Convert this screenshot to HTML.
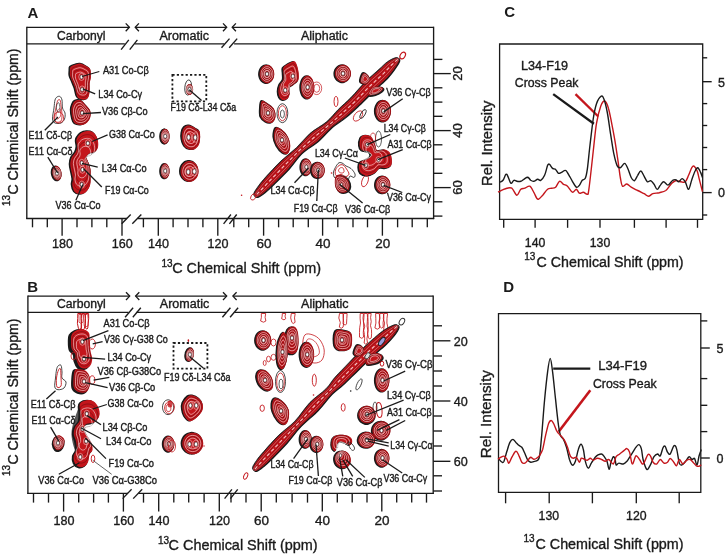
<!DOCTYPE html><html><head><meta charset="utf-8"><style>html,body{margin:0;padding:0;background:#fff;width:726px;height:554px;overflow:hidden}svg{display:block;will-change:transform}</style></head><body><svg width="726" height="554" viewBox="0 0 726 554" font-family="Liberation Sans, sans-serif">
<rect width="726" height="554" fill="#fff"/>
<text x="27.5" y="18.0" font-size="15" text-anchor="start" font-weight="bold" fill="#1a1a1a">A</text>
<line x1="26.8" y1="27.3" x2="129.4" y2="27.3" stroke="#1a1a1a" stroke-width="1.35" stroke-linecap="butt"/>
<polyline points="125.7,23.4 129.4,27.3 125.7,31.2" fill="none" stroke="#1a1a1a" stroke-width="1.3"/>
<line x1="135.2" y1="27.3" x2="226.7" y2="27.3" stroke="#1a1a1a" stroke-width="1.35" stroke-linecap="butt"/>
<polyline points="138.9,23.4 135.2,27.3 138.9,31.2" fill="none" stroke="#1a1a1a" stroke-width="1.3"/>
<polyline points="223.0,23.4 226.7,27.3 223.0,31.2" fill="none" stroke="#1a1a1a" stroke-width="1.3"/>
<line x1="232.2" y1="27.3" x2="433.6" y2="27.3" stroke="#1a1a1a" stroke-width="1.35" stroke-linecap="butt"/>
<polyline points="235.9,23.4 232.2,27.3 235.9,31.2" fill="none" stroke="#1a1a1a" stroke-width="1.3"/>
<line x1="26.8" y1="43.8" x2="124.8" y2="43.8" stroke="#1a1a1a" stroke-width="1.35" stroke-linecap="butt"/>
<line x1="134.6" y1="43.8" x2="224.3" y2="43.8" stroke="#1a1a1a" stroke-width="1.35" stroke-linecap="butt"/>
<line x1="234.1" y1="43.8" x2="433.6" y2="43.8" stroke="#1a1a1a" stroke-width="1.35" stroke-linecap="butt"/>
<line x1="121.1" y1="49.6" x2="128.8" y2="39.8" stroke="#1a1a1a" stroke-width="1.35" stroke-linecap="butt"/>
<line x1="129.7" y1="49.6" x2="137.4" y2="39.8" stroke="#1a1a1a" stroke-width="1.35" stroke-linecap="butt"/>
<line x1="221.5" y1="47.8" x2="229.5" y2="38.6" stroke="#1a1a1a" stroke-width="1.35" stroke-linecap="butt"/>
<line x1="229.2" y1="47.8" x2="237.2" y2="38.6" stroke="#1a1a1a" stroke-width="1.35" stroke-linecap="butt"/>
<line x1="26.8" y1="26.7" x2="26.8" y2="219.1" stroke="#1a1a1a" stroke-width="1.35" stroke-linecap="butt"/>
<line x1="433.6" y1="26.7" x2="433.6" y2="219.1" stroke="#1a1a1a" stroke-width="1.35" stroke-linecap="butt"/>
<text x="57.0" y="39.7" font-size="12" text-anchor="start" font-weight="normal" fill="#1a1a1a" stroke="#1a1a1a" stroke-width="0.35" textLength="48.5" lengthAdjust="spacingAndGlyphs">Carbonyl</text>
<text x="159.5" y="39.7" font-size="12" text-anchor="start" font-weight="normal" fill="#1a1a1a" stroke="#1a1a1a" stroke-width="0.35" textLength="49.5" lengthAdjust="spacingAndGlyphs">Aromatic</text>
<text x="301.0" y="39.7" font-size="12" text-anchor="start" font-weight="normal" fill="#1a1a1a" stroke="#1a1a1a" stroke-width="0.35" textLength="47.0" lengthAdjust="spacingAndGlyphs">Aliphatic</text>
<line x1="26.2" y1="218.5" x2="127.0" y2="218.5" stroke="#1a1a1a" stroke-width="1.35" stroke-linecap="butt"/>
<line x1="137.6" y1="218.5" x2="434.2" y2="218.5" stroke="#1a1a1a" stroke-width="1.35" stroke-linecap="butt"/>
<line x1="121.7" y1="223.8" x2="130.7" y2="214.5" stroke="#1a1a1a" stroke-width="1.35" stroke-linecap="butt"/>
<line x1="132.3" y1="223.8" x2="141.3" y2="214.5" stroke="#1a1a1a" stroke-width="1.35" stroke-linecap="butt"/>
<line x1="223.6" y1="223.8" x2="230.9" y2="214.5" stroke="#1a1a1a" stroke-width="1.35" stroke-linecap="butt"/>
<line x1="229.4" y1="223.8" x2="236.7" y2="214.5" stroke="#1a1a1a" stroke-width="1.35" stroke-linecap="butt"/>
<line x1="32.5" y1="218.5" x2="32.5" y2="227.3" stroke="#1a1a1a" stroke-width="1.35" stroke-linecap="butt"/>
<line x1="47.3" y1="218.5" x2="47.3" y2="227.3" stroke="#1a1a1a" stroke-width="1.35" stroke-linecap="butt"/>
<line x1="77.0" y1="218.5" x2="77.0" y2="227.3" stroke="#1a1a1a" stroke-width="1.35" stroke-linecap="butt"/>
<line x1="91.9" y1="218.5" x2="91.9" y2="227.3" stroke="#1a1a1a" stroke-width="1.35" stroke-linecap="butt"/>
<line x1="106.8" y1="218.5" x2="106.8" y2="227.3" stroke="#1a1a1a" stroke-width="1.35" stroke-linecap="butt"/>
<line x1="143.4" y1="218.5" x2="143.4" y2="227.3" stroke="#1a1a1a" stroke-width="1.35" stroke-linecap="butt"/>
<line x1="173.1" y1="218.5" x2="173.1" y2="227.3" stroke="#1a1a1a" stroke-width="1.35" stroke-linecap="butt"/>
<line x1="188.0" y1="218.5" x2="188.0" y2="227.3" stroke="#1a1a1a" stroke-width="1.35" stroke-linecap="butt"/>
<line x1="202.9" y1="218.5" x2="202.9" y2="227.3" stroke="#1a1a1a" stroke-width="1.35" stroke-linecap="butt"/>
<line x1="233.8" y1="218.5" x2="233.8" y2="227.3" stroke="#1a1a1a" stroke-width="1.35" stroke-linecap="butt"/>
<line x1="248.7" y1="218.5" x2="248.7" y2="227.3" stroke="#1a1a1a" stroke-width="1.35" stroke-linecap="butt"/>
<line x1="278.6" y1="218.5" x2="278.6" y2="227.3" stroke="#1a1a1a" stroke-width="1.35" stroke-linecap="butt"/>
<line x1="293.2" y1="218.5" x2="293.2" y2="227.3" stroke="#1a1a1a" stroke-width="1.35" stroke-linecap="butt"/>
<line x1="308.3" y1="218.5" x2="308.3" y2="227.3" stroke="#1a1a1a" stroke-width="1.35" stroke-linecap="butt"/>
<line x1="337.8" y1="218.5" x2="337.8" y2="227.3" stroke="#1a1a1a" stroke-width="1.35" stroke-linecap="butt"/>
<line x1="353.0" y1="218.5" x2="353.0" y2="227.3" stroke="#1a1a1a" stroke-width="1.35" stroke-linecap="butt"/>
<line x1="367.5" y1="218.5" x2="367.5" y2="227.3" stroke="#1a1a1a" stroke-width="1.35" stroke-linecap="butt"/>
<line x1="397.6" y1="218.5" x2="397.6" y2="227.3" stroke="#1a1a1a" stroke-width="1.35" stroke-linecap="butt"/>
<line x1="412.2" y1="218.5" x2="412.2" y2="227.3" stroke="#1a1a1a" stroke-width="1.35" stroke-linecap="butt"/>
<line x1="427.3" y1="218.5" x2="427.3" y2="227.3" stroke="#1a1a1a" stroke-width="1.35" stroke-linecap="butt"/>
<line x1="62.1" y1="218.5" x2="62.1" y2="235.7" stroke="#1a1a1a" stroke-width="1.35" stroke-linecap="butt"/>
<text x="62.4" y="248.4" font-size="13" text-anchor="middle" font-weight="normal" fill="#1a1a1a" stroke="#1a1a1a" stroke-width="0.35" textLength="21.0" lengthAdjust="spacingAndGlyphs">180</text>
<line x1="122.0" y1="218.5" x2="122.0" y2="235.7" stroke="#1a1a1a" stroke-width="1.35" stroke-linecap="butt"/>
<text x="122.3" y="248.4" font-size="13" text-anchor="middle" font-weight="normal" fill="#1a1a1a" stroke="#1a1a1a" stroke-width="0.35" textLength="21.0" lengthAdjust="spacingAndGlyphs">160</text>
<line x1="158.3" y1="218.5" x2="158.3" y2="235.7" stroke="#1a1a1a" stroke-width="1.35" stroke-linecap="butt"/>
<text x="158.6" y="248.4" font-size="13" text-anchor="middle" font-weight="normal" fill="#1a1a1a" stroke="#1a1a1a" stroke-width="0.35" textLength="21.0" lengthAdjust="spacingAndGlyphs">140</text>
<line x1="217.8" y1="218.5" x2="217.8" y2="235.7" stroke="#1a1a1a" stroke-width="1.35" stroke-linecap="butt"/>
<text x="218.1" y="248.4" font-size="13" text-anchor="middle" font-weight="normal" fill="#1a1a1a" stroke="#1a1a1a" stroke-width="0.35" textLength="21.0" lengthAdjust="spacingAndGlyphs">120</text>
<line x1="263.6" y1="218.5" x2="263.6" y2="235.7" stroke="#1a1a1a" stroke-width="1.35" stroke-linecap="butt"/>
<text x="263.9" y="248.4" font-size="13" text-anchor="middle" font-weight="normal" fill="#1a1a1a" stroke="#1a1a1a" stroke-width="0.35" textLength="15.0" lengthAdjust="spacingAndGlyphs">60</text>
<line x1="322.6" y1="218.5" x2="322.6" y2="235.7" stroke="#1a1a1a" stroke-width="1.35" stroke-linecap="butt"/>
<text x="322.9" y="248.4" font-size="13" text-anchor="middle" font-weight="normal" fill="#1a1a1a" stroke="#1a1a1a" stroke-width="0.35" textLength="15.0" lengthAdjust="spacingAndGlyphs">40</text>
<line x1="382.4" y1="218.5" x2="382.4" y2="235.7" stroke="#1a1a1a" stroke-width="1.35" stroke-linecap="butt"/>
<text x="382.7" y="248.4" font-size="13" text-anchor="middle" font-weight="normal" fill="#1a1a1a" stroke="#1a1a1a" stroke-width="0.35" textLength="15.0" lengthAdjust="spacingAndGlyphs">20</text>
<text x="161.5" y="266.7" font-size="10" text-anchor="start" font-weight="normal" fill="#1a1a1a" stroke="#1a1a1a" stroke-width="0.35">13</text>
<text x="172.2" y="273.0" font-size="14.8" text-anchor="start" font-weight="normal" fill="#1a1a1a" stroke="#1a1a1a" stroke-width="0.35" textLength="149.0" lengthAdjust="spacingAndGlyphs">C Chemical Shift (ppm)</text>
<line x1="433.6" y1="59.4" x2="442.4" y2="59.4" stroke="#1a1a1a" stroke-width="1.35" stroke-linecap="butt"/>
<line x1="433.6" y1="87.8" x2="442.4" y2="87.8" stroke="#1a1a1a" stroke-width="1.35" stroke-linecap="butt"/>
<line x1="433.6" y1="102.1" x2="442.4" y2="102.1" stroke="#1a1a1a" stroke-width="1.35" stroke-linecap="butt"/>
<line x1="433.6" y1="116.3" x2="442.4" y2="116.3" stroke="#1a1a1a" stroke-width="1.35" stroke-linecap="butt"/>
<line x1="433.6" y1="144.8" x2="442.4" y2="144.8" stroke="#1a1a1a" stroke-width="1.35" stroke-linecap="butt"/>
<line x1="433.6" y1="159.1" x2="442.4" y2="159.1" stroke="#1a1a1a" stroke-width="1.35" stroke-linecap="butt"/>
<line x1="433.6" y1="173.3" x2="442.4" y2="173.3" stroke="#1a1a1a" stroke-width="1.35" stroke-linecap="butt"/>
<line x1="433.6" y1="201.8" x2="442.4" y2="201.8" stroke="#1a1a1a" stroke-width="1.35" stroke-linecap="butt"/>
<line x1="433.6" y1="216.1" x2="442.4" y2="216.1" stroke="#1a1a1a" stroke-width="1.35" stroke-linecap="butt"/>
<line x1="433.6" y1="73.6" x2="450.8" y2="73.6" stroke="#1a1a1a" stroke-width="1.35" stroke-linecap="butt"/>
<text x="462.3" y="73.6" font-size="13" text-anchor="middle" font-weight="normal" fill="#1a1a1a" stroke="#1a1a1a" stroke-width="0.35" textLength="14.5" lengthAdjust="spacingAndGlyphs" transform="rotate(-90 462.3 73.6)">20</text>
<line x1="433.6" y1="130.6" x2="450.8" y2="130.6" stroke="#1a1a1a" stroke-width="1.35" stroke-linecap="butt"/>
<text x="462.3" y="130.6" font-size="13" text-anchor="middle" font-weight="normal" fill="#1a1a1a" stroke="#1a1a1a" stroke-width="0.35" textLength="14.5" lengthAdjust="spacingAndGlyphs" transform="rotate(-90 462.3 130.6)">40</text>
<line x1="433.6" y1="187.6" x2="450.8" y2="187.6" stroke="#1a1a1a" stroke-width="1.35" stroke-linecap="butt"/>
<text x="462.3" y="187.6" font-size="13" text-anchor="middle" font-weight="normal" fill="#1a1a1a" stroke="#1a1a1a" stroke-width="0.35" textLength="14.5" lengthAdjust="spacingAndGlyphs" transform="rotate(-90 462.3 187.6)">60</text>
<text x="10.2" y="206.0" font-size="10" text-anchor="start" font-weight="normal" fill="#1a1a1a" stroke="#1a1a1a" stroke-width="0.35" transform="rotate(-90 10.2 206.0)">13</text>
<text x="17.8" y="194.5" font-size="14.8" text-anchor="start" font-weight="normal" fill="#1a1a1a" stroke="#1a1a1a" stroke-width="0.35" textLength="146.0" lengthAdjust="spacingAndGlyphs" transform="rotate(-90 17.8 194.5)">C Chemical Shift (ppm)</text>
<text x="27.3" y="291.6" font-size="15" text-anchor="start" font-weight="bold" fill="#1a1a1a">B</text>
<line x1="27.9" y1="296.1" x2="129.7" y2="296.1" stroke="#1a1a1a" stroke-width="1.35" stroke-linecap="butt"/>
<polyline points="126.0,292.2 129.7,296.1 126.0,300.0" fill="none" stroke="#1a1a1a" stroke-width="1.3"/>
<line x1="135.6" y1="296.1" x2="226.7" y2="296.1" stroke="#1a1a1a" stroke-width="1.35" stroke-linecap="butt"/>
<polyline points="139.3,292.2 135.6,296.1 139.3,300.0" fill="none" stroke="#1a1a1a" stroke-width="1.3"/>
<polyline points="223.0,292.2 226.7,296.1 223.0,300.0" fill="none" stroke="#1a1a1a" stroke-width="1.3"/>
<line x1="232.9" y1="296.1" x2="433.2" y2="296.1" stroke="#1a1a1a" stroke-width="1.35" stroke-linecap="butt"/>
<polyline points="236.6,292.2 232.9,296.1 236.6,300.0" fill="none" stroke="#1a1a1a" stroke-width="1.3"/>
<line x1="27.9" y1="312.3" x2="128.5" y2="312.3" stroke="#1a1a1a" stroke-width="1.35" stroke-linecap="butt"/>
<line x1="136.2" y1="312.3" x2="226.1" y2="312.3" stroke="#1a1a1a" stroke-width="1.35" stroke-linecap="butt"/>
<line x1="234.4" y1="312.3" x2="433.2" y2="312.3" stroke="#1a1a1a" stroke-width="1.35" stroke-linecap="butt"/>
<line x1="125.1" y1="317.2" x2="133.1" y2="307.7" stroke="#1a1a1a" stroke-width="1.35" stroke-linecap="butt"/>
<line x1="132.8" y1="317.2" x2="140.8" y2="307.7" stroke="#1a1a1a" stroke-width="1.35" stroke-linecap="butt"/>
<line x1="222.4" y1="317.2" x2="230.4" y2="307.7" stroke="#1a1a1a" stroke-width="1.35" stroke-linecap="butt"/>
<line x1="230.1" y1="317.2" x2="238.1" y2="307.7" stroke="#1a1a1a" stroke-width="1.35" stroke-linecap="butt"/>
<line x1="27.9" y1="295.5" x2="27.9" y2="493.9" stroke="#1a1a1a" stroke-width="1.35" stroke-linecap="butt"/>
<line x1="433.2" y1="295.5" x2="433.2" y2="493.9" stroke="#1a1a1a" stroke-width="1.35" stroke-linecap="butt"/>
<text x="57.0" y="307.9" font-size="12" text-anchor="start" font-weight="normal" fill="#1a1a1a" stroke="#1a1a1a" stroke-width="0.35" textLength="48.8" lengthAdjust="spacingAndGlyphs">Carbonyl</text>
<text x="159.8" y="307.9" font-size="12" text-anchor="start" font-weight="normal" fill="#1a1a1a" stroke="#1a1a1a" stroke-width="0.35" textLength="49.5" lengthAdjust="spacingAndGlyphs">Aromatic</text>
<text x="301.0" y="307.9" font-size="12" text-anchor="start" font-weight="normal" fill="#1a1a1a" stroke="#1a1a1a" stroke-width="0.35" textLength="47.5" lengthAdjust="spacingAndGlyphs">Aliphatic</text>
<line x1="27.3" y1="493.3" x2="128.0" y2="493.3" stroke="#1a1a1a" stroke-width="1.35" stroke-linecap="butt"/>
<line x1="138.5" y1="493.3" x2="433.8" y2="493.3" stroke="#1a1a1a" stroke-width="1.35" stroke-linecap="butt"/>
<line x1="122.6" y1="498.6" x2="131.6" y2="489.3" stroke="#1a1a1a" stroke-width="1.35" stroke-linecap="butt"/>
<line x1="133.2" y1="498.6" x2="142.2" y2="489.3" stroke="#1a1a1a" stroke-width="1.35" stroke-linecap="butt"/>
<line x1="224.6" y1="498.6" x2="231.9" y2="489.3" stroke="#1a1a1a" stroke-width="1.35" stroke-linecap="butt"/>
<line x1="230.4" y1="498.6" x2="237.7" y2="489.3" stroke="#1a1a1a" stroke-width="1.35" stroke-linecap="butt"/>
<line x1="33.5" y1="493.3" x2="33.5" y2="502.6" stroke="#1a1a1a" stroke-width="1.35" stroke-linecap="butt"/>
<line x1="48.5" y1="493.3" x2="48.5" y2="502.6" stroke="#1a1a1a" stroke-width="1.35" stroke-linecap="butt"/>
<line x1="78.7" y1="493.3" x2="78.7" y2="502.6" stroke="#1a1a1a" stroke-width="1.35" stroke-linecap="butt"/>
<line x1="93.6" y1="493.3" x2="93.6" y2="502.6" stroke="#1a1a1a" stroke-width="1.35" stroke-linecap="butt"/>
<line x1="108.4" y1="493.3" x2="108.4" y2="502.6" stroke="#1a1a1a" stroke-width="1.35" stroke-linecap="butt"/>
<line x1="143.5" y1="493.3" x2="143.5" y2="502.6" stroke="#1a1a1a" stroke-width="1.35" stroke-linecap="butt"/>
<line x1="173.8" y1="493.3" x2="173.8" y2="502.6" stroke="#1a1a1a" stroke-width="1.35" stroke-linecap="butt"/>
<line x1="188.7" y1="493.3" x2="188.7" y2="502.6" stroke="#1a1a1a" stroke-width="1.35" stroke-linecap="butt"/>
<line x1="204.1" y1="493.3" x2="204.1" y2="502.6" stroke="#1a1a1a" stroke-width="1.35" stroke-linecap="butt"/>
<line x1="231.0" y1="493.3" x2="231.0" y2="502.6" stroke="#1a1a1a" stroke-width="1.35" stroke-linecap="butt"/>
<line x1="246.0" y1="493.3" x2="246.0" y2="502.6" stroke="#1a1a1a" stroke-width="1.35" stroke-linecap="butt"/>
<line x1="276.3" y1="493.3" x2="276.3" y2="502.6" stroke="#1a1a1a" stroke-width="1.35" stroke-linecap="butt"/>
<line x1="292.1" y1="493.3" x2="292.1" y2="502.6" stroke="#1a1a1a" stroke-width="1.35" stroke-linecap="butt"/>
<line x1="307.5" y1="493.3" x2="307.5" y2="502.6" stroke="#1a1a1a" stroke-width="1.35" stroke-linecap="butt"/>
<line x1="337.3" y1="493.3" x2="337.3" y2="502.6" stroke="#1a1a1a" stroke-width="1.35" stroke-linecap="butt"/>
<line x1="352.2" y1="493.3" x2="352.2" y2="502.6" stroke="#1a1a1a" stroke-width="1.35" stroke-linecap="butt"/>
<line x1="367.0" y1="493.3" x2="367.0" y2="502.6" stroke="#1a1a1a" stroke-width="1.35" stroke-linecap="butt"/>
<line x1="396.7" y1="493.3" x2="396.7" y2="502.6" stroke="#1a1a1a" stroke-width="1.35" stroke-linecap="butt"/>
<line x1="411.7" y1="493.3" x2="411.7" y2="502.6" stroke="#1a1a1a" stroke-width="1.35" stroke-linecap="butt"/>
<line x1="426.5" y1="493.3" x2="426.5" y2="502.6" stroke="#1a1a1a" stroke-width="1.35" stroke-linecap="butt"/>
<line x1="63.6" y1="493.3" x2="63.6" y2="511.6" stroke="#1a1a1a" stroke-width="1.35" stroke-linecap="butt"/>
<text x="63.9" y="525.0" font-size="13" text-anchor="middle" font-weight="normal" fill="#1a1a1a" stroke="#1a1a1a" stroke-width="0.35" textLength="21.0" lengthAdjust="spacingAndGlyphs">180</text>
<line x1="123.4" y1="493.3" x2="123.4" y2="511.6" stroke="#1a1a1a" stroke-width="1.35" stroke-linecap="butt"/>
<text x="123.7" y="525.0" font-size="13" text-anchor="middle" font-weight="normal" fill="#1a1a1a" stroke="#1a1a1a" stroke-width="0.35" textLength="21.0" lengthAdjust="spacingAndGlyphs">160</text>
<line x1="158.7" y1="493.3" x2="158.7" y2="511.6" stroke="#1a1a1a" stroke-width="1.35" stroke-linecap="butt"/>
<text x="159.0" y="525.0" font-size="13" text-anchor="middle" font-weight="normal" fill="#1a1a1a" stroke="#1a1a1a" stroke-width="0.35" textLength="21.0" lengthAdjust="spacingAndGlyphs">140</text>
<line x1="219.3" y1="493.3" x2="219.3" y2="511.6" stroke="#1a1a1a" stroke-width="1.35" stroke-linecap="butt"/>
<text x="219.6" y="525.0" font-size="13" text-anchor="middle" font-weight="normal" fill="#1a1a1a" stroke="#1a1a1a" stroke-width="0.35" textLength="21.0" lengthAdjust="spacingAndGlyphs">120</text>
<line x1="261.2" y1="493.3" x2="261.2" y2="511.6" stroke="#1a1a1a" stroke-width="1.35" stroke-linecap="butt"/>
<text x="261.5" y="525.0" font-size="13" text-anchor="middle" font-weight="normal" fill="#1a1a1a" stroke="#1a1a1a" stroke-width="0.35" textLength="15.0" lengthAdjust="spacingAndGlyphs">60</text>
<line x1="322.3" y1="493.3" x2="322.3" y2="511.6" stroke="#1a1a1a" stroke-width="1.35" stroke-linecap="butt"/>
<text x="322.6" y="525.0" font-size="13" text-anchor="middle" font-weight="normal" fill="#1a1a1a" stroke="#1a1a1a" stroke-width="0.35" textLength="15.0" lengthAdjust="spacingAndGlyphs">40</text>
<line x1="381.8" y1="493.3" x2="381.8" y2="511.6" stroke="#1a1a1a" stroke-width="1.35" stroke-linecap="butt"/>
<text x="382.1" y="525.0" font-size="13" text-anchor="middle" font-weight="normal" fill="#1a1a1a" stroke="#1a1a1a" stroke-width="0.35" textLength="15.0" lengthAdjust="spacingAndGlyphs">20</text>
<text x="157.9" y="543.9" font-size="10" text-anchor="start" font-weight="normal" fill="#1a1a1a" stroke="#1a1a1a" stroke-width="0.35">13</text>
<text x="168.6" y="550.2" font-size="14.8" text-anchor="start" font-weight="normal" fill="#1a1a1a" stroke="#1a1a1a" stroke-width="0.35" textLength="149.0" lengthAdjust="spacingAndGlyphs">C Chemical Shift (ppm)</text>
<line x1="433.2" y1="325.8" x2="442.0" y2="325.8" stroke="#1a1a1a" stroke-width="1.35" stroke-linecap="butt"/>
<line x1="433.2" y1="356.0" x2="442.0" y2="356.0" stroke="#1a1a1a" stroke-width="1.35" stroke-linecap="butt"/>
<line x1="433.2" y1="371.0" x2="442.0" y2="371.0" stroke="#1a1a1a" stroke-width="1.35" stroke-linecap="butt"/>
<line x1="433.2" y1="386.0" x2="442.0" y2="386.0" stroke="#1a1a1a" stroke-width="1.35" stroke-linecap="butt"/>
<line x1="433.2" y1="416.0" x2="442.0" y2="416.0" stroke="#1a1a1a" stroke-width="1.35" stroke-linecap="butt"/>
<line x1="433.2" y1="431.0" x2="442.0" y2="431.0" stroke="#1a1a1a" stroke-width="1.35" stroke-linecap="butt"/>
<line x1="433.2" y1="446.0" x2="442.0" y2="446.0" stroke="#1a1a1a" stroke-width="1.35" stroke-linecap="butt"/>
<line x1="433.2" y1="475.8" x2="442.0" y2="475.8" stroke="#1a1a1a" stroke-width="1.35" stroke-linecap="butt"/>
<line x1="433.2" y1="491.0" x2="442.0" y2="491.0" stroke="#1a1a1a" stroke-width="1.35" stroke-linecap="butt"/>
<line x1="433.2" y1="340.8" x2="450.4" y2="340.8" stroke="#1a1a1a" stroke-width="1.35" stroke-linecap="butt"/>
<text x="453.8" y="345.5" font-size="13" text-anchor="start" font-weight="normal" fill="#1a1a1a" stroke="#1a1a1a" stroke-width="0.35" textLength="14.0" lengthAdjust="spacingAndGlyphs">20</text>
<line x1="433.2" y1="401.0" x2="450.4" y2="401.0" stroke="#1a1a1a" stroke-width="1.35" stroke-linecap="butt"/>
<text x="453.8" y="405.7" font-size="13" text-anchor="start" font-weight="normal" fill="#1a1a1a" stroke="#1a1a1a" stroke-width="0.35" textLength="14.0" lengthAdjust="spacingAndGlyphs">40</text>
<line x1="433.2" y1="461.3" x2="450.4" y2="461.3" stroke="#1a1a1a" stroke-width="1.35" stroke-linecap="butt"/>
<text x="453.8" y="466.0" font-size="13" text-anchor="start" font-weight="normal" fill="#1a1a1a" stroke="#1a1a1a" stroke-width="0.35" textLength="14.0" lengthAdjust="spacingAndGlyphs">60</text>
<text x="10.2" y="476.0" font-size="10" text-anchor="start" font-weight="normal" fill="#1a1a1a" stroke="#1a1a1a" stroke-width="0.35" transform="rotate(-90 10.2 476.0)">13</text>
<text x="17.8" y="464.5" font-size="14.8" text-anchor="start" font-weight="normal" fill="#1a1a1a" stroke="#1a1a1a" stroke-width="0.35" textLength="146.0" lengthAdjust="spacingAndGlyphs" transform="rotate(-90 17.8 464.5)">C Chemical Shift (ppm)</text>
<path d="M70.7 66.8 C71.8 65.8 74.7 64.8 76.4 64.3 C78.1 63.8 79.1 63.4 80.8 63.7 C82.5 64.0 84.9 65.2 86.5 66.2 C88.1 67.2 89.6 67.6 90.3 69.4 C91.0 71.2 91.0 74.6 90.9 76.9 C90.8 79.2 89.9 80.9 89.7 83.2 C89.5 85.5 89.9 88.5 89.7 90.8 C89.5 93.1 89.2 95.6 88.4 97.1 C87.7 98.6 86.6 99.3 85.2 99.6 C83.8 99.9 81.6 99.6 80.2 99.0 C78.8 98.4 77.8 97.7 77.0 95.9 C76.2 94.1 75.8 90.6 75.1 88.3 C74.4 86.0 73.4 84.1 72.6 82.0 C71.8 79.9 70.5 77.6 70.1 75.7 C69.7 73.8 70.0 72.1 70.1 70.6 C70.2 69.1 69.7 67.8 70.7 66.8Z" transform="translate(-0.9 -0.2)" fill="#1a1a1a" stroke="#1a1a1a" stroke-width="1.4"/>
<path d="M70.7 66.8 C71.8 65.8 74.7 64.8 76.4 64.3 C78.1 63.8 79.1 63.4 80.8 63.7 C82.5 64.0 84.9 65.2 86.5 66.2 C88.1 67.2 89.6 67.6 90.3 69.4 C91.0 71.2 91.0 74.6 90.9 76.9 C90.8 79.2 89.9 80.9 89.7 83.2 C89.5 85.5 89.9 88.5 89.7 90.8 C89.5 93.1 89.2 95.6 88.4 97.1 C87.7 98.6 86.6 99.3 85.2 99.6 C83.8 99.9 81.6 99.6 80.2 99.0 C78.8 98.4 77.8 97.7 77.0 95.9 C76.2 94.1 75.8 90.6 75.1 88.3 C74.4 86.0 73.4 84.1 72.6 82.0 C71.8 79.9 70.5 77.6 70.1 75.7 C69.7 73.8 70.0 72.1 70.1 70.6 C70.2 69.1 69.7 67.8 70.7 66.8Z" fill="#c4161c"/>
<path d="M71.9 68.5 C72.8 67.5 75.5 66.7 76.9 66.3 C78.4 65.8 79.3 65.4 80.8 65.7 C82.3 66.0 84.4 67.1 85.8 67.9 C87.2 68.8 88.5 69.2 89.2 70.7 C89.8 72.3 89.8 75.3 89.7 77.3 C89.6 79.4 88.8 80.8 88.6 82.9 C88.5 84.9 88.8 87.5 88.6 89.6 C88.4 91.6 88.2 93.8 87.5 95.1 C86.8 96.4 85.9 97.0 84.7 97.3 C83.5 97.6 81.5 97.3 80.3 96.8 C79.1 96.2 78.2 95.6 77.5 94.1 C76.7 92.5 76.4 89.4 75.8 87.4 C75.1 85.3 74.3 83.7 73.6 81.8 C72.9 80.0 71.8 78.0 71.4 76.3 C71.0 74.6 71.3 73.1 71.4 71.8 C71.5 70.5 71.0 69.4 71.9 68.5Z" fill="none" stroke="#1a0304" stroke-width="0.45" opacity="0.65"/>
<path d="M73.1 70.1 C73.9 69.3 76.2 68.6 77.5 68.2 C78.7 67.8 79.5 67.5 80.8 67.8 C82.1 68.0 83.9 68.9 85.1 69.7 C86.3 70.4 87.5 70.7 88.0 72.1 C88.6 73.4 88.6 76.0 88.5 77.8 C88.4 79.5 87.7 80.8 87.6 82.6 C87.4 84.3 87.7 86.6 87.6 88.4 C87.4 90.1 87.2 92.0 86.6 93.1 C86.0 94.3 85.2 94.8 84.2 95.0 C83.1 95.3 81.4 95.1 80.4 94.6 C79.3 94.1 78.6 93.6 77.9 92.2 C77.3 90.9 77.0 88.2 76.5 86.5 C75.9 84.7 75.2 83.3 74.6 81.7 C73.9 80.1 73.0 78.3 72.7 76.9 C72.4 75.4 72.6 74.1 72.7 73.0 C72.8 71.9 72.3 70.9 73.1 70.1Z" fill="none" stroke="#fff" stroke-width="0.75" opacity="0.7"/>
<path d="M74.4 71.8 C75.0 71.1 76.9 70.5 78.0 70.2 C79.1 69.8 79.7 69.6 80.8 69.8 C81.9 70.0 83.5 70.8 84.5 71.4 C85.5 72.0 86.4 72.3 86.9 73.4 C87.4 74.6 87.3 76.8 87.3 78.2 C87.2 79.7 86.6 80.8 86.5 82.3 C86.4 83.7 86.7 85.6 86.5 87.1 C86.4 88.6 86.2 90.2 85.7 91.2 C85.2 92.1 84.5 92.6 83.6 92.8 C82.8 93.0 81.3 92.8 80.4 92.4 C79.6 92.0 78.9 91.5 78.4 90.4 C77.8 89.2 77.6 87.0 77.2 85.5 C76.7 84.0 76.1 82.8 75.6 81.5 C75.0 80.1 74.2 78.7 74.0 77.5 C73.7 76.2 73.9 75.1 74.0 74.2 C74.0 73.2 73.7 72.4 74.4 71.8Z" fill="none" stroke="#1a0304" stroke-width="0.45" opacity="0.65"/>
<path d="M75.8 73.7 C76.3 73.2 77.8 72.7 78.6 72.4 C79.5 72.2 80.0 72.0 80.8 72.1 C81.7 72.3 82.9 72.9 83.7 73.4 C84.5 73.9 85.2 74.1 85.6 75.0 C85.9 75.9 85.9 77.6 85.9 78.7 C85.8 79.9 85.4 80.7 85.3 81.9 C85.2 83.1 85.4 84.5 85.3 85.7 C85.2 86.9 85.0 88.1 84.6 88.8 C84.3 89.6 83.7 89.9 83.0 90.1 C82.3 90.3 81.2 90.1 80.5 89.8 C79.8 89.5 79.4 89.1 78.9 88.2 C78.5 87.4 78.3 85.6 78.0 84.4 C77.6 83.3 77.1 82.3 76.7 81.3 C76.3 80.2 75.7 79.1 75.5 78.1 C75.3 77.2 75.4 76.3 75.5 75.6 C75.5 74.9 75.3 74.2 75.8 73.7Z" fill="none" stroke="#fff" stroke-width="0.75" opacity="0.7"/>
<ellipse cx="81.5" cy="76.9" rx="2.7" ry="3.6" fill="none" stroke="#f2c0c0" stroke-width="0.6"/>
<ellipse cx="81.5" cy="76.9" rx="1.5" ry="2.0" fill="#fff" stroke="#333" stroke-width="0.6"/>
<ellipse cx="82.1" cy="89.5" rx="2.7" ry="3.6" fill="none" stroke="#f2c0c0" stroke-width="0.6"/>
<ellipse cx="82.1" cy="89.5" rx="1.5" ry="2.0" fill="#fff" stroke="#333" stroke-width="0.6"/>
<path d="M75.1 100.9 C76.5 100.2 78.9 99.5 80.8 100.3 C82.7 101.1 84.9 104.2 86.5 106.0 C88.1 107.8 89.7 109.1 90.3 111.0 C90.9 112.9 90.8 115.4 90.3 117.3 C89.8 119.2 88.6 121.1 87.1 122.4 C85.6 123.7 83.5 124.7 81.5 124.9 C79.5 125.1 76.6 124.6 75.1 123.6 C73.6 122.5 73.2 120.9 72.6 118.6 C72.0 116.3 71.4 112.0 71.4 109.7 C71.4 107.4 72.0 106.2 72.6 104.7 C73.2 103.2 73.7 101.6 75.1 100.9Z" transform="translate(-0.9 -0.2)" fill="#1a1a1a" stroke="#1a1a1a" stroke-width="1.4"/>
<path d="M75.1 100.9 C76.5 100.2 78.9 99.5 80.8 100.3 C82.7 101.1 84.9 104.2 86.5 106.0 C88.1 107.8 89.7 109.1 90.3 111.0 C90.9 112.9 90.8 115.4 90.3 117.3 C89.8 119.2 88.6 121.1 87.1 122.4 C85.6 123.7 83.5 124.7 81.5 124.9 C79.5 125.1 76.6 124.6 75.1 123.6 C73.6 122.5 73.2 120.9 72.6 118.6 C72.0 116.3 71.4 112.0 71.4 109.7 C71.4 107.4 72.0 106.2 72.6 104.7 C73.2 103.2 73.7 101.6 75.1 100.9Z" fill="#c4161c"/>
<path d="M75.8 102.1 C77.0 101.4 79.2 100.8 80.9 101.6 C82.6 102.3 84.6 105.1 86.1 106.7 C87.5 108.3 88.9 109.5 89.5 111.2 C90.0 112.9 90.0 115.2 89.5 116.9 C89.0 118.6 87.9 120.3 86.6 121.5 C85.3 122.6 83.4 123.5 81.6 123.7 C79.8 123.9 77.1 123.5 75.8 122.5 C74.5 121.6 74.1 120.1 73.5 118.0 C73.0 115.9 72.5 112.1 72.5 110.0 C72.5 107.9 73.0 106.8 73.5 105.5 C74.1 104.2 74.6 102.8 75.8 102.1Z" fill="none" stroke="#1a0304" stroke-width="0.45" opacity="0.65"/>
<path d="M76.5 103.3 C77.6 102.7 79.5 102.1 81.1 102.8 C82.6 103.5 84.4 106.0 85.6 107.4 C86.9 108.8 88.2 109.9 88.7 111.4 C89.2 112.9 89.1 114.9 88.7 116.4 C88.2 117.9 87.3 119.5 86.1 120.5 C84.9 121.5 83.2 122.3 81.6 122.5 C80.0 122.7 77.7 122.3 76.5 121.5 C75.3 120.6 75.0 119.3 74.5 117.5 C74.0 115.6 73.5 112.2 73.5 110.3 C73.5 108.5 74.0 107.5 74.5 106.3 C75.0 105.2 75.4 103.9 76.5 103.3Z" fill="none" stroke="#fff" stroke-width="0.75" opacity="0.7"/>
<path d="M77.2 104.5 C78.2 104.0 79.9 103.5 81.2 104.1 C82.5 104.7 84.1 106.8 85.2 108.1 C86.3 109.3 87.4 110.3 87.8 111.6 C88.3 112.9 88.2 114.7 87.8 116.0 C87.5 117.3 86.6 118.7 85.6 119.6 C84.6 120.4 83.1 121.2 81.7 121.3 C80.3 121.4 78.2 121.1 77.2 120.4 C76.2 119.7 75.9 118.5 75.4 116.9 C75.0 115.3 74.6 112.3 74.6 110.7 C74.6 109.0 75.0 108.2 75.4 107.2 C75.9 106.1 76.2 105.0 77.2 104.5Z" fill="none" stroke="#1a0304" stroke-width="0.45" opacity="0.65"/>
<path d="M77.9 105.7 C78.7 105.3 80.2 104.8 81.3 105.3 C82.5 105.9 83.8 107.7 84.7 108.8 C85.7 109.8 86.6 110.6 87.0 111.8 C87.4 112.9 87.3 114.4 87.0 115.5 C86.7 116.7 86.0 117.8 85.1 118.6 C84.2 119.4 82.9 120.0 81.7 120.1 C80.5 120.2 78.8 119.9 77.9 119.3 C77.0 118.7 76.8 117.7 76.4 116.3 C76.0 114.9 75.7 112.4 75.7 111.0 C75.7 109.6 76.0 108.9 76.4 108.0 C76.8 107.1 77.1 106.1 77.9 105.7Z" fill="none" stroke="#fff" stroke-width="0.75" opacity="0.7"/>
<path d="M78.6 106.9 C79.3 106.5 80.5 106.2 81.4 106.6 C82.4 107.0 83.5 108.6 84.3 109.5 C85.1 110.3 85.9 111.0 86.2 112.0 C86.5 112.9 86.5 114.1 86.2 115.1 C85.9 116.0 85.3 117.0 84.6 117.7 C83.9 118.3 82.8 118.8 81.8 118.9 C80.8 119.0 79.3 118.8 78.6 118.2 C77.9 117.7 77.7 116.9 77.3 115.8 C77.0 114.6 76.8 112.5 76.8 111.3 C76.8 110.1 77.0 109.5 77.3 108.8 C77.7 108.1 77.9 107.3 78.6 106.9Z" fill="none" stroke="#1a0304" stroke-width="0.45" opacity="0.65"/>
<path d="M79.3 108.1 C79.8 107.8 80.8 107.5 81.6 107.9 C82.3 108.2 83.2 109.4 83.9 110.1 C84.5 110.9 85.1 111.4 85.4 112.1 C85.6 112.9 85.6 113.9 85.4 114.7 C85.2 115.4 84.7 116.2 84.1 116.7 C83.5 117.2 82.7 117.6 81.9 117.7 C81.1 117.8 79.9 117.6 79.3 117.2 C78.7 116.8 78.5 116.1 78.3 115.2 C78.1 114.3 77.8 112.5 77.8 111.6 C77.8 110.7 78.1 110.2 78.3 109.6 C78.5 109.0 78.8 108.4 79.3 108.1Z" fill="none" stroke="#fff" stroke-width="0.75" opacity="0.7"/>
<path d="M80.0 109.3 C80.4 109.1 81.1 108.9 81.7 109.1 C82.3 109.4 82.9 110.3 83.4 110.8 C83.9 111.4 84.4 111.8 84.6 112.3 C84.8 112.9 84.7 113.7 84.6 114.2 C84.4 114.8 84.0 115.4 83.6 115.8 C83.2 116.1 82.5 116.4 81.9 116.5 C81.3 116.6 80.4 116.4 80.0 116.1 C79.6 115.8 79.4 115.3 79.2 114.6 C79.1 113.9 78.9 112.6 78.9 111.9 C78.9 111.2 79.1 110.9 79.2 110.4 C79.4 110.0 79.6 109.5 80.0 109.3Z" fill="none" stroke="#1a0304" stroke-width="0.45" opacity="0.65"/>
<ellipse cx="82.1" cy="112.9" rx="2.7" ry="3.6" fill="none" stroke="#f2c0c0" stroke-width="0.6"/>
<ellipse cx="82.1" cy="112.9" rx="1.5" ry="2.0" fill="#fff" stroke="#333" stroke-width="0.6"/>
<path d="M57.0 97.0 C57.8 96.4 59.2 96.0 60.0 96.5 C60.8 97.0 61.6 98.1 62.0 100.0 C62.4 101.9 62.0 105.8 62.5 108.0 C63.0 110.2 64.7 111.2 65.0 113.0 C65.3 114.8 65.2 117.3 64.5 119.0 C63.8 120.7 62.6 122.3 61.0 123.0 C59.4 123.7 56.4 123.7 55.0 123.0 C53.6 122.3 52.7 121.5 52.5 119.0 C52.3 116.5 53.6 111.2 54.0 108.0 C54.4 104.8 54.5 101.8 55.0 100.0 C55.5 98.2 56.2 97.6 57.0 97.0Z" fill="none" stroke="#1a1a1a" stroke-width="0.8"/>
<path d="M57.5 101.0 C58.2 99.3 59.4 99.2 60.0 100.0 C60.6 100.8 60.7 103.7 61.0 106.0 C61.3 108.3 62.0 111.5 62.0 114.0 C62.0 116.5 62.0 119.7 61.0 121.0 C60.0 122.3 57.2 122.5 56.0 122.0 C54.8 121.5 54.1 120.0 54.0 118.0 C53.9 116.0 54.9 112.8 55.5 110.0 C56.1 107.2 56.8 102.7 57.5 101.0Z" fill="none" stroke="#c4161c" stroke-width="0.8"/>
<path d="M58.0 110.0 C58.7 109.0 59.6 108.0 60.0 109.0 C60.4 110.0 61.0 114.3 60.5 116.0 C60.0 117.7 57.8 119.2 57.0 119.0 C56.2 118.8 55.8 116.5 56.0 115.0 C56.2 113.5 57.3 111.0 58.0 110.0Z" fill="none" stroke="#c4161c" stroke-width="0.7"/>
<path d="M55.0 114.0 C55.8 112.7 57.7 111.8 59.0 112.0 C60.3 112.2 62.3 113.5 63.0 115.0 C63.7 116.5 63.8 119.7 63.0 121.0 C62.2 122.3 59.4 123.2 58.0 123.0 C56.6 122.8 55.0 121.5 54.5 120.0 C54.0 118.5 54.2 115.3 55.0 114.0Z" fill="none" stroke="#c4161c" stroke-width="0.8"/>
<path d="M57.0 104.0 C57.4 103.0 58.5 102.0 59.0 103.0 C59.5 104.0 60.2 108.5 60.0 110.0 C59.8 111.5 58.6 112.2 58.0 112.0 C57.4 111.8 56.7 110.3 56.5 109.0 C56.3 107.7 56.6 105.0 57.0 104.0Z" fill="none" stroke="#1a1a1a" stroke-width="0.6"/>
<path d="M77.1 137.9 C77.9 136.5 79.5 134.2 81.2 133.1 C82.9 132.0 85.2 131.2 87.2 131.1 C89.2 131.0 91.6 131.2 93.3 132.4 C95.0 133.6 96.6 136.1 97.4 138.5 C98.2 140.9 98.5 144.4 98.1 146.7 C97.6 149.0 96.2 151.0 94.7 152.1 C93.2 153.2 90.7 152.5 89.3 153.4 C87.9 154.3 86.7 155.9 86.6 157.5 C86.5 159.1 87.9 160.9 88.6 162.9 C89.3 164.9 90.3 167.4 90.6 169.7 C90.9 172.0 90.6 174.5 90.6 176.5 C90.6 178.5 90.8 180.1 90.6 181.9 C90.4 183.7 90.2 185.5 89.3 187.3 C88.4 189.1 86.8 191.6 85.2 192.7 C83.6 193.8 81.6 194.3 79.8 194.1 C78.0 193.9 75.7 193.0 74.4 191.4 C73.2 189.8 72.5 186.6 72.3 184.6 C72.1 182.6 73.1 181.2 73.0 179.2 C72.9 177.2 72.2 174.9 71.7 172.4 C71.2 169.9 70.3 166.8 70.3 164.3 C70.3 161.8 70.8 159.5 71.7 157.5 C72.6 155.5 74.8 153.9 75.7 152.1 C76.6 150.3 77.0 148.5 77.1 146.7 C77.2 144.9 76.4 142.8 76.4 141.3 C76.4 139.8 76.3 139.3 77.1 137.9Z" transform="translate(-0.9 -0.2)" fill="#1a1a1a" stroke="#1a1a1a" stroke-width="1.4"/>
<path d="M77.1 137.9 C77.9 136.5 79.5 134.2 81.2 133.1 C82.9 132.0 85.2 131.2 87.2 131.1 C89.2 131.0 91.6 131.2 93.3 132.4 C95.0 133.6 96.6 136.1 97.4 138.5 C98.2 140.9 98.5 144.4 98.1 146.7 C97.6 149.0 96.2 151.0 94.7 152.1 C93.2 153.2 90.7 152.5 89.3 153.4 C87.9 154.3 86.7 155.9 86.6 157.5 C86.5 159.1 87.9 160.9 88.6 162.9 C89.3 164.9 90.3 167.4 90.6 169.7 C90.9 172.0 90.6 174.5 90.6 176.5 C90.6 178.5 90.8 180.1 90.6 181.9 C90.4 183.7 90.2 185.5 89.3 187.3 C88.4 189.1 86.8 191.6 85.2 192.7 C83.6 193.8 81.6 194.3 79.8 194.1 C78.0 193.9 75.7 193.0 74.4 191.4 C73.2 189.8 72.5 186.6 72.3 184.6 C72.1 182.6 73.1 181.2 73.0 179.2 C72.9 177.2 72.2 174.9 71.7 172.4 C71.2 169.9 70.3 166.8 70.3 164.3 C70.3 161.8 70.8 159.5 71.7 157.5 C72.6 155.5 74.8 153.9 75.7 152.1 C76.6 150.3 77.0 148.5 77.1 146.7 C77.2 144.9 76.4 142.8 76.4 141.3 C76.4 139.8 76.3 139.3 77.1 137.9Z" fill="#c4161c"/>
<path d="M77.8 140.7 C78.5 139.5 80.0 137.5 81.5 136.5 C82.9 135.5 85.0 134.8 86.7 134.7 C88.5 134.6 90.6 134.8 92.1 135.9 C93.6 137.0 95.0 139.2 95.7 141.3 C96.4 143.4 96.7 146.5 96.3 148.5 C95.9 150.5 94.6 152.2 93.3 153.2 C92.0 154.2 89.8 153.6 88.6 154.4 C87.4 155.2 86.3 156.6 86.2 158.0 C86.1 159.4 87.4 160.9 88.0 162.7 C88.5 164.5 89.4 166.7 89.7 168.7 C90.0 170.7 89.7 172.9 89.7 174.7 C89.7 176.5 89.9 177.9 89.7 179.5 C89.5 181.0 89.4 182.6 88.6 184.2 C87.8 185.8 86.4 188.0 85.0 189.0 C83.6 190.0 81.8 190.4 80.2 190.2 C78.6 190.0 76.6 189.2 75.5 187.8 C74.4 186.4 73.8 183.6 73.6 181.8 C73.4 180.0 74.3 178.9 74.2 177.1 C74.1 175.3 73.5 173.3 73.1 171.1 C72.7 168.9 71.9 166.1 71.9 164.0 C71.9 161.8 72.3 159.8 73.1 158.0 C73.9 156.2 75.8 154.8 76.6 153.2 C77.4 151.6 77.7 150.1 77.8 148.5 C77.9 146.9 77.2 145.0 77.2 143.7 C77.2 142.4 77.1 141.9 77.8 140.7Z" fill="none" stroke="#1a0304" stroke-width="0.45" opacity="0.65"/>
<path d="M78.6 143.6 C79.2 142.5 80.4 140.8 81.7 139.9 C83.0 139.1 84.7 138.5 86.3 138.4 C87.8 138.3 89.6 138.4 90.9 139.4 C92.2 140.3 93.4 142.2 94.0 144.0 C94.6 145.8 94.9 148.5 94.5 150.3 C94.2 152.0 93.1 153.5 92.0 154.4 C90.8 155.2 88.9 154.7 87.9 155.3 C86.8 156.0 85.9 157.3 85.8 158.5 C85.7 159.7 86.8 161.0 87.3 162.6 C87.8 164.1 88.6 166.0 88.8 167.7 C89.1 169.5 88.8 171.4 88.8 172.9 C88.8 174.4 89.0 175.6 88.8 177.0 C88.7 178.4 88.5 179.7 87.9 181.1 C87.2 182.5 85.9 184.3 84.7 185.2 C83.5 186.1 82.0 186.4 80.6 186.3 C79.3 186.1 77.5 185.4 76.5 184.2 C75.6 183.0 75.1 180.6 74.9 179.1 C74.8 177.5 75.5 176.5 75.5 175.0 C75.4 173.4 74.8 171.7 74.5 169.8 C74.1 167.9 73.4 165.5 73.4 163.6 C73.4 161.7 73.8 160.0 74.5 158.5 C75.2 156.9 76.8 155.7 77.5 154.4 C78.2 153.0 78.5 151.6 78.6 150.3 C78.7 148.9 78.1 147.3 78.1 146.1 C78.1 145.0 78.0 144.6 78.6 143.6Z" fill="none" stroke="#fff" stroke-width="0.75" opacity="0.7"/>
<path d="M79.3 146.4 C79.8 145.5 80.9 144.0 82.0 143.3 C83.0 142.6 84.5 142.1 85.8 142.0 C87.1 142.0 88.6 142.1 89.7 142.9 C90.8 143.7 91.8 145.3 92.3 146.8 C92.8 148.3 93.1 150.6 92.8 152.0 C92.5 153.5 91.5 154.8 90.6 155.5 C89.7 156.2 88.0 155.7 87.1 156.3 C86.3 156.9 85.5 157.9 85.4 158.9 C85.3 160.0 86.3 161.1 86.7 162.4 C87.1 163.7 87.8 165.3 88.0 166.7 C88.2 168.2 88.0 169.8 88.0 171.1 C88.0 172.4 88.1 173.4 88.0 174.6 C87.8 175.7 87.7 176.9 87.1 178.0 C86.6 179.2 85.5 180.7 84.5 181.5 C83.5 182.2 82.2 182.5 81.1 182.4 C79.9 182.2 78.4 181.6 77.6 180.6 C76.8 179.6 76.4 177.6 76.3 176.3 C76.1 175.0 76.8 174.1 76.7 172.8 C76.6 171.5 76.2 170.1 75.9 168.5 C75.6 166.9 75.0 164.9 75.0 163.3 C75.0 161.7 75.3 160.2 75.9 158.9 C76.4 157.6 77.9 156.6 78.4 155.5 C79.0 154.3 79.3 153.2 79.3 152.0 C79.4 150.9 78.9 149.5 78.9 148.6 C78.9 147.6 78.8 147.3 79.3 146.4Z" fill="none" stroke="#1a0304" stroke-width="0.45" opacity="0.65"/>
<path d="M80.2 149.7 C80.6 149.0 81.4 147.9 82.2 147.3 C83.1 146.7 84.2 146.4 85.2 146.3 C86.3 146.2 87.4 146.3 88.3 146.9 C89.1 147.6 89.9 148.8 90.3 150.0 C90.7 151.2 90.9 153.0 90.7 154.1 C90.5 155.2 89.7 156.2 89.0 156.8 C88.3 157.4 87.0 157.0 86.3 157.4 C85.6 157.9 85.0 158.7 84.9 159.5 C84.9 160.3 85.6 161.2 85.9 162.2 C86.3 163.2 86.8 164.5 86.9 165.6 C87.1 166.7 86.9 168.0 86.9 169.0 C86.9 170.0 87.1 170.8 86.9 171.7 C86.8 172.6 86.7 173.5 86.3 174.4 C85.8 175.3 85.0 176.5 84.2 177.1 C83.5 177.7 82.4 177.9 81.5 177.8 C80.6 177.7 79.5 177.2 78.8 176.4 C78.2 175.7 77.9 174.1 77.8 173.0 C77.7 172.0 78.2 171.4 78.1 170.3 C78.1 169.3 77.7 168.2 77.5 166.9 C77.3 165.7 76.8 164.1 76.8 162.9 C76.8 161.7 77.0 160.5 77.5 159.5 C77.9 158.5 79.0 157.7 79.5 156.8 C79.9 155.9 80.1 155.0 80.2 154.1 C80.3 153.2 79.8 152.1 79.8 151.4 C79.8 150.7 79.8 150.4 80.2 149.7Z" fill="none" stroke="#fff" stroke-width="0.75" opacity="0.7"/>
<ellipse cx="87.9" cy="143.3" rx="2.7" ry="3.6" fill="none" stroke="#f2c0c0" stroke-width="0.6"/>
<ellipse cx="87.9" cy="143.3" rx="1.5" ry="2.0" fill="#fff" stroke="#333" stroke-width="0.6"/>
<ellipse cx="81.8" cy="162.9" rx="2.7" ry="3.6" fill="none" stroke="#f2c0c0" stroke-width="0.6"/>
<ellipse cx="81.8" cy="162.9" rx="1.5" ry="2.0" fill="#fff" stroke="#333" stroke-width="0.6"/>
<ellipse cx="82.5" cy="169.7" rx="2.7" ry="3.6" fill="none" stroke="#f2c0c0" stroke-width="0.6"/>
<ellipse cx="82.5" cy="169.7" rx="1.5" ry="2.0" fill="#fff" stroke="#333" stroke-width="0.6"/>
<ellipse cx="81.8" cy="184.6" rx="2.7" ry="3.6" fill="none" stroke="#f2c0c0" stroke-width="0.6"/>
<ellipse cx="81.8" cy="184.6" rx="1.5" ry="2.0" fill="#fff" stroke="#333" stroke-width="0.6"/>
<path d="M61.5 172.4 C61.7 173.4 61.7 174.6 61.6 175.6 C61.5 176.5 61.2 177.5 60.8 178.2 C60.4 179.0 59.8 179.6 59.2 179.9 C58.6 180.3 57.9 180.4 57.2 180.3 C56.5 180.2 55.8 179.8 55.2 179.2 C54.5 178.7 53.9 177.9 53.5 177.0 C53.0 176.1 52.7 175.0 52.5 174.0 C52.3 173.0 52.3 171.8 52.4 170.8 C52.5 169.9 52.8 168.9 53.2 168.2 C53.6 167.4 54.2 166.8 54.8 166.5 C55.4 166.1 56.1 166.0 56.8 166.1 C57.5 166.2 58.2 166.6 58.8 167.2 C59.5 167.7 60.1 168.5 60.5 169.4 C61.0 170.3 61.3 171.4 61.5 172.4Z" transform="translate(-0.9 0.2)" fill="#1a1a1a" stroke="#1a1a1a" stroke-width="1.4"/>
<path d="M61.5 172.4 C61.7 173.4 61.7 174.6 61.6 175.6 C61.5 176.5 61.2 177.5 60.8 178.2 C60.4 179.0 59.8 179.6 59.2 179.9 C58.6 180.3 57.9 180.4 57.2 180.3 C56.5 180.2 55.8 179.8 55.2 179.2 C54.5 178.7 53.9 177.9 53.5 177.0 C53.0 176.1 52.7 175.0 52.5 174.0 C52.3 173.0 52.3 171.8 52.4 170.8 C52.5 169.9 52.8 168.9 53.2 168.2 C53.6 167.4 54.2 166.8 54.8 166.5 C55.4 166.1 56.1 166.0 56.8 166.1 C57.5 166.2 58.2 166.6 58.8 167.2 C59.5 167.7 60.1 168.5 60.5 169.4 C61.0 170.3 61.3 171.4 61.5 172.4Z" fill="#c4161c"/>
<path d="M61.1 172.5 C61.2 173.4 61.3 174.4 61.2 175.3 C61.1 176.2 60.8 177.1 60.4 177.7 C60.1 178.4 59.5 179.0 59.0 179.3 C58.5 179.6 57.8 179.7 57.2 179.6 C56.6 179.5 55.9 179.1 55.3 178.6 C54.8 178.1 54.2 177.4 53.8 176.6 C53.4 175.8 53.1 174.8 52.9 173.9 C52.8 173.0 52.7 172.0 52.8 171.1 C52.9 170.2 53.2 169.3 53.6 168.7 C53.9 168.0 54.5 167.4 55.0 167.1 C55.5 166.8 56.2 166.7 56.8 166.8 C57.4 166.9 58.1 167.3 58.7 167.8 C59.2 168.3 59.8 169.0 60.2 169.8 C60.6 170.6 60.9 171.6 61.1 172.5Z" fill="none" stroke="#1a0304" stroke-width="0.45" opacity="0.65"/>
<path d="M60.6 172.6 C60.8 173.4 60.8 174.3 60.7 175.1 C60.6 175.9 60.4 176.7 60.0 177.2 C59.7 177.8 59.3 178.3 58.8 178.6 C58.3 178.9 57.7 179.0 57.2 178.9 C56.6 178.8 56.0 178.5 55.5 178.0 C55.0 177.6 54.5 176.9 54.2 176.2 C53.8 175.5 53.5 174.7 53.4 173.8 C53.2 173.0 53.2 172.1 53.3 171.3 C53.4 170.5 53.6 169.7 54.0 169.2 C54.3 168.6 54.7 168.1 55.2 167.8 C55.7 167.5 56.3 167.4 56.8 167.5 C57.4 167.6 58.0 167.9 58.5 168.4 C59.0 168.8 59.5 169.5 59.8 170.2 C60.2 170.9 60.5 171.7 60.6 172.6Z" fill="none" stroke="#fff" stroke-width="0.75" opacity="0.7"/>
<path d="M60.2 172.6 C60.3 173.4 60.3 174.2 60.2 174.8 C60.2 175.5 59.9 176.2 59.7 176.7 C59.4 177.2 59.0 177.7 58.6 177.9 C58.1 178.2 57.6 178.2 57.1 178.2 C56.7 178.1 56.1 177.8 55.7 177.4 C55.3 177.0 54.8 176.5 54.5 175.9 C54.2 175.2 54.0 174.5 53.8 173.8 C53.7 173.0 53.7 172.2 53.8 171.6 C53.8 170.9 54.1 170.2 54.3 169.7 C54.6 169.2 55.0 168.7 55.4 168.5 C55.9 168.2 56.4 168.2 56.9 168.2 C57.3 168.3 57.9 168.6 58.3 169.0 C58.7 169.4 59.2 169.9 59.5 170.5 C59.8 171.2 60.0 171.9 60.2 172.6Z" fill="none" stroke="#1a0304" stroke-width="0.45" opacity="0.65"/>
<path d="M59.7 172.7 C59.8 173.3 59.8 174.0 59.8 174.6 C59.7 175.2 59.5 175.8 59.3 176.2 C59.0 176.7 58.7 177.0 58.3 177.2 C58.0 177.4 57.5 177.5 57.1 177.5 C56.7 177.4 56.3 177.2 55.9 176.8 C55.5 176.5 55.1 176.0 54.9 175.5 C54.6 175.0 54.4 174.3 54.3 173.7 C54.2 173.1 54.2 172.4 54.2 171.8 C54.3 171.2 54.5 170.6 54.7 170.2 C55.0 169.7 55.3 169.4 55.7 169.2 C56.0 169.0 56.5 168.9 56.9 168.9 C57.3 169.0 57.7 169.2 58.1 169.6 C58.5 169.9 58.9 170.4 59.1 170.9 C59.4 171.4 59.6 172.1 59.7 172.7Z" fill="none" stroke="#fff" stroke-width="0.75" opacity="0.7"/>
<path d="M59.3 172.8 C59.4 173.3 59.4 173.9 59.3 174.4 C59.3 174.9 59.1 175.4 58.9 175.7 C58.7 176.1 58.4 176.4 58.1 176.6 C57.8 176.7 57.4 176.8 57.1 176.7 C56.8 176.7 56.4 176.5 56.1 176.2 C55.8 175.9 55.5 175.5 55.2 175.1 C55.0 174.7 54.8 174.1 54.7 173.6 C54.6 173.1 54.6 172.5 54.7 172.0 C54.7 171.5 54.9 171.0 55.1 170.7 C55.3 170.3 55.6 170.0 55.9 169.8 C56.2 169.7 56.6 169.6 56.9 169.7 C57.2 169.7 57.6 169.9 57.9 170.2 C58.2 170.5 58.5 170.9 58.8 171.3 C59.0 171.7 59.2 172.3 59.3 172.8Z" fill="none" stroke="#1a0304" stroke-width="0.45" opacity="0.65"/>
<path d="M58.8 172.9 C58.9 173.3 58.9 173.8 58.8 174.1 C58.8 174.5 58.7 174.9 58.5 175.2 C58.4 175.5 58.1 175.8 57.9 175.9 C57.7 176.0 57.4 176.1 57.1 176.0 C56.8 176.0 56.5 175.8 56.3 175.6 C56.0 175.4 55.8 175.1 55.6 174.7 C55.4 174.4 55.3 173.9 55.2 173.5 C55.1 173.1 55.1 172.6 55.2 172.3 C55.2 171.9 55.3 171.5 55.5 171.2 C55.6 170.9 55.9 170.6 56.1 170.5 C56.3 170.4 56.6 170.3 56.9 170.4 C57.2 170.4 57.5 170.6 57.7 170.8 C58.0 171.0 58.2 171.3 58.4 171.7 C58.6 172.0 58.7 172.5 58.8 172.9Z" fill="none" stroke="#fff" stroke-width="0.75" opacity="0.7"/>
<path d="M58.4 173.0 C58.4 173.3 58.4 173.6 58.4 173.9 C58.4 174.2 58.3 174.5 58.1 174.7 C58.0 174.9 57.8 175.1 57.7 175.2 C57.5 175.3 57.3 175.4 57.1 175.3 C56.9 175.3 56.6 175.2 56.4 175.0 C56.3 174.8 56.1 174.6 55.9 174.3 C55.8 174.1 55.7 173.7 55.6 173.4 C55.6 173.1 55.6 172.8 55.6 172.5 C55.6 172.2 55.7 171.9 55.9 171.7 C56.0 171.5 56.2 171.3 56.3 171.2 C56.5 171.1 56.7 171.0 56.9 171.1 C57.1 171.1 57.4 171.2 57.6 171.4 C57.7 171.6 57.9 171.8 58.1 172.1 C58.2 172.3 58.3 172.7 58.4 173.0Z" fill="none" stroke="#1a0304" stroke-width="0.45" opacity="0.65"/>
<ellipse cx="57.0" cy="173.2" rx="2.7" ry="3.6" fill="none" stroke="#f2c0c0" stroke-width="0.6"/>
<ellipse cx="57.0" cy="173.2" rx="1.5" ry="2.0" fill="#fff" stroke="#333" stroke-width="0.6"/>
<path d="M169.6 136.3 C169.6 137.4 169.4 138.5 169.2 139.5 C168.9 140.5 168.4 141.4 167.9 142.1 C167.4 142.8 166.8 143.3 166.2 143.5 C165.6 143.8 164.8 143.8 164.2 143.5 C163.6 143.3 163.0 142.8 162.5 142.1 C162.0 141.4 161.5 140.5 161.2 139.5 C161.0 138.5 160.8 137.4 160.8 136.3 C160.8 135.2 161.0 134.1 161.2 133.1 C161.5 132.1 162.0 131.2 162.5 130.5 C163.0 129.8 163.6 129.3 164.2 129.1 C164.8 128.8 165.6 128.8 166.2 129.1 C166.8 129.3 167.4 129.8 167.9 130.5 C168.4 131.2 168.9 132.1 169.2 133.1 C169.4 134.1 169.6 135.2 169.6 136.3Z" transform="translate(-0.9 0.2)" fill="#1a1a1a" stroke="#1a1a1a" stroke-width="1.4"/>
<path d="M169.6 136.3 C169.6 137.4 169.4 138.5 169.2 139.5 C168.9 140.5 168.4 141.4 167.9 142.1 C167.4 142.8 166.8 143.3 166.2 143.5 C165.6 143.8 164.8 143.8 164.2 143.5 C163.6 143.3 163.0 142.8 162.5 142.1 C162.0 141.4 161.5 140.5 161.2 139.5 C161.0 138.5 160.8 137.4 160.8 136.3 C160.8 135.2 161.0 134.1 161.2 133.1 C161.5 132.1 162.0 131.2 162.5 130.5 C163.0 129.8 163.6 129.3 164.2 129.1 C164.8 128.8 165.6 128.8 166.2 129.1 C166.8 129.3 167.4 129.8 167.9 130.5 C168.4 131.2 168.9 132.1 169.2 133.1 C169.4 134.1 169.6 135.2 169.6 136.3Z" fill="#c4161c"/>
<path d="M169.2 136.3 C169.2 137.3 169.0 138.3 168.8 139.2 C168.5 140.1 168.1 140.9 167.7 141.5 C167.2 142.1 166.6 142.6 166.1 142.8 C165.5 143.0 164.9 143.0 164.3 142.8 C163.8 142.6 163.2 142.1 162.7 141.5 C162.3 140.9 161.9 140.1 161.6 139.2 C161.4 138.3 161.2 137.3 161.2 136.3 C161.2 135.3 161.4 134.3 161.6 133.4 C161.9 132.5 162.3 131.7 162.7 131.1 C163.2 130.5 163.8 130.0 164.3 129.8 C164.9 129.6 165.5 129.6 166.1 129.8 C166.6 130.0 167.2 130.5 167.7 131.1 C168.1 131.7 168.5 132.5 168.8 133.4 C169.0 134.3 169.2 135.3 169.2 136.3Z" fill="none" stroke="#1a0304" stroke-width="0.45" opacity="0.65"/>
<path d="M168.7 136.3 C168.7 137.2 168.6 138.1 168.4 138.9 C168.2 139.6 167.8 140.4 167.4 140.9 C167.0 141.5 166.5 141.9 166.0 142.1 C165.5 142.3 164.9 142.3 164.4 142.1 C163.9 141.9 163.4 141.5 163.0 140.9 C162.6 140.4 162.2 139.6 162.0 138.9 C161.8 138.1 161.7 137.2 161.7 136.3 C161.7 135.4 161.8 134.5 162.0 133.7 C162.2 133.0 162.6 132.2 163.0 131.7 C163.4 131.1 163.9 130.7 164.4 130.5 C164.9 130.3 165.5 130.3 166.0 130.5 C166.5 130.7 167.0 131.1 167.4 131.7 C167.8 132.2 168.2 133.0 168.4 133.7 C168.6 134.5 168.7 135.4 168.7 136.3Z" fill="none" stroke="#fff" stroke-width="0.75" opacity="0.7"/>
<path d="M168.3 136.3 C168.3 137.0 168.2 137.9 168.0 138.5 C167.8 139.2 167.5 139.9 167.1 140.3 C166.8 140.8 166.3 141.2 165.9 141.4 C165.5 141.5 164.9 141.5 164.5 141.4 C164.1 141.2 163.6 140.8 163.3 140.3 C162.9 139.9 162.6 139.2 162.4 138.5 C162.2 137.9 162.1 137.0 162.1 136.3 C162.1 135.6 162.2 134.7 162.4 134.1 C162.6 133.4 162.9 132.7 163.3 132.3 C163.6 131.8 164.1 131.4 164.5 131.2 C164.9 131.1 165.5 131.1 165.9 131.2 C166.3 131.4 166.8 131.8 167.1 132.3 C167.5 132.7 167.8 133.4 168.0 134.1 C168.2 134.7 168.3 135.6 168.3 136.3Z" fill="none" stroke="#1a0304" stroke-width="0.45" opacity="0.65"/>
<path d="M167.8 136.3 C167.8 136.9 167.7 137.6 167.6 138.2 C167.4 138.8 167.1 139.4 166.8 139.8 C166.5 140.2 166.2 140.5 165.8 140.6 C165.4 140.8 165.0 140.8 164.6 140.6 C164.2 140.5 163.9 140.2 163.6 139.8 C163.3 139.4 163.0 138.8 162.8 138.2 C162.7 137.6 162.6 136.9 162.6 136.3 C162.6 135.7 162.7 135.0 162.8 134.4 C163.0 133.8 163.3 133.2 163.6 132.8 C163.9 132.4 164.2 132.1 164.6 132.0 C165.0 131.8 165.4 131.8 165.8 132.0 C166.2 132.1 166.5 132.4 166.8 132.8 C167.1 133.2 167.4 133.8 167.6 134.4 C167.7 135.0 167.8 135.7 167.8 136.3Z" fill="none" stroke="#fff" stroke-width="0.75" opacity="0.7"/>
<path d="M167.4 136.3 C167.4 136.8 167.3 137.4 167.2 137.9 C167.0 138.4 166.8 138.9 166.6 139.2 C166.3 139.5 166.0 139.8 165.7 139.9 C165.4 140.0 165.0 140.0 164.7 139.9 C164.4 139.8 164.1 139.5 163.8 139.2 C163.6 138.9 163.4 138.4 163.2 137.9 C163.1 137.4 163.0 136.8 163.0 136.3 C163.0 135.8 163.1 135.2 163.2 134.7 C163.4 134.2 163.6 133.7 163.8 133.4 C164.1 133.1 164.4 132.8 164.7 132.7 C165.0 132.6 165.4 132.6 165.7 132.7 C166.0 132.8 166.3 133.1 166.6 133.4 C166.8 133.7 167.0 134.2 167.2 134.7 C167.3 135.2 167.4 135.8 167.4 136.3Z" fill="none" stroke="#1a0304" stroke-width="0.45" opacity="0.65"/>
<path d="M167.0 136.3 C167.0 136.7 166.9 137.2 166.8 137.6 C166.7 138.0 166.5 138.3 166.3 138.6 C166.1 138.9 165.8 139.1 165.6 139.2 C165.3 139.3 165.1 139.3 164.8 139.2 C164.6 139.1 164.3 138.9 164.1 138.6 C163.9 138.3 163.7 138.0 163.6 137.6 C163.5 137.2 163.4 136.7 163.4 136.3 C163.4 135.9 163.5 135.4 163.6 135.0 C163.7 134.6 163.9 134.3 164.1 134.0 C164.3 133.7 164.6 133.5 164.8 133.4 C165.1 133.3 165.3 133.3 165.6 133.4 C165.8 133.5 166.1 133.7 166.3 134.0 C166.5 134.3 166.7 134.6 166.8 135.0 C166.9 135.4 167.0 135.9 167.0 136.3Z" fill="none" stroke="#fff" stroke-width="0.75" opacity="0.7"/>
<path d="M166.5 136.3 C166.5 136.6 166.5 137.0 166.4 137.3 C166.3 137.6 166.2 137.8 166.0 138.0 C165.9 138.2 165.7 138.4 165.5 138.5 C165.3 138.5 165.1 138.5 164.9 138.5 C164.7 138.4 164.5 138.2 164.4 138.0 C164.2 137.8 164.1 137.6 164.0 137.3 C163.9 137.0 163.9 136.6 163.9 136.3 C163.9 136.0 163.9 135.6 164.0 135.3 C164.1 135.0 164.2 134.8 164.4 134.6 C164.5 134.4 164.7 134.2 164.9 134.1 C165.1 134.1 165.3 134.1 165.5 134.1 C165.7 134.2 165.9 134.4 166.0 134.6 C166.2 134.8 166.3 135.0 166.4 135.3 C166.5 135.6 166.5 136.0 166.5 136.3Z" fill="none" stroke="#1a0304" stroke-width="0.45" opacity="0.65"/>
<ellipse cx="165.2" cy="136.3" rx="2.7" ry="3.6" fill="none" stroke="#f2c0c0" stroke-width="0.6"/>
<ellipse cx="165.2" cy="136.3" rx="1.5" ry="2.0" fill="#fff" stroke="#333" stroke-width="0.6"/>
<path d="M182.1 133.0 C182.5 130.9 183.3 128.4 184.6 127.2 C185.8 126.0 187.7 125.3 189.6 125.6 C191.5 125.9 194.5 127.8 196.2 128.9 C197.9 130.0 199.2 129.9 199.8 132.2 C200.4 134.5 200.2 140.2 199.5 142.9 C198.8 145.7 197.1 147.6 195.4 148.7 C193.8 149.8 191.4 149.9 189.6 149.5 C187.8 149.1 185.8 147.8 184.6 146.2 C183.3 144.5 182.5 141.8 182.1 139.6 C181.7 137.4 181.7 135.1 182.1 133.0Z" transform="translate(-0.9 -0.4)" fill="#1a1a1a" stroke="#1a1a1a" stroke-width="1.4"/>
<path d="M182.1 133.0 C182.5 130.9 183.3 128.4 184.6 127.2 C185.8 126.0 187.7 125.3 189.6 125.6 C191.5 125.9 194.5 127.8 196.2 128.9 C197.9 130.0 199.2 129.9 199.8 132.2 C200.4 134.5 200.2 140.2 199.5 142.9 C198.8 145.7 197.1 147.6 195.4 148.7 C193.8 149.8 191.4 149.9 189.6 149.5 C187.8 149.1 185.8 147.8 184.6 146.2 C183.3 144.5 182.5 141.8 182.1 139.6 C181.7 137.4 181.7 135.1 182.1 133.0Z" fill="#c4161c"/>
<path d="M183.1 133.5 C183.5 131.7 184.2 129.5 185.3 128.4 C186.4 127.3 188.0 126.8 189.7 127.0 C191.4 127.3 194.0 128.9 195.5 129.9 C197.0 130.9 198.2 130.8 198.7 132.8 C199.2 134.9 199.0 139.8 198.4 142.2 C197.8 144.7 196.2 146.4 194.8 147.3 C193.3 148.3 191.3 148.4 189.7 148.0 C188.1 147.7 186.4 146.6 185.3 145.1 C184.2 143.7 183.5 141.3 183.1 139.3 C182.7 137.4 182.7 135.3 183.1 133.5Z" fill="none" stroke="#1a0304" stroke-width="0.45" opacity="0.65"/>
<path d="M184.1 134.1 C184.4 132.5 185.0 130.6 186.0 129.6 C186.9 128.7 188.3 128.2 189.8 128.4 C191.2 128.6 193.5 130.1 194.8 130.9 C196.1 131.8 197.1 131.7 197.5 133.4 C198.0 135.2 197.9 139.5 197.3 141.6 C196.7 143.7 195.4 145.1 194.2 146.0 C192.9 146.8 191.1 146.9 189.8 146.6 C188.4 146.3 186.9 145.3 186.0 144.1 C185.0 142.8 184.4 140.7 184.1 139.1 C183.8 137.4 183.8 135.6 184.1 134.1Z" fill="none" stroke="#fff" stroke-width="0.75" opacity="0.7"/>
<path d="M185.1 134.6 C185.3 133.3 185.9 131.7 186.7 130.9 C187.5 130.1 188.6 129.7 189.9 129.8 C191.1 130.0 193.0 131.2 194.1 132.0 C195.2 132.7 196.0 132.6 196.4 134.1 C196.8 135.6 196.7 139.2 196.2 140.9 C195.7 142.7 194.6 143.9 193.6 144.6 C192.5 145.3 191.0 145.4 189.9 145.1 C188.7 144.9 187.5 144.1 186.7 143.0 C185.9 142.0 185.3 140.2 185.1 138.8 C184.8 137.4 184.8 135.9 185.1 134.6Z" fill="none" stroke="#1a0304" stroke-width="0.45" opacity="0.65"/>
<path d="M186.2 135.2 C186.4 134.2 186.8 132.9 187.5 132.3 C188.1 131.7 189.0 131.3 190.0 131.5 C190.9 131.6 192.4 132.6 193.3 133.1 C194.1 133.7 194.8 133.6 195.1 134.8 C195.3 136.0 195.3 138.8 194.9 140.1 C194.6 141.5 193.7 142.5 192.9 143.0 C192.1 143.6 190.9 143.6 190.0 143.4 C189.1 143.2 188.1 142.6 187.5 141.8 C186.8 141.0 186.4 139.6 186.2 138.5 C186.0 137.4 186.0 136.2 186.2 135.2Z" fill="none" stroke="#fff" stroke-width="0.75" opacity="0.7"/>
<ellipse cx="188.6" cy="137.3" rx="2.9" ry="4.7" fill="none" stroke="#f2c0c0" stroke-width="0.6"/>
<ellipse cx="188.6" cy="137.3" rx="1.6" ry="2.6" fill="#fff" stroke="#333" stroke-width="0.6"/>
<ellipse cx="195.2" cy="137.5" rx="2.9" ry="4.7" fill="none" stroke="#f2c0c0" stroke-width="0.6"/>
<ellipse cx="195.2" cy="137.5" rx="1.6" ry="2.6" fill="#fff" stroke="#333" stroke-width="0.6"/>
<path d="M169.6 171.0 C169.6 172.1 169.4 173.2 169.2 174.2 C168.9 175.2 168.4 176.1 167.9 176.8 C167.4 177.5 166.8 178.0 166.2 178.2 C165.6 178.5 164.8 178.5 164.2 178.2 C163.6 178.0 163.0 177.5 162.5 176.8 C162.0 176.1 161.5 175.2 161.2 174.2 C161.0 173.2 160.8 172.1 160.8 171.0 C160.8 169.9 161.0 168.8 161.2 167.8 C161.5 166.8 162.0 165.9 162.5 165.2 C163.0 164.5 163.6 164.0 164.2 163.8 C164.8 163.5 165.6 163.5 166.2 163.8 C166.8 164.0 167.4 164.5 167.9 165.2 C168.4 165.9 168.9 166.8 169.2 167.8 C169.4 168.8 169.6 169.9 169.6 171.0Z" transform="translate(-0.9 0.2)" fill="#1a1a1a" stroke="#1a1a1a" stroke-width="1.4"/>
<path d="M169.6 171.0 C169.6 172.1 169.4 173.2 169.2 174.2 C168.9 175.2 168.4 176.1 167.9 176.8 C167.4 177.5 166.8 178.0 166.2 178.2 C165.6 178.5 164.8 178.5 164.2 178.2 C163.6 178.0 163.0 177.5 162.5 176.8 C162.0 176.1 161.5 175.2 161.2 174.2 C161.0 173.2 160.8 172.1 160.8 171.0 C160.8 169.9 161.0 168.8 161.2 167.8 C161.5 166.8 162.0 165.9 162.5 165.2 C163.0 164.5 163.6 164.0 164.2 163.8 C164.8 163.5 165.6 163.5 166.2 163.8 C166.8 164.0 167.4 164.5 167.9 165.2 C168.4 165.9 168.9 166.8 169.2 167.8 C169.4 168.8 169.6 169.9 169.6 171.0Z" fill="#c4161c"/>
<path d="M169.2 171.0 C169.2 172.0 169.0 173.0 168.8 173.9 C168.5 174.8 168.1 175.6 167.7 176.2 C167.2 176.8 166.6 177.3 166.1 177.5 C165.5 177.7 164.9 177.7 164.3 177.5 C163.8 177.3 163.2 176.8 162.7 176.2 C162.3 175.6 161.9 174.8 161.6 173.9 C161.4 173.0 161.2 172.0 161.2 171.0 C161.2 170.0 161.4 169.0 161.6 168.1 C161.9 167.2 162.3 166.4 162.7 165.8 C163.2 165.2 163.8 164.7 164.3 164.5 C164.9 164.3 165.5 164.3 166.1 164.5 C166.6 164.7 167.2 165.2 167.7 165.8 C168.1 166.4 168.5 167.2 168.8 168.1 C169.0 169.0 169.2 170.0 169.2 171.0Z" fill="none" stroke="#1a0304" stroke-width="0.45" opacity="0.65"/>
<path d="M168.7 171.0 C168.7 171.9 168.6 172.8 168.4 173.6 C168.2 174.3 167.8 175.1 167.4 175.6 C167.0 176.2 166.5 176.6 166.0 176.8 C165.5 177.0 164.9 177.0 164.4 176.8 C163.9 176.6 163.4 176.2 163.0 175.6 C162.6 175.1 162.2 174.3 162.0 173.6 C161.8 172.8 161.7 171.9 161.7 171.0 C161.7 170.1 161.8 169.2 162.0 168.4 C162.2 167.7 162.6 166.9 163.0 166.4 C163.4 165.8 163.9 165.4 164.4 165.2 C164.9 165.0 165.5 165.0 166.0 165.2 C166.5 165.4 167.0 165.8 167.4 166.4 C167.8 166.9 168.2 167.7 168.4 168.4 C168.6 169.2 168.7 170.1 168.7 171.0Z" fill="none" stroke="#fff" stroke-width="0.75" opacity="0.7"/>
<path d="M168.3 171.0 C168.3 171.7 168.2 172.6 168.0 173.2 C167.8 173.9 167.5 174.6 167.1 175.0 C166.8 175.5 166.3 175.9 165.9 176.1 C165.5 176.2 164.9 176.2 164.5 176.1 C164.1 175.9 163.6 175.5 163.3 175.0 C162.9 174.6 162.6 173.9 162.4 173.2 C162.2 172.6 162.1 171.7 162.1 171.0 C162.1 170.3 162.2 169.4 162.4 168.8 C162.6 168.1 162.9 167.4 163.3 167.0 C163.6 166.5 164.1 166.1 164.5 165.9 C164.9 165.8 165.5 165.8 165.9 165.9 C166.3 166.1 166.8 166.5 167.1 167.0 C167.5 167.4 167.8 168.1 168.0 168.8 C168.2 169.4 168.3 170.3 168.3 171.0Z" fill="none" stroke="#1a0304" stroke-width="0.45" opacity="0.65"/>
<path d="M167.8 171.0 C167.8 171.6 167.7 172.3 167.6 172.9 C167.4 173.5 167.1 174.1 166.8 174.5 C166.5 174.9 166.2 175.2 165.8 175.3 C165.4 175.5 165.0 175.5 164.6 175.3 C164.2 175.2 163.9 174.9 163.6 174.5 C163.3 174.1 163.0 173.5 162.8 172.9 C162.7 172.3 162.6 171.6 162.6 171.0 C162.6 170.4 162.7 169.7 162.8 169.1 C163.0 168.5 163.3 167.9 163.6 167.5 C163.9 167.1 164.2 166.8 164.6 166.7 C165.0 166.5 165.4 166.5 165.8 166.7 C166.2 166.8 166.5 167.1 166.8 167.5 C167.1 167.9 167.4 168.5 167.6 169.1 C167.7 169.7 167.8 170.4 167.8 171.0Z" fill="none" stroke="#fff" stroke-width="0.75" opacity="0.7"/>
<path d="M167.4 171.0 C167.4 171.5 167.3 172.1 167.2 172.6 C167.0 173.1 166.8 173.6 166.6 173.9 C166.3 174.2 166.0 174.5 165.7 174.6 C165.4 174.7 165.0 174.7 164.7 174.6 C164.4 174.5 164.1 174.2 163.8 173.9 C163.6 173.6 163.4 173.1 163.2 172.6 C163.1 172.1 163.0 171.5 163.0 171.0 C163.0 170.5 163.1 169.9 163.2 169.4 C163.4 168.9 163.6 168.4 163.8 168.1 C164.1 167.8 164.4 167.5 164.7 167.4 C165.0 167.3 165.4 167.3 165.7 167.4 C166.0 167.5 166.3 167.8 166.6 168.1 C166.8 168.4 167.0 168.9 167.2 169.4 C167.3 169.9 167.4 170.5 167.4 171.0Z" fill="none" stroke="#1a0304" stroke-width="0.45" opacity="0.65"/>
<path d="M167.0 171.0 C167.0 171.4 166.9 171.9 166.8 172.3 C166.7 172.7 166.5 173.0 166.3 173.3 C166.1 173.6 165.8 173.8 165.6 173.9 C165.3 174.0 165.1 174.0 164.8 173.9 C164.6 173.8 164.3 173.6 164.1 173.3 C163.9 173.0 163.7 172.7 163.6 172.3 C163.5 171.9 163.4 171.4 163.4 171.0 C163.4 170.6 163.5 170.1 163.6 169.7 C163.7 169.3 163.9 169.0 164.1 168.7 C164.3 168.4 164.6 168.2 164.8 168.1 C165.1 168.0 165.3 168.0 165.6 168.1 C165.8 168.2 166.1 168.4 166.3 168.7 C166.5 169.0 166.7 169.3 166.8 169.7 C166.9 170.1 167.0 170.6 167.0 171.0Z" fill="none" stroke="#fff" stroke-width="0.75" opacity="0.7"/>
<path d="M166.5 171.0 C166.5 171.3 166.5 171.7 166.4 172.0 C166.3 172.3 166.2 172.5 166.0 172.7 C165.9 172.9 165.7 173.1 165.5 173.2 C165.3 173.2 165.1 173.2 164.9 173.2 C164.7 173.1 164.5 172.9 164.4 172.7 C164.2 172.5 164.1 172.3 164.0 172.0 C163.9 171.7 163.9 171.3 163.9 171.0 C163.9 170.7 163.9 170.3 164.0 170.0 C164.1 169.7 164.2 169.5 164.4 169.3 C164.5 169.1 164.7 168.9 164.9 168.8 C165.1 168.8 165.3 168.8 165.5 168.8 C165.7 168.9 165.9 169.1 166.0 169.3 C166.2 169.5 166.3 169.7 166.4 170.0 C166.5 170.3 166.5 170.7 166.5 171.0Z" fill="none" stroke="#1a0304" stroke-width="0.45" opacity="0.65"/>
<ellipse cx="165.2" cy="171.0" rx="2.7" ry="3.6" fill="none" stroke="#f2c0c0" stroke-width="0.6"/>
<ellipse cx="165.2" cy="171.0" rx="1.5" ry="2.0" fill="#fff" stroke="#333" stroke-width="0.6"/>
<path d="M198.6 171.4 C198.6 172.9 198.3 174.6 197.7 175.9 C197.1 177.3 196.2 178.6 195.2 179.5 C194.2 180.5 192.9 181.2 191.6 181.5 C190.3 181.9 188.9 181.9 187.6 181.5 C186.3 181.2 185.0 180.5 184.0 179.5 C183.0 178.6 182.1 177.3 181.5 175.9 C180.9 174.6 180.6 172.9 180.6 171.4 C180.6 169.9 180.9 168.2 181.5 166.9 C182.1 165.5 183.0 164.2 184.0 163.3 C185.0 162.3 186.3 161.6 187.6 161.3 C188.9 160.9 190.3 160.9 191.6 161.3 C192.9 161.6 194.2 162.3 195.2 163.3 C196.2 164.2 197.1 165.5 197.7 166.9 C198.3 168.2 198.6 169.9 198.6 171.4Z" transform="translate(-0.9 -0.4)" fill="#1a1a1a" stroke="#1a1a1a" stroke-width="1.4"/>
<path d="M198.6 171.4 C198.6 172.9 198.3 174.6 197.7 175.9 C197.1 177.3 196.2 178.6 195.2 179.5 C194.2 180.5 192.9 181.2 191.6 181.5 C190.3 181.9 188.9 181.9 187.6 181.5 C186.3 181.2 185.0 180.5 184.0 179.5 C183.0 178.6 182.1 177.3 181.5 175.9 C180.9 174.6 180.6 172.9 180.6 171.4 C180.6 169.9 180.9 168.2 181.5 166.9 C182.1 165.5 183.0 164.2 184.0 163.3 C185.0 162.3 186.3 161.6 187.6 161.3 C188.9 160.9 190.3 160.9 191.6 161.3 C192.9 161.6 194.2 162.3 195.2 163.3 C196.2 164.2 197.1 165.5 197.7 166.9 C198.3 168.2 198.6 169.9 198.6 171.4Z" fill="#c4161c"/>
<path d="M197.5 171.4 C197.5 172.7 197.2 174.2 196.7 175.4 C196.2 176.6 195.4 177.7 194.5 178.6 C193.6 179.4 192.5 180.0 191.4 180.3 C190.2 180.6 189.0 180.6 187.8 180.3 C186.7 180.0 185.6 179.4 184.7 178.6 C183.8 177.7 183.0 176.6 182.5 175.4 C182.0 174.2 181.7 172.7 181.7 171.4 C181.7 170.1 182.0 168.6 182.5 167.4 C183.0 166.2 183.8 165.1 184.7 164.2 C185.6 163.4 186.7 162.8 187.8 162.5 C189.0 162.2 190.2 162.2 191.4 162.5 C192.5 162.8 193.6 163.4 194.5 164.2 C195.4 165.1 196.2 166.2 196.7 167.4 C197.2 168.6 197.5 170.1 197.5 171.4Z" fill="none" stroke="#1a0304" stroke-width="0.45" opacity="0.65"/>
<path d="M196.4 171.4 C196.4 172.5 196.2 173.8 195.8 174.8 C195.3 175.9 194.6 176.9 193.9 177.6 C193.1 178.3 192.1 178.9 191.1 179.1 C190.2 179.4 189.0 179.4 188.1 179.1 C187.1 178.9 186.1 178.3 185.3 177.6 C184.6 176.9 183.9 175.9 183.4 174.8 C183.0 173.8 182.8 172.5 182.8 171.4 C182.8 170.3 183.0 169.0 183.4 168.0 C183.9 166.9 184.6 165.9 185.3 165.2 C186.1 164.5 187.1 163.9 188.1 163.7 C189.0 163.4 190.2 163.4 191.1 163.7 C192.1 163.9 193.1 164.5 193.9 165.2 C194.6 165.9 195.3 166.9 195.8 168.0 C196.2 169.0 196.4 170.3 196.4 171.4Z" fill="none" stroke="#fff" stroke-width="0.75" opacity="0.7"/>
<path d="M195.4 171.4 C195.4 172.4 195.2 173.4 194.8 174.3 C194.4 175.2 193.8 176.0 193.2 176.6 C192.5 177.2 191.7 177.7 190.9 177.9 C190.1 178.1 189.1 178.1 188.3 177.9 C187.5 177.7 186.7 177.2 186.0 176.6 C185.4 176.0 184.8 175.2 184.4 174.3 C184.0 173.4 183.8 172.4 183.8 171.4 C183.8 170.4 184.0 169.4 184.4 168.5 C184.8 167.6 185.4 166.8 186.0 166.2 C186.7 165.6 187.5 165.1 188.3 164.9 C189.1 164.7 190.1 164.7 190.9 164.9 C191.7 165.1 192.5 165.6 193.2 166.2 C193.8 166.8 194.4 167.6 194.8 168.5 C195.2 169.4 195.4 170.4 195.4 171.4Z" fill="none" stroke="#1a0304" stroke-width="0.45" opacity="0.65"/>
<path d="M194.1 171.4 C194.1 172.2 193.9 173.0 193.7 173.7 C193.4 174.3 192.9 175.0 192.4 175.5 C191.9 175.9 191.2 176.3 190.6 176.5 C190.0 176.6 189.2 176.6 188.6 176.5 C188.0 176.3 187.3 175.9 186.8 175.5 C186.3 175.0 185.8 174.3 185.5 173.7 C185.3 173.0 185.1 172.2 185.1 171.4 C185.1 170.6 185.3 169.8 185.5 169.1 C185.8 168.5 186.3 167.8 186.8 167.3 C187.3 166.9 188.0 166.5 188.6 166.3 C189.2 166.2 190.0 166.2 190.6 166.3 C191.2 166.5 191.9 166.9 192.4 167.3 C192.9 167.8 193.4 168.5 193.7 169.1 C193.9 169.8 194.1 170.6 194.1 171.4Z" fill="none" stroke="#fff" stroke-width="0.75" opacity="0.7"/>
<ellipse cx="188.2" cy="172.0" rx="3.1" ry="4.3" fill="none" stroke="#f2c0c0" stroke-width="0.6"/>
<ellipse cx="188.2" cy="172.0" rx="1.7" ry="2.4" fill="#fff" stroke="#333" stroke-width="0.6"/>
<ellipse cx="194.3" cy="171.5" rx="3.1" ry="4.3" fill="none" stroke="#f2c0c0" stroke-width="0.6"/>
<ellipse cx="194.3" cy="171.5" rx="1.7" ry="2.4" fill="#fff" stroke="#333" stroke-width="0.6"/>
<ellipse transform="translate(188.2 87.5) rotate(5)" rx="3.4" ry="7.6" fill="none" stroke="#1a1a1a" stroke-width="0.8"/>
<path d="M193.1 89.5 C193.1 90.3 193.0 91.2 192.7 91.9 C192.5 92.6 192.2 93.3 191.7 93.8 C191.3 94.3 190.8 94.7 190.3 94.9 C189.8 95.0 189.2 95.0 188.7 94.9 C188.2 94.7 187.7 94.3 187.3 93.8 C186.8 93.3 186.5 92.6 186.3 91.9 C186.0 91.2 185.9 90.3 185.9 89.5 C185.9 88.7 186.0 87.8 186.3 87.1 C186.5 86.4 186.8 85.7 187.3 85.2 C187.7 84.7 188.2 84.3 188.7 84.1 C189.2 84.0 189.8 84.0 190.3 84.1 C190.8 84.3 191.3 84.7 191.7 85.2 C192.2 85.7 192.5 86.4 192.7 87.1 C193.0 87.8 193.1 88.7 193.1 89.5Z" fill="#c4161c"/>
<path d="M192.7 89.5 C192.7 90.2 192.6 91.0 192.4 91.6 C192.2 92.3 191.9 92.9 191.5 93.4 C191.2 93.8 190.7 94.2 190.2 94.3 C189.8 94.5 189.2 94.5 188.8 94.3 C188.3 94.2 187.8 93.8 187.5 93.4 C187.1 92.9 186.8 92.3 186.6 91.6 C186.4 91.0 186.3 90.2 186.3 89.5 C186.3 88.8 186.4 88.0 186.6 87.4 C186.8 86.7 187.1 86.1 187.5 85.6 C187.8 85.2 188.3 84.8 188.8 84.7 C189.2 84.5 189.8 84.5 190.2 84.7 C190.7 84.8 191.2 85.2 191.5 85.6 C191.9 86.1 192.2 86.7 192.4 87.4 C192.6 88.0 192.7 88.8 192.7 89.5Z" fill="none" stroke="#1a0304" stroke-width="0.45" opacity="0.65"/>
<path d="M192.4 89.5 C192.4 90.1 192.3 90.8 192.1 91.4 C191.9 92.0 191.6 92.5 191.3 92.9 C191.0 93.3 190.5 93.6 190.1 93.8 C189.7 93.9 189.3 93.9 188.9 93.8 C188.5 93.6 188.0 93.3 187.7 92.9 C187.4 92.5 187.1 92.0 186.9 91.4 C186.7 90.8 186.6 90.1 186.6 89.5 C186.6 88.9 186.7 88.2 186.9 87.6 C187.1 87.0 187.4 86.5 187.7 86.1 C188.0 85.7 188.5 85.4 188.9 85.2 C189.3 85.1 189.7 85.1 190.1 85.2 C190.5 85.4 191.0 85.7 191.3 86.1 C191.6 86.5 191.9 87.0 192.1 87.6 C192.3 88.2 192.4 88.9 192.4 89.5Z" fill="none" stroke="#fff" stroke-width="0.75" opacity="0.7"/>
<path d="M192.0 89.5 C192.0 90.1 191.9 90.7 191.8 91.2 C191.6 91.7 191.4 92.2 191.1 92.5 C190.8 92.9 190.4 93.1 190.1 93.3 C189.7 93.4 189.3 93.4 188.9 93.3 C188.6 93.1 188.2 92.9 187.9 92.5 C187.6 92.2 187.4 91.7 187.2 91.2 C187.1 90.7 187.0 90.1 187.0 89.5 C187.0 88.9 187.1 88.3 187.2 87.8 C187.4 87.3 187.6 86.8 187.9 86.5 C188.2 86.1 188.6 85.9 188.9 85.7 C189.3 85.6 189.7 85.6 190.1 85.7 C190.4 85.9 190.8 86.1 191.1 86.5 C191.4 86.8 191.6 87.3 191.8 87.8 C191.9 88.3 192.0 88.9 192.0 89.5Z" fill="none" stroke="#1a0304" stroke-width="0.45" opacity="0.65"/>
<path d="M191.7 89.5 C191.7 90.0 191.6 90.5 191.4 90.9 C191.3 91.4 191.1 91.8 190.8 92.1 C190.6 92.4 190.3 92.6 190.0 92.7 C189.7 92.8 189.3 92.8 189.0 92.7 C188.7 92.6 188.4 92.4 188.2 92.1 C187.9 91.8 187.7 91.4 187.6 90.9 C187.4 90.5 187.3 90.0 187.3 89.5 C187.3 89.0 187.4 88.5 187.6 88.1 C187.7 87.6 187.9 87.2 188.2 86.9 C188.4 86.6 188.7 86.4 189.0 86.3 C189.3 86.2 189.7 86.2 190.0 86.3 C190.3 86.4 190.6 86.6 190.8 86.9 C191.1 87.2 191.3 87.6 191.4 88.1 C191.6 88.5 191.7 89.0 191.7 89.5Z" fill="none" stroke="#fff" stroke-width="0.75" opacity="0.7"/>
<path d="M191.3 89.5 C191.3 89.9 191.2 90.3 191.1 90.7 C191.0 91.1 190.8 91.4 190.6 91.7 C190.4 91.9 190.2 92.1 189.9 92.2 C189.6 92.3 189.4 92.3 189.1 92.2 C188.8 92.1 188.6 91.9 188.4 91.7 C188.2 91.4 188.0 91.1 187.9 90.7 C187.8 90.3 187.7 89.9 187.7 89.5 C187.7 89.1 187.8 88.7 187.9 88.3 C188.0 87.9 188.2 87.6 188.4 87.3 C188.6 87.1 188.8 86.9 189.1 86.8 C189.4 86.7 189.6 86.7 189.9 86.8 C190.2 86.9 190.4 87.1 190.6 87.3 C190.8 87.6 191.0 87.9 191.1 88.3 C191.2 88.7 191.3 89.1 191.3 89.5Z" fill="none" stroke="#1a0304" stroke-width="0.45" opacity="0.65"/>
<path d="M190.9 89.5 C190.9 89.8 190.9 90.2 190.8 90.5 C190.7 90.7 190.6 91.0 190.4 91.2 C190.2 91.4 190.0 91.6 189.8 91.6 C189.6 91.7 189.4 91.7 189.2 91.6 C189.0 91.6 188.8 91.4 188.6 91.2 C188.4 91.0 188.3 90.7 188.2 90.5 C188.1 90.2 188.1 89.8 188.1 89.5 C188.1 89.2 188.1 88.8 188.2 88.5 C188.3 88.3 188.4 88.0 188.6 87.8 C188.8 87.6 189.0 87.4 189.2 87.4 C189.4 87.3 189.6 87.3 189.8 87.4 C190.0 87.4 190.2 87.6 190.4 87.8 C190.6 88.0 190.7 88.3 190.8 88.5 C190.9 88.8 190.9 89.2 190.9 89.5Z" fill="none" stroke="#fff" stroke-width="0.75" opacity="0.7"/>
<path d="M190.6 89.5 C190.6 89.7 190.5 90.0 190.5 90.2 C190.4 90.4 190.3 90.6 190.2 90.8 C190.1 90.9 189.9 91.1 189.7 91.1 C189.6 91.2 189.4 91.2 189.3 91.1 C189.1 91.1 188.9 90.9 188.8 90.8 C188.7 90.6 188.6 90.4 188.5 90.2 C188.5 90.0 188.4 89.7 188.4 89.5 C188.4 89.3 188.5 89.0 188.5 88.8 C188.6 88.6 188.7 88.4 188.8 88.2 C188.9 88.1 189.1 87.9 189.3 87.9 C189.4 87.8 189.6 87.8 189.7 87.9 C189.9 87.9 190.1 88.1 190.2 88.2 C190.3 88.4 190.4 88.6 190.5 88.8 C190.5 89.0 190.6 89.3 190.6 89.5Z" fill="none" stroke="#1a0304" stroke-width="0.45" opacity="0.65"/>
<ellipse cx="189.5" cy="89.5" rx="2.7" ry="3.6" fill="none" stroke="#f2c0c0" stroke-width="0.6"/>
<ellipse cx="189.5" cy="89.5" rx="1.5" ry="2.0" fill="#fff" stroke="#333" stroke-width="0.6"/>
<path d="M274.3 74.0 C274.3 75.3 274.0 76.8 273.6 77.9 C273.1 79.1 272.4 80.3 271.6 81.1 C270.7 81.9 269.7 82.6 268.6 82.9 C267.6 83.2 266.4 83.2 265.4 82.9 C264.3 82.6 263.3 81.9 262.4 81.1 C261.6 80.3 260.9 79.1 260.4 77.9 C260.0 76.8 259.7 75.3 259.7 74.0 C259.7 72.7 260.0 71.2 260.4 70.1 C260.9 68.9 261.6 67.7 262.4 66.9 C263.3 66.1 264.3 65.4 265.4 65.1 C266.4 64.8 267.6 64.8 268.6 65.1 C269.7 65.4 270.7 66.1 271.6 66.9 C272.4 67.7 273.1 68.9 273.6 70.1 C274.0 71.2 274.3 72.7 274.3 74.0Z" transform="translate(-0.9 0.2)" fill="#1a1a1a" stroke="#1a1a1a" stroke-width="1.4"/>
<path d="M274.3 74.0 C274.3 75.3 274.0 76.8 273.6 77.9 C273.1 79.1 272.4 80.3 271.6 81.1 C270.7 81.9 269.7 82.6 268.6 82.9 C267.6 83.2 266.4 83.2 265.4 82.9 C264.3 82.6 263.3 81.9 262.4 81.1 C261.6 80.3 260.9 79.1 260.4 77.9 C260.0 76.8 259.7 75.3 259.7 74.0 C259.7 72.7 260.0 71.2 260.4 70.1 C260.9 68.9 261.6 67.7 262.4 66.9 C263.3 66.1 264.3 65.4 265.4 65.1 C266.4 64.8 267.6 64.8 268.6 65.1 C269.7 65.4 270.7 66.1 271.6 66.9 C272.4 67.7 273.1 68.9 273.6 70.1 C274.0 71.2 274.3 72.7 274.3 74.0Z" fill="#c4161c"/>
<path d="M273.6 74.0 C273.6 75.2 273.3 76.5 272.9 77.6 C272.5 78.6 271.8 79.7 271.1 80.4 C270.4 81.1 269.4 81.7 268.5 82.0 C267.5 82.2 266.5 82.2 265.5 82.0 C264.6 81.7 263.6 81.1 262.9 80.4 C262.2 79.7 261.5 78.6 261.1 77.6 C260.7 76.5 260.4 75.2 260.4 74.0 C260.4 72.8 260.7 71.5 261.1 70.4 C261.5 69.4 262.2 68.3 262.9 67.6 C263.6 66.9 264.6 66.3 265.5 66.0 C266.5 65.8 267.5 65.8 268.5 66.0 C269.4 66.3 270.4 66.9 271.1 67.6 C271.8 68.3 272.5 69.4 272.9 70.4 C273.3 71.5 273.6 72.8 273.6 74.0Z" fill="none" stroke="#1a0304" stroke-width="0.45" opacity="0.65"/>
<path d="M272.8 74.0 C272.8 75.1 272.6 76.2 272.3 77.2 C271.9 78.1 271.3 79.0 270.6 79.7 C270.0 80.3 269.1 80.9 268.3 81.1 C267.5 81.3 266.5 81.3 265.7 81.1 C264.9 80.9 264.0 80.3 263.4 79.7 C262.7 79.0 262.1 78.1 261.7 77.2 C261.4 76.2 261.2 75.1 261.2 74.0 C261.2 72.9 261.4 71.8 261.7 70.8 C262.1 69.9 262.7 69.0 263.4 68.3 C264.0 67.7 264.9 67.1 265.7 66.9 C266.5 66.7 267.5 66.7 268.3 66.9 C269.1 67.1 270.0 67.7 270.6 68.3 C271.3 69.0 271.9 69.9 272.3 70.8 C272.6 71.8 272.8 72.9 272.8 74.0Z" fill="none" stroke="#fff" stroke-width="0.75" opacity="0.7"/>
<path d="M272.1 74.0 C272.1 74.9 271.9 75.9 271.6 76.8 C271.3 77.6 270.8 78.4 270.2 79.0 C269.6 79.6 268.9 80.0 268.1 80.2 C267.4 80.4 266.6 80.4 265.9 80.2 C265.1 80.0 264.4 79.6 263.8 79.0 C263.2 78.4 262.7 77.6 262.4 76.8 C262.1 75.9 261.9 74.9 261.9 74.0 C261.9 73.1 262.1 72.1 262.4 71.2 C262.7 70.4 263.2 69.6 263.8 69.0 C264.4 68.4 265.1 68.0 265.9 67.8 C266.6 67.6 267.4 67.6 268.1 67.8 C268.9 68.0 269.6 68.4 270.2 69.0 C270.8 69.6 271.3 70.4 271.6 71.2 C271.9 72.1 272.1 73.1 272.1 74.0Z" fill="none" stroke="#1a0304" stroke-width="0.45" opacity="0.65"/>
<path d="M271.4 74.0 C271.4 74.8 271.2 75.7 270.9 76.4 C270.7 77.1 270.2 77.8 269.7 78.3 C269.2 78.8 268.6 79.1 268.0 79.3 C267.4 79.5 266.6 79.5 266.0 79.3 C265.4 79.1 264.8 78.8 264.3 78.3 C263.8 77.8 263.3 77.1 263.1 76.4 C262.8 75.7 262.6 74.8 262.6 74.0 C262.6 73.2 262.8 72.3 263.1 71.6 C263.3 70.9 263.8 70.2 264.3 69.7 C264.8 69.2 265.4 68.9 266.0 68.7 C266.6 68.5 267.4 68.5 268.0 68.7 C268.6 68.9 269.2 69.2 269.7 69.7 C270.2 70.2 270.7 70.9 270.9 71.6 C271.2 72.3 271.4 73.2 271.4 74.0Z" fill="none" stroke="#fff" stroke-width="0.75" opacity="0.7"/>
<path d="M270.6 74.0 C270.6 74.7 270.5 75.4 270.3 76.0 C270.1 76.6 269.7 77.1 269.3 77.6 C268.9 78.0 268.3 78.3 267.8 78.4 C267.3 78.6 266.7 78.6 266.2 78.4 C265.7 78.3 265.1 78.0 264.7 77.6 C264.3 77.1 263.9 76.6 263.7 76.0 C263.5 75.4 263.4 74.7 263.4 74.0 C263.4 73.3 263.5 72.6 263.7 72.0 C263.9 71.4 264.3 70.9 264.7 70.4 C265.1 70.0 265.7 69.7 266.2 69.6 C266.7 69.4 267.3 69.4 267.8 69.6 C268.3 69.7 268.9 70.0 269.3 70.4 C269.7 70.9 270.1 71.4 270.3 72.0 C270.5 72.6 270.6 73.3 270.6 74.0Z" fill="none" stroke="#1a0304" stroke-width="0.45" opacity="0.65"/>
<path d="M269.9 74.0 C269.9 74.5 269.8 75.1 269.6 75.6 C269.4 76.1 269.2 76.5 268.8 76.8 C268.5 77.2 268.1 77.4 267.6 77.5 C267.2 77.7 266.8 77.7 266.4 77.5 C265.9 77.4 265.5 77.2 265.2 76.8 C264.8 76.5 264.6 76.1 264.4 75.6 C264.2 75.1 264.1 74.5 264.1 74.0 C264.1 73.5 264.2 72.9 264.4 72.4 C264.6 71.9 264.8 71.5 265.2 71.2 C265.5 70.8 265.9 70.6 266.4 70.5 C266.8 70.3 267.2 70.3 267.6 70.5 C268.1 70.6 268.5 70.8 268.8 71.2 C269.2 71.5 269.4 71.9 269.6 72.4 C269.8 72.9 269.9 73.5 269.9 74.0Z" fill="none" stroke="#fff" stroke-width="0.75" opacity="0.7"/>
<path d="M269.2 74.0 C269.2 74.4 269.1 74.8 269.0 75.2 C268.8 75.5 268.6 75.9 268.4 76.1 C268.1 76.4 267.8 76.6 267.5 76.7 C267.2 76.7 266.8 76.7 266.5 76.7 C266.2 76.6 265.9 76.4 265.6 76.1 C265.4 75.9 265.2 75.5 265.0 75.2 C264.9 74.8 264.8 74.4 264.8 74.0 C264.8 73.6 264.9 73.2 265.0 72.8 C265.2 72.5 265.4 72.1 265.6 71.9 C265.9 71.6 266.2 71.4 266.5 71.3 C266.8 71.3 267.2 71.3 267.5 71.3 C267.8 71.4 268.1 71.6 268.4 71.9 C268.6 72.1 268.8 72.5 269.0 72.8 C269.1 73.2 269.2 73.6 269.2 74.0Z" fill="none" stroke="#1a0304" stroke-width="0.45" opacity="0.65"/>
<ellipse cx="267.0" cy="74.0" rx="2.7" ry="3.6" fill="none" stroke="#f2c0c0" stroke-width="0.6"/>
<ellipse cx="267.0" cy="74.0" rx="1.5" ry="2.0" fill="#fff" stroke="#333" stroke-width="0.6"/>
<path d="M283.4 67.6 C284.3 66.0 287.0 64.7 288.8 63.6 C290.6 62.6 292.9 61.1 294.2 61.3 C295.5 61.5 296.1 62.9 296.9 64.9 C297.6 66.9 298.5 70.5 298.7 73.1 C298.9 75.7 299.2 78.3 298.3 80.3 C297.4 82.2 294.7 83.6 293.3 84.8 C291.9 86.0 290.3 86.0 289.7 87.5 C289.1 89.0 290.0 92.0 289.7 93.8 C289.4 95.6 288.9 97.2 287.9 98.3 C286.8 99.3 284.8 100.2 283.4 100.1 C282.0 99.9 280.6 98.9 279.8 97.4 C279.0 95.9 278.4 93.2 278.4 91.1 C278.4 89.0 279.0 86.8 279.8 84.8 C280.6 82.8 282.8 81.4 283.4 79.4 C284.0 77.5 283.4 75.1 283.4 73.1 C283.4 71.1 282.5 69.2 283.4 67.6Z" transform="translate(-1.0 0.3)" fill="#1a1a1a" stroke="#1a1a1a" stroke-width="1.4"/>
<path d="M283.4 67.6 C284.3 66.0 287.0 64.7 288.8 63.6 C290.6 62.6 292.9 61.1 294.2 61.3 C295.5 61.5 296.1 62.9 296.9 64.9 C297.6 66.9 298.5 70.5 298.7 73.1 C298.9 75.7 299.2 78.3 298.3 80.3 C297.4 82.2 294.7 83.6 293.3 84.8 C291.9 86.0 290.3 86.0 289.7 87.5 C289.1 89.0 290.0 92.0 289.7 93.8 C289.4 95.6 288.9 97.2 287.9 98.3 C286.8 99.3 284.8 100.2 283.4 100.1 C282.0 99.9 280.6 98.9 279.8 97.4 C279.0 95.9 278.4 93.2 278.4 91.1 C278.4 89.0 279.0 86.8 279.8 84.8 C280.6 82.8 282.8 81.4 283.4 79.4 C284.0 77.5 283.4 75.1 283.4 73.1 C283.4 71.1 282.5 69.2 283.4 67.6Z" fill="#c4161c"/>
<path d="M284.0 69.2 C284.8 67.9 287.1 66.7 288.7 65.7 C290.3 64.8 292.3 63.5 293.5 63.7 C294.7 63.9 295.2 65.1 295.8 66.9 C296.5 68.6 297.2 71.8 297.4 74.1 C297.6 76.3 297.9 78.7 297.1 80.4 C296.3 82.1 293.9 83.3 292.7 84.4 C291.4 85.4 290.0 85.4 289.5 86.8 C289.0 88.1 289.8 90.7 289.5 92.3 C289.2 93.9 288.8 95.3 287.9 96.3 C287.0 97.2 285.1 98.0 284.0 97.8 C282.8 97.7 281.5 96.8 280.8 95.5 C280.1 94.2 279.6 91.8 279.6 89.9 C279.6 88.1 280.1 86.1 280.8 84.4 C281.5 82.7 283.4 81.3 284.0 79.6 C284.5 77.9 284.0 75.8 284.0 74.1 C284.0 72.4 283.2 70.6 284.0 69.2Z" fill="none" stroke="#1a0304" stroke-width="0.45" opacity="0.65"/>
<path d="M284.5 70.9 C285.2 69.7 287.3 68.7 288.6 67.9 C290.0 67.1 291.7 65.9 292.7 66.1 C293.8 66.3 294.2 67.3 294.8 68.8 C295.4 70.3 296.0 73.1 296.1 75.1 C296.3 77.0 296.5 79.1 295.8 80.5 C295.2 82.0 293.1 83.1 292.0 84.0 C291.0 84.9 289.8 84.9 289.3 86.0 C288.9 87.2 289.5 89.4 289.3 90.8 C289.1 92.2 288.7 93.4 287.9 94.2 C287.1 95.0 285.5 95.7 284.5 95.6 C283.5 95.5 282.4 94.7 281.8 93.5 C281.2 92.4 280.7 90.3 280.7 88.8 C280.7 87.2 281.2 85.4 281.8 84.0 C282.4 82.5 284.1 81.3 284.5 79.9 C285.0 78.4 284.5 76.6 284.5 75.1 C284.5 73.6 283.8 72.1 284.5 70.9Z" fill="none" stroke="#fff" stroke-width="0.75" opacity="0.7"/>
<path d="M285.1 72.5 C285.7 71.5 287.4 70.7 288.5 70.0 C289.7 69.3 291.1 68.4 292.0 68.5 C292.9 68.6 293.2 69.6 293.7 70.8 C294.2 72.1 294.7 74.4 294.9 76.1 C295.0 77.7 295.2 79.4 294.6 80.7 C294.0 81.9 292.3 82.8 291.4 83.5 C290.5 84.3 289.5 84.3 289.1 85.3 C288.7 86.2 289.3 88.2 289.1 89.3 C288.9 90.5 288.6 91.5 288.0 92.2 C287.3 92.9 285.9 93.4 285.1 93.3 C284.2 93.2 283.3 92.6 282.8 91.6 C282.2 90.7 281.9 88.9 281.9 87.6 C281.9 86.2 282.2 84.8 282.8 83.5 C283.3 82.3 284.7 81.3 285.1 80.1 C285.5 78.8 285.1 77.3 285.1 76.1 C285.1 74.8 284.5 73.6 285.1 72.5Z" fill="none" stroke="#1a0304" stroke-width="0.45" opacity="0.65"/>
<path d="M285.7 74.5 C286.2 73.7 287.5 73.0 288.4 72.5 C289.3 71.9 290.5 71.2 291.1 71.3 C291.8 71.4 292.1 72.1 292.5 73.1 C292.9 74.1 293.3 75.9 293.4 77.2 C293.5 78.5 293.6 79.8 293.2 80.8 C292.7 81.8 291.4 82.5 290.7 83.1 C290.0 83.7 289.2 83.7 288.9 84.4 C288.6 85.2 289.0 86.7 288.9 87.6 C288.7 88.5 288.5 89.3 288.0 89.8 C287.5 90.3 286.4 90.8 285.7 90.7 C285.1 90.6 284.4 90.1 283.9 89.4 C283.5 88.6 283.2 87.3 283.2 86.2 C283.2 85.2 283.5 84.0 283.9 83.1 C284.4 82.1 285.4 81.3 285.7 80.4 C286.0 79.4 285.7 78.2 285.7 77.2 C285.7 76.2 285.3 75.3 285.7 74.5Z" fill="none" stroke="#fff" stroke-width="0.75" opacity="0.7"/>
<ellipse cx="292.9" cy="76.2" rx="2.7" ry="3.6" fill="none" stroke="#f2c0c0" stroke-width="0.6"/>
<ellipse cx="292.9" cy="76.2" rx="1.5" ry="2.0" fill="#fff" stroke="#333" stroke-width="0.6"/>
<ellipse cx="285.2" cy="90.2" rx="2.7" ry="3.6" fill="none" stroke="#f2c0c0" stroke-width="0.6"/>
<ellipse cx="285.2" cy="90.2" rx="1.5" ry="2.0" fill="#fff" stroke="#333" stroke-width="0.6"/>
<path d="M314.3 87.2 C314.3 88.9 314.1 90.7 313.6 92.2 C313.2 93.7 312.5 95.2 311.8 96.2 C311.0 97.2 310.0 98.0 309.1 98.4 C308.1 98.8 307.1 98.8 306.1 98.4 C305.2 98.0 304.2 97.2 303.4 96.2 C302.7 95.2 302.0 93.7 301.6 92.2 C301.1 90.7 300.9 88.9 300.9 87.2 C300.9 85.5 301.1 83.7 301.6 82.2 C302.0 80.7 302.7 79.2 303.4 78.2 C304.2 77.2 305.2 76.4 306.1 76.0 C307.1 75.6 308.1 75.6 309.1 76.0 C310.0 76.4 311.0 77.2 311.8 78.2 C312.5 79.2 313.2 80.7 313.6 82.2 C314.1 83.7 314.3 85.5 314.3 87.2Z" transform="translate(-0.9 0.2)" fill="#1a1a1a" stroke="#1a1a1a" stroke-width="1.4"/>
<path d="M314.3 87.2 C314.3 88.9 314.1 90.7 313.6 92.2 C313.2 93.7 312.5 95.2 311.8 96.2 C311.0 97.2 310.0 98.0 309.1 98.4 C308.1 98.8 307.1 98.8 306.1 98.4 C305.2 98.0 304.2 97.2 303.4 96.2 C302.7 95.2 302.0 93.7 301.6 92.2 C301.1 90.7 300.9 88.9 300.9 87.2 C300.9 85.5 301.1 83.7 301.6 82.2 C302.0 80.7 302.7 79.2 303.4 78.2 C304.2 77.2 305.2 76.4 306.1 76.0 C307.1 75.6 308.1 75.6 309.1 76.0 C310.0 76.4 311.0 77.2 311.8 78.2 C312.5 79.2 313.2 80.7 313.6 82.2 C314.1 83.7 314.3 85.5 314.3 87.2Z" fill="#c4161c"/>
<path d="M313.6 87.2 C313.6 88.7 313.4 90.3 313.0 91.7 C312.7 93.0 312.0 94.4 311.4 95.3 C310.7 96.2 309.8 97.0 308.9 97.3 C308.1 97.6 307.1 97.6 306.3 97.3 C305.4 97.0 304.5 96.2 303.8 95.3 C303.2 94.4 302.5 93.0 302.2 91.7 C301.8 90.3 301.6 88.7 301.6 87.2 C301.6 85.7 301.8 84.1 302.2 82.7 C302.5 81.4 303.2 80.0 303.8 79.1 C304.5 78.2 305.4 77.4 306.3 77.1 C307.1 76.8 308.1 76.8 308.9 77.1 C309.8 77.4 310.7 78.2 311.4 79.1 C312.0 80.0 312.7 81.4 313.0 82.7 C313.4 84.1 313.6 85.7 313.6 87.2Z" fill="none" stroke="#1a0304" stroke-width="0.45" opacity="0.65"/>
<path d="M313.0 87.2 C313.0 88.5 312.8 90.0 312.4 91.2 C312.1 92.4 311.5 93.6 310.9 94.4 C310.3 95.2 309.5 95.9 308.8 96.2 C308.0 96.5 307.2 96.5 306.4 96.2 C305.7 95.9 304.9 95.2 304.3 94.4 C303.7 93.6 303.1 92.4 302.8 91.2 C302.4 90.0 302.2 88.5 302.2 87.2 C302.2 85.9 302.4 84.4 302.8 83.2 C303.1 82.0 303.7 80.8 304.3 80.0 C304.9 79.2 305.7 78.5 306.4 78.2 C307.2 77.9 308.0 77.9 308.8 78.2 C309.5 78.5 310.3 79.2 310.9 80.0 C311.5 80.8 312.1 82.0 312.4 83.2 C312.8 84.4 313.0 85.9 313.0 87.2Z" fill="none" stroke="#fff" stroke-width="0.75" opacity="0.7"/>
<path d="M312.3 87.2 C312.3 88.4 312.1 89.6 311.8 90.7 C311.5 91.7 311.1 92.8 310.5 93.5 C310.0 94.2 309.3 94.8 308.6 95.0 C308.0 95.3 307.2 95.3 306.6 95.0 C305.9 94.8 305.2 94.2 304.7 93.5 C304.1 92.8 303.7 91.7 303.4 90.7 C303.1 89.6 302.9 88.4 302.9 87.2 C302.9 86.0 303.1 84.8 303.4 83.7 C303.7 82.7 304.1 81.6 304.7 80.9 C305.2 80.2 305.9 79.6 306.6 79.4 C307.2 79.1 308.0 79.1 308.6 79.4 C309.3 79.6 310.0 80.2 310.5 80.9 C311.1 81.6 311.5 82.7 311.8 83.7 C312.1 84.8 312.3 86.0 312.3 87.2Z" fill="none" stroke="#1a0304" stroke-width="0.45" opacity="0.65"/>
<path d="M311.6 87.2 C311.6 88.2 311.5 89.3 311.2 90.2 C311.0 91.1 310.6 92.0 310.1 92.6 C309.7 93.2 309.1 93.7 308.5 93.9 C307.9 94.1 307.3 94.1 306.7 93.9 C306.1 93.7 305.5 93.2 305.1 92.6 C304.6 92.0 304.2 91.1 304.0 90.2 C303.7 89.3 303.6 88.2 303.6 87.2 C303.6 86.2 303.7 85.1 304.0 84.2 C304.2 83.3 304.6 82.4 305.1 81.8 C305.5 81.2 306.1 80.7 306.7 80.5 C307.3 80.3 307.9 80.3 308.5 80.5 C309.1 80.7 309.7 81.2 310.1 81.8 C310.6 82.4 311.0 83.3 311.2 84.2 C311.5 85.1 311.6 86.2 311.6 87.2Z" fill="none" stroke="#fff" stroke-width="0.75" opacity="0.7"/>
<path d="M311.0 87.2 C311.0 88.0 310.8 88.9 310.6 89.7 C310.4 90.4 310.1 91.2 309.7 91.7 C309.3 92.2 308.8 92.6 308.3 92.8 C307.9 93.0 307.3 93.0 306.9 92.8 C306.4 92.6 305.9 92.2 305.5 91.7 C305.1 91.2 304.8 90.4 304.6 89.7 C304.4 88.9 304.2 88.0 304.2 87.2 C304.2 86.4 304.4 85.5 304.6 84.7 C304.8 84.0 305.1 83.2 305.5 82.7 C305.9 82.2 306.4 81.8 306.9 81.6 C307.3 81.4 307.9 81.4 308.3 81.6 C308.8 81.8 309.3 82.2 309.7 82.7 C310.1 83.2 310.4 84.0 310.6 84.7 C310.8 85.5 311.0 86.4 311.0 87.2Z" fill="none" stroke="#1a0304" stroke-width="0.45" opacity="0.65"/>
<path d="M310.3 87.2 C310.3 87.9 310.2 88.6 310.0 89.2 C309.8 89.8 309.6 90.4 309.3 90.8 C309.0 91.2 308.6 91.5 308.2 91.7 C307.8 91.8 307.4 91.8 307.0 91.7 C306.6 91.5 306.2 91.2 305.9 90.8 C305.6 90.4 305.4 89.8 305.2 89.2 C305.0 88.6 304.9 87.9 304.9 87.2 C304.9 86.5 305.0 85.8 305.2 85.2 C305.4 84.6 305.6 84.0 305.9 83.6 C306.2 83.2 306.6 82.9 307.0 82.7 C307.4 82.6 307.8 82.6 308.2 82.7 C308.6 82.9 309.0 83.2 309.3 83.6 C309.6 84.0 309.8 84.6 310.0 85.2 C310.2 85.8 310.3 86.5 310.3 87.2Z" fill="none" stroke="#fff" stroke-width="0.75" opacity="0.7"/>
<path d="M309.6 87.2 C309.6 87.7 309.5 88.2 309.4 88.7 C309.3 89.1 309.1 89.6 308.9 89.9 C308.6 90.2 308.3 90.5 308.0 90.6 C307.8 90.7 307.4 90.7 307.2 90.6 C306.9 90.5 306.6 90.2 306.3 89.9 C306.1 89.6 305.9 89.1 305.8 88.7 C305.7 88.2 305.6 87.7 305.6 87.2 C305.6 86.7 305.7 86.2 305.8 85.7 C305.9 85.3 306.1 84.8 306.3 84.5 C306.6 84.2 306.9 83.9 307.2 83.8 C307.4 83.7 307.8 83.7 308.0 83.8 C308.3 83.9 308.6 84.2 308.9 84.5 C309.1 84.8 309.3 85.3 309.4 85.7 C309.5 86.2 309.6 86.7 309.6 87.2Z" fill="none" stroke="#1a0304" stroke-width="0.45" opacity="0.65"/>
<ellipse cx="307.6" cy="87.2" rx="2.7" ry="3.6" fill="none" stroke="#f2c0c0" stroke-width="0.6"/>
<ellipse cx="307.6" cy="87.2" rx="1.5" ry="2.0" fill="#fff" stroke="#333" stroke-width="0.6"/>
<ellipse transform="translate(316.7 88.3) rotate(0)" rx="5.0" ry="6.3" fill="none" stroke="#c4161c" stroke-width="0.7"/>
<ellipse transform="translate(316.7 88.3) rotate(0)" rx="3.0" ry="4.0" fill="none" stroke="#c4161c" stroke-width="0.7"/>
<path d="M351.0 73.5 C351.0 74.8 350.7 76.1 350.2 77.3 C349.7 78.4 348.9 79.5 348.0 80.3 C347.1 81.1 345.9 81.7 344.8 82.0 C343.7 82.3 342.3 82.3 341.2 82.0 C340.1 81.7 338.9 81.1 338.0 80.3 C337.1 79.5 336.3 78.4 335.8 77.3 C335.3 76.1 335.0 74.8 335.0 73.5 C335.0 72.2 335.3 70.9 335.8 69.7 C336.3 68.6 337.1 67.5 338.0 66.7 C338.9 65.9 340.1 65.3 341.2 65.0 C342.3 64.7 343.7 64.7 344.8 65.0 C345.9 65.3 347.1 65.9 348.0 66.7 C348.9 67.5 349.7 68.6 350.2 69.7 C350.7 70.9 351.0 72.2 351.0 73.5Z" transform="translate(-0.9 0.2)" fill="#1a1a1a" stroke="#1a1a1a" stroke-width="1.4"/>
<path d="M351.0 73.5 C351.0 74.8 350.7 76.1 350.2 77.3 C349.7 78.4 348.9 79.5 348.0 80.3 C347.1 81.1 345.9 81.7 344.8 82.0 C343.7 82.3 342.3 82.3 341.2 82.0 C340.1 81.7 338.9 81.1 338.0 80.3 C337.1 79.5 336.3 78.4 335.8 77.3 C335.3 76.1 335.0 74.8 335.0 73.5 C335.0 72.2 335.3 70.9 335.8 69.7 C336.3 68.6 337.1 67.5 338.0 66.7 C338.9 65.9 340.1 65.3 341.2 65.0 C342.3 64.7 343.7 64.7 344.8 65.0 C345.9 65.3 347.1 65.9 348.0 66.7 C348.9 67.5 349.7 68.6 350.2 69.7 C350.7 70.9 351.0 72.2 351.0 73.5Z" fill="#c4161c"/>
<path d="M350.2 73.5 C350.2 74.6 349.9 75.9 349.5 76.9 C349.0 77.9 348.3 78.9 347.5 79.6 C346.7 80.3 345.6 80.9 344.6 81.1 C343.6 81.4 342.4 81.4 341.4 81.1 C340.4 80.9 339.3 80.3 338.5 79.6 C337.7 78.9 337.0 77.9 336.5 76.9 C336.1 75.9 335.8 74.6 335.8 73.5 C335.8 72.4 336.1 71.1 336.5 70.1 C337.0 69.1 337.7 68.1 338.5 67.4 C339.3 66.7 340.4 66.1 341.4 65.9 C342.4 65.6 343.6 65.6 344.6 65.9 C345.6 66.1 346.7 66.7 347.5 67.4 C348.3 68.1 349.0 69.1 349.5 70.1 C349.9 71.1 350.2 72.4 350.2 73.5Z" fill="none" stroke="#1a0304" stroke-width="0.45" opacity="0.65"/>
<path d="M349.4 73.5 C349.4 74.5 349.2 75.6 348.8 76.5 C348.4 77.4 347.7 78.3 347.0 78.9 C346.3 79.6 345.3 80.1 344.4 80.3 C343.5 80.5 342.5 80.5 341.6 80.3 C340.7 80.1 339.7 79.6 339.0 78.9 C338.3 78.3 337.6 77.4 337.2 76.5 C336.8 75.6 336.6 74.5 336.6 73.5 C336.6 72.5 336.8 71.4 337.2 70.5 C337.6 69.6 338.3 68.7 339.0 68.1 C339.7 67.4 340.7 66.9 341.6 66.7 C342.5 66.5 343.5 66.5 344.4 66.7 C345.3 66.9 346.3 67.4 347.0 68.1 C347.7 68.7 348.4 69.6 348.8 70.5 C349.2 71.4 349.4 72.5 349.4 73.5Z" fill="none" stroke="#fff" stroke-width="0.75" opacity="0.7"/>
<path d="M348.6 73.5 C348.6 74.4 348.4 75.3 348.0 76.1 C347.7 76.9 347.1 77.7 346.5 78.3 C345.9 78.8 345.0 79.2 344.2 79.4 C343.5 79.6 342.5 79.6 341.8 79.4 C341.0 79.2 340.1 78.8 339.5 78.3 C338.9 77.7 338.3 76.9 338.0 76.1 C337.6 75.3 337.4 74.4 337.4 73.5 C337.4 72.6 337.6 71.7 338.0 70.9 C338.3 70.1 338.9 69.3 339.5 68.7 C340.1 68.2 341.0 67.8 341.8 67.6 C342.5 67.4 343.5 67.4 344.2 67.6 C345.0 67.8 345.9 68.2 346.5 68.7 C347.1 69.3 347.7 70.1 348.0 70.9 C348.4 71.7 348.6 72.6 348.6 73.5Z" fill="none" stroke="#1a0304" stroke-width="0.45" opacity="0.65"/>
<path d="M347.8 73.5 C347.8 74.3 347.6 75.1 347.3 75.8 C347.0 76.4 346.5 77.1 346.0 77.6 C345.4 78.1 344.7 78.4 344.1 78.6 C343.4 78.8 342.6 78.8 341.9 78.6 C341.3 78.4 340.6 78.1 340.0 77.6 C339.5 77.1 339.0 76.4 338.7 75.8 C338.4 75.1 338.2 74.3 338.2 73.5 C338.2 72.7 338.4 71.9 338.7 71.2 C339.0 70.6 339.5 69.9 340.0 69.4 C340.6 68.9 341.3 68.6 341.9 68.4 C342.6 68.2 343.4 68.2 344.1 68.4 C344.7 68.6 345.4 68.9 346.0 69.4 C346.5 69.9 347.0 70.6 347.3 71.2 C347.6 71.9 347.8 72.7 347.8 73.5Z" fill="none" stroke="#fff" stroke-width="0.75" opacity="0.7"/>
<path d="M347.0 73.5 C347.0 74.1 346.9 74.8 346.6 75.4 C346.4 76.0 345.9 76.5 345.5 76.9 C345.0 77.3 344.5 77.6 343.9 77.7 C343.3 77.9 342.7 77.9 342.1 77.7 C341.5 77.6 341.0 77.3 340.5 76.9 C340.1 76.5 339.6 76.0 339.4 75.4 C339.1 74.8 339.0 74.1 339.0 73.5 C339.0 72.9 339.1 72.2 339.4 71.6 C339.6 71.0 340.1 70.5 340.5 70.1 C341.0 69.7 341.5 69.4 342.1 69.3 C342.7 69.1 343.3 69.1 343.9 69.3 C344.5 69.4 345.0 69.7 345.5 70.1 C345.9 70.5 346.4 71.0 346.6 71.6 C346.9 72.2 347.0 72.9 347.0 73.5Z" fill="none" stroke="#1a0304" stroke-width="0.45" opacity="0.65"/>
<path d="M346.2 73.5 C346.2 74.0 346.1 74.6 345.9 75.0 C345.7 75.5 345.4 75.9 345.0 76.2 C344.6 76.5 344.2 76.8 343.7 76.9 C343.3 77.0 342.7 77.0 342.3 76.9 C341.8 76.8 341.4 76.5 341.0 76.2 C340.6 75.9 340.3 75.5 340.1 75.0 C339.9 74.6 339.8 74.0 339.8 73.5 C339.8 73.0 339.9 72.4 340.1 72.0 C340.3 71.5 340.6 71.1 341.0 70.8 C341.4 70.5 341.8 70.2 342.3 70.1 C342.7 70.0 343.3 70.0 343.7 70.1 C344.2 70.2 344.6 70.5 345.0 70.8 C345.4 71.1 345.7 71.5 345.9 72.0 C346.1 72.4 346.2 73.0 346.2 73.5Z" fill="none" stroke="#fff" stroke-width="0.75" opacity="0.7"/>
<path d="M345.4 73.5 C345.4 73.9 345.3 74.3 345.2 74.6 C345.0 75.0 344.8 75.3 344.5 75.5 C344.2 75.8 343.9 76.0 343.5 76.0 C343.2 76.1 342.8 76.1 342.5 76.0 C342.1 76.0 341.8 75.8 341.5 75.5 C341.2 75.3 341.0 75.0 340.8 74.6 C340.7 74.3 340.6 73.9 340.6 73.5 C340.6 73.1 340.7 72.7 340.8 72.4 C341.0 72.0 341.2 71.7 341.5 71.5 C341.8 71.2 342.1 71.0 342.5 71.0 C342.8 70.9 343.2 70.9 343.5 71.0 C343.9 71.0 344.2 71.2 344.5 71.5 C344.8 71.7 345.0 72.0 345.2 72.4 C345.3 72.7 345.4 73.1 345.4 73.5Z" fill="none" stroke="#1a0304" stroke-width="0.45" opacity="0.65"/>
<ellipse cx="343.0" cy="73.5" rx="2.7" ry="3.6" fill="none" stroke="#f2c0c0" stroke-width="0.6"/>
<ellipse cx="343.0" cy="73.5" rx="1.5" ry="2.0" fill="#fff" stroke="#333" stroke-width="0.6"/>
<path d="M262.0 101.0 C263.2 100.3 266.0 102.7 268.0 104.0 C270.0 105.3 272.8 106.8 274.0 109.0 C275.2 111.2 275.8 114.7 275.5 117.0 C275.2 119.3 273.6 121.9 272.0 122.7 C270.4 123.5 267.8 123.0 266.0 122.0 C264.2 121.0 261.9 119.3 261.0 117.0 C260.1 114.7 260.4 110.7 260.6 108.0 C260.8 105.3 260.8 101.7 262.0 101.0Z" transform="translate(-0.9 -0.2)" fill="#1a1a1a" stroke="#1a1a1a" stroke-width="1.4"/>
<path d="M262.0 101.0 C263.2 100.3 266.0 102.7 268.0 104.0 C270.0 105.3 272.8 106.8 274.0 109.0 C275.2 111.2 275.8 114.7 275.5 117.0 C275.2 119.3 273.6 121.9 272.0 122.7 C270.4 123.5 267.8 123.0 266.0 122.0 C264.2 121.0 261.9 119.3 261.0 117.0 C260.1 114.7 260.4 110.7 260.6 108.0 C260.8 105.3 260.8 101.7 262.0 101.0Z" fill="#c4161c"/>
<path d="M262.6 102.2 C263.7 101.6 266.2 103.7 268.0 104.9 C269.8 106.1 272.3 107.5 273.4 109.4 C274.5 111.4 275.1 114.5 274.8 116.6 C274.4 118.7 273.0 121.0 271.6 121.7 C270.2 122.5 267.9 122.0 266.2 121.1 C264.5 120.2 262.5 118.7 261.7 116.6 C260.9 114.5 261.2 110.9 261.3 108.5 C261.5 106.1 261.5 102.8 262.6 102.2Z" fill="none" stroke="#1a0304" stroke-width="0.45" opacity="0.65"/>
<path d="M263.2 103.4 C264.2 102.9 266.4 104.7 268.0 105.8 C269.6 106.9 271.8 108.1 272.8 109.8 C273.8 111.5 274.3 114.4 274.0 116.2 C273.7 118.0 272.5 120.1 271.2 120.8 C269.9 121.4 267.9 121.0 266.4 120.2 C264.9 119.4 263.1 118.1 262.4 116.2 C261.7 114.3 261.9 111.1 262.1 109.0 C262.2 106.9 262.2 103.9 263.2 103.4Z" fill="none" stroke="#fff" stroke-width="0.75" opacity="0.7"/>
<path d="M263.8 104.6 C264.7 104.1 266.6 105.8 268.0 106.7 C269.4 107.6 271.3 108.7 272.2 110.2 C273.1 111.7 273.5 114.2 273.2 115.8 C273.0 117.4 271.9 119.2 270.8 119.8 C269.7 120.4 267.9 120.0 266.6 119.3 C265.3 118.6 263.7 117.4 263.1 115.8 C262.5 114.2 262.7 111.4 262.8 109.5 C262.9 107.6 262.9 105.1 263.8 104.6Z" fill="none" stroke="#1a0304" stroke-width="0.45" opacity="0.65"/>
<path d="M264.4 105.8 C265.1 105.4 266.8 106.8 268.0 107.6 C269.2 108.4 270.9 109.3 271.6 110.6 C272.4 111.9 272.7 114.0 272.5 115.4 C272.3 116.8 271.3 118.3 270.4 118.8 C269.4 119.3 267.9 119.0 266.8 118.4 C265.7 117.8 264.3 116.8 263.8 115.4 C263.3 114.0 263.5 111.6 263.6 110.0 C263.7 108.4 263.7 106.2 264.4 105.8Z" fill="none" stroke="#fff" stroke-width="0.75" opacity="0.7"/>
<path d="M265.0 107.0 C265.6 106.7 267.0 107.8 268.0 108.5 C269.0 109.2 270.4 109.9 271.0 111.0 C271.6 112.1 271.9 113.9 271.8 115.0 C271.6 116.1 270.8 117.4 270.0 117.8 C269.2 118.3 267.9 118.0 267.0 117.5 C266.1 117.0 264.9 116.2 264.5 115.0 C264.1 113.8 264.2 111.8 264.3 110.5 C264.4 109.2 264.4 107.3 265.0 107.0Z" fill="none" stroke="#1a0304" stroke-width="0.45" opacity="0.65"/>
<path d="M265.6 108.2 C266.1 107.9 267.2 108.9 268.0 109.4 C268.8 109.9 269.9 110.5 270.4 111.4 C270.9 112.3 271.1 113.7 271.0 114.6 C270.9 115.5 270.2 116.5 269.6 116.9 C269.0 117.2 267.9 117.0 267.2 116.6 C266.5 116.2 265.6 115.5 265.2 114.6 C264.8 113.7 265.0 112.1 265.0 111.0 C265.1 109.9 265.1 108.5 265.6 108.2Z" fill="none" stroke="#fff" stroke-width="0.75" opacity="0.7"/>
<path d="M266.2 109.4 C266.6 109.2 267.4 109.9 268.0 110.3 C268.6 110.7 269.4 111.1 269.8 111.8 C270.2 112.5 270.4 113.5 270.2 114.2 C270.1 114.9 269.7 115.7 269.2 115.9 C268.7 116.2 267.9 116.0 267.4 115.7 C266.8 115.4 266.2 114.9 265.9 114.2 C265.6 113.5 265.7 112.3 265.8 111.5 C265.8 110.7 265.8 109.6 266.2 109.4Z" fill="none" stroke="#1a0304" stroke-width="0.45" opacity="0.65"/>
<ellipse cx="268.0" cy="113.0" rx="2.7" ry="3.6" fill="none" stroke="#f2c0c0" stroke-width="0.6"/>
<ellipse cx="268.0" cy="113.0" rx="1.5" ry="2.0" fill="#fff" stroke="#333" stroke-width="0.6"/>
<ellipse transform="translate(282.4 113.2) rotate(0)" rx="5.4" ry="9.5" fill="none" stroke="#1a1a1a" stroke-width="0.8"/>
<ellipse transform="translate(282.4 113.2) rotate(0)" rx="4.0" ry="7.5" fill="none" stroke="#c4161c" stroke-width="0.8"/>
<ellipse transform="translate(282.4 114.0) rotate(0)" rx="2.0" ry="4.0" fill="none" stroke="#1a1a1a" stroke-width="0.7"/>
<path d="M276.0 128.0 C277.3 126.8 280.0 128.5 282.0 130.0 C284.0 131.5 286.6 134.3 288.0 137.0 C289.4 139.7 290.3 143.2 290.3 146.0 C290.3 148.8 289.2 152.3 288.0 153.5 C286.8 154.7 284.8 154.2 283.0 153.0 C281.2 151.8 278.5 148.7 277.0 146.0 C275.5 143.3 274.2 140.0 274.0 137.0 C273.8 134.0 274.7 129.2 276.0 128.0Z" transform="translate(-0.9 -0.2)" fill="#1a1a1a" stroke="#1a1a1a" stroke-width="1.4"/>
<path d="M276.0 128.0 C277.3 126.8 280.0 128.5 282.0 130.0 C284.0 131.5 286.6 134.3 288.0 137.0 C289.4 139.7 290.3 143.2 290.3 146.0 C290.3 148.8 289.2 152.3 288.0 153.5 C286.8 154.7 284.8 154.2 283.0 153.0 C281.2 151.8 278.5 148.7 277.0 146.0 C275.5 143.3 274.2 140.0 274.0 137.0 C273.8 134.0 274.7 129.2 276.0 128.0Z" fill="#c4161c"/>
<path d="M276.6 129.2 C277.8 128.1 280.2 129.7 282.0 131.0 C283.8 132.3 286.2 134.9 287.4 137.3 C288.6 139.7 289.5 142.9 289.5 145.4 C289.5 147.9 288.5 151.1 287.4 152.2 C286.3 153.2 284.5 152.8 282.9 151.7 C281.2 150.6 278.9 147.8 277.5 145.4 C276.1 143.0 274.9 140.0 274.8 137.3 C274.7 134.6 275.4 130.2 276.6 129.2Z" fill="none" stroke="#1a0304" stroke-width="0.45" opacity="0.65"/>
<path d="M277.2 130.4 C278.3 129.5 280.4 130.8 282.0 132.0 C283.6 133.2 285.7 135.5 286.8 137.6 C287.9 139.7 288.6 142.6 288.6 144.8 C288.6 147.0 287.8 149.9 286.8 150.8 C285.8 151.7 284.3 151.4 282.8 150.4 C281.3 149.4 279.2 146.9 278.0 144.8 C276.8 142.7 275.7 140.0 275.6 137.6 C275.5 135.2 276.1 131.3 277.2 130.4Z" fill="none" stroke="#fff" stroke-width="0.75" opacity="0.7"/>
<path d="M277.8 131.6 C278.7 130.8 280.6 131.9 282.0 133.0 C283.4 134.1 285.2 136.0 286.2 137.9 C287.2 139.8 287.8 142.3 287.8 144.2 C287.8 146.1 287.1 148.6 286.2 149.4 C285.3 150.3 284.0 150.0 282.7 149.1 C281.4 148.2 279.6 146.1 278.5 144.2 C277.4 142.3 276.5 140.0 276.4 137.9 C276.3 135.8 276.9 132.4 277.8 131.6Z" fill="none" stroke="#1a0304" stroke-width="0.45" opacity="0.65"/>
<path d="M278.4 132.8 C279.2 132.1 280.8 133.1 282.0 134.0 C283.2 134.9 284.8 136.6 285.6 138.2 C286.4 139.8 287.0 141.9 287.0 143.6 C287.0 145.2 286.3 147.4 285.6 148.1 C284.9 148.8 283.7 148.6 282.6 147.8 C281.5 147.1 279.9 145.2 279.0 143.6 C278.1 142.0 277.3 140.0 277.2 138.2 C277.1 136.4 277.6 133.5 278.4 132.8Z" fill="none" stroke="#fff" stroke-width="0.75" opacity="0.7"/>
<path d="M279.0 134.0 C279.7 133.4 281.0 134.2 282.0 135.0 C283.0 135.8 284.3 137.2 285.0 138.5 C285.7 139.8 286.1 141.6 286.1 143.0 C286.1 144.4 285.6 146.2 285.0 146.8 C284.4 147.3 283.4 147.1 282.5 146.5 C281.6 145.9 280.2 144.3 279.5 143.0 C278.8 141.7 278.1 140.0 278.0 138.5 C277.9 137.0 278.3 134.6 279.0 134.0Z" fill="none" stroke="#1a0304" stroke-width="0.45" opacity="0.65"/>
<path d="M279.6 135.2 C280.1 134.7 281.2 135.4 282.0 136.0 C282.8 136.6 283.8 137.7 284.4 138.8 C285.0 139.9 285.3 141.3 285.3 142.4 C285.3 143.5 284.9 144.9 284.4 145.4 C283.9 145.9 283.1 145.7 282.4 145.2 C281.7 144.7 280.6 143.5 280.0 142.4 C279.4 141.3 278.9 140.0 278.8 138.8 C278.7 137.6 279.1 135.7 279.6 135.2Z" fill="none" stroke="#fff" stroke-width="0.75" opacity="0.7"/>
<path d="M280.2 136.4 C280.6 136.1 281.4 136.6 282.0 137.0 C282.6 137.4 283.4 138.3 283.8 139.1 C284.2 139.9 284.5 141.0 284.5 141.8 C284.5 142.6 284.2 143.7 283.8 144.1 C283.4 144.4 282.9 144.3 282.3 143.9 C281.8 143.5 280.9 142.6 280.5 141.8 C280.1 141.0 279.7 140.0 279.6 139.1 C279.6 138.2 279.8 136.8 280.2 136.4Z" fill="none" stroke="#1a0304" stroke-width="0.45" opacity="0.65"/>
<ellipse cx="282.0" cy="140.0" rx="2.7" ry="3.6" fill="none" stroke="#f2c0c0" stroke-width="0.6"/>
<ellipse cx="282.0" cy="140.0" rx="1.5" ry="2.0" fill="#fff" stroke="#333" stroke-width="0.6"/>
<path d="M396.6 58.0 C394.7 58.2 390.7 60.3 387.8 62.3 C385.0 64.3 383.3 66.5 379.6 69.7 C376.0 73.0 370.8 77.3 366.1 82.0 C361.4 86.7 356.0 93.3 351.5 97.9 C346.9 102.6 342.8 105.9 338.8 109.9 C334.8 113.9 332.0 118.0 327.4 122.0 C322.7 126.0 315.8 129.4 310.7 133.7 C305.7 138.1 301.9 143.5 297.0 148.1 C292.1 152.7 286.5 156.7 281.4 161.5 C276.3 166.4 270.3 173.1 266.5 177.2 C262.8 181.3 261.1 183.4 259.1 186.2 C257.1 189.1 254.6 192.3 254.3 194.1 C253.9 195.9 255.4 197.3 257.1 196.9 C258.9 196.5 262.2 193.9 264.9 191.8 C267.6 189.6 269.5 187.7 273.5 183.8 C277.4 179.9 283.9 173.6 288.6 168.5 C293.3 163.3 296.8 157.4 301.6 152.9 C306.4 148.4 312.2 145.6 317.3 141.3 C322.3 137.0 327.0 131.0 331.6 127.0 C336.3 123.0 340.7 120.7 345.2 117.1 C349.7 113.4 353.7 109.6 358.5 105.1 C363.3 100.6 369.1 94.6 373.9 90.0 C378.7 85.4 383.8 81.0 387.2 77.5 C390.5 73.9 392.2 71.5 394.2 68.7 C396.1 65.9 398.6 62.4 399.0 60.6 C399.4 58.8 398.5 57.7 396.6 58.0Z" transform="translate(0.7 0.5)" fill="#1a1a1a" stroke="#1a1a1a" stroke-width="1.2"/>
<path d="M396.6 58.0 C394.7 58.2 390.7 60.3 387.8 62.3 C385.0 64.3 383.3 66.5 379.6 69.7 C376.0 73.0 370.8 77.3 366.1 82.0 C361.4 86.7 356.0 93.3 351.5 97.9 C346.9 102.6 342.8 105.9 338.8 109.9 C334.8 113.9 332.0 118.0 327.4 122.0 C322.7 126.0 315.8 129.4 310.7 133.7 C305.7 138.1 301.9 143.5 297.0 148.1 C292.1 152.7 286.5 156.7 281.4 161.5 C276.3 166.4 270.3 173.1 266.5 177.2 C262.8 181.3 261.1 183.4 259.1 186.2 C257.1 189.1 254.6 192.3 254.3 194.1 C253.9 195.9 255.4 197.3 257.1 196.9 C258.9 196.5 262.2 193.9 264.9 191.8 C267.6 189.6 269.5 187.7 273.5 183.8 C277.4 179.9 283.9 173.6 288.6 168.5 C293.3 163.3 296.8 157.4 301.6 152.9 C306.4 148.4 312.2 145.6 317.3 141.3 C322.3 137.0 327.0 131.0 331.6 127.0 C336.3 123.0 340.7 120.7 345.2 117.1 C349.7 113.4 353.7 109.6 358.5 105.1 C363.3 100.6 369.1 94.6 373.9 90.0 C378.7 85.4 383.8 81.0 387.2 77.5 C390.5 73.9 392.2 71.5 394.2 68.7 C396.1 65.9 398.6 62.4 399.0 60.6 C399.4 58.8 398.5 57.7 396.6 58.0Z" transform="translate(-0.5599999999999999 -0.4)" fill="#1a1a1a" stroke="#1a1a1a" stroke-width="0.8"/>
<path d="M396.6 58.0 C394.7 58.2 390.7 60.3 387.8 62.3 C385.0 64.3 383.3 66.5 379.6 69.7 C376.0 73.0 370.8 77.3 366.1 82.0 C361.4 86.7 356.0 93.3 351.5 97.9 C346.9 102.6 342.8 105.9 338.8 109.9 C334.8 113.9 332.0 118.0 327.4 122.0 C322.7 126.0 315.8 129.4 310.7 133.7 C305.7 138.1 301.9 143.5 297.0 148.1 C292.1 152.7 286.5 156.7 281.4 161.5 C276.3 166.4 270.3 173.1 266.5 177.2 C262.8 181.3 261.1 183.4 259.1 186.2 C257.1 189.1 254.6 192.3 254.3 194.1 C253.9 195.9 255.4 197.3 257.1 196.9 C258.9 196.5 262.2 193.9 264.9 191.8 C267.6 189.6 269.5 187.7 273.5 183.8 C277.4 179.9 283.9 173.6 288.6 168.5 C293.3 163.3 296.8 157.4 301.6 152.9 C306.4 148.4 312.2 145.6 317.3 141.3 C322.3 137.0 327.0 131.0 331.6 127.0 C336.3 123.0 340.7 120.7 345.2 117.1 C349.7 113.4 353.7 109.6 358.5 105.1 C363.3 100.6 369.1 94.6 373.9 90.0 C378.7 85.4 383.8 81.0 387.2 77.5 C390.5 73.9 392.2 71.5 394.2 68.7 C396.1 65.9 398.6 62.4 399.0 60.6 C399.4 58.8 398.5 57.7 396.6 58.0Z" fill="#c4161c"/>
<path d="M396.9 58.3 C395.2 58.8 391.3 61.0 388.6 63.1 C385.9 65.2 384.2 67.4 380.6 70.7 C377.0 74.0 371.8 78.3 367.1 83.0 C362.4 87.7 357.0 94.2 352.4 98.8 C347.8 103.5 343.7 106.9 339.6 110.8 C335.5 114.8 332.6 118.6 327.9 122.6 C323.2 126.6 316.6 130.3 311.6 134.7 C306.5 139.0 302.5 144.1 297.6 148.7 C292.7 153.3 287.3 157.5 282.3 162.4 C277.3 167.3 271.1 173.9 267.4 178.0 C263.7 182.1 262.0 184.2 259.8 186.9 C257.7 189.7 255.1 192.9 254.6 194.5 C254.1 196.1 255.2 197.1 256.8 196.5 C258.4 196.0 261.5 193.3 264.2 191.1 C266.8 188.8 268.7 186.9 272.6 183.0 C276.5 179.1 282.9 172.7 287.7 167.6 C292.4 162.5 296.2 156.8 301.0 152.3 C305.8 147.7 311.4 144.7 316.4 140.3 C321.5 136.0 326.4 130.4 331.1 126.4 C335.8 122.4 340.0 119.9 344.4 116.2 C348.8 112.5 352.9 108.7 357.6 104.2 C362.4 99.6 368.2 93.6 372.9 89.0 C377.7 84.4 382.8 80.0 386.2 76.5 C389.6 73.0 391.3 70.6 393.4 67.9 C395.5 65.2 398.1 61.9 398.7 60.3 C399.3 58.7 398.6 57.8 396.9 58.3Z" fill="none" stroke="#2a0506" stroke-width="0.5" opacity="0.6"/>
<path d="M397.1 58.6 C395.6 59.2 391.9 61.6 389.3 63.7 C386.6 65.9 384.9 68.1 381.3 71.5 C377.8 74.8 372.6 79.1 367.8 83.8 C363.1 88.5 357.7 94.9 353.1 99.5 C348.5 104.2 344.4 107.6 340.2 111.5 C336.1 115.5 333.0 119.1 328.3 123.1 C323.6 127.1 317.3 131.1 312.2 135.4 C307.2 139.8 302.9 144.6 298.1 149.2 C293.2 153.8 288.0 158.2 283.0 163.1 C278.0 168.0 271.9 174.6 268.1 178.7 C264.3 182.7 262.6 184.8 260.4 187.5 C258.2 190.2 255.6 193.3 254.9 194.7 C254.3 196.2 255.0 197.0 256.5 196.3 C257.9 195.6 261.0 192.8 263.6 190.5 C266.2 188.2 268.0 186.3 271.9 182.3 C275.8 178.4 282.2 172.0 287.0 166.9 C291.7 161.8 295.7 156.4 300.5 151.8 C305.4 147.3 310.8 143.9 315.8 139.6 C320.8 135.3 326.0 129.9 330.7 125.9 C335.3 121.9 339.4 119.2 343.8 115.5 C348.1 111.7 352.2 108.0 356.9 103.5 C361.7 98.9 367.4 92.8 372.2 88.2 C376.9 83.6 382.0 79.2 385.5 75.7 C388.9 72.2 390.6 69.9 392.7 67.3 C394.9 64.6 397.7 61.5 398.5 60.0 C399.2 58.6 398.7 57.9 397.1 58.6Z" fill="none" stroke="#ffe0e0" stroke-width="0.5" opacity="0.6"/>
<path d="M397.4 58.8 C396.0 59.6 392.4 62.1 389.9 64.4 C387.3 66.6 385.6 68.9 382.1 72.2 C378.5 75.6 373.3 79.9 368.6 84.6 C363.9 89.3 358.4 95.6 353.8 100.3 C349.1 104.9 345.0 108.4 340.9 112.3 C336.7 116.1 333.4 119.6 328.7 123.6 C324.1 127.6 317.9 131.8 312.9 136.2 C307.8 140.5 303.4 145.1 298.5 149.7 C293.7 154.3 288.7 158.8 283.7 163.8 C278.8 168.7 272.6 175.3 268.8 179.3 C265.0 183.4 263.3 185.4 261.0 188.0 C258.7 190.6 256.0 193.7 255.2 195.0 C254.4 196.3 254.9 196.8 256.2 196.0 C257.5 195.1 260.5 192.4 263.0 190.0 C265.5 187.6 267.3 185.6 271.2 181.7 C275.1 177.7 281.4 171.3 286.3 166.2 C291.1 161.2 295.3 155.9 300.1 151.3 C304.9 146.8 310.1 143.2 315.1 138.8 C320.2 134.5 325.6 129.4 330.3 125.4 C334.9 121.4 338.8 118.5 343.1 114.7 C347.5 111.0 351.5 107.3 356.2 102.7 C360.9 98.2 366.6 92.0 371.4 87.4 C376.1 82.8 381.3 78.4 384.7 75.0 C388.2 71.5 389.9 69.1 392.1 66.6 C394.4 64.1 397.3 61.1 398.2 59.8 C399.1 58.5 398.8 58.1 397.4 58.8Z" fill="none" stroke="#2a0506" stroke-width="0.5" opacity="0.6"/>
<path d="M397.8 59.3 L391.0 65.5 L383.4 73.6 L370.0 86.0 L355.0 101.5 L342.0 113.5 L329.5 124.5 L314.0 137.5 L299.3 150.5 L285.0 165.0 L270.0 180.5 L262.0 189.0 L255.7 195.5" fill="none" stroke="#fff" stroke-width="1.1" stroke-dasharray="3.5 2.5" opacity="0.75"/>
<path d="M363.0 73.5 C364.1 72.2 365.8 73.4 367.0 74.5 C368.2 75.6 370.2 78.4 370.0 80.0 C369.8 81.6 367.6 83.7 366.0 84.0 C364.4 84.3 361.0 83.8 360.5 82.0 C360.0 80.2 361.9 74.8 363.0 73.5Z" transform="translate(-0.8 -0.3)" fill="#1a1a1a" stroke="#1a1a1a" stroke-width="1.4"/>
<path d="M363.0 73.5 C364.1 72.2 365.8 73.4 367.0 74.5 C368.2 75.6 370.2 78.4 370.0 80.0 C369.8 81.6 367.6 83.7 366.0 84.0 C364.4 84.3 361.0 83.8 360.5 82.0 C360.0 80.2 361.9 74.8 363.0 73.5Z" fill="#c4161c"/>
<path d="M363.3 74.1 C364.2 73.0 365.8 74.1 366.8 75.0 C367.8 76.0 369.6 78.5 369.4 79.9 C369.3 81.2 367.3 83.1 365.9 83.4 C364.5 83.7 361.5 83.2 361.1 81.6 C360.6 80.1 362.3 75.2 363.3 74.1Z" fill="none" stroke="#1a0304" stroke-width="0.45" opacity="0.65"/>
<path d="M363.6 74.8 C364.4 73.8 365.7 74.7 366.6 75.5 C367.5 76.4 369.0 78.5 368.9 79.7 C368.7 80.9 367.0 82.5 365.8 82.8 C364.6 83.0 362.0 82.6 361.7 81.2 C361.3 79.9 362.7 75.7 363.6 74.8Z" fill="none" stroke="#fff" stroke-width="0.75" opacity="0.7"/>
<path d="M363.8 75.4 C364.5 74.6 365.6 75.4 366.4 76.0 C367.1 76.7 368.4 78.6 368.3 79.6 C368.2 80.6 366.8 81.9 365.7 82.1 C364.7 82.3 362.5 82.0 362.2 80.8 C361.9 79.7 363.1 76.2 363.8 75.4Z" fill="none" stroke="#1a0304" stroke-width="0.45" opacity="0.65"/>
<path d="M364.1 76.2 C364.7 75.5 365.6 76.1 366.1 76.7 C366.7 77.2 367.7 78.6 367.6 79.4 C367.6 80.2 366.4 81.2 365.6 81.4 C364.9 81.6 363.1 81.3 362.9 80.4 C362.6 79.5 363.6 76.8 364.1 76.2Z" fill="none" stroke="#fff" stroke-width="0.75" opacity="0.7"/>
<path d="M371.0 88.5 C372.7 87.1 376.0 86.6 378.0 86.5 C380.0 86.4 382.5 87.2 383.0 88.0 C383.5 88.8 382.3 90.4 381.0 91.5 C379.7 92.6 377.2 93.9 375.0 94.5 C372.8 95.1 368.7 96.0 368.0 95.0 C367.3 94.0 369.3 89.9 371.0 88.5Z" transform="translate(0.6 0.8)" fill="#1a1a1a" stroke="#1a1a1a" stroke-width="1.4"/>
<path d="M371.0 88.5 C372.7 87.1 376.0 86.6 378.0 86.5 C380.0 86.4 382.5 87.2 383.0 88.0 C383.5 88.8 382.3 90.4 381.0 91.5 C379.7 92.6 377.2 93.9 375.0 94.5 C372.8 95.1 368.7 96.0 368.0 95.0 C367.3 94.0 369.3 89.9 371.0 88.5Z" fill="#c4161c"/>
<path d="M371.6 88.8 C373.1 87.5 376.0 87.1 377.8 87.0 C379.5 86.9 381.7 87.6 382.2 88.3 C382.6 89.1 381.6 90.4 380.4 91.4 C379.2 92.4 377.0 93.5 375.1 94.0 C373.2 94.6 369.5 95.4 369.0 94.5 C368.4 93.6 370.1 90.0 371.6 88.8Z" fill="none" stroke="#1a0304" stroke-width="0.45" opacity="0.65"/>
<path d="M372.2 89.0 C373.5 87.9 376.0 87.6 377.5 87.5 C379.0 87.4 380.9 88.0 381.3 88.6 C381.7 89.3 380.8 90.5 379.8 91.3 C378.8 92.1 376.9 93.1 375.2 93.6 C373.6 94.0 370.4 94.7 369.9 94.0 C369.4 93.2 370.9 90.1 372.2 89.0Z" fill="none" stroke="#fff" stroke-width="0.75" opacity="0.7"/>
<path d="M372.8 89.3 C373.9 88.4 376.0 88.1 377.3 88.0 C378.6 87.9 380.2 88.4 380.5 89.0 C380.8 89.5 380.1 90.5 379.2 91.2 C378.3 91.9 376.7 92.7 375.4 93.1 C374.0 93.5 371.3 94.1 370.9 93.4 C370.5 92.8 371.7 90.2 372.8 89.3Z" fill="none" stroke="#1a0304" stroke-width="0.45" opacity="0.65"/>
<path d="M373.5 89.6 C374.3 88.9 376.0 88.6 377.0 88.6 C378.0 88.5 379.2 88.9 379.5 89.3 C379.8 89.8 379.2 90.5 378.5 91.1 C377.8 91.6 376.6 92.3 375.5 92.6 C374.4 92.9 372.3 93.3 372.0 92.8 C371.7 92.3 372.7 90.3 373.5 89.6Z" fill="none" stroke="#fff" stroke-width="0.75" opacity="0.7"/>
<ellipse transform="translate(402.7 55.5) rotate(30)" rx="2.4" ry="3.6" fill="none" stroke="#c4161c" stroke-width="1.2"/>
<ellipse transform="translate(253.2 197.0) rotate(30)" rx="2.3" ry="3.3" fill="none" stroke="#c4161c" stroke-width="0.8"/>
<ellipse transform="translate(336.0 101.5) rotate(0)" rx="2.0" ry="5.2" fill="none" stroke="#c4161c" stroke-width="0.9"/>
<ellipse transform="translate(358.0 116.0) rotate(40)" rx="3.5" ry="6.0" fill="none" stroke="#c4161c" stroke-width="0.8"/>
<ellipse transform="translate(363.0 114.0) rotate(30)" rx="2.0" ry="5.0" fill="none" stroke="#1a1a1a" stroke-width="0.8"/>
<circle cx="241.6" cy="195.2" r="0.8" fill="#c4161c"/>
<path d="M391.1 111.0 C391.1 112.5 390.8 114.2 390.3 115.6 C389.8 117.0 389.0 118.4 388.2 119.4 C387.3 120.3 386.1 121.1 385.0 121.4 C383.9 121.8 382.7 121.8 381.6 121.4 C380.5 121.1 379.3 120.3 378.4 119.4 C377.6 118.4 376.8 117.0 376.3 115.6 C375.8 114.2 375.5 112.5 375.5 111.0 C375.5 109.5 375.8 107.8 376.3 106.4 C376.8 105.0 377.6 103.6 378.4 102.6 C379.3 101.7 380.5 100.9 381.6 100.6 C382.7 100.2 383.9 100.2 385.0 100.6 C386.1 100.9 387.3 101.7 388.2 102.6 C389.0 103.6 389.8 105.0 390.3 106.4 C390.8 107.8 391.1 109.5 391.1 111.0Z" transform="translate(-0.9 0.2)" fill="#1a1a1a" stroke="#1a1a1a" stroke-width="1.4"/>
<path d="M391.1 111.0 C391.1 112.5 390.8 114.2 390.3 115.6 C389.8 117.0 389.0 118.4 388.2 119.4 C387.3 120.3 386.1 121.1 385.0 121.4 C383.9 121.8 382.7 121.8 381.6 121.4 C380.5 121.1 379.3 120.3 378.4 119.4 C377.6 118.4 376.8 117.0 376.3 115.6 C375.8 114.2 375.5 112.5 375.5 111.0 C375.5 109.5 375.8 107.8 376.3 106.4 C376.8 105.0 377.6 103.6 378.4 102.6 C379.3 101.7 380.5 100.9 381.6 100.6 C382.7 100.2 383.9 100.2 385.0 100.6 C386.1 100.9 387.3 101.7 388.2 102.6 C389.0 103.6 389.8 105.0 390.3 106.4 C390.8 107.8 391.1 109.5 391.1 111.0Z" fill="#c4161c"/>
<path d="M390.3 111.0 C390.3 112.4 390.1 113.9 389.6 115.2 C389.2 116.4 388.5 117.7 387.7 118.5 C386.9 119.4 385.9 120.1 384.9 120.4 C383.9 120.7 382.7 120.7 381.7 120.4 C380.7 120.1 379.7 119.4 378.9 118.5 C378.1 117.7 377.4 116.4 377.0 115.2 C376.5 113.9 376.3 112.4 376.3 111.0 C376.3 109.6 376.5 108.1 377.0 106.8 C377.4 105.6 378.1 104.3 378.9 103.5 C379.7 102.6 380.7 101.9 381.7 101.6 C382.7 101.3 383.9 101.3 384.9 101.6 C385.9 101.9 386.9 102.6 387.7 103.5 C388.5 104.3 389.2 105.6 389.6 106.8 C390.1 108.1 390.3 109.6 390.3 111.0Z" fill="none" stroke="#1a0304" stroke-width="0.45" opacity="0.65"/>
<path d="M389.5 111.0 C389.5 112.2 389.3 113.6 388.9 114.7 C388.5 115.8 387.9 116.9 387.2 117.7 C386.5 118.5 385.6 119.1 384.7 119.3 C383.8 119.6 382.8 119.6 381.9 119.3 C381.0 119.1 380.1 118.5 379.4 117.7 C378.7 116.9 378.1 115.8 377.7 114.7 C377.3 113.6 377.1 112.2 377.1 111.0 C377.1 109.8 377.3 108.4 377.7 107.3 C378.1 106.2 378.7 105.1 379.4 104.3 C380.1 103.5 381.0 102.9 381.9 102.7 C382.8 102.4 383.8 102.4 384.7 102.7 C385.6 102.9 386.5 103.5 387.2 104.3 C387.9 105.1 388.5 106.2 388.9 107.3 C389.3 108.4 389.5 109.8 389.5 111.0Z" fill="none" stroke="#fff" stroke-width="0.75" opacity="0.7"/>
<path d="M388.8 111.0 C388.8 112.1 388.6 113.3 388.2 114.2 C387.9 115.2 387.3 116.2 386.7 116.9 C386.1 117.5 385.3 118.1 384.5 118.3 C383.7 118.5 382.9 118.5 382.1 118.3 C381.3 118.1 380.5 117.5 379.9 116.9 C379.3 116.2 378.7 115.2 378.4 114.2 C378.0 113.3 377.8 112.1 377.8 111.0 C377.8 109.9 378.0 108.7 378.4 107.8 C378.7 106.8 379.3 105.8 379.9 105.1 C380.5 104.5 381.3 103.9 382.1 103.7 C382.9 103.5 383.7 103.5 384.5 103.7 C385.3 103.9 386.1 104.5 386.7 105.1 C387.3 105.8 387.9 106.8 388.2 107.8 C388.6 108.7 388.8 109.9 388.8 111.0Z" fill="none" stroke="#1a0304" stroke-width="0.45" opacity="0.65"/>
<path d="M388.0 111.0 C388.0 111.9 387.8 112.9 387.5 113.8 C387.2 114.6 386.7 115.4 386.2 116.0 C385.7 116.6 385.0 117.1 384.3 117.3 C383.7 117.5 382.9 117.5 382.3 117.3 C381.6 117.1 380.9 116.6 380.4 116.0 C379.9 115.4 379.4 114.6 379.1 113.8 C378.8 112.9 378.6 111.9 378.6 111.0 C378.6 110.1 378.8 109.1 379.1 108.2 C379.4 107.4 379.9 106.6 380.4 106.0 C380.9 105.4 381.6 104.9 382.3 104.7 C382.9 104.5 383.7 104.5 384.3 104.7 C385.0 104.9 385.7 105.4 386.2 106.0 C386.7 106.6 387.2 107.4 387.5 108.2 C387.8 109.1 388.0 110.1 388.0 111.0Z" fill="none" stroke="#fff" stroke-width="0.75" opacity="0.7"/>
<path d="M387.2 111.0 C387.2 111.8 387.1 112.6 386.8 113.3 C386.6 114.0 386.2 114.7 385.7 115.2 C385.3 115.7 384.7 116.0 384.2 116.2 C383.6 116.4 383.0 116.4 382.4 116.2 C381.9 116.0 381.3 115.7 380.9 115.2 C380.4 114.7 380.0 114.0 379.8 113.3 C379.5 112.6 379.4 111.8 379.4 111.0 C379.4 110.2 379.5 109.4 379.8 108.7 C380.0 108.0 380.4 107.3 380.9 106.8 C381.3 106.3 381.9 106.0 382.4 105.8 C383.0 105.6 383.6 105.6 384.2 105.8 C384.7 106.0 385.3 106.3 385.7 106.8 C386.2 107.3 386.6 108.0 386.8 108.7 C387.1 109.4 387.2 110.2 387.2 111.0Z" fill="none" stroke="#1a0304" stroke-width="0.45" opacity="0.65"/>
<path d="M386.4 111.0 C386.4 111.6 386.3 112.3 386.1 112.9 C385.9 113.4 385.6 114.0 385.2 114.3 C384.9 114.7 384.4 115.0 384.0 115.2 C383.6 115.3 383.0 115.3 382.6 115.2 C382.2 115.0 381.7 114.7 381.4 114.3 C381.0 114.0 380.7 113.4 380.5 112.9 C380.3 112.3 380.2 111.6 380.2 111.0 C380.2 110.4 380.3 109.7 380.5 109.1 C380.7 108.6 381.0 108.0 381.4 107.7 C381.7 107.3 382.2 107.0 382.6 106.8 C383.0 106.7 383.6 106.7 384.0 106.8 C384.4 107.0 384.9 107.3 385.2 107.7 C385.6 108.0 385.9 108.6 386.1 109.1 C386.3 109.7 386.4 110.4 386.4 111.0Z" fill="none" stroke="#fff" stroke-width="0.75" opacity="0.7"/>
<path d="M385.6 111.0 C385.6 111.5 385.6 112.0 385.4 112.4 C385.3 112.8 385.0 113.2 384.8 113.5 C384.5 113.8 384.2 114.0 383.8 114.1 C383.5 114.2 383.1 114.2 382.8 114.1 C382.4 114.0 382.1 113.8 381.8 113.5 C381.6 113.2 381.3 112.8 381.2 112.4 C381.0 112.0 381.0 111.5 381.0 111.0 C381.0 110.5 381.0 110.0 381.2 109.6 C381.3 109.2 381.6 108.8 381.8 108.5 C382.1 108.2 382.4 108.0 382.8 107.9 C383.1 107.8 383.5 107.8 383.8 107.9 C384.2 108.0 384.5 108.2 384.8 108.5 C385.0 108.8 385.3 109.2 385.4 109.6 C385.6 110.0 385.6 110.5 385.6 111.0Z" fill="none" stroke="#1a0304" stroke-width="0.45" opacity="0.65"/>
<ellipse cx="383.3" cy="111.0" rx="2.7" ry="3.6" fill="none" stroke="#f2c0c0" stroke-width="0.6"/>
<ellipse cx="383.3" cy="111.0" rx="1.5" ry="2.0" fill="#fff" stroke="#333" stroke-width="0.6"/>
<ellipse transform="translate(378.5 139.0) rotate(0)" rx="3.0" ry="8.0" fill="none" stroke="#1a1a1a" stroke-width="0.7"/>
<ellipse transform="translate(373.0 138.0) rotate(0)" rx="2.5" ry="5.0" fill="none" stroke="#c4161c" stroke-width="0.7"/>
<path d="M360.8 137.6 C361.6 135.9 363.1 135.4 364.6 135.1 C366.1 134.8 368.3 135.1 369.7 135.7 C371.1 136.3 371.9 137.3 372.8 138.9 C373.8 140.5 374.6 143.3 375.4 145.2 C376.1 147.1 375.7 149.6 377.3 150.3 C378.9 151.0 382.7 149.2 384.8 149.6 C386.9 150.0 388.7 151.2 389.9 152.8 C391.1 154.4 391.6 157.0 391.8 159.1 C392.0 161.2 392.1 163.9 391.1 165.4 C390.2 166.9 388.0 167.5 386.1 167.9 C384.2 168.3 381.7 167.1 379.8 167.9 C377.9 168.8 376.8 171.7 374.7 173.0 C372.6 174.3 369.5 175.5 367.2 175.5 C364.9 175.5 362.2 174.5 360.8 173.0 C359.4 171.5 358.9 168.6 358.9 166.7 C358.9 164.8 359.4 162.9 360.8 161.6 C362.2 160.3 365.5 160.1 367.2 159.1 C368.9 158.1 370.7 156.6 370.9 155.3 C371.1 154.0 369.9 152.3 368.4 151.5 C366.9 150.7 363.6 151.4 362.1 150.3 C360.6 149.2 359.8 147.3 359.6 145.2 C359.4 143.1 360.0 139.3 360.8 137.6Z" transform="translate(-0.9 0.5)" fill="#1a1a1a" stroke="#1a1a1a" stroke-width="1.4"/>
<path d="M360.8 137.6 C361.6 135.9 363.1 135.4 364.6 135.1 C366.1 134.8 368.3 135.1 369.7 135.7 C371.1 136.3 371.9 137.3 372.8 138.9 C373.8 140.5 374.6 143.3 375.4 145.2 C376.1 147.1 375.7 149.6 377.3 150.3 C378.9 151.0 382.7 149.2 384.8 149.6 C386.9 150.0 388.7 151.2 389.9 152.8 C391.1 154.4 391.6 157.0 391.8 159.1 C392.0 161.2 392.1 163.9 391.1 165.4 C390.2 166.9 388.0 167.5 386.1 167.9 C384.2 168.3 381.7 167.1 379.8 167.9 C377.9 168.8 376.8 171.7 374.7 173.0 C372.6 174.3 369.5 175.5 367.2 175.5 C364.9 175.5 362.2 174.5 360.8 173.0 C359.4 171.5 358.9 168.6 358.9 166.7 C358.9 164.8 359.4 162.9 360.8 161.6 C362.2 160.3 365.5 160.1 367.2 159.1 C368.9 158.1 370.7 156.6 370.9 155.3 C371.1 154.0 369.9 152.3 368.4 151.5 C366.9 150.7 363.6 151.4 362.1 150.3 C360.6 149.2 359.8 147.3 359.6 145.2 C359.4 143.1 360.0 139.3 360.8 137.6Z" fill="#c4161c"/>
<path d="M362.2 139.7 C362.9 138.2 364.2 137.8 365.5 137.5 C366.9 137.2 368.8 137.5 370.0 138.1 C371.2 138.6 371.9 139.5 372.8 140.9 C373.6 142.3 374.4 144.7 375.1 146.4 C375.7 148.1 375.3 150.3 376.7 150.9 C378.1 151.5 381.5 149.9 383.3 150.3 C385.2 150.7 386.8 151.7 387.8 153.1 C388.8 154.5 389.3 156.8 389.5 158.6 C389.7 160.5 389.7 162.9 388.9 164.2 C388.0 165.5 386.1 166.0 384.5 166.4 C382.8 166.8 380.6 165.6 378.9 166.4 C377.3 167.1 376.3 169.8 374.4 170.9 C372.6 172.0 369.9 173.1 367.8 173.1 C365.8 173.1 363.4 172.2 362.2 170.9 C361.0 169.6 360.5 167.0 360.5 165.3 C360.5 163.7 361.0 162.0 362.2 160.8 C363.4 159.7 366.4 159.6 367.8 158.6 C369.3 157.7 370.9 156.4 371.1 155.3 C371.3 154.2 370.2 152.7 368.9 152.0 C367.6 151.2 364.6 151.8 363.3 150.9 C362.1 150.0 361.3 148.3 361.1 146.4 C361.0 144.5 361.5 141.2 362.2 139.7Z" fill="none" stroke="#1a0304" stroke-width="0.45" opacity="0.65"/>
<path d="M363.6 141.8 C364.2 140.6 365.4 140.2 366.5 139.9 C367.6 139.7 369.3 139.9 370.4 140.4 C371.4 140.9 372.0 141.6 372.7 142.8 C373.4 144.0 374.1 146.2 374.7 147.6 C375.3 149.1 375.0 150.9 376.1 151.5 C377.3 152.1 380.2 150.7 381.8 151.0 C383.4 151.3 384.8 152.2 385.7 153.4 C386.6 154.6 387.0 156.6 387.2 158.2 C387.3 159.8 387.4 161.9 386.6 163.0 C385.9 164.1 384.3 164.6 382.8 164.9 C381.4 165.2 379.5 164.2 378.0 164.9 C376.6 165.5 375.8 167.8 374.2 168.8 C372.6 169.7 370.2 170.7 368.5 170.7 C366.7 170.7 364.7 169.9 363.6 168.8 C362.6 167.6 362.2 165.4 362.2 164.0 C362.2 162.5 362.6 161.1 363.6 160.1 C364.7 159.1 367.2 159.0 368.5 158.2 C369.7 157.4 371.1 156.3 371.3 155.3 C371.4 154.3 370.5 153.0 369.4 152.4 C368.3 151.8 365.7 152.3 364.6 151.5 C363.5 150.7 362.9 149.2 362.7 147.6 C362.5 146.0 363.0 143.1 363.6 141.8Z" fill="none" stroke="#fff" stroke-width="0.75" opacity="0.7"/>
<path d="M365.0 144.0 C365.5 142.9 366.5 142.6 367.4 142.4 C368.4 142.2 369.8 142.4 370.7 142.8 C371.6 143.2 372.1 143.8 372.7 144.8 C373.3 145.8 373.9 147.6 374.4 148.8 C374.8 150.1 374.6 151.6 375.6 152.1 C376.6 152.6 379.0 151.4 380.4 151.7 C381.7 151.9 382.9 152.7 383.6 153.7 C384.4 154.7 384.7 156.4 384.8 157.7 C385.0 159.1 385.0 160.8 384.4 161.8 C383.8 162.7 382.4 163.1 381.2 163.4 C380.0 163.6 378.4 162.8 377.2 163.4 C376.0 163.9 375.2 165.8 373.9 166.6 C372.6 167.4 370.6 168.2 369.1 168.2 C367.6 168.2 365.9 167.6 365.0 166.6 C364.1 165.7 363.8 163.8 363.8 162.6 C363.8 161.4 364.1 160.1 365.0 159.3 C365.9 158.5 368.0 158.4 369.1 157.7 C370.2 157.1 371.3 156.1 371.5 155.3 C371.6 154.5 370.8 153.4 369.9 152.9 C368.9 152.3 366.8 152.8 365.8 152.1 C364.9 151.4 364.4 150.2 364.2 148.8 C364.1 147.5 364.5 145.1 365.0 144.0Z" fill="none" stroke="#1a0304" stroke-width="0.45" opacity="0.65"/>
<path d="M366.6 146.5 C367.1 145.6 367.8 145.4 368.5 145.2 C369.3 145.0 370.4 145.2 371.1 145.5 C371.8 145.8 372.2 146.3 372.6 147.1 C373.1 147.9 373.6 149.3 373.9 150.3 C374.3 151.2 374.1 152.4 374.9 152.8 C375.7 153.2 377.6 152.2 378.6 152.5 C379.7 152.7 380.6 153.3 381.2 154.1 C381.8 154.8 382.0 156.2 382.1 157.2 C382.2 158.3 382.3 159.6 381.8 160.4 C381.3 161.1 380.2 161.4 379.3 161.6 C378.4 161.8 377.1 161.2 376.1 161.6 C375.2 162.0 374.6 163.5 373.6 164.2 C372.5 164.8 371.0 165.4 369.8 165.4 C368.7 165.4 367.3 164.9 366.6 164.2 C366.0 163.4 365.7 162.0 365.7 161.0 C365.7 160.1 366.0 159.1 366.6 158.5 C367.3 157.8 369.0 157.7 369.8 157.2 C370.7 156.7 371.6 155.9 371.7 155.3 C371.8 154.7 371.2 153.8 370.4 153.4 C369.7 153.0 368.0 153.3 367.3 152.8 C366.6 152.3 366.2 151.3 366.0 150.3 C365.9 149.2 366.2 147.3 366.6 146.5Z" fill="none" stroke="#fff" stroke-width="0.75" opacity="0.7"/>
<ellipse cx="367.2" cy="144.6" rx="2.7" ry="3.2" fill="none" stroke="#f2c0c0" stroke-width="0.6"/>
<ellipse cx="367.2" cy="144.6" rx="1.5" ry="1.8" fill="#fff" stroke="#333" stroke-width="0.6"/>
<ellipse cx="365.9" cy="165.4" rx="2.7" ry="3.2" fill="none" stroke="#f2c0c0" stroke-width="0.6"/>
<ellipse cx="365.9" cy="165.4" rx="1.5" ry="1.8" fill="#fff" stroke="#333" stroke-width="0.6"/>
<ellipse cx="378.5" cy="159.7" rx="2.7" ry="3.2" fill="none" stroke="#f2c0c0" stroke-width="0.6"/>
<ellipse cx="378.5" cy="159.7" rx="1.5" ry="1.8" fill="#fff" stroke="#333" stroke-width="0.6"/>
<ellipse transform="translate(365.0 181.0) rotate(20)" rx="3.0" ry="6.0" fill="none" stroke="#c4161c" stroke-width="0.8"/>
<path d="M390.4 184.7 C390.4 186.0 390.1 187.3 389.7 188.5 C389.2 189.6 388.5 190.7 387.6 191.5 C386.8 192.3 385.7 192.9 384.6 193.2 C383.6 193.5 382.4 193.5 381.4 193.2 C380.3 192.9 379.2 192.3 378.4 191.5 C377.5 190.7 376.8 189.6 376.3 188.5 C375.9 187.3 375.6 186.0 375.6 184.7 C375.6 183.4 375.9 182.1 376.3 180.9 C376.8 179.8 377.5 178.7 378.4 177.9 C379.2 177.1 380.3 176.5 381.4 176.2 C382.4 175.9 383.6 175.9 384.6 176.2 C385.7 176.5 386.8 177.1 387.6 177.9 C388.5 178.7 389.2 179.8 389.7 180.9 C390.1 182.1 390.4 183.4 390.4 184.7Z" transform="translate(-0.9 0.2)" fill="#1a1a1a" stroke="#1a1a1a" stroke-width="1.4"/>
<path d="M390.4 184.7 C390.4 186.0 390.1 187.3 389.7 188.5 C389.2 189.6 388.5 190.7 387.6 191.5 C386.8 192.3 385.7 192.9 384.6 193.2 C383.6 193.5 382.4 193.5 381.4 193.2 C380.3 192.9 379.2 192.3 378.4 191.5 C377.5 190.7 376.8 189.6 376.3 188.5 C375.9 187.3 375.6 186.0 375.6 184.7 C375.6 183.4 375.9 182.1 376.3 180.9 C376.8 179.8 377.5 178.7 378.4 177.9 C379.2 177.1 380.3 176.5 381.4 176.2 C382.4 175.9 383.6 175.9 384.6 176.2 C385.7 176.5 386.8 177.1 387.6 177.9 C388.5 178.7 389.2 179.8 389.7 180.9 C390.1 182.1 390.4 183.4 390.4 184.7Z" fill="#c4161c"/>
<path d="M389.7 184.7 C389.7 185.8 389.4 187.1 389.0 188.1 C388.6 189.1 387.9 190.1 387.2 190.8 C386.4 191.5 385.4 192.1 384.5 192.3 C383.5 192.6 382.5 192.6 381.5 192.3 C380.6 192.1 379.6 191.5 378.8 190.8 C378.1 190.1 377.4 189.1 377.0 188.1 C376.6 187.1 376.3 185.8 376.3 184.7 C376.3 183.6 376.6 182.3 377.0 181.3 C377.4 180.3 378.1 179.3 378.8 178.6 C379.6 177.9 380.6 177.3 381.5 177.1 C382.5 176.8 383.5 176.8 384.5 177.1 C385.4 177.3 386.4 177.9 387.2 178.6 C387.9 179.3 388.6 180.3 389.0 181.3 C389.4 182.3 389.7 183.6 389.7 184.7Z" fill="none" stroke="#1a0304" stroke-width="0.45" opacity="0.65"/>
<path d="M388.9 184.7 C388.9 185.7 388.7 186.8 388.3 187.7 C388.0 188.6 387.4 189.5 386.7 190.1 C386.0 190.8 385.2 191.3 384.3 191.5 C383.5 191.7 382.5 191.7 381.7 191.5 C380.8 191.3 380.0 190.8 379.3 190.1 C378.6 189.5 378.0 188.6 377.7 187.7 C377.3 186.8 377.1 185.7 377.1 184.7 C377.1 183.7 377.3 182.6 377.7 181.7 C378.0 180.8 378.6 179.9 379.3 179.3 C380.0 178.6 380.8 178.1 381.7 177.9 C382.5 177.7 383.5 177.7 384.3 177.9 C385.2 178.1 386.0 178.6 386.7 179.3 C387.4 179.9 388.0 180.8 388.3 181.7 C388.7 182.6 388.9 183.7 388.9 184.7Z" fill="none" stroke="#fff" stroke-width="0.75" opacity="0.7"/>
<path d="M388.2 184.7 C388.2 185.6 388.0 186.5 387.7 187.3 C387.3 188.1 386.8 188.9 386.2 189.5 C385.6 190.0 384.9 190.4 384.2 190.6 C383.4 190.8 382.6 190.8 381.8 190.6 C381.1 190.4 380.4 190.0 379.8 189.5 C379.2 188.9 378.7 188.1 378.3 187.3 C378.0 186.5 377.8 185.6 377.8 184.7 C377.8 183.8 378.0 182.9 378.3 182.1 C378.7 181.3 379.2 180.5 379.8 179.9 C380.4 179.4 381.1 179.0 381.8 178.8 C382.6 178.6 383.4 178.6 384.2 178.8 C384.9 179.0 385.6 179.4 386.2 179.9 C386.8 180.5 387.3 181.3 387.7 182.1 C388.0 182.9 388.2 183.8 388.2 184.7Z" fill="none" stroke="#1a0304" stroke-width="0.45" opacity="0.65"/>
<path d="M387.4 184.7 C387.4 185.5 387.3 186.3 387.0 187.0 C386.7 187.6 386.3 188.3 385.8 188.8 C385.3 189.3 384.6 189.6 384.0 189.8 C383.4 190.0 382.6 190.0 382.0 189.8 C381.4 189.6 380.7 189.3 380.2 188.8 C379.7 188.3 379.3 187.6 379.0 187.0 C378.7 186.3 378.6 185.5 378.6 184.7 C378.6 183.9 378.7 183.1 379.0 182.4 C379.3 181.8 379.7 181.1 380.2 180.6 C380.7 180.1 381.4 179.8 382.0 179.6 C382.6 179.4 383.4 179.4 384.0 179.6 C384.6 179.8 385.3 180.1 385.8 180.6 C386.3 181.1 386.7 181.8 387.0 182.4 C387.3 183.1 387.4 183.9 387.4 184.7Z" fill="none" stroke="#fff" stroke-width="0.75" opacity="0.7"/>
<path d="M386.7 184.7 C386.7 185.3 386.6 186.0 386.3 186.6 C386.1 187.2 385.7 187.7 385.3 188.1 C384.9 188.5 384.3 188.8 383.8 188.9 C383.3 189.1 382.7 189.1 382.2 188.9 C381.7 188.8 381.1 188.5 380.7 188.1 C380.3 187.7 379.9 187.2 379.7 186.6 C379.4 186.0 379.3 185.3 379.3 184.7 C379.3 184.1 379.4 183.4 379.7 182.8 C379.9 182.2 380.3 181.7 380.7 181.3 C381.1 180.9 381.7 180.6 382.2 180.5 C382.7 180.3 383.3 180.3 383.8 180.5 C384.3 180.6 384.9 180.9 385.3 181.3 C385.7 181.7 386.1 182.2 386.3 182.8 C386.6 183.4 386.7 184.1 386.7 184.7Z" fill="none" stroke="#1a0304" stroke-width="0.45" opacity="0.65"/>
<path d="M386.0 184.7 C386.0 185.2 385.9 185.8 385.7 186.2 C385.5 186.7 385.2 187.1 384.8 187.4 C384.5 187.7 384.1 188.0 383.7 188.1 C383.2 188.2 382.8 188.2 382.3 188.1 C381.9 188.0 381.5 187.7 381.2 187.4 C380.8 187.1 380.5 186.7 380.3 186.2 C380.1 185.8 380.0 185.2 380.0 184.7 C380.0 184.2 380.1 183.6 380.3 183.2 C380.5 182.7 380.8 182.3 381.2 182.0 C381.5 181.7 381.9 181.4 382.3 181.3 C382.8 181.2 383.2 181.2 383.7 181.3 C384.1 181.4 384.5 181.7 384.8 182.0 C385.2 182.3 385.5 182.7 385.7 183.2 C385.9 183.6 386.0 184.2 386.0 184.7Z" fill="none" stroke="#fff" stroke-width="0.75" opacity="0.7"/>
<path d="M385.2 184.7 C385.2 185.1 385.1 185.5 385.0 185.8 C384.9 186.2 384.6 186.5 384.4 186.7 C384.1 187.0 383.8 187.2 383.5 187.2 C383.2 187.3 382.8 187.3 382.5 187.2 C382.2 187.2 381.9 187.0 381.6 186.7 C381.4 186.5 381.1 186.2 381.0 185.8 C380.9 185.5 380.8 185.1 380.8 184.7 C380.8 184.3 380.9 183.9 381.0 183.6 C381.1 183.2 381.4 182.9 381.6 182.7 C381.9 182.4 382.2 182.2 382.5 182.2 C382.8 182.1 383.2 182.1 383.5 182.2 C383.8 182.2 384.1 182.4 384.4 182.7 C384.6 182.9 384.9 183.2 385.0 183.6 C385.1 183.9 385.2 184.3 385.2 184.7Z" fill="none" stroke="#1a0304" stroke-width="0.45" opacity="0.65"/>
<ellipse cx="383.0" cy="184.7" rx="2.7" ry="3.6" fill="none" stroke="#f2c0c0" stroke-width="0.6"/>
<ellipse cx="383.0" cy="184.7" rx="1.5" ry="2.0" fill="#fff" stroke="#333" stroke-width="0.6"/>
<path d="M338.0 163.5 C339.4 162.0 340.7 162.6 342.0 163.0 C343.3 163.4 344.5 165.1 346.0 166.0 C347.5 166.9 349.5 167.2 351.0 168.5 C352.5 169.8 354.5 172.5 355.0 174.0 C355.5 175.5 354.8 177.2 354.0 177.5 C353.2 177.8 351.0 175.6 350.0 176.0 C349.0 176.4 348.8 179.7 348.0 180.0 C347.2 180.3 346.3 178.7 345.0 178.0 C343.7 177.3 341.7 176.0 340.0 176.0 C338.3 176.0 336.1 178.7 335.0 178.0 C333.9 177.3 333.0 174.4 333.5 172.0 C334.0 169.6 336.6 165.0 338.0 163.5Z" fill="none" stroke="#1a1a1a" stroke-width="0.8"/>
<path d="M339.0 165.5 C340.2 164.7 341.8 164.4 343.0 165.0 C344.2 165.6 345.5 167.5 346.5 169.0 C347.5 170.5 349.1 172.8 349.0 174.0 C348.9 175.2 347.3 176.4 346.0 176.5 C344.7 176.6 342.7 174.7 341.0 174.5 C339.3 174.3 336.9 176.2 336.0 175.5 C335.1 174.8 335.0 171.7 335.5 170.0 C336.0 168.3 337.8 166.3 339.0 165.5Z" fill="none" stroke="#c4161c" stroke-width="0.9"/>
<path d="M340.0 168.0 C340.8 167.5 342.3 167.3 343.0 168.0 C343.7 168.7 344.3 171.2 344.0 172.0 C343.7 172.8 341.9 173.2 341.0 173.0 C340.1 172.8 338.7 171.8 338.5 171.0 C338.3 170.2 339.2 168.5 340.0 168.0Z" fill="none" stroke="#c4161c" stroke-width="0.8"/>
<path d="M336.0 176.0 C337.0 175.1 339.3 175.2 341.0 175.5 C342.7 175.8 344.6 176.8 346.0 178.0 C347.4 179.2 348.7 181.2 349.2 183.0 C349.7 184.8 349.7 187.4 349.0 189.0 C348.3 190.6 346.7 192.0 345.0 192.5 C343.3 193.0 340.6 192.9 339.0 192.0 C337.4 191.1 336.2 188.8 335.5 187.0 C334.8 185.2 334.7 182.8 334.8 181.0 C334.9 179.2 335.0 176.9 336.0 176.0Z" transform="translate(0.9 0.4)" fill="#1a1a1a" stroke="#1a1a1a" stroke-width="1.4"/>
<path d="M336.0 176.0 C337.0 175.1 339.3 175.2 341.0 175.5 C342.7 175.8 344.6 176.8 346.0 178.0 C347.4 179.2 348.7 181.2 349.2 183.0 C349.7 184.8 349.7 187.4 349.0 189.0 C348.3 190.6 346.7 192.0 345.0 192.5 C343.3 193.0 340.6 192.9 339.0 192.0 C337.4 191.1 336.2 188.8 335.5 187.0 C334.8 185.2 334.7 182.8 334.8 181.0 C334.9 179.2 335.0 176.9 336.0 176.0Z" fill="#c4161c"/>
<path d="M336.6 176.8 C337.5 176.0 339.6 176.1 341.1 176.4 C342.6 176.7 344.3 177.5 345.6 178.7 C346.8 179.8 348.0 181.5 348.4 183.2 C348.9 184.8 348.9 187.1 348.2 188.6 C347.6 190.0 346.1 191.2 344.6 191.7 C343.1 192.1 340.7 192.1 339.2 191.2 C337.8 190.4 336.7 188.4 336.1 186.8 C335.5 185.1 335.4 183.0 335.5 181.3 C335.5 179.7 335.6 177.7 336.6 176.8Z" fill="none" stroke="#1a0304" stroke-width="0.45" opacity="0.65"/>
<path d="M337.1 177.7 C337.9 177.0 339.8 177.0 341.1 177.3 C342.4 177.6 344.0 178.3 345.1 179.3 C346.2 180.3 347.3 181.8 347.7 183.3 C348.1 184.8 348.1 186.8 347.5 188.1 C346.9 189.4 345.6 190.5 344.3 190.9 C343.0 191.3 340.8 191.2 339.5 190.5 C338.2 189.8 337.3 188.0 336.7 186.5 C336.1 185.0 336.1 183.2 336.1 181.7 C336.2 180.2 336.3 178.4 337.1 177.7Z" fill="none" stroke="#fff" stroke-width="0.75" opacity="0.7"/>
<path d="M337.6 178.6 C338.4 177.9 340.0 178.0 341.1 178.2 C342.3 178.4 343.7 179.1 344.6 179.9 C345.6 180.8 346.5 182.2 346.9 183.4 C347.2 184.7 347.2 186.5 346.8 187.7 C346.3 188.8 345.1 189.8 343.9 190.1 C342.8 190.4 340.9 190.4 339.8 189.8 C338.6 189.1 337.8 187.5 337.3 186.2 C336.8 185.0 336.8 183.3 336.8 182.1 C336.9 180.8 336.9 179.2 337.6 178.6Z" fill="none" stroke="#1a0304" stroke-width="0.45" opacity="0.65"/>
<path d="M338.2 179.4 C338.8 178.8 340.2 178.9 341.2 179.1 C342.2 179.3 343.4 179.8 344.2 180.6 C345.0 181.3 345.8 182.5 346.1 183.6 C346.4 184.7 346.4 186.2 346.0 187.2 C345.6 188.1 344.6 189.0 343.6 189.3 C342.6 189.6 340.9 189.6 340.0 189.0 C339.1 188.4 338.3 187.1 337.9 186.0 C337.5 184.9 337.4 183.5 337.5 182.4 C337.5 181.3 337.6 180.0 338.2 179.4Z" fill="none" stroke="#fff" stroke-width="0.75" opacity="0.7"/>
<path d="M338.8 180.2 C339.3 179.8 340.4 179.8 341.2 180.0 C342.1 180.2 343.1 180.6 343.8 181.2 C344.4 181.9 345.1 182.8 345.4 183.8 C345.6 184.7 345.6 186.0 345.2 186.8 C344.9 187.5 344.1 188.2 343.2 188.5 C342.4 188.8 341.0 188.7 340.2 188.2 C339.5 187.8 338.9 186.7 338.5 185.8 C338.1 184.8 338.1 183.7 338.1 182.8 C338.2 181.8 338.2 180.7 338.8 180.2Z" fill="none" stroke="#1a0304" stroke-width="0.45" opacity="0.65"/>
<path d="M339.3 181.1 C339.7 180.7 340.6 180.8 341.3 180.9 C342.0 181.0 342.8 181.4 343.3 181.9 C343.8 182.4 344.4 183.2 344.6 183.9 C344.8 184.6 344.8 185.7 344.5 186.3 C344.2 186.9 343.6 187.5 342.9 187.7 C342.2 187.9 341.1 187.9 340.5 187.5 C339.9 187.1 339.4 186.2 339.1 185.5 C338.8 184.8 338.8 183.8 338.8 183.1 C338.9 182.4 338.9 181.5 339.3 181.1Z" fill="none" stroke="#fff" stroke-width="0.75" opacity="0.7"/>
<path d="M339.9 181.9 C340.2 181.7 340.9 181.7 341.4 181.8 C341.9 181.9 342.4 182.2 342.9 182.6 C343.3 182.9 343.7 183.5 343.8 184.1 C344.0 184.6 344.0 185.4 343.8 185.8 C343.5 186.3 343.1 186.8 342.6 186.9 C342.1 187.1 341.2 187.0 340.8 186.8 C340.3 186.5 339.9 185.8 339.7 185.2 C339.5 184.7 339.5 184.0 339.5 183.4 C339.5 182.9 339.5 182.2 339.9 181.9Z" fill="none" stroke="#1a0304" stroke-width="0.45" opacity="0.65"/>
<ellipse cx="341.5" cy="184.5" rx="1.8" ry="2.9" fill="none" stroke="#f2c0c0" stroke-width="0.6"/>
<ellipse cx="341.5" cy="184.5" rx="1.0" ry="1.6" fill="#fff" stroke="#333" stroke-width="0.6"/>
<circle cx="331.5" cy="173" r="0.8" fill="#c4161c"/>
<path d="M311.8 167.1 C311.8 168.3 311.6 169.6 311.3 170.7 C310.9 171.8 310.4 172.8 309.8 173.6 C309.2 174.3 308.4 174.9 307.6 175.2 C306.8 175.5 306.0 175.5 305.2 175.2 C304.4 174.9 303.6 174.3 303.0 173.6 C302.4 172.8 301.9 171.8 301.5 170.7 C301.2 169.6 301.0 168.3 301.0 167.1 C301.0 165.9 301.2 164.6 301.5 163.5 C301.9 162.4 302.4 161.4 303.0 160.6 C303.6 159.9 304.4 159.3 305.2 159.0 C306.0 158.7 306.8 158.7 307.6 159.0 C308.4 159.3 309.2 159.9 309.8 160.6 C310.4 161.4 310.9 162.4 311.3 163.5 C311.6 164.6 311.8 165.9 311.8 167.1Z" transform="translate(-0.9 0.2)" fill="#1a1a1a" stroke="#1a1a1a" stroke-width="1.4"/>
<path d="M311.8 167.1 C311.8 168.3 311.6 169.6 311.3 170.7 C310.9 171.8 310.4 172.8 309.8 173.6 C309.2 174.3 308.4 174.9 307.6 175.2 C306.8 175.5 306.0 175.5 305.2 175.2 C304.4 174.9 303.6 174.3 303.0 173.6 C302.4 172.8 301.9 171.8 301.5 170.7 C301.2 169.6 301.0 168.3 301.0 167.1 C301.0 165.9 301.2 164.6 301.5 163.5 C301.9 162.4 302.4 161.4 303.0 160.6 C303.6 159.9 304.4 159.3 305.2 159.0 C306.0 158.7 306.8 158.7 307.6 159.0 C308.4 159.3 309.2 159.9 309.8 160.6 C310.4 161.4 310.9 162.4 311.3 163.5 C311.6 164.6 311.8 165.9 311.8 167.1Z" fill="#c4161c"/>
<path d="M311.3 167.1 C311.3 168.2 311.1 169.4 310.8 170.3 C310.5 171.3 310.0 172.3 309.4 172.9 C308.9 173.6 308.2 174.1 307.5 174.4 C306.8 174.6 306.0 174.6 305.3 174.4 C304.6 174.1 303.9 173.6 303.4 172.9 C302.8 172.3 302.3 171.3 302.0 170.3 C301.7 169.4 301.5 168.2 301.5 167.1 C301.5 166.0 301.7 164.8 302.0 163.9 C302.3 162.9 302.8 161.9 303.4 161.3 C303.9 160.6 304.6 160.1 305.3 159.8 C306.0 159.6 306.8 159.6 307.5 159.8 C308.2 160.1 308.9 160.6 309.4 161.3 C310.0 161.9 310.5 162.9 310.8 163.9 C311.1 164.8 311.3 166.0 311.3 167.1Z" fill="none" stroke="#1a0304" stroke-width="0.45" opacity="0.65"/>
<path d="M310.7 167.1 C310.7 168.1 310.6 169.1 310.3 170.0 C310.0 170.8 309.6 171.7 309.1 172.3 C308.6 172.9 308.0 173.4 307.4 173.6 C306.8 173.8 306.0 173.8 305.4 173.6 C304.8 173.4 304.2 172.9 303.7 172.3 C303.2 171.7 302.8 170.8 302.5 170.0 C302.2 169.1 302.1 168.1 302.1 167.1 C302.1 166.1 302.2 165.1 302.5 164.2 C302.8 163.4 303.2 162.5 303.7 161.9 C304.2 161.3 304.8 160.8 305.4 160.6 C306.0 160.4 306.8 160.4 307.4 160.6 C308.0 160.8 308.6 161.3 309.1 161.9 C309.6 162.5 310.0 163.4 310.3 164.2 C310.6 165.1 310.7 166.1 310.7 167.1Z" fill="none" stroke="#fff" stroke-width="0.75" opacity="0.7"/>
<path d="M310.2 167.1 C310.2 167.9 310.0 168.9 309.8 169.6 C309.6 170.4 309.2 171.1 308.8 171.6 C308.3 172.2 307.8 172.6 307.2 172.8 C306.7 173.0 306.1 173.0 305.6 172.8 C305.0 172.6 304.5 172.2 304.0 171.6 C303.6 171.1 303.2 170.4 303.0 169.6 C302.8 168.9 302.6 167.9 302.6 167.1 C302.6 166.3 302.8 165.3 303.0 164.6 C303.2 163.8 303.6 163.1 304.0 162.6 C304.5 162.0 305.0 161.6 305.6 161.4 C306.1 161.2 306.7 161.2 307.2 161.4 C307.8 161.6 308.3 162.0 308.8 162.6 C309.2 163.1 309.6 163.8 309.8 164.6 C310.0 165.3 310.2 166.3 310.2 167.1Z" fill="none" stroke="#1a0304" stroke-width="0.45" opacity="0.65"/>
<path d="M309.6 167.1 C309.6 167.8 309.5 168.6 309.3 169.3 C309.1 169.9 308.8 170.5 308.4 171.0 C308.1 171.4 307.6 171.8 307.1 172.0 C306.7 172.1 306.1 172.1 305.7 172.0 C305.2 171.8 304.7 171.4 304.4 171.0 C304.0 170.5 303.7 169.9 303.5 169.3 C303.3 168.6 303.2 167.8 303.2 167.1 C303.2 166.4 303.3 165.6 303.5 164.9 C303.7 164.3 304.0 163.7 304.4 163.2 C304.7 162.8 305.2 162.4 305.7 162.2 C306.1 162.1 306.7 162.1 307.1 162.2 C307.6 162.4 308.1 162.8 308.4 163.2 C308.8 163.7 309.1 164.3 309.3 164.9 C309.5 165.6 309.6 166.4 309.6 167.1Z" fill="none" stroke="#fff" stroke-width="0.75" opacity="0.7"/>
<path d="M309.1 167.1 C309.1 167.7 309.0 168.4 308.8 168.9 C308.7 169.4 308.4 170.0 308.1 170.3 C307.8 170.7 307.4 171.0 307.0 171.1 C306.6 171.3 306.2 171.3 305.8 171.1 C305.4 171.0 305.0 170.7 304.7 170.3 C304.4 170.0 304.1 169.4 304.0 168.9 C303.8 168.4 303.7 167.7 303.7 167.1 C303.7 166.5 303.8 165.8 304.0 165.3 C304.1 164.8 304.4 164.2 304.7 163.9 C305.0 163.5 305.4 163.2 305.8 163.1 C306.2 162.9 306.6 162.9 307.0 163.1 C307.4 163.2 307.8 163.5 308.1 163.9 C308.4 164.2 308.7 164.8 308.8 165.3 C309.0 165.8 309.1 166.5 309.1 167.1Z" fill="none" stroke="#1a0304" stroke-width="0.45" opacity="0.65"/>
<path d="M308.6 167.1 C308.6 167.6 308.5 168.1 308.3 168.5 C308.2 169.0 308.0 169.4 307.7 169.7 C307.5 170.0 307.2 170.2 306.9 170.3 C306.6 170.4 306.2 170.4 305.9 170.3 C305.6 170.2 305.3 170.0 305.1 169.7 C304.8 169.4 304.6 169.0 304.5 168.5 C304.3 168.1 304.2 167.6 304.2 167.1 C304.2 166.6 304.3 166.1 304.5 165.7 C304.6 165.2 304.8 164.8 305.1 164.5 C305.3 164.2 305.6 164.0 305.9 163.9 C306.2 163.8 306.6 163.8 306.9 163.9 C307.2 164.0 307.5 164.2 307.7 164.5 C308.0 164.8 308.2 165.2 308.3 165.7 C308.5 166.1 308.6 166.6 308.6 167.1Z" fill="none" stroke="#fff" stroke-width="0.75" opacity="0.7"/>
<path d="M308.0 167.1 C308.0 167.5 308.0 167.9 307.9 168.2 C307.8 168.5 307.6 168.8 307.4 169.0 C307.2 169.3 307.0 169.4 306.8 169.5 C306.5 169.6 306.3 169.6 306.0 169.5 C305.8 169.4 305.6 169.3 305.4 169.0 C305.2 168.8 305.0 168.5 304.9 168.2 C304.8 167.9 304.8 167.5 304.8 167.1 C304.8 166.7 304.8 166.3 304.9 166.0 C305.0 165.7 305.2 165.4 305.4 165.2 C305.6 164.9 305.8 164.8 306.0 164.7 C306.3 164.6 306.5 164.6 306.8 164.7 C307.0 164.8 307.2 164.9 307.4 165.2 C307.6 165.4 307.8 165.7 307.9 166.0 C308.0 166.3 308.0 166.7 308.0 167.1Z" fill="none" stroke="#1a0304" stroke-width="0.45" opacity="0.65"/>
<ellipse cx="306.4" cy="167.1" rx="2.7" ry="3.6" fill="none" stroke="#f2c0c0" stroke-width="0.6"/>
<ellipse cx="306.4" cy="167.1" rx="1.5" ry="2.0" fill="#fff" stroke="#333" stroke-width="0.6"/>
<path d="M324.8 170.2 C324.8 171.4 324.6 172.6 324.1 173.7 C323.7 174.7 323.1 175.7 322.3 176.5 C321.6 177.2 320.6 177.7 319.7 178.0 C318.7 178.3 317.7 178.3 316.7 178.0 C315.8 177.7 314.8 177.2 314.1 176.5 C313.3 175.7 312.7 174.7 312.3 173.7 C311.8 172.6 311.6 171.4 311.6 170.2 C311.6 169.0 311.8 167.8 312.3 166.7 C312.7 165.7 313.3 164.7 314.1 163.9 C314.8 163.2 315.8 162.7 316.7 162.4 C317.7 162.1 318.7 162.1 319.7 162.4 C320.6 162.7 321.6 163.2 322.3 163.9 C323.1 164.7 323.7 165.7 324.1 166.7 C324.6 167.8 324.8 169.0 324.8 170.2Z" transform="translate(-0.9 0.2)" fill="#1a1a1a" stroke="#1a1a1a" stroke-width="1.4"/>
<path d="M324.8 170.2 C324.8 171.4 324.6 172.6 324.1 173.7 C323.7 174.7 323.1 175.7 322.3 176.5 C321.6 177.2 320.6 177.7 319.7 178.0 C318.7 178.3 317.7 178.3 316.7 178.0 C315.8 177.7 314.8 177.2 314.1 176.5 C313.3 175.7 312.7 174.7 312.3 173.7 C311.8 172.6 311.6 171.4 311.6 170.2 C311.6 169.0 311.8 167.8 312.3 166.7 C312.7 165.7 313.3 164.7 314.1 163.9 C314.8 163.2 315.8 162.7 316.7 162.4 C317.7 162.1 318.7 162.1 319.7 162.4 C320.6 162.7 321.6 163.2 322.3 163.9 C323.1 164.7 323.7 165.7 324.1 166.7 C324.6 167.8 324.8 169.0 324.8 170.2Z" fill="#c4161c"/>
<path d="M324.1 170.2 C324.1 171.2 323.9 172.4 323.6 173.3 C323.2 174.3 322.6 175.2 321.9 175.8 C321.2 176.5 320.4 177.0 319.5 177.2 C318.7 177.5 317.7 177.5 316.9 177.2 C316.0 177.0 315.2 176.5 314.5 175.8 C313.8 175.2 313.2 174.3 312.8 173.3 C312.5 172.4 312.3 171.2 312.3 170.2 C312.3 169.2 312.5 168.0 312.8 167.1 C313.2 166.1 313.8 165.2 314.5 164.6 C315.2 163.9 316.0 163.4 316.9 163.2 C317.7 162.9 318.7 162.9 319.5 163.2 C320.4 163.4 321.2 163.9 321.9 164.6 C322.6 165.2 323.2 166.1 323.6 167.1 C323.9 168.0 324.1 169.2 324.1 170.2Z" fill="none" stroke="#1a0304" stroke-width="0.45" opacity="0.65"/>
<path d="M323.5 170.2 C323.5 171.1 323.3 172.1 323.0 173.0 C322.6 173.8 322.1 174.6 321.5 175.2 C320.9 175.8 320.1 176.2 319.4 176.4 C318.6 176.6 317.8 176.6 317.0 176.4 C316.3 176.2 315.5 175.8 314.9 175.2 C314.3 174.6 313.8 173.8 313.4 173.0 C313.1 172.1 312.9 171.1 312.9 170.2 C312.9 169.3 313.1 168.3 313.4 167.4 C313.8 166.6 314.3 165.8 314.9 165.2 C315.5 164.6 316.3 164.2 317.0 164.0 C317.8 163.8 318.6 163.8 319.4 164.0 C320.1 164.2 320.9 164.6 321.5 165.2 C322.1 165.8 322.6 166.6 323.0 167.4 C323.3 168.3 323.5 169.3 323.5 170.2Z" fill="none" stroke="#fff" stroke-width="0.75" opacity="0.7"/>
<path d="M322.8 170.2 C322.8 171.0 322.7 171.9 322.4 172.6 C322.1 173.4 321.6 174.1 321.1 174.6 C320.6 175.1 319.9 175.5 319.2 175.7 C318.6 175.8 317.8 175.8 317.2 175.7 C316.5 175.5 315.8 175.1 315.3 174.6 C314.8 174.1 314.3 173.4 314.0 172.6 C313.7 171.9 313.6 171.0 313.6 170.2 C313.6 169.4 313.7 168.5 314.0 167.8 C314.3 167.0 314.8 166.3 315.3 165.8 C315.8 165.3 316.5 164.9 317.2 164.7 C317.8 164.6 318.6 164.6 319.2 164.7 C319.9 164.9 320.6 165.3 321.1 165.8 C321.6 166.3 322.1 167.0 322.4 167.8 C322.7 168.5 322.8 169.4 322.8 170.2Z" fill="none" stroke="#1a0304" stroke-width="0.45" opacity="0.65"/>
<path d="M322.2 170.2 C322.2 170.9 322.0 171.7 321.8 172.3 C321.5 172.9 321.1 173.5 320.7 174.0 C320.2 174.4 319.6 174.7 319.1 174.9 C318.5 175.0 317.9 175.0 317.3 174.9 C316.8 174.7 316.2 174.4 315.7 174.0 C315.3 173.5 314.9 172.9 314.6 172.3 C314.4 171.7 314.2 170.9 314.2 170.2 C314.2 169.5 314.4 168.7 314.6 168.1 C314.9 167.5 315.3 166.9 315.7 166.4 C316.2 166.0 316.8 165.7 317.3 165.5 C317.9 165.4 318.5 165.4 319.1 165.5 C319.6 165.7 320.2 166.0 320.7 166.4 C321.1 166.9 321.5 167.5 321.8 168.1 C322.0 168.7 322.2 169.5 322.2 170.2Z" fill="none" stroke="#fff" stroke-width="0.75" opacity="0.7"/>
<path d="M321.5 170.2 C321.5 170.8 321.4 171.4 321.2 171.9 C321.0 172.5 320.6 173.0 320.3 173.3 C319.9 173.7 319.4 174.0 318.9 174.1 C318.5 174.2 317.9 174.2 317.5 174.1 C317.0 174.0 316.5 173.7 316.1 173.3 C315.8 173.0 315.4 172.5 315.2 171.9 C315.0 171.4 314.9 170.8 314.9 170.2 C314.9 169.6 315.0 169.0 315.2 168.5 C315.4 167.9 315.8 167.4 316.1 167.1 C316.5 166.7 317.0 166.4 317.5 166.3 C317.9 166.2 318.5 166.2 318.9 166.3 C319.4 166.4 319.9 166.7 320.3 167.1 C320.6 167.4 321.0 167.9 321.2 168.5 C321.4 169.0 321.5 169.6 321.5 170.2Z" fill="none" stroke="#1a0304" stroke-width="0.45" opacity="0.65"/>
<path d="M320.8 170.2 C320.8 170.7 320.7 171.2 320.6 171.6 C320.4 172.0 320.1 172.4 319.8 172.7 C319.5 173.0 319.2 173.2 318.8 173.3 C318.4 173.4 318.0 173.4 317.6 173.3 C317.2 173.2 316.9 173.0 316.6 172.7 C316.3 172.4 316.0 172.0 315.8 171.6 C315.7 171.2 315.6 170.7 315.6 170.2 C315.6 169.7 315.7 169.2 315.8 168.8 C316.0 168.4 316.3 168.0 316.6 167.7 C316.9 167.4 317.2 167.2 317.6 167.1 C318.0 167.0 318.4 167.0 318.8 167.1 C319.2 167.2 319.5 167.4 319.8 167.7 C320.1 168.0 320.4 168.4 320.6 168.8 C320.7 169.2 320.8 169.7 320.8 170.2Z" fill="none" stroke="#fff" stroke-width="0.75" opacity="0.7"/>
<path d="M320.2 170.2 C320.2 170.5 320.1 170.9 320.0 171.2 C319.9 171.6 319.7 171.9 319.4 172.1 C319.2 172.3 318.9 172.5 318.6 172.5 C318.4 172.6 318.0 172.6 317.8 172.5 C317.5 172.5 317.2 172.3 317.0 172.1 C316.7 171.9 316.5 171.6 316.4 171.2 C316.3 170.9 316.2 170.5 316.2 170.2 C316.2 169.9 316.3 169.5 316.4 169.2 C316.5 168.8 316.7 168.5 317.0 168.3 C317.2 168.1 317.5 167.9 317.8 167.9 C318.0 167.8 318.4 167.8 318.6 167.9 C318.9 167.9 319.2 168.1 319.4 168.3 C319.7 168.5 319.9 168.8 320.0 169.2 C320.1 169.5 320.2 169.9 320.2 170.2Z" fill="none" stroke="#1a0304" stroke-width="0.45" opacity="0.65"/>
<ellipse cx="318.2" cy="170.2" rx="2.7" ry="3.6" fill="none" stroke="#f2c0c0" stroke-width="0.6"/>
<ellipse cx="318.2" cy="170.2" rx="1.5" ry="2.0" fill="#fff" stroke="#333" stroke-width="0.6"/>
<text x="102.9" y="73.5" font-size="10.8" text-anchor="start" font-weight="normal" fill="#1a1a1a" stroke="#1a1a1a" stroke-width="0.4" textLength="45.8" lengthAdjust="spacingAndGlyphs">A31 Co-Cβ</text>
<text x="98.3" y="98.3" font-size="10.8" text-anchor="start" font-weight="normal" fill="#1a1a1a" stroke="#1a1a1a" stroke-width="0.4" textLength="43.8" lengthAdjust="spacingAndGlyphs">L34 Co-Cγ</text>
<text x="102.0" y="114.8" font-size="10.8" text-anchor="start" font-weight="normal" fill="#1a1a1a" stroke="#1a1a1a" stroke-width="0.4" textLength="45.6" lengthAdjust="spacingAndGlyphs">V36 Cβ-Co</text>
<text x="28.6" y="139.0" font-size="10.8" text-anchor="start" font-weight="normal" fill="#1a1a1a" stroke="#1a1a1a" stroke-width="0.4" textLength="43.4" lengthAdjust="spacingAndGlyphs">E11 Cδ-Cβ</text>
<text x="109.0" y="137.6" font-size="10.8" text-anchor="start" font-weight="normal" fill="#1a1a1a" stroke="#1a1a1a" stroke-width="0.4" textLength="45.8" lengthAdjust="spacingAndGlyphs">G38 Cα-Co</text>
<text x="28.6" y="154.8" font-size="10.8" text-anchor="start" font-weight="normal" fill="#1a1a1a" stroke="#1a1a1a" stroke-width="0.4" textLength="44.0" lengthAdjust="spacingAndGlyphs">E11 Cα-Cδ</text>
<text x="101.8" y="172.1" font-size="10.8" text-anchor="start" font-weight="normal" fill="#1a1a1a" stroke="#1a1a1a" stroke-width="0.4" textLength="44.7" lengthAdjust="spacingAndGlyphs">L34 Cα-Co</text>
<text x="105.1" y="194.4" font-size="10.8" text-anchor="start" font-weight="normal" fill="#1a1a1a" stroke="#1a1a1a" stroke-width="0.4" textLength="43.7" lengthAdjust="spacingAndGlyphs">F19 Cα-Co</text>
<text x="55.5" y="209.3" font-size="10.8" text-anchor="start" font-weight="normal" fill="#1a1a1a" stroke="#1a1a1a" stroke-width="0.4" textLength="45.0" lengthAdjust="spacingAndGlyphs">V36 Cα-Co</text>
<text x="170.6" y="111.2" font-size="10.8" text-anchor="start" font-weight="normal" fill="#1a1a1a" stroke="#1a1a1a" stroke-width="0.4" textLength="65.6" lengthAdjust="spacingAndGlyphs">F19 Cδ-L34 Cδa</text>
<text x="386.2" y="96.2" font-size="10.8" text-anchor="start" font-weight="normal" fill="#1a1a1a" stroke="#1a1a1a" stroke-width="0.4" textLength="44.6" lengthAdjust="spacingAndGlyphs">V36 Cγ-Cβ</text>
<text x="383.7" y="132.3" font-size="10.8" text-anchor="start" font-weight="normal" fill="#1a1a1a" stroke="#1a1a1a" stroke-width="0.4" textLength="42.2" lengthAdjust="spacingAndGlyphs">L34 Cγ-Cβ</text>
<text x="387.5" y="148.0" font-size="10.8" text-anchor="start" font-weight="normal" fill="#1a1a1a" stroke="#1a1a1a" stroke-width="0.4" textLength="44.2" lengthAdjust="spacingAndGlyphs">A31 Cα-Cβ</text>
<text x="314.9" y="157.0" font-size="10.8" text-anchor="start" font-weight="normal" fill="#1a1a1a" stroke="#1a1a1a" stroke-width="0.4" textLength="43.0" lengthAdjust="spacingAndGlyphs">L34 Cγ-Cα</text>
<text x="270.5" y="194.4" font-size="10.8" text-anchor="start" font-weight="normal" fill="#1a1a1a" stroke="#1a1a1a" stroke-width="0.4" textLength="44.1" lengthAdjust="spacingAndGlyphs">L34 Cα-Cβ</text>
<text x="293.7" y="211.9" font-size="10.8" text-anchor="start" font-weight="normal" fill="#1a1a1a" stroke="#1a1a1a" stroke-width="0.4" textLength="44.0" lengthAdjust="spacingAndGlyphs">F19 Cα-Cβ</text>
<text x="345.0" y="213.0" font-size="10.8" text-anchor="start" font-weight="normal" fill="#1a1a1a" stroke="#1a1a1a" stroke-width="0.4" textLength="45.2" lengthAdjust="spacingAndGlyphs">V36 Cα-Cβ</text>
<text x="386.9" y="200.9" font-size="10.8" text-anchor="start" font-weight="normal" fill="#1a1a1a" stroke="#1a1a1a" stroke-width="0.4" textLength="44.1" lengthAdjust="spacingAndGlyphs">V36 Cα-Cγ</text>
<line x1="82.0" y1="76.5" x2="99.3" y2="71.5" stroke="#1a1a1a" stroke-width="1.3" stroke-linecap="butt"/>
<line x1="82.8" y1="88.9" x2="95.2" y2="93.8" stroke="#1a1a1a" stroke-width="1.3" stroke-linecap="butt"/>
<line x1="82.8" y1="113.7" x2="101.0" y2="112.5" stroke="#1a1a1a" stroke-width="1.3" stroke-linecap="butt"/>
<line x1="44.8" y1="130.2" x2="58.0" y2="117.0" stroke="#1a1a1a" stroke-width="1.3" stroke-linecap="butt"/>
<line x1="92.0" y1="141.5" x2="107.6" y2="134.9" stroke="#1a1a1a" stroke-width="1.3" stroke-linecap="butt"/>
<line x1="47.8" y1="157.2" x2="57.7" y2="173.0" stroke="#1a1a1a" stroke-width="1.3" stroke-linecap="butt"/>
<line x1="82.0" y1="163.3" x2="97.7" y2="167.1" stroke="#1a1a1a" stroke-width="1.3" stroke-linecap="butt"/>
<line x1="83.6" y1="168.8" x2="101.8" y2="187.0" stroke="#1a1a1a" stroke-width="1.3" stroke-linecap="butt"/>
<line x1="82.8" y1="184.5" x2="75.9" y2="200.2" stroke="#1a1a1a" stroke-width="1.3" stroke-linecap="butt"/>
<line x1="189.2" y1="89.7" x2="201.6" y2="100.5" stroke="#1a1a1a" stroke-width="1.3" stroke-linecap="butt"/>
<line x1="383.7" y1="111.9" x2="402.7" y2="98.7" stroke="#1a1a1a" stroke-width="1.3" stroke-linecap="butt"/>
<line x1="367.2" y1="144.7" x2="390.3" y2="134.5" stroke="#1a1a1a" stroke-width="1.3" stroke-linecap="butt"/>
<line x1="378.0" y1="159.6" x2="402.7" y2="149.7" stroke="#1a1a1a" stroke-width="1.3" stroke-linecap="butt"/>
<line x1="344.9" y1="158.0" x2="365.5" y2="165.4" stroke="#1a1a1a" stroke-width="1.3" stroke-linecap="butt"/>
<line x1="294.5" y1="182.8" x2="308.5" y2="168.0" stroke="#1a1a1a" stroke-width="1.3" stroke-linecap="butt"/>
<line x1="318.4" y1="169.6" x2="316.8" y2="201.0" stroke="#1a1a1a" stroke-width="1.3" stroke-linecap="butt"/>
<line x1="339.5" y1="184.3" x2="362.6" y2="203.0" stroke="#1a1a1a" stroke-width="1.3" stroke-linecap="butt"/>
<line x1="383.6" y1="185.4" x2="402.3" y2="192.5" stroke="#1a1a1a" stroke-width="1.3" stroke-linecap="butt"/>
<rect x="172.4" y="74.8" width="33.9" height="26.5" fill="none" stroke="#1a1a1a" stroke-width="1.8" stroke-dasharray="2.2 2.2"/>
<path d="M71.8 334.4 C72.8 332.6 74.7 331.1 76.7 330.3 C78.7 329.5 82.0 329.1 84.0 329.5 C86.0 329.9 88.0 331.2 88.9 332.8 C89.9 334.4 89.4 336.3 89.7 339.3 C90.0 342.3 90.1 347.4 90.5 350.7 C90.9 353.9 92.2 356.4 92.2 358.8 C92.2 361.2 91.6 363.7 90.5 365.3 C89.4 366.9 87.5 368.2 85.7 368.5 C84.0 368.8 81.5 368.2 80.0 366.9 C78.5 365.5 77.4 362.6 76.7 360.4 C76.0 358.2 76.7 355.8 75.9 353.9 C75.1 352.0 72.6 351.2 71.8 349.0 C71.0 346.8 71.0 343.3 71.0 340.9 C71.0 338.5 70.8 336.2 71.8 334.4Z" transform="translate(-2.2 0.8)" fill="#1a1a1a" stroke="#1a1a1a" stroke-width="2"/>
<path d="M71.8 334.4 C72.8 332.6 74.7 331.1 76.7 330.3 C78.7 329.5 82.0 329.1 84.0 329.5 C86.0 329.9 88.0 331.2 88.9 332.8 C89.9 334.4 89.4 336.3 89.7 339.3 C90.0 342.3 90.1 347.4 90.5 350.7 C90.9 353.9 92.2 356.4 92.2 358.8 C92.2 361.2 91.6 363.7 90.5 365.3 C89.4 366.9 87.5 368.2 85.7 368.5 C84.0 368.8 81.5 368.2 80.0 366.9 C78.5 365.5 77.4 362.6 76.7 360.4 C76.0 358.2 76.7 355.8 75.9 353.9 C75.1 352.0 72.6 351.2 71.8 349.0 C71.0 346.8 71.0 343.3 71.0 340.9 C71.0 338.5 70.8 336.2 71.8 334.4Z" fill="#c4161c"/>
<path d="M73.0 336.1 C73.8 334.6 75.5 333.2 77.3 332.5 C79.1 331.8 81.9 331.4 83.7 331.8 C85.5 332.2 87.2 333.3 88.0 334.7 C88.9 336.1 88.5 337.8 88.8 340.4 C89.0 343.0 89.1 347.6 89.5 350.5 C89.8 353.3 91.0 355.4 91.0 357.6 C91.0 359.7 90.4 361.9 89.5 363.3 C88.5 364.7 86.8 365.9 85.2 366.1 C83.7 366.3 81.5 365.9 80.2 364.7 C78.9 363.5 77.9 360.9 77.3 359.0 C76.7 357.1 77.3 354.9 76.6 353.3 C75.9 351.6 73.7 350.9 73.0 349.0 C72.3 347.0 72.3 344.0 72.3 341.8 C72.3 339.7 72.2 337.7 73.0 336.1Z" fill="none" stroke="#1a0304" stroke-width="0.45" opacity="0.65"/>
<path d="M74.2 337.8 C74.9 336.5 76.4 335.3 77.9 334.7 C79.5 334.1 81.9 333.8 83.5 334.1 C85.0 334.4 86.5 335.4 87.2 336.6 C87.9 337.8 87.6 339.3 87.8 341.5 C88.0 343.8 88.1 347.7 88.4 350.2 C88.7 352.7 89.7 354.5 89.7 356.4 C89.7 358.2 89.2 360.1 88.4 361.3 C87.6 362.5 86.1 363.5 84.8 363.7 C83.4 363.9 81.6 363.5 80.4 362.5 C79.3 361.5 78.4 359.2 77.9 357.6 C77.4 355.9 77.9 354.1 77.3 352.6 C76.7 351.2 74.8 350.6 74.2 348.9 C73.6 347.3 73.6 344.6 73.6 342.8 C73.6 340.9 73.5 339.2 74.2 337.8Z" fill="none" stroke="#fff" stroke-width="0.75" opacity="0.7"/>
<path d="M75.4 339.5 C76.0 338.4 77.2 337.4 78.5 336.9 C79.8 336.4 81.9 336.1 83.2 336.4 C84.5 336.7 85.7 337.5 86.3 338.5 C87.0 339.5 86.7 340.7 86.9 342.7 C87.0 344.6 87.1 347.9 87.4 350.0 C87.6 352.0 88.5 353.6 88.5 355.1 C88.5 356.7 88.1 358.3 87.4 359.3 C86.7 360.3 85.4 361.2 84.3 361.3 C83.2 361.5 81.6 361.2 80.7 360.3 C79.7 359.5 79.0 357.5 78.5 356.2 C78.1 354.8 78.6 353.2 78.0 352.0 C77.5 350.8 75.9 350.3 75.4 348.9 C74.9 347.5 74.9 345.2 74.9 343.7 C74.9 342.1 74.8 340.7 75.4 339.5Z" fill="none" stroke="#1a0304" stroke-width="0.45" opacity="0.65"/>
<path d="M76.8 341.5 C77.3 340.6 78.2 339.9 79.3 339.5 C80.3 339.1 81.9 338.9 82.9 339.1 C83.9 339.3 84.9 339.9 85.4 340.7 C85.8 341.5 85.6 342.5 85.8 344.0 C85.9 345.5 85.9 348.0 86.2 349.7 C86.4 351.3 87.0 352.5 87.0 353.7 C87.0 354.9 86.7 356.2 86.2 357.0 C85.6 357.8 84.6 358.4 83.8 358.6 C82.9 358.7 81.7 358.4 80.9 357.8 C80.2 357.1 79.6 355.6 79.3 354.5 C78.9 353.4 79.3 352.2 78.9 351.3 C78.4 350.3 77.2 349.9 76.8 348.8 C76.4 347.7 76.4 346.0 76.4 344.8 C76.4 343.5 76.3 342.4 76.8 341.5Z" fill="none" stroke="#fff" stroke-width="0.75" opacity="0.7"/>
<ellipse cx="82.4" cy="341.7" rx="2.7" ry="3.6" fill="none" stroke="#f2c0c0" stroke-width="0.6"/>
<ellipse cx="82.4" cy="341.7" rx="1.5" ry="2.0" fill="#fff" stroke="#333" stroke-width="0.6"/>
<ellipse cx="84.0" cy="358.8" rx="2.7" ry="3.6" fill="none" stroke="#f2c0c0" stroke-width="0.6"/>
<ellipse cx="84.0" cy="358.8" rx="1.5" ry="2.0" fill="#fff" stroke="#333" stroke-width="0.6"/>
<ellipse transform="translate(92.2 344.0) rotate(0)" rx="3.2" ry="5.0" fill="none" stroke="#c4161c" stroke-width="0.9"/>
<ellipse transform="translate(73.5 356.0) rotate(0)" rx="2.5" ry="3.8" fill="none" stroke="#c4161c" stroke-width="0.8"/>
<path d="M75.0 370.0 C76.1 368.4 78.2 369.1 80.0 369.3 C81.8 369.5 84.4 369.7 86.0 371.0 C87.6 372.3 89.1 374.5 89.7 377.0 C90.3 379.5 90.3 383.5 89.7 386.0 C89.1 388.5 87.8 391.0 86.0 392.0 C84.2 393.0 81.0 392.8 79.0 392.1 C77.0 391.4 74.9 390.2 74.0 388.0 C73.1 385.8 73.3 382.0 73.5 379.0 C73.7 376.0 73.9 371.6 75.0 370.0Z" transform="translate(-1.5 0.8)" fill="#1a1a1a" stroke="#1a1a1a" stroke-width="1.6"/>
<path d="M75.0 370.0 C76.1 368.4 78.2 369.1 80.0 369.3 C81.8 369.5 84.4 369.7 86.0 371.0 C87.6 372.3 89.1 374.5 89.7 377.0 C90.3 379.5 90.3 383.5 89.7 386.0 C89.1 388.5 87.8 391.0 86.0 392.0 C84.2 393.0 81.0 392.8 79.0 392.1 C77.0 391.4 74.9 390.2 74.0 388.0 C73.1 385.8 73.3 382.0 73.5 379.0 C73.7 376.0 73.9 371.6 75.0 370.0Z" fill="#c4161c"/>
<path d="M75.9 371.1 C76.9 369.7 78.8 370.4 80.4 370.5 C82.1 370.7 84.3 370.9 85.8 372.1 C87.3 373.2 88.6 375.2 89.1 377.4 C89.7 379.7 89.7 383.3 89.1 385.6 C88.6 387.8 87.4 390.0 85.8 390.9 C84.2 391.9 81.3 391.6 79.5 391.0 C77.7 390.4 75.8 389.3 75.0 387.4 C74.2 385.4 74.4 381.9 74.5 379.2 C74.7 376.6 74.9 372.6 75.9 371.1Z" fill="none" stroke="#1a0304" stroke-width="0.45" opacity="0.65"/>
<path d="M76.8 372.3 C77.7 371.0 79.3 371.6 80.8 371.7 C82.3 371.9 84.3 372.1 85.6 373.1 C86.9 374.1 88.1 375.9 88.6 377.9 C89.1 379.9 89.1 383.1 88.6 385.1 C88.1 387.1 87.0 389.1 85.6 389.9 C84.2 390.7 81.6 390.5 80.0 390.0 C78.4 389.4 76.7 388.4 76.0 386.7 C75.3 385.0 75.5 381.9 75.6 379.5 C75.7 377.1 75.9 373.6 76.8 372.3Z" fill="none" stroke="#fff" stroke-width="0.75" opacity="0.7"/>
<path d="M77.7 373.4 C78.5 372.3 79.9 372.8 81.2 373.0 C82.5 373.1 84.3 373.3 85.4 374.1 C86.5 375.0 87.6 376.6 88.0 378.4 C88.4 380.1 88.4 382.9 88.0 384.6 C87.6 386.4 86.6 388.1 85.4 388.9 C84.2 389.6 81.9 389.4 80.5 388.9 C79.1 388.5 77.6 387.6 77.0 386.1 C76.4 384.5 76.5 381.9 76.7 379.8 C76.8 377.6 76.9 374.6 77.7 373.4Z" fill="none" stroke="#1a0304" stroke-width="0.45" opacity="0.65"/>
<path d="M78.6 374.6 C79.2 373.6 80.5 374.1 81.6 374.2 C82.7 374.3 84.2 374.4 85.2 375.2 C86.2 376.0 87.0 377.3 87.4 378.8 C87.8 380.3 87.8 382.7 87.4 384.2 C87.0 385.7 86.3 387.2 85.2 387.8 C84.1 388.4 82.2 388.3 81.0 387.9 C79.8 387.5 78.5 386.7 78.0 385.4 C77.5 384.1 77.6 381.8 77.7 380.0 C77.8 378.2 77.9 375.6 78.6 374.6Z" fill="none" stroke="#fff" stroke-width="0.75" opacity="0.7"/>
<path d="M79.5 375.8 C80.0 374.9 81.1 375.3 82.0 375.4 C82.9 375.5 84.2 375.6 85.0 376.2 C85.8 376.9 86.5 378.0 86.8 379.2 C87.2 380.5 87.2 382.5 86.8 383.8 C86.5 385.0 85.9 386.2 85.0 386.8 C84.1 387.3 82.5 387.1 81.5 386.8 C80.5 386.5 79.5 385.8 79.0 384.8 C78.5 383.7 78.7 381.8 78.8 380.2 C78.8 378.8 79.0 376.6 79.5 375.8Z" fill="none" stroke="#1a0304" stroke-width="0.45" opacity="0.65"/>
<path d="M80.4 376.9 C80.8 376.3 81.7 376.6 82.4 376.6 C83.1 376.7 84.2 376.8 84.8 377.3 C85.4 377.8 86.0 378.7 86.3 379.7 C86.5 380.7 86.5 382.3 86.3 383.3 C86.0 384.3 85.5 385.3 84.8 385.7 C84.1 386.1 82.8 386.0 82.0 385.7 C81.2 385.5 80.4 385.0 80.0 384.1 C79.6 383.2 79.7 381.7 79.8 380.5 C79.9 379.3 80.0 377.5 80.4 376.9Z" fill="none" stroke="#fff" stroke-width="0.75" opacity="0.7"/>
<path d="M81.3 378.1 C81.6 377.6 82.2 377.8 82.8 377.8 C83.3 377.9 84.1 378.0 84.6 378.4 C85.1 378.7 85.5 379.4 85.7 380.1 C85.9 380.9 85.9 382.1 85.7 382.9 C85.5 383.6 85.1 384.3 84.6 384.6 C84.1 385.0 83.1 384.9 82.5 384.7 C81.9 384.5 81.3 384.1 81.0 383.4 C80.7 382.8 80.8 381.6 80.8 380.8 C80.9 379.9 81.0 378.5 81.3 378.1Z" fill="none" stroke="#1a0304" stroke-width="0.45" opacity="0.65"/>
<ellipse cx="84.0" cy="381.5" rx="2.7" ry="3.6" fill="none" stroke="#f2c0c0" stroke-width="0.6"/>
<ellipse cx="84.0" cy="381.5" rx="1.5" ry="2.0" fill="#fff" stroke="#333" stroke-width="0.6"/>
<ellipse transform="translate(92.2 380.0) rotate(0)" rx="2.6" ry="4.2" fill="none" stroke="#c4161c" stroke-width="0.9"/>
<path d="M58.0 366.0 C58.8 365.2 60.3 364.3 61.0 365.3 C61.7 366.3 61.8 369.9 62.0 372.0 C62.2 374.1 61.3 376.3 62.0 378.0 C62.7 379.7 65.7 380.3 66.0 382.0 C66.3 383.7 65.3 386.7 64.0 388.0 C62.7 389.3 59.5 389.9 58.0 389.7 C56.5 389.5 55.2 388.9 54.8 387.0 C54.4 385.1 55.2 380.8 55.5 378.0 C55.8 375.2 56.1 372.0 56.5 370.0 C56.9 368.0 57.2 366.8 58.0 366.0Z" fill="none" stroke="#1a1a1a" stroke-width="0.8"/>
<path d="M58.5 370.0 C59.2 368.5 60.1 367.7 60.5 369.0 C60.9 370.3 60.9 375.2 61.0 378.0 C61.1 380.8 61.7 384.5 61.0 386.0 C60.3 387.5 57.8 388.3 57.0 387.0 C56.2 385.7 56.2 380.8 56.5 378.0 C56.8 375.2 57.8 371.5 58.5 370.0Z" fill="none" stroke="#c4161c" stroke-width="0.9"/>
<path d="M79.6 406.5 C79.1 405.5 78.1 409.1 77.0 412.0 C75.9 414.9 73.9 420.5 73.0 424.0 C72.1 427.5 71.6 430.0 71.5 433.0 C71.4 436.0 71.9 439.2 72.5 442.0 C73.1 444.8 74.2 448.3 75.0 450.0 C75.8 451.7 76.5 453.7 77.0 452.0 C77.5 450.3 78.2 444.0 78.0 440.0 C77.8 436.0 75.7 431.7 76.0 428.0 C76.3 424.3 79.4 421.6 80.0 418.0 C80.6 414.4 80.1 407.5 79.6 406.5Z" fill="#555"/>
<path d="M81.1 402.2 C82.5 401.1 86.0 400.0 88.3 400.0 C90.6 400.0 93.0 400.6 94.8 402.2 C96.6 403.8 98.4 407.0 99.1 409.4 C99.8 411.8 99.9 414.4 99.1 416.6 C98.2 418.8 96.0 421.2 94.0 422.4 C92.0 423.6 88.5 422.8 86.8 423.8 C85.1 424.8 83.9 426.3 83.9 428.2 C83.9 430.1 85.6 433.0 86.8 435.4 C88.0 437.8 90.2 440.2 91.2 442.6 C92.2 445.0 92.8 447.9 92.6 449.8 C92.3 451.7 90.4 452.2 89.7 454.1 C89.0 456.0 89.0 459.4 88.3 461.3 C87.6 463.2 86.9 464.7 85.4 465.7 C84.0 466.7 81.4 467.6 79.6 467.1 C77.8 466.6 75.6 464.7 74.6 462.8 C73.6 460.9 73.4 457.8 73.8 455.6 C74.2 453.4 76.3 452.2 76.7 449.8 C77.1 447.4 76.5 443.9 76.0 441.2 C75.5 438.5 73.9 436.3 73.8 433.9 C73.7 431.5 74.3 428.8 75.3 426.7 C76.3 424.6 78.8 423.4 79.6 421.0 C80.4 418.6 80.3 414.7 80.3 412.3 C80.3 409.9 79.5 408.2 79.6 406.5 C79.7 404.8 79.6 403.3 81.1 402.2Z" transform="translate(-1.2 0.5)" fill="#1a1a1a" stroke="#1a1a1a" stroke-width="1.4"/>
<path d="M81.1 402.2 C82.5 401.1 86.0 400.0 88.3 400.0 C90.6 400.0 93.0 400.6 94.8 402.2 C96.6 403.8 98.4 407.0 99.1 409.4 C99.8 411.8 99.9 414.4 99.1 416.6 C98.2 418.8 96.0 421.2 94.0 422.4 C92.0 423.6 88.5 422.8 86.8 423.8 C85.1 424.8 83.9 426.3 83.9 428.2 C83.9 430.1 85.6 433.0 86.8 435.4 C88.0 437.8 90.2 440.2 91.2 442.6 C92.2 445.0 92.8 447.9 92.6 449.8 C92.3 451.7 90.4 452.2 89.7 454.1 C89.0 456.0 89.0 459.4 88.3 461.3 C87.6 463.2 86.9 464.7 85.4 465.7 C84.0 466.7 81.4 467.6 79.6 467.1 C77.8 466.6 75.6 464.7 74.6 462.8 C73.6 460.9 73.4 457.8 73.8 455.6 C74.2 453.4 76.3 452.2 76.7 449.8 C77.1 447.4 76.5 443.9 76.0 441.2 C75.5 438.5 73.9 436.3 73.8 433.9 C73.7 431.5 74.3 428.8 75.3 426.7 C76.3 424.6 78.8 423.4 79.6 421.0 C80.4 418.6 80.3 414.7 80.3 412.3 C80.3 409.9 79.5 408.2 79.6 406.5 C79.7 404.8 79.6 403.3 81.1 402.2Z" fill="#c4161c"/>
<path d="M81.5 405.9 C82.8 404.9 85.8 404.0 87.9 404.0 C89.9 404.0 92.0 404.5 93.6 405.9 C95.2 407.3 96.7 410.1 97.4 412.2 C98.0 414.3 98.1 416.7 97.4 418.6 C96.6 420.5 94.7 422.6 92.9 423.7 C91.1 424.7 88.0 424.0 86.5 424.9 C85.1 425.7 84.0 427.1 84.0 428.8 C84.0 430.5 85.5 433.0 86.5 435.1 C87.6 437.2 89.6 439.3 90.4 441.4 C91.3 443.6 91.9 446.1 91.6 447.8 C91.4 449.5 89.7 449.9 89.1 451.6 C88.5 453.2 88.5 456.2 87.9 457.9 C87.2 459.6 86.6 460.9 85.3 461.8 C84.0 462.6 81.8 463.4 80.2 463.0 C78.6 462.6 76.7 460.9 75.8 459.2 C74.9 457.5 74.8 454.8 75.1 452.9 C75.4 451.0 77.3 449.9 77.6 447.8 C78.0 445.7 77.5 442.5 77.0 440.2 C76.6 437.9 75.2 435.9 75.1 433.8 C75.0 431.7 75.6 429.3 76.4 427.4 C77.3 425.6 79.5 424.5 80.2 422.4 C80.9 420.3 80.8 416.9 80.8 414.8 C80.8 412.7 80.1 411.2 80.2 409.7 C80.3 408.2 80.2 406.8 81.5 405.9Z" fill="none" stroke="#1a0304" stroke-width="0.45" opacity="0.65"/>
<path d="M81.9 409.6 C83.0 408.8 85.7 407.9 87.4 407.9 C89.1 407.9 91.0 408.4 92.4 409.6 C93.7 410.8 95.1 413.2 95.6 415.0 C96.2 416.9 96.3 418.9 95.6 420.5 C95.0 422.2 93.3 424.0 91.7 424.9 C90.2 425.8 87.6 425.3 86.3 426.0 C85.0 426.7 84.1 427.9 84.1 429.3 C84.1 430.8 85.3 433.0 86.3 434.8 C87.2 436.6 88.9 438.5 89.6 440.3 C90.4 442.1 90.9 444.3 90.7 445.8 C90.5 447.2 89.0 447.6 88.5 449.0 C87.9 450.5 88.0 453.0 87.4 454.5 C86.9 456.0 86.3 457.1 85.2 457.8 C84.1 458.6 82.2 459.3 80.8 458.9 C79.4 458.5 77.7 457.1 77.0 455.6 C76.3 454.2 76.1 451.8 76.4 450.2 C76.7 448.5 78.3 447.6 78.6 445.8 C78.9 443.9 78.4 441.2 78.1 439.2 C77.7 437.2 76.5 435.5 76.4 433.7 C76.3 431.8 76.8 429.8 77.5 428.2 C78.3 426.6 80.2 425.7 80.8 423.9 C81.4 422.0 81.3 419.1 81.3 417.3 C81.3 415.4 80.7 414.1 80.8 412.8 C80.9 411.6 80.8 410.4 81.9 409.6Z" fill="none" stroke="#fff" stroke-width="0.75" opacity="0.7"/>
<path d="M82.4 413.3 C83.3 412.6 85.5 411.9 87.0 411.9 C88.4 411.9 90.0 412.3 91.1 413.3 C92.3 414.3 93.4 416.3 93.9 417.9 C94.3 419.4 94.4 421.1 93.9 422.5 C93.3 423.9 91.9 425.4 90.6 426.2 C89.3 427.0 87.1 426.5 86.0 427.1 C84.9 427.7 84.2 428.7 84.2 429.9 C84.2 431.1 85.2 433.0 86.0 434.5 C86.8 436.1 88.2 437.6 88.8 439.1 C89.4 440.7 89.9 442.5 89.7 443.7 C89.6 445.0 88.3 445.3 87.9 446.5 C87.4 447.7 87.4 449.9 87.0 451.1 C86.5 452.3 86.0 453.3 85.1 453.9 C84.2 454.5 82.6 455.1 81.4 454.8 C80.2 454.5 78.8 453.3 78.2 452.1 C77.6 450.8 77.5 448.8 77.7 447.4 C77.9 446.1 79.3 445.3 79.5 443.7 C79.8 442.2 79.4 439.9 79.1 438.2 C78.8 436.5 77.8 435.1 77.7 433.6 C77.6 432.0 78.0 430.3 78.6 428.9 C79.3 427.6 80.9 426.8 81.4 425.3 C81.9 423.8 81.8 421.3 81.8 419.7 C81.8 418.2 81.3 417.1 81.4 416.0 C81.5 414.9 81.4 414.0 82.4 413.3Z" fill="none" stroke="#1a0304" stroke-width="0.45" opacity="0.65"/>
<path d="M82.8 417.6 C83.6 417.0 85.3 416.5 86.4 416.5 C87.6 416.5 88.8 416.8 89.7 417.6 C90.6 418.4 91.5 420.0 91.8 421.2 C92.2 422.4 92.3 423.7 91.8 424.8 C91.4 425.9 90.3 427.1 89.3 427.7 C88.3 428.3 86.5 427.9 85.7 428.4 C84.9 428.9 84.2 429.6 84.2 430.6 C84.2 431.5 85.1 433.0 85.7 434.2 C86.3 435.4 87.4 436.6 87.9 437.8 C88.4 439.0 88.7 440.4 88.6 441.4 C88.5 442.3 87.5 442.6 87.2 443.5 C86.8 444.5 86.8 446.2 86.4 447.1 C86.1 448.1 85.7 448.8 85.0 449.3 C84.3 449.8 83.0 450.3 82.1 450.0 C81.2 449.8 80.1 448.8 79.6 447.9 C79.1 446.9 79.0 445.4 79.2 444.3 C79.4 443.2 80.5 442.6 80.7 441.4 C80.8 440.2 80.5 438.4 80.3 437.1 C80.1 435.7 79.3 434.6 79.2 433.4 C79.1 432.2 79.5 430.9 79.9 429.8 C80.4 428.7 81.7 428.2 82.1 427.0 C82.5 425.8 82.4 423.8 82.4 422.6 C82.4 421.4 82.0 420.6 82.1 419.7 C82.2 418.9 82.1 418.1 82.8 417.6Z" fill="none" stroke="#fff" stroke-width="0.75" opacity="0.7"/>
<ellipse cx="86.8" cy="413.8" rx="2.7" ry="3.6" fill="none" stroke="#f2c0c0" stroke-width="0.6"/>
<ellipse cx="86.8" cy="413.8" rx="1.5" ry="2.0" fill="#fff" stroke="#333" stroke-width="0.6"/>
<ellipse cx="82.5" cy="428.9" rx="2.7" ry="3.6" fill="none" stroke="#f2c0c0" stroke-width="0.6"/>
<ellipse cx="82.5" cy="428.9" rx="1.5" ry="2.0" fill="#fff" stroke="#333" stroke-width="0.6"/>
<ellipse cx="86.1" cy="441.2" rx="2.7" ry="3.6" fill="none" stroke="#f2c0c0" stroke-width="0.6"/>
<ellipse cx="86.1" cy="441.2" rx="1.5" ry="2.0" fill="#fff" stroke="#333" stroke-width="0.6"/>
<ellipse cx="80.3" cy="457.0" rx="2.7" ry="3.6" fill="none" stroke="#f2c0c0" stroke-width="0.6"/>
<ellipse cx="80.3" cy="457.0" rx="1.5" ry="2.0" fill="#fff" stroke="#333" stroke-width="0.6"/>
<ellipse transform="translate(93.0 458.8) rotate(0)" rx="1.8" ry="3.8" fill="none" stroke="#c4161c" stroke-width="0.9"/>
<path d="M55.0 437.0 C55.8 435.8 57.0 435.7 58.0 435.5 C59.0 435.3 59.9 435.2 61.0 436.0 C62.1 436.8 64.2 438.2 64.5 440.0 C64.8 441.8 63.9 445.3 63.0 447.0 C62.1 448.7 60.2 449.7 59.0 450.0 C57.8 450.3 56.5 450.2 55.5 449.0 C54.5 447.8 53.1 445.0 53.0 443.0 C52.9 441.0 54.2 438.2 55.0 437.0Z" transform="translate(-0.6 1.2)" fill="#1a1a1a" stroke="#1a1a1a" stroke-width="1.4"/>
<path d="M55.0 437.0 C55.8 435.8 57.0 435.7 58.0 435.5 C59.0 435.3 59.9 435.2 61.0 436.0 C62.1 436.8 64.2 438.2 64.5 440.0 C64.8 441.8 63.9 445.3 63.0 447.0 C62.1 448.7 60.2 449.7 59.0 450.0 C57.8 450.3 56.5 450.2 55.5 449.0 C54.5 447.8 53.1 445.0 53.0 443.0 C52.9 441.0 54.2 438.2 55.0 437.0Z" fill="#c4161c"/>
<path d="M55.3 437.6 C56.0 436.5 57.1 436.4 58.0 436.2 C58.9 436.1 59.7 436.0 60.7 436.7 C61.7 437.4 63.6 438.6 63.9 440.3 C64.2 442.0 63.3 445.1 62.5 446.6 C61.7 448.1 60.0 449.0 58.9 449.3 C57.8 449.6 56.6 449.4 55.8 448.4 C54.9 447.3 53.6 444.8 53.5 443.0 C53.4 441.2 54.5 438.7 55.3 437.6Z" fill="none" stroke="#1a0304" stroke-width="0.45" opacity="0.65"/>
<path d="M55.6 438.2 C56.3 437.2 57.2 437.1 58.0 437.0 C58.8 436.9 59.5 436.8 60.4 437.4 C61.3 438.0 62.9 439.1 63.2 440.6 C63.5 442.1 62.7 444.9 62.0 446.2 C61.3 447.5 59.8 448.3 58.8 448.6 C57.8 448.9 56.8 448.7 56.0 447.8 C55.2 446.9 54.1 444.6 54.0 443.0 C53.9 441.4 54.9 439.2 55.6 438.2Z" fill="none" stroke="#fff" stroke-width="0.75" opacity="0.7"/>
<path d="M55.9 438.8 C56.5 437.9 57.3 437.9 58.0 437.8 C58.7 437.6 59.3 437.6 60.1 438.1 C60.9 438.6 62.3 439.6 62.5 440.9 C62.8 442.2 62.1 444.6 61.5 445.8 C60.9 447.0 59.6 447.7 58.7 447.9 C57.8 448.1 57.0 448.0 56.2 447.2 C55.5 446.4 54.6 444.4 54.5 443.0 C54.4 441.6 55.3 439.7 55.9 438.8Z" fill="none" stroke="#1a0304" stroke-width="0.45" opacity="0.65"/>
<path d="M56.2 439.4 C56.7 438.6 57.4 438.6 58.0 438.5 C58.6 438.4 59.1 438.4 59.8 438.8 C60.4 439.2 61.7 440.1 61.9 441.2 C62.1 442.3 61.5 444.4 61.0 445.4 C60.5 446.4 59.4 447.0 58.6 447.2 C57.9 447.4 57.1 447.3 56.5 446.6 C55.9 445.9 55.0 444.2 55.0 443.0 C55.0 441.8 55.7 440.1 56.2 439.4Z" fill="none" stroke="#fff" stroke-width="0.75" opacity="0.7"/>
<path d="M56.5 440.0 C56.9 439.4 57.5 439.3 58.0 439.2 C58.5 439.2 59.0 439.1 59.5 439.5 C60.0 439.9 61.1 440.6 61.2 441.5 C61.4 442.4 61.0 444.2 60.5 445.0 C60.0 445.8 59.1 446.3 58.5 446.5 C57.9 446.7 57.2 446.6 56.8 446.0 C56.2 445.4 55.5 444.0 55.5 443.0 C55.5 442.0 56.1 440.6 56.5 440.0Z" fill="none" stroke="#1a0304" stroke-width="0.45" opacity="0.65"/>
<path d="M56.8 440.6 C57.1 440.1 57.6 440.1 58.0 440.0 C58.4 439.9 58.8 439.9 59.2 440.2 C59.6 440.5 60.5 441.1 60.6 441.8 C60.7 442.5 60.4 443.9 60.0 444.6 C59.6 445.3 58.9 445.7 58.4 445.8 C57.9 445.9 57.4 445.9 57.0 445.4 C56.6 444.9 56.0 443.8 56.0 443.0 C56.0 442.2 56.5 441.1 56.8 440.6Z" fill="none" stroke="#fff" stroke-width="0.75" opacity="0.7"/>
<path d="M57.1 441.2 C57.4 440.8 57.7 440.8 58.0 440.8 C58.3 440.7 58.6 440.7 58.9 440.9 C59.2 441.1 59.9 441.6 60.0 442.1 C60.1 442.7 59.8 443.7 59.5 444.2 C59.2 444.7 58.7 445.0 58.3 445.1 C57.9 445.2 57.5 445.2 57.2 444.8 C57.0 444.4 56.5 443.6 56.5 443.0 C56.5 442.4 56.9 441.6 57.1 441.2Z" fill="none" stroke="#1a0304" stroke-width="0.45" opacity="0.65"/>
<ellipse cx="58.0" cy="443.0" rx="2.7" ry="3.6" fill="none" stroke="#f2c0c0" stroke-width="0.6"/>
<ellipse cx="58.0" cy="443.0" rx="1.5" ry="2.0" fill="#fff" stroke="#333" stroke-width="0.6"/>
<path d="M173.7 407.2 C173.7 408.3 173.5 409.4 173.1 410.4 C172.8 411.4 172.2 412.3 171.6 413.0 C171.0 413.7 170.1 414.2 169.3 414.4 C168.6 414.7 167.6 414.7 166.9 414.4 C166.1 414.2 165.2 413.7 164.6 413.0 C164.0 412.3 163.4 411.4 163.1 410.4 C162.7 409.4 162.5 408.3 162.5 407.2 C162.5 406.1 162.7 405.0 163.1 404.0 C163.4 403.0 164.0 402.1 164.6 401.4 C165.2 400.7 166.1 400.2 166.9 400.0 C167.6 399.7 168.6 399.7 169.3 400.0 C170.1 400.2 171.0 400.7 171.6 401.4 C172.2 402.1 172.8 403.0 173.1 404.0 C173.5 405.0 173.7 406.1 173.7 407.2Z" fill="none" stroke="#1a1a1a" stroke-width="0.8"/>
<path d="M174.2 408.3 C174.1 409.2 173.7 410.2 173.3 410.9 C172.9 411.6 172.2 412.3 171.6 412.8 C171.0 413.2 170.2 413.6 169.5 413.6 C168.8 413.7 168.0 413.6 167.4 413.3 C166.8 413.0 166.1 412.4 165.7 411.8 C165.3 411.1 164.9 410.2 164.8 409.4 C164.6 408.6 164.6 407.5 164.8 406.7 C164.9 405.8 165.3 404.8 165.7 404.1 C166.1 403.4 166.8 402.7 167.4 402.2 C168.0 401.8 168.8 401.4 169.5 401.4 C170.2 401.3 171.0 401.4 171.6 401.7 C172.2 402.0 172.9 402.6 173.3 403.2 C173.7 403.9 174.1 404.8 174.2 405.6 C174.4 406.4 174.4 407.5 174.2 408.3Z" fill="none" stroke="#c4161c" stroke-width="0.9"/>
<path d="M170.9 408.0 C170.9 408.5 170.8 409.2 170.7 409.6 C170.5 410.1 170.3 410.6 170.0 411.0 C169.7 411.3 169.4 411.6 169.0 411.7 C168.7 411.8 168.3 411.8 168.0 411.7 C167.6 411.6 167.3 411.3 167.0 411.0 C166.7 410.6 166.5 410.1 166.3 409.6 C166.2 409.2 166.1 408.5 166.1 408.0 C166.1 407.5 166.2 406.8 166.3 406.4 C166.5 405.9 166.7 405.4 167.0 405.0 C167.3 404.7 167.6 404.4 168.0 404.3 C168.3 404.2 168.7 404.2 169.0 404.3 C169.4 404.4 169.7 404.7 170.0 405.0 C170.3 405.4 170.5 405.9 170.7 406.4 C170.8 406.8 170.9 407.5 170.9 408.0Z" fill="none" stroke="#c4161c" stroke-width="0.8"/>
<ellipse cx="170" cy="404" rx="2.5" ry="3.5" fill="#c4161c" opacity="0.8"/>
<path d="M183.0 403.0 C183.9 400.8 186.3 397.6 188.0 396.4 C189.7 395.2 191.0 395.2 192.9 395.6 C194.8 396.0 197.8 397.4 199.5 398.9 C201.2 400.4 202.4 402.6 202.8 404.7 C203.2 406.8 203.1 409.1 202.0 411.3 C200.9 413.5 198.3 416.2 196.2 417.9 C194.1 419.5 191.5 421.5 189.6 421.2 C187.7 420.9 185.8 418.1 184.6 416.2 C183.4 414.3 182.9 411.8 182.6 409.6 C182.3 407.4 182.1 405.2 183.0 403.0Z" transform="translate(-0.9 -0.3)" fill="#1a1a1a" stroke="#1a1a1a" stroke-width="1.4"/>
<path d="M183.0 403.0 C183.9 400.8 186.3 397.6 188.0 396.4 C189.7 395.2 191.0 395.2 192.9 395.6 C194.8 396.0 197.8 397.4 199.5 398.9 C201.2 400.4 202.4 402.6 202.8 404.7 C203.2 406.8 203.1 409.1 202.0 411.3 C200.9 413.5 198.3 416.2 196.2 417.9 C194.1 419.5 191.5 421.5 189.6 421.2 C187.7 420.9 185.8 418.1 184.6 416.2 C183.4 414.3 182.9 411.8 182.6 409.6 C182.3 407.4 182.1 405.2 183.0 403.0Z" fill="#c4161c"/>
<path d="M184.1 403.5 C184.9 401.6 187.0 398.8 188.5 397.7 C189.9 396.6 191.1 396.7 192.8 397.0 C194.5 397.4 197.2 398.6 198.6 399.9 C200.1 401.3 201.2 403.2 201.5 405.0 C201.9 406.9 201.8 408.9 200.8 410.8 C199.8 412.8 197.5 415.2 195.7 416.6 C193.9 418.1 191.6 419.8 189.9 419.6 C188.2 419.3 186.5 416.9 185.5 415.2 C184.5 413.5 184.0 411.3 183.7 409.3 C183.5 407.4 183.3 405.5 184.1 403.5Z" fill="none" stroke="#1a0304" stroke-width="0.45" opacity="0.65"/>
<path d="M185.2 404.1 C185.9 402.4 187.7 400.0 189.0 399.1 C190.2 398.1 191.3 398.1 192.7 398.5 C194.2 398.8 196.5 399.8 197.7 401.0 C199.0 402.1 199.9 403.8 200.2 405.4 C200.6 406.9 200.5 408.7 199.6 410.4 C198.8 412.1 196.8 414.1 195.2 415.4 C193.7 416.7 191.7 418.1 190.2 417.9 C188.7 417.7 187.3 415.6 186.4 414.1 C185.5 412.6 185.1 410.8 184.9 409.1 C184.7 407.4 184.5 405.7 185.2 404.1Z" fill="none" stroke="#fff" stroke-width="0.75" opacity="0.7"/>
<path d="M186.3 404.6 C186.9 403.2 188.4 401.2 189.5 400.4 C190.5 399.6 191.4 399.6 192.6 399.9 C193.8 400.1 195.8 401.0 196.8 402.0 C197.9 403.0 198.7 404.4 199.0 405.7 C199.2 407.0 199.1 408.5 198.4 409.9 C197.7 411.3 196.1 413.1 194.7 414.1 C193.4 415.2 191.7 416.4 190.5 416.3 C189.3 416.1 188.1 414.3 187.3 413.1 C186.6 411.8 186.2 410.2 186.0 408.8 C185.9 407.4 185.7 406.0 186.3 404.6Z" fill="none" stroke="#1a0304" stroke-width="0.45" opacity="0.65"/>
<path d="M187.6 405.2 C188.0 404.1 189.2 402.6 190.1 401.9 C190.9 401.3 191.6 401.3 192.5 401.5 C193.5 401.7 195.0 402.4 195.8 403.2 C196.6 403.9 197.3 405.1 197.5 406.1 C197.7 407.1 197.6 408.3 197.1 409.4 C196.5 410.5 195.2 411.9 194.2 412.7 C193.1 413.5 191.8 414.5 190.9 414.3 C189.9 414.2 188.9 412.8 188.4 411.8 C187.8 410.9 187.5 409.6 187.4 408.5 C187.2 407.4 187.1 406.3 187.6 405.2Z" fill="none" stroke="#fff" stroke-width="0.75" opacity="0.7"/>
<ellipse cx="190.4" cy="405.5" rx="2.7" ry="4.0" fill="none" stroke="#f2c0c0" stroke-width="0.6"/>
<ellipse cx="190.4" cy="405.5" rx="1.5" ry="2.2" fill="#fff" stroke="#333" stroke-width="0.6"/>
<ellipse cx="196.2" cy="405.5" rx="2.7" ry="4.0" fill="none" stroke="#f2c0c0" stroke-width="0.6"/>
<ellipse cx="196.2" cy="405.5" rx="1.5" ry="2.2" fill="#fff" stroke="#333" stroke-width="0.6"/>
<path d="M174.4 443.9 C174.4 445.0 174.2 446.3 173.9 447.3 C173.5 448.4 173.0 449.4 172.3 450.1 C171.7 450.8 170.9 451.3 170.1 451.6 C169.3 451.9 168.5 451.9 167.7 451.6 C166.9 451.3 166.1 450.8 165.5 450.1 C164.8 449.4 164.3 448.4 163.9 447.3 C163.6 446.3 163.4 445.0 163.4 443.9 C163.4 442.8 163.6 441.5 163.9 440.5 C164.3 439.4 164.8 438.4 165.5 437.7 C166.1 437.0 166.9 436.5 167.7 436.2 C168.5 435.9 169.3 435.9 170.1 436.2 C170.9 436.5 171.7 437.0 172.3 437.7 C173.0 438.4 173.5 439.4 173.9 440.5 C174.2 441.5 174.4 442.8 174.4 443.9Z" transform="translate(-0.9 0.2)" fill="#1a1a1a" stroke="#1a1a1a" stroke-width="1.4"/>
<path d="M174.4 443.9 C174.4 445.0 174.2 446.3 173.9 447.3 C173.5 448.4 173.0 449.4 172.3 450.1 C171.7 450.8 170.9 451.3 170.1 451.6 C169.3 451.9 168.5 451.9 167.7 451.6 C166.9 451.3 166.1 450.8 165.5 450.1 C164.8 449.4 164.3 448.4 163.9 447.3 C163.6 446.3 163.4 445.0 163.4 443.9 C163.4 442.8 163.6 441.5 163.9 440.5 C164.3 439.4 164.8 438.4 165.5 437.7 C166.1 437.0 166.9 436.5 167.7 436.2 C168.5 435.9 169.3 435.9 170.1 436.2 C170.9 436.5 171.7 437.0 172.3 437.7 C173.0 438.4 173.5 439.4 173.9 440.5 C174.2 441.5 174.4 442.8 174.4 443.9Z" fill="#c4161c"/>
<path d="M173.8 443.9 C173.8 444.9 173.7 446.1 173.4 447.0 C173.0 447.9 172.5 448.8 172.0 449.5 C171.4 450.1 170.7 450.6 170.0 450.8 C169.3 451.1 168.5 451.1 167.8 450.8 C167.1 450.6 166.4 450.1 165.8 449.5 C165.3 448.8 164.8 447.9 164.4 447.0 C164.1 446.1 164.0 444.9 164.0 443.9 C164.0 442.9 164.1 441.7 164.4 440.8 C164.8 439.9 165.3 439.0 165.8 438.3 C166.4 437.7 167.1 437.2 167.8 437.0 C168.5 436.7 169.3 436.7 170.0 437.0 C170.7 437.2 171.4 437.7 172.0 438.3 C172.5 439.0 173.0 439.9 173.4 440.8 C173.7 441.7 173.8 442.9 173.8 443.9Z" fill="none" stroke="#1a0304" stroke-width="0.45" opacity="0.65"/>
<path d="M173.3 443.9 C173.3 444.8 173.1 445.8 172.9 446.6 C172.6 447.5 172.1 448.3 171.6 448.8 C171.1 449.4 170.5 449.9 169.9 450.1 C169.3 450.3 168.5 450.3 167.9 450.1 C167.3 449.9 166.7 449.4 166.2 448.8 C165.7 448.3 165.2 447.5 164.9 446.6 C164.7 445.8 164.5 444.8 164.5 443.9 C164.5 443.0 164.7 442.0 164.9 441.2 C165.2 440.3 165.7 439.5 166.2 439.0 C166.7 438.4 167.3 437.9 167.9 437.7 C168.5 437.5 169.3 437.5 169.9 437.7 C170.5 437.9 171.1 438.4 171.6 439.0 C172.1 439.5 172.6 440.3 172.9 441.2 C173.1 442.0 173.3 443.0 173.3 443.9Z" fill="none" stroke="#fff" stroke-width="0.75" opacity="0.7"/>
<path d="M172.8 443.9 C172.8 444.7 172.6 445.6 172.4 446.3 C172.1 447.0 171.7 447.7 171.3 448.2 C170.9 448.7 170.3 449.1 169.8 449.3 C169.2 449.5 168.6 449.5 168.0 449.3 C167.5 449.1 166.9 448.7 166.5 448.2 C166.1 447.7 165.7 447.0 165.4 446.3 C165.2 445.6 165.1 444.7 165.1 443.9 C165.1 443.1 165.2 442.2 165.4 441.5 C165.7 440.8 166.1 440.1 166.5 439.6 C166.9 439.1 167.5 438.7 168.0 438.5 C168.6 438.3 169.2 438.3 169.8 438.5 C170.3 438.7 170.9 439.1 171.3 439.6 C171.7 440.1 172.1 440.8 172.4 441.5 C172.6 442.2 172.8 443.1 172.8 443.9Z" fill="none" stroke="#1a0304" stroke-width="0.45" opacity="0.65"/>
<path d="M172.2 443.9 C172.2 444.6 172.1 445.3 171.9 446.0 C171.7 446.6 171.3 447.2 171.0 447.6 C170.6 448.0 170.1 448.4 169.6 448.5 C169.2 448.7 168.6 448.7 168.2 448.5 C167.7 448.4 167.2 448.0 166.8 447.6 C166.5 447.2 166.1 446.6 165.9 446.0 C165.7 445.3 165.6 444.6 165.6 443.9 C165.6 443.2 165.7 442.5 165.9 441.8 C166.1 441.2 166.5 440.6 166.8 440.2 C167.2 439.8 167.7 439.4 168.2 439.3 C168.6 439.1 169.2 439.1 169.6 439.3 C170.1 439.4 170.6 439.8 171.0 440.2 C171.3 440.6 171.7 441.2 171.9 441.8 C172.1 442.5 172.2 443.2 172.2 443.9Z" fill="none" stroke="#fff" stroke-width="0.75" opacity="0.7"/>
<path d="M171.7 443.9 C171.7 444.5 171.6 445.1 171.4 445.6 C171.2 446.1 170.9 446.6 170.6 447.0 C170.3 447.3 169.9 447.6 169.5 447.8 C169.1 447.9 168.7 447.9 168.3 447.8 C167.9 447.6 167.5 447.3 167.2 447.0 C166.9 446.6 166.6 446.1 166.4 445.6 C166.2 445.1 166.2 444.5 166.2 443.9 C166.2 443.3 166.2 442.7 166.4 442.2 C166.6 441.7 166.9 441.2 167.2 440.8 C167.5 440.5 167.9 440.2 168.3 440.0 C168.7 439.9 169.1 439.9 169.5 440.0 C169.9 440.2 170.3 440.5 170.6 440.8 C170.9 441.2 171.2 441.7 171.4 442.2 C171.6 442.7 171.7 443.3 171.7 443.9Z" fill="none" stroke="#1a0304" stroke-width="0.45" opacity="0.65"/>
<path d="M171.1 443.9 C171.1 444.4 171.0 444.9 170.9 445.3 C170.7 445.7 170.5 446.1 170.3 446.4 C170.0 446.7 169.7 446.9 169.4 447.0 C169.1 447.1 168.7 447.1 168.4 447.0 C168.1 446.9 167.8 446.7 167.5 446.4 C167.3 446.1 167.1 445.7 166.9 445.3 C166.8 444.9 166.7 444.4 166.7 443.9 C166.7 443.4 166.8 442.9 166.9 442.5 C167.1 442.1 167.3 441.7 167.5 441.4 C167.8 441.1 168.1 440.9 168.4 440.8 C168.7 440.7 169.1 440.7 169.4 440.8 C169.7 440.9 170.0 441.1 170.3 441.4 C170.5 441.7 170.7 442.1 170.9 442.5 C171.0 442.9 171.1 443.4 171.1 443.9Z" fill="none" stroke="#fff" stroke-width="0.75" opacity="0.7"/>
<path d="M170.6 443.9 C170.6 444.2 170.5 444.6 170.4 444.9 C170.3 445.2 170.1 445.5 169.9 445.8 C169.7 446.0 169.5 446.1 169.3 446.2 C169.0 446.3 168.8 446.3 168.5 446.2 C168.3 446.1 168.1 446.0 167.9 445.8 C167.7 445.5 167.5 445.2 167.4 444.9 C167.3 444.6 167.2 444.2 167.2 443.9 C167.2 443.6 167.3 443.2 167.4 442.9 C167.5 442.6 167.7 442.3 167.9 442.0 C168.1 441.8 168.3 441.7 168.5 441.6 C168.8 441.5 169.0 441.5 169.3 441.6 C169.5 441.7 169.7 441.8 169.9 442.0 C170.1 442.3 170.3 442.6 170.4 442.9 C170.5 443.2 170.6 443.6 170.6 443.9Z" fill="none" stroke="#1a0304" stroke-width="0.45" opacity="0.65"/>
<ellipse cx="168.9" cy="443.9" rx="2.7" ry="3.6" fill="none" stroke="#f2c0c0" stroke-width="0.6"/>
<ellipse cx="168.9" cy="443.9" rx="1.5" ry="2.0" fill="#fff" stroke="#333" stroke-width="0.6"/>
<ellipse transform="translate(172.0 446.0) rotate(0)" rx="3.5" ry="6.0" fill="none" stroke="#c4161c" stroke-width="0.8"/>
<path d="M203.3 443.5 C203.3 445.0 202.9 446.7 202.3 448.1 C201.6 449.5 200.5 450.9 199.3 451.9 C198.2 452.8 196.6 453.6 195.1 453.9 C193.7 454.3 191.9 454.3 190.5 453.9 C189.0 453.6 187.4 452.8 186.3 451.9 C185.1 450.9 184.0 449.5 183.3 448.1 C182.7 446.7 182.3 445.0 182.3 443.5 C182.3 442.0 182.7 440.3 183.3 438.9 C184.0 437.5 185.1 436.1 186.3 435.1 C187.4 434.2 189.0 433.4 190.5 433.1 C191.9 432.7 193.7 432.7 195.1 433.1 C196.6 433.4 198.2 434.2 199.3 435.1 C200.5 436.1 201.6 437.5 202.3 438.9 C202.9 440.3 203.3 442.0 203.3 443.5Z" transform="translate(-1.0 -0.2)" fill="#1a1a1a" stroke="#1a1a1a" stroke-width="1.4"/>
<path d="M203.3 443.5 C203.3 445.0 202.9 446.7 202.3 448.1 C201.6 449.5 200.5 450.9 199.3 451.9 C198.2 452.8 196.6 453.6 195.1 453.9 C193.7 454.3 191.9 454.3 190.5 453.9 C189.0 453.6 187.4 452.8 186.3 451.9 C185.1 450.9 184.0 449.5 183.3 448.1 C182.7 446.7 182.3 445.0 182.3 443.5 C182.3 442.0 182.7 440.3 183.3 438.9 C184.0 437.5 185.1 436.1 186.3 435.1 C187.4 434.2 189.0 433.4 190.5 433.1 C191.9 432.7 193.7 432.7 195.1 433.1 C196.6 433.4 198.2 434.2 199.3 435.1 C200.5 436.1 201.6 437.5 202.3 438.9 C202.9 440.3 203.3 442.0 203.3 443.5Z" fill="#c4161c"/>
<path d="M202.0 443.5 C202.0 444.9 201.7 446.4 201.1 447.6 C200.5 448.8 199.6 450.0 198.6 450.9 C197.5 451.7 196.2 452.4 194.9 452.7 C193.6 453.0 192.0 453.0 190.7 452.7 C189.4 452.4 188.1 451.7 187.0 450.9 C186.0 450.0 185.1 448.8 184.5 447.6 C183.9 446.4 183.6 444.9 183.6 443.5 C183.6 442.1 183.9 440.6 184.5 439.4 C185.1 438.2 186.0 437.0 187.0 436.1 C188.1 435.3 189.4 434.6 190.7 434.3 C192.0 434.0 193.6 434.0 194.9 434.3 C196.2 434.6 197.5 435.3 198.6 436.1 C199.6 437.0 200.5 438.2 201.1 439.4 C201.7 440.6 202.0 442.1 202.0 443.5Z" fill="none" stroke="#1a0304" stroke-width="0.45" opacity="0.65"/>
<path d="M200.8 443.5 C200.8 444.7 200.5 446.0 200.0 447.0 C199.5 448.1 198.7 449.1 197.8 449.9 C196.9 450.6 195.7 451.2 194.6 451.4 C193.5 451.7 192.1 451.7 191.0 451.4 C189.9 451.2 188.7 450.6 187.8 449.9 C186.9 449.1 186.1 448.1 185.6 447.0 C185.1 446.0 184.8 444.7 184.8 443.5 C184.8 442.3 185.1 441.0 185.6 440.0 C186.1 438.9 186.9 437.9 187.8 437.1 C188.7 436.4 189.9 435.8 191.0 435.6 C192.1 435.3 193.5 435.3 194.6 435.6 C195.7 435.8 196.9 436.4 197.8 437.1 C198.7 437.9 199.5 438.9 200.0 440.0 C200.5 441.0 200.8 442.3 200.8 443.5Z" fill="none" stroke="#fff" stroke-width="0.75" opacity="0.7"/>
<path d="M199.5 443.5 C199.5 444.5 199.3 445.6 198.9 446.5 C198.4 447.4 197.7 448.2 197.0 448.9 C196.2 449.5 195.2 450.0 194.3 450.2 C193.3 450.4 192.3 450.4 191.3 450.2 C190.4 450.0 189.4 449.5 188.6 448.9 C187.9 448.2 187.2 447.4 186.7 446.5 C186.3 445.6 186.1 444.5 186.1 443.5 C186.1 442.5 186.3 441.4 186.7 440.5 C187.2 439.6 187.9 438.8 188.6 438.1 C189.4 437.5 190.4 437.0 191.3 436.8 C192.3 436.6 193.3 436.6 194.3 436.8 C195.2 437.0 196.2 437.5 197.0 438.1 C197.7 438.8 198.4 439.6 198.9 440.5 C199.3 441.4 199.5 442.5 199.5 443.5Z" fill="none" stroke="#1a0304" stroke-width="0.45" opacity="0.65"/>
<path d="M198.1 443.5 C198.1 444.3 197.9 445.1 197.5 445.8 C197.2 446.5 196.7 447.2 196.1 447.7 C195.5 448.2 194.7 448.5 194.0 448.7 C193.2 448.9 192.4 448.9 191.6 448.7 C190.9 448.5 190.1 448.2 189.5 447.7 C188.9 447.2 188.4 446.5 188.1 445.8 C187.7 445.1 187.6 444.3 187.6 443.5 C187.6 442.7 187.7 441.9 188.1 441.2 C188.4 440.5 188.9 439.8 189.5 439.3 C190.1 438.8 190.9 438.5 191.6 438.3 C192.4 438.1 193.2 438.1 194.0 438.3 C194.7 438.5 195.5 438.8 196.1 439.3 C196.7 439.8 197.2 440.5 197.5 441.2 C197.9 441.9 198.1 442.7 198.1 443.5Z" fill="none" stroke="#fff" stroke-width="0.75" opacity="0.7"/>
<ellipse cx="189.5" cy="444.2" rx="2.9" ry="4.1" fill="none" stroke="#f2c0c0" stroke-width="0.6"/>
<ellipse cx="189.5" cy="444.2" rx="1.6" ry="2.3" fill="#fff" stroke="#333" stroke-width="0.6"/>
<ellipse cx="196.0" cy="444.2" rx="2.9" ry="4.1" fill="none" stroke="#f2c0c0" stroke-width="0.6"/>
<ellipse cx="196.0" cy="444.2" rx="1.6" ry="2.3" fill="#fff" stroke="#333" stroke-width="0.6"/>
<circle cx="204" cy="446" r="0.7" fill="#c4161c"/>
<path d="M193.8 355.3 C193.7 356.3 193.3 357.3 192.9 358.1 C192.5 359.0 192.0 359.7 191.4 360.3 C190.9 360.8 190.2 361.2 189.6 361.3 C189.0 361.4 188.4 361.3 187.9 361.0 C187.4 360.7 186.9 360.1 186.5 359.4 C186.2 358.7 185.9 357.8 185.8 356.9 C185.7 356.0 185.8 354.9 186.0 353.9 C186.1 352.9 186.5 351.9 186.9 351.1 C187.3 350.2 187.8 349.5 188.4 348.9 C188.9 348.4 189.6 348.0 190.2 347.9 C190.8 347.8 191.4 347.9 191.9 348.2 C192.4 348.5 192.9 349.1 193.3 349.8 C193.6 350.5 193.9 351.4 194.0 352.3 C194.1 353.2 194.0 354.3 193.8 355.3Z" transform="translate(-0.8 0)" fill="#1a1a1a" stroke="#1a1a1a" stroke-width="1.4"/>
<path d="M193.8 355.3 C193.7 356.3 193.3 357.3 192.9 358.1 C192.5 359.0 192.0 359.7 191.4 360.3 C190.9 360.8 190.2 361.2 189.6 361.3 C189.0 361.4 188.4 361.3 187.9 361.0 C187.4 360.7 186.9 360.1 186.5 359.4 C186.2 358.7 185.9 357.8 185.8 356.9 C185.7 356.0 185.8 354.9 186.0 353.9 C186.1 352.9 186.5 351.9 186.9 351.1 C187.3 350.2 187.8 349.5 188.4 348.9 C188.9 348.4 189.6 348.0 190.2 347.9 C190.8 347.8 191.4 347.9 191.9 348.2 C192.4 348.5 192.9 349.1 193.3 349.8 C193.6 350.5 193.9 351.4 194.0 352.3 C194.1 353.2 194.0 354.3 193.8 355.3Z" fill="#c4161c"/>
<path d="M193.4 355.2 C193.3 356.1 193.0 357.0 192.6 357.8 C192.3 358.5 191.8 359.2 191.3 359.7 C190.8 360.2 190.2 360.5 189.7 360.6 C189.1 360.7 188.5 360.6 188.1 360.3 C187.6 360.1 187.2 359.5 186.9 358.9 C186.6 358.3 186.3 357.5 186.2 356.7 C186.2 355.8 186.2 354.8 186.4 354.0 C186.5 353.1 186.8 352.2 187.2 351.4 C187.5 350.7 188.0 350.0 188.5 349.5 C189.0 349.0 189.6 348.7 190.1 348.6 C190.7 348.5 191.3 348.6 191.7 348.9 C192.2 349.1 192.6 349.7 192.9 350.3 C193.2 350.9 193.5 351.7 193.6 352.5 C193.6 353.4 193.6 354.4 193.4 355.2Z" fill="none" stroke="#1a0304" stroke-width="0.45" opacity="0.65"/>
<path d="M193.1 355.2 C192.9 355.9 192.7 356.8 192.3 357.4 C192.0 358.1 191.6 358.7 191.1 359.1 C190.7 359.6 190.2 359.9 189.7 359.9 C189.2 360.0 188.7 360.0 188.3 359.7 C187.9 359.4 187.5 359.0 187.2 358.4 C186.9 357.9 186.7 357.2 186.7 356.4 C186.6 355.7 186.6 354.8 186.7 354.0 C186.9 353.3 187.1 352.4 187.5 351.8 C187.8 351.1 188.2 350.5 188.7 350.1 C189.1 349.6 189.6 349.3 190.1 349.3 C190.6 349.2 191.1 349.2 191.5 349.5 C191.9 349.8 192.3 350.2 192.6 350.8 C192.9 351.3 193.1 352.0 193.1 352.8 C193.2 353.5 193.2 354.4 193.1 355.2Z" fill="none" stroke="#fff" stroke-width="0.75" opacity="0.7"/>
<path d="M192.7 355.1 C192.5 355.8 192.3 356.5 192.0 357.1 C191.7 357.7 191.4 358.2 191.0 358.6 C190.6 358.9 190.1 359.2 189.7 359.3 C189.3 359.4 188.8 359.3 188.5 359.1 C188.1 358.8 187.8 358.4 187.5 358.0 C187.3 357.5 187.1 356.8 187.1 356.2 C187.0 355.6 187.0 354.8 187.1 354.1 C187.3 353.4 187.5 352.7 187.8 352.1 C188.1 351.5 188.4 351.0 188.8 350.6 C189.2 350.3 189.7 350.0 190.1 349.9 C190.5 349.8 191.0 349.9 191.3 350.1 C191.7 350.4 192.0 350.8 192.3 351.2 C192.5 351.7 192.7 352.4 192.7 353.0 C192.8 353.6 192.8 354.4 192.7 355.1Z" fill="none" stroke="#1a0304" stroke-width="0.45" opacity="0.65"/>
<path d="M192.3 355.0 C192.2 355.6 192.0 356.2 191.7 356.7 C191.5 357.2 191.2 357.7 190.8 358.0 C190.5 358.3 190.1 358.5 189.7 358.6 C189.4 358.7 189.0 358.6 188.7 358.4 C188.4 358.2 188.1 357.9 187.9 357.5 C187.7 357.1 187.5 356.5 187.5 356.0 C187.4 355.4 187.4 354.8 187.5 354.2 C187.6 353.6 187.8 353.0 188.1 352.5 C188.3 352.0 188.6 351.5 189.0 351.2 C189.3 350.9 189.7 350.7 190.1 350.6 C190.4 350.5 190.8 350.6 191.1 350.8 C191.4 351.0 191.7 351.3 191.9 351.7 C192.1 352.1 192.3 352.7 192.3 353.2 C192.4 353.8 192.4 354.4 192.3 355.0Z" fill="none" stroke="#fff" stroke-width="0.75" opacity="0.7"/>
<path d="M191.9 354.9 C191.8 355.4 191.6 356.0 191.4 356.4 C191.2 356.8 190.9 357.2 190.7 357.4 C190.4 357.7 190.1 357.9 189.8 357.9 C189.5 358.0 189.1 357.9 188.9 357.8 C188.6 357.6 188.4 357.3 188.2 357.0 C188.0 356.7 187.9 356.2 187.9 355.7 C187.8 355.3 187.8 354.7 187.9 354.3 C188.0 353.8 188.2 353.2 188.4 352.8 C188.6 352.4 188.9 352.0 189.1 351.8 C189.4 351.5 189.7 351.3 190.0 351.3 C190.3 351.2 190.7 351.3 190.9 351.4 C191.2 351.6 191.4 351.9 191.6 352.2 C191.8 352.5 191.9 353.0 191.9 353.5 C192.0 353.9 192.0 354.5 191.9 354.9Z" fill="none" stroke="#1a0304" stroke-width="0.45" opacity="0.65"/>
<path d="M191.5 354.9 C191.4 355.3 191.3 355.7 191.1 356.0 C191.0 356.3 190.7 356.7 190.5 356.9 C190.3 357.1 190.0 357.2 189.8 357.3 C189.6 357.3 189.3 357.3 189.1 357.1 C188.9 357.0 188.7 356.8 188.5 356.5 C188.4 356.2 188.3 355.9 188.3 355.5 C188.2 355.1 188.3 354.7 188.3 354.3 C188.4 353.9 188.5 353.5 188.7 353.2 C188.8 352.9 189.1 352.5 189.3 352.3 C189.5 352.1 189.8 352.0 190.0 351.9 C190.2 351.9 190.5 351.9 190.7 352.1 C190.9 352.2 191.1 352.4 191.3 352.7 C191.4 353.0 191.5 353.3 191.5 353.7 C191.6 354.1 191.5 354.5 191.5 354.9Z" fill="none" stroke="#fff" stroke-width="0.75" opacity="0.7"/>
<path d="M191.1 354.8 C191.0 355.1 190.9 355.4 190.8 355.7 C190.7 355.9 190.5 356.1 190.4 356.3 C190.2 356.5 190.0 356.6 189.8 356.6 C189.6 356.6 189.4 356.6 189.3 356.5 C189.1 356.4 189.0 356.2 188.9 356.0 C188.8 355.8 188.7 355.6 188.7 355.3 C188.7 355.0 188.7 354.7 188.7 354.4 C188.8 354.1 188.9 353.8 189.0 353.5 C189.1 353.3 189.3 353.1 189.4 352.9 C189.6 352.7 189.8 352.6 190.0 352.6 C190.2 352.6 190.4 352.6 190.5 352.7 C190.7 352.8 190.8 353.0 190.9 353.2 C191.0 353.4 191.1 353.6 191.1 353.9 C191.1 354.2 191.1 354.5 191.1 354.8Z" fill="none" stroke="#1a0304" stroke-width="0.45" opacity="0.65"/>
<ellipse cx="189.9" cy="354.6" rx="2.7" ry="3.6" fill="none" stroke="#f2c0c0" stroke-width="0.6"/>
<ellipse cx="189.9" cy="354.6" rx="1.5" ry="2.0" fill="#fff" stroke="#333" stroke-width="0.6"/>
<ellipse cx="188.4" cy="340.6" rx="0.8" ry="1.4" fill="#c4161c"/>
<path d="M261.3 313.5 L265.7 313.5 L265.1 317.3 L265.9 321.0 L263.5 322.2 L260.6 321.0 L261.4 317.3Z" fill="none" stroke="#c4161c" stroke-width="0.85" stroke-linejoin="round"/>
<path d="M282.3 313.5 L285.7 313.5 L285.0 316.1 L285.7 318.7 L284.0 319.9 L281.6 318.7 L282.2 316.1Z" fill="none" stroke="#c4161c" stroke-width="0.85" stroke-linejoin="round"/>
<path d="M291.3 313.5 L295.2 313.5 L294.5 317.9 L295.1 322.3 L293.2 323.5 L291.8 322.3 L290.7 317.9Z" fill="none" stroke="#c4161c" stroke-width="0.85" stroke-linejoin="round"/>
<path d="M339.5 313.5 L343.0 313.5 L343.2 318.0 L343.7 322.6 L343.1 327.1 L341.2 328.3 L339.3 327.1 L340.3 322.6 L338.8 318.0Z" fill="none" stroke="#c4161c" stroke-width="0.85" stroke-linejoin="round"/>
<path d="M343.6 313.5 L347.1 313.5 L346.8 318.7 L346.5 323.9 L345.3 325.1 L343.0 323.9 L343.3 318.7Z" fill="none" stroke="#c4161c" stroke-width="0.85" stroke-linejoin="round"/>
<path d="M360.2 313.5 L363.5 313.5 L363.0 318.2 L363.6 323.0 L363.7 327.7 L363.3 332.4 L363.5 337.1 L361.8 338.3 L359.5 337.1 L359.5 332.4 L359.7 327.7 L360.5 323.0 L360.1 318.2Z" fill="none" stroke="#c4161c" stroke-width="0.85" stroke-linejoin="round"/>
<path d="M364.1 313.5 L367.3 313.5 L367.5 317.7 L367.3 321.9 L367.0 326.1 L367.8 330.3 L367.7 334.5 L366.9 338.8 L367.5 343.0 L365.7 344.2 L364.1 343.0 L364.7 338.8 L364.4 334.5 L363.7 330.3 L364.8 326.1 L363.5 321.9 L363.9 317.7Z" fill="none" stroke="#c4161c" stroke-width="0.85" stroke-linejoin="round"/>
<path d="M367.9 313.5 L371.2 313.5 L370.6 317.6 L371.2 321.6 L370.5 325.7 L371.5 329.7 L371.6 333.8 L371.3 337.8 L369.6 339.0 L368.5 337.8 L367.6 333.8 L368.2 329.7 L368.1 325.7 L368.1 321.6 L367.9 317.6Z" fill="none" stroke="#c4161c" stroke-width="0.85" stroke-linejoin="round"/>
<path d="M375.6 313.5 L379.2 313.5 L379.9 318.3 L379.2 323.1 L379.5 328.0 L377.4 329.2 L374.9 328.0 L375.9 323.1 L375.8 318.3Z" fill="none" stroke="#c4161c" stroke-width="0.85" stroke-linejoin="round"/>
<path d="M379.8 313.5 L383.4 313.5 L383.9 318.0 L383.1 322.4 L383.2 326.9 L381.6 328.1 L380.1 326.9 L379.0 322.4 L379.7 318.0Z" fill="none" stroke="#c4161c" stroke-width="0.85" stroke-linejoin="round"/>
<path d="M384.0 313.5 L387.6 313.5 L387.0 318.3 L386.9 323.1 L388.0 328.0 L387.0 332.8 L385.8 334.0 L383.6 332.8 L383.8 328.0 L384.6 323.1 L383.3 318.3Z" fill="none" stroke="#c4161c" stroke-width="0.85" stroke-linejoin="round"/>
<path d="M77.8 313.5 L81.0 313.5 L81.1 318.4 L81.6 323.3 L81.5 328.2 L79.4 329.4 L78.4 328.2 L77.4 323.3 L77.7 318.4Z" fill="none" stroke="#c4161c" stroke-width="1.0" stroke-linejoin="round"/>
<path d="M81.6 313.5 L84.8 313.5 L85.4 318.6 L85.5 323.7 L84.2 328.8 L83.2 330.0 L81.1 328.8 L81.2 323.7 L81.2 318.6Z" fill="none" stroke="#c4161c" stroke-width="1.0" stroke-linejoin="round"/>
<path d="M85.4 313.5 L88.6 313.5 L88.7 318.3 L88.2 323.2 L87.8 328.0 L87.0 329.2 L85.3 328.0 L85.2 323.2 L85.5 318.3Z" fill="none" stroke="#c4161c" stroke-width="1.0" stroke-linejoin="round"/>
<path d="M78.8 314.5 L83.0 314.5 L83.3 318.3 L83.0 322.2 L80.9 323.4 L79.0 322.2 L79.1 318.3Z" fill="none" stroke="#c4161c" stroke-width="0.7" stroke-linejoin="round"/>
<path d="M83.5 314.5 L87.7 314.5 L88.3 320.1 L88.1 325.8 L85.6 327.0 L84.1 325.8 L84.0 320.1Z" fill="none" stroke="#c4161c" stroke-width="0.7" stroke-linejoin="round"/>
<path d="M271.3 340.2 C271.3 341.6 271.0 343.1 270.5 344.3 C270.0 345.6 269.2 346.8 268.4 347.6 C267.5 348.5 266.3 349.2 265.2 349.5 C264.1 349.8 262.9 349.8 261.8 349.5 C260.7 349.2 259.5 348.5 258.6 347.6 C257.8 346.8 257.0 345.6 256.5 344.3 C256.0 343.1 255.7 341.6 255.7 340.2 C255.7 338.8 256.0 337.3 256.5 336.1 C257.0 334.8 257.8 333.6 258.6 332.8 C259.5 331.9 260.7 331.2 261.8 330.9 C262.9 330.6 264.1 330.6 265.2 330.9 C266.3 331.2 267.5 331.9 268.4 332.8 C269.2 333.6 270.0 334.8 270.5 336.1 C271.0 337.3 271.3 338.8 271.3 340.2Z" transform="translate(-0.9 0.2)" fill="#1a1a1a" stroke="#1a1a1a" stroke-width="1.4"/>
<path d="M271.3 340.2 C271.3 341.6 271.0 343.1 270.5 344.3 C270.0 345.6 269.2 346.8 268.4 347.6 C267.5 348.5 266.3 349.2 265.2 349.5 C264.1 349.8 262.9 349.8 261.8 349.5 C260.7 349.2 259.5 348.5 258.6 347.6 C257.8 346.8 257.0 345.6 256.5 344.3 C256.0 343.1 255.7 341.6 255.7 340.2 C255.7 338.8 256.0 337.3 256.5 336.1 C257.0 334.8 257.8 333.6 258.6 332.8 C259.5 331.9 260.7 331.2 261.8 330.9 C262.9 330.6 264.1 330.6 265.2 330.9 C266.3 331.2 267.5 331.9 268.4 332.8 C269.2 333.6 270.0 334.8 270.5 336.1 C271.0 337.3 271.3 338.8 271.3 340.2Z" fill="#c4161c"/>
<path d="M270.5 340.2 C270.5 341.4 270.3 342.8 269.8 343.9 C269.4 345.0 268.7 346.1 267.9 346.9 C267.1 347.7 266.1 348.3 265.1 348.5 C264.1 348.8 262.9 348.8 261.9 348.5 C260.9 348.3 259.9 347.7 259.1 346.9 C258.3 346.1 257.6 345.0 257.2 343.9 C256.7 342.8 256.5 341.4 256.5 340.2 C256.5 339.0 256.7 337.6 257.2 336.5 C257.6 335.4 258.3 334.3 259.1 333.5 C259.9 332.7 260.9 332.1 261.9 331.9 C262.9 331.6 264.1 331.6 265.1 331.9 C266.1 332.1 267.1 332.7 267.9 333.5 C268.7 334.3 269.4 335.4 269.8 336.5 C270.3 337.6 270.5 339.0 270.5 340.2Z" fill="none" stroke="#1a0304" stroke-width="0.45" opacity="0.65"/>
<path d="M269.7 340.2 C269.7 341.3 269.5 342.5 269.1 343.5 C268.7 344.5 268.1 345.5 267.4 346.1 C266.7 346.8 265.8 347.4 264.9 347.6 C264.0 347.9 263.0 347.9 262.1 347.6 C261.2 347.4 260.3 346.8 259.6 346.1 C258.9 345.5 258.3 344.5 257.9 343.5 C257.5 342.5 257.3 341.3 257.3 340.2 C257.3 339.1 257.5 337.9 257.9 336.9 C258.3 335.9 258.9 334.9 259.6 334.3 C260.3 333.6 261.2 333.0 262.1 332.8 C263.0 332.5 264.0 332.5 264.9 332.8 C265.8 333.0 266.7 333.6 267.4 334.3 C268.1 334.9 268.7 335.9 269.1 336.9 C269.5 337.9 269.7 339.1 269.7 340.2Z" fill="none" stroke="#fff" stroke-width="0.75" opacity="0.7"/>
<path d="M269.0 340.2 C269.0 341.2 268.8 342.2 268.4 343.1 C268.1 344.0 267.5 344.8 266.9 345.4 C266.3 346.0 265.5 346.5 264.7 346.7 C263.9 346.9 263.1 346.9 262.3 346.7 C261.5 346.5 260.7 346.0 260.1 345.4 C259.5 344.8 258.9 344.0 258.6 343.1 C258.2 342.2 258.0 341.2 258.0 340.2 C258.0 339.2 258.2 338.2 258.6 337.3 C258.9 336.4 259.5 335.6 260.1 335.0 C260.7 334.4 261.5 333.9 262.3 333.7 C263.1 333.5 263.9 333.5 264.7 333.7 C265.5 333.9 266.3 334.4 266.9 335.0 C267.5 335.6 268.1 336.4 268.4 337.3 C268.8 338.2 269.0 339.2 269.0 340.2Z" fill="none" stroke="#1a0304" stroke-width="0.45" opacity="0.65"/>
<path d="M268.2 340.2 C268.2 341.0 268.0 341.9 267.7 342.7 C267.4 343.4 266.9 344.1 266.4 344.7 C265.9 345.2 265.2 345.6 264.5 345.8 C263.9 345.9 263.1 345.9 262.5 345.8 C261.8 345.6 261.1 345.2 260.6 344.7 C260.1 344.1 259.6 343.4 259.3 342.7 C259.0 341.9 258.8 341.0 258.8 340.2 C258.8 339.4 259.0 338.5 259.3 337.7 C259.6 337.0 260.1 336.3 260.6 335.7 C261.1 335.2 261.8 334.8 262.5 334.6 C263.1 334.5 263.9 334.5 264.5 334.6 C265.2 334.8 265.9 335.2 266.4 335.7 C266.9 336.3 267.4 337.0 267.7 337.7 C268.0 338.5 268.2 339.4 268.2 340.2Z" fill="none" stroke="#fff" stroke-width="0.75" opacity="0.7"/>
<path d="M267.4 340.2 C267.4 340.9 267.3 341.6 267.0 342.3 C266.8 342.9 266.4 343.5 265.9 343.9 C265.5 344.3 264.9 344.7 264.4 344.8 C263.8 345.0 263.2 345.0 262.6 344.8 C262.1 344.7 261.5 344.3 261.1 343.9 C260.6 343.5 260.2 342.9 260.0 342.3 C259.7 341.6 259.6 340.9 259.6 340.2 C259.6 339.5 259.7 338.8 260.0 338.1 C260.2 337.5 260.6 336.9 261.1 336.5 C261.5 336.1 262.1 335.7 262.6 335.6 C263.2 335.4 263.8 335.4 264.4 335.6 C264.9 335.7 265.5 336.1 265.9 336.5 C266.4 336.9 266.8 337.5 267.0 338.1 C267.3 338.8 267.4 339.5 267.4 340.2Z" fill="none" stroke="#1a0304" stroke-width="0.45" opacity="0.65"/>
<path d="M266.6 340.2 C266.6 340.7 266.5 341.4 266.3 341.8 C266.1 342.3 265.8 342.8 265.4 343.2 C265.1 343.5 264.6 343.8 264.2 343.9 C263.8 344.0 263.2 344.0 262.8 343.9 C262.4 343.8 261.9 343.5 261.6 343.2 C261.2 342.8 260.9 342.3 260.7 341.8 C260.5 341.4 260.4 340.7 260.4 340.2 C260.4 339.7 260.5 339.0 260.7 338.6 C260.9 338.1 261.2 337.6 261.6 337.2 C261.9 336.9 262.4 336.6 262.8 336.5 C263.2 336.4 263.8 336.4 264.2 336.5 C264.6 336.6 265.1 336.9 265.4 337.2 C265.8 337.6 266.1 338.1 266.3 338.6 C266.5 339.0 266.6 339.7 266.6 340.2Z" fill="none" stroke="#fff" stroke-width="0.75" opacity="0.7"/>
<path d="M265.8 340.2 C265.8 340.6 265.8 341.1 265.6 341.4 C265.5 341.8 265.2 342.2 265.0 342.4 C264.7 342.7 264.4 342.9 264.0 343.0 C263.7 343.1 263.3 343.1 263.0 343.0 C262.6 342.9 262.3 342.7 262.0 342.4 C261.8 342.2 261.5 341.8 261.4 341.4 C261.2 341.1 261.2 340.6 261.2 340.2 C261.2 339.8 261.2 339.3 261.4 339.0 C261.5 338.6 261.8 338.2 262.0 338.0 C262.3 337.7 262.6 337.5 263.0 337.4 C263.3 337.3 263.7 337.3 264.0 337.4 C264.4 337.5 264.7 337.7 265.0 338.0 C265.2 338.2 265.5 338.6 265.6 339.0 C265.8 339.3 265.8 339.8 265.8 340.2Z" fill="none" stroke="#1a0304" stroke-width="0.45" opacity="0.65"/>
<ellipse cx="263.5" cy="340.2" rx="2.7" ry="3.6" fill="none" stroke="#f2c0c0" stroke-width="0.6"/>
<ellipse cx="263.5" cy="340.2" rx="1.5" ry="2.0" fill="#fff" stroke="#333" stroke-width="0.6"/>
<ellipse transform="translate(273.5 342.5) rotate(0)" rx="2.5" ry="3.5" fill="none" stroke="#c4161c" stroke-width="0.8"/>
<ellipse transform="translate(273.5 357.3) rotate(0)" rx="2.5" ry="3.0" fill="none" stroke="#c4161c" stroke-width="0.8"/>
<ellipse transform="translate(268.5 359.0) rotate(0)" rx="2.0" ry="2.8" fill="none" stroke="#c4161c" stroke-width="0.8"/>
<ellipse transform="translate(264.7 363.0) rotate(0)" rx="1.5" ry="2.5" fill="none" stroke="#c4161c" stroke-width="0.8"/>
<path d="M288.0 329.0 C289.4 326.8 292.4 326.2 294.0 326.5 C295.6 326.8 296.7 328.4 297.5 331.0 C298.3 333.6 298.7 338.7 298.6 342.0 C298.5 345.3 298.1 349.0 297.0 351.0 C295.9 353.0 293.7 354.0 292.0 354.0 C290.3 354.0 288.1 353.3 287.0 351.0 C285.9 348.7 285.3 343.7 285.5 340.0 C285.7 336.3 286.6 331.2 288.0 329.0Z" transform="translate(-1.0 0.6)" fill="#1a1a1a" stroke="#1a1a1a" stroke-width="1.4"/>
<path d="M288.0 329.0 C289.4 326.8 292.4 326.2 294.0 326.5 C295.6 326.8 296.7 328.4 297.5 331.0 C298.3 333.6 298.7 338.7 298.6 342.0 C298.5 345.3 298.1 349.0 297.0 351.0 C295.9 353.0 293.7 354.0 292.0 354.0 C290.3 354.0 288.1 353.3 287.0 351.0 C285.9 348.7 285.3 343.7 285.5 340.0 C285.7 336.3 286.6 331.2 288.0 329.0Z" fill="#c4161c"/>
<path d="M288.4 329.9 C289.7 327.9 292.4 327.3 293.8 327.6 C295.2 327.9 296.3 329.4 296.9 331.7 C297.6 334.0 298.0 338.6 297.9 341.6 C297.9 344.6 297.5 347.9 296.5 349.7 C295.5 351.5 293.5 352.4 292.0 352.4 C290.5 352.4 288.5 351.8 287.5 349.7 C286.5 347.6 286.0 343.1 286.1 339.8 C286.3 336.5 287.1 331.9 288.4 329.9Z" fill="none" stroke="#1a0304" stroke-width="0.45" opacity="0.65"/>
<path d="M288.8 330.8 C289.9 329.0 292.3 328.5 293.6 328.8 C294.9 329.1 295.8 330.3 296.4 332.4 C297.0 334.5 297.3 338.5 297.3 341.2 C297.2 343.9 296.9 346.8 296.0 348.4 C295.1 350.0 293.3 350.8 292.0 350.8 C290.7 350.8 288.9 350.3 288.0 348.4 C287.1 346.5 286.7 342.5 286.8 339.6 C286.9 336.7 287.7 332.6 288.8 330.8Z" fill="none" stroke="#fff" stroke-width="0.75" opacity="0.7"/>
<path d="M289.2 331.7 C290.2 330.1 292.3 329.7 293.4 329.9 C294.5 330.2 295.3 331.3 295.9 333.1 C296.4 334.9 296.7 338.5 296.6 340.8 C296.6 343.1 296.3 345.7 295.5 347.1 C294.7 348.5 293.2 349.2 292.0 349.2 C290.8 349.2 289.3 348.7 288.5 347.1 C287.7 345.5 287.3 342.0 287.4 339.4 C287.6 336.8 288.2 333.3 289.2 331.7Z" fill="none" stroke="#1a0304" stroke-width="0.45" opacity="0.65"/>
<path d="M289.6 332.6 C290.5 331.2 292.2 330.9 293.2 331.1 C294.1 331.3 294.8 332.2 295.3 333.8 C295.8 335.4 296.0 338.4 296.0 340.4 C295.9 342.4 295.7 344.6 295.0 345.8 C294.3 347.0 293.0 347.6 292.0 347.6 C291.0 347.6 289.6 347.2 289.0 345.8 C288.4 344.4 288.0 341.4 288.1 339.2 C288.2 337.0 288.8 334.0 289.6 332.6Z" fill="none" stroke="#fff" stroke-width="0.75" opacity="0.7"/>
<path d="M290.0 333.5 C290.7 332.4 292.2 332.1 293.0 332.2 C293.8 332.4 294.4 333.2 294.8 334.5 C295.1 335.8 295.3 338.3 295.3 340.0 C295.3 341.7 295.1 343.5 294.5 344.5 C293.9 345.5 292.8 346.0 292.0 346.0 C291.2 346.0 290.0 345.7 289.5 344.5 C289.0 343.3 288.7 340.8 288.8 339.0 C288.8 337.2 289.3 334.6 290.0 333.5Z" fill="none" stroke="#1a0304" stroke-width="0.45" opacity="0.65"/>
<path d="M290.4 334.4 C291.0 333.5 292.2 333.3 292.8 333.4 C293.4 333.5 293.9 334.2 294.2 335.2 C294.5 336.2 294.7 338.3 294.6 339.6 C294.6 340.9 294.4 342.4 294.0 343.2 C293.6 344.0 292.7 344.4 292.0 344.4 C291.3 344.4 290.4 344.1 290.0 343.2 C289.6 342.3 289.3 340.3 289.4 338.8 C289.5 337.3 289.8 335.3 290.4 334.4Z" fill="none" stroke="#fff" stroke-width="0.75" opacity="0.7"/>
<path d="M290.8 335.3 C291.2 334.6 292.1 334.5 292.6 334.6 C293.1 334.6 293.4 335.1 293.6 335.9 C293.9 336.7 294.0 338.2 294.0 339.2 C294.0 340.2 293.8 341.3 293.5 341.9 C293.2 342.5 292.5 342.8 292.0 342.8 C291.5 342.8 290.8 342.6 290.5 341.9 C290.2 341.2 290.0 339.7 290.1 338.6 C290.1 337.5 290.4 336.0 290.8 335.3Z" fill="none" stroke="#1a0304" stroke-width="0.45" opacity="0.65"/>
<ellipse cx="292.0" cy="338.0" rx="2.7" ry="3.6" fill="none" stroke="#f2c0c0" stroke-width="0.6"/>
<ellipse cx="292.0" cy="338.0" rx="1.5" ry="2.0" fill="#fff" stroke="#333" stroke-width="0.6"/>
<path d="M281.5 334.0 C282.8 331.8 284.0 331.7 285.0 333.0 C286.0 334.3 287.1 338.3 287.5 342.0 C287.9 345.7 288.0 351.0 287.6 355.0 C287.2 359.0 286.1 363.7 285.0 366.0 C283.9 368.3 282.2 369.7 281.0 369.0 C279.8 368.3 278.1 365.8 277.5 362.0 C276.9 358.2 276.8 350.7 277.5 346.0 C278.2 341.3 280.2 336.2 281.5 334.0Z" transform="translate(-0.8 0.4)" fill="#1a1a1a" stroke="#1a1a1a" stroke-width="1.4"/>
<path d="M281.5 334.0 C282.8 331.8 284.0 331.7 285.0 333.0 C286.0 334.3 287.1 338.3 287.5 342.0 C287.9 345.7 288.0 351.0 287.6 355.0 C287.2 359.0 286.1 363.7 285.0 366.0 C283.9 368.3 282.2 369.7 281.0 369.0 C279.8 368.3 278.1 365.8 277.5 362.0 C276.9 358.2 276.8 350.7 277.5 346.0 C278.2 341.3 280.2 336.2 281.5 334.0Z" fill="#c4161c"/>
<path d="M281.6 335.8 C282.7 333.9 283.9 333.7 284.8 334.9 C285.6 336.1 286.6 339.7 287.0 343.0 C287.4 346.3 287.5 351.1 287.1 354.7 C286.7 358.3 285.7 362.5 284.8 364.6 C283.8 366.7 282.3 367.9 281.1 367.3 C280.0 366.7 278.5 364.4 278.0 361.0 C277.5 357.6 277.4 350.8 278.0 346.6 C278.6 342.4 280.5 337.8 281.6 335.8Z" fill="none" stroke="#1a0304" stroke-width="0.45" opacity="0.65"/>
<path d="M281.7 337.6 C282.7 335.9 283.7 335.7 284.5 336.8 C285.3 337.9 286.2 341.1 286.5 344.0 C286.8 346.9 286.9 351.2 286.6 354.4 C286.2 357.6 285.4 361.3 284.5 363.2 C283.6 365.1 282.3 366.1 281.3 365.6 C280.3 365.1 279.0 363.1 278.5 360.0 C278.0 356.9 278.0 350.9 278.5 347.2 C279.0 343.5 280.7 339.3 281.7 337.6Z" fill="none" stroke="#fff" stroke-width="0.75" opacity="0.7"/>
<path d="M281.8 339.4 C282.7 337.9 283.6 337.8 284.2 338.7 C284.9 339.6 285.7 342.4 286.0 345.0 C286.3 347.6 286.4 351.3 286.1 354.1 C285.8 356.9 285.0 360.2 284.2 361.8 C283.5 363.4 282.3 364.4 281.4 363.9 C280.6 363.4 279.4 361.7 279.0 359.0 C278.6 356.3 278.5 351.1 279.0 347.8 C279.5 344.5 280.9 340.9 281.8 339.4Z" fill="none" stroke="#1a0304" stroke-width="0.45" opacity="0.65"/>
<path d="M281.9 341.2 C282.6 339.9 283.4 339.8 284.0 340.6 C284.6 341.4 285.2 343.8 285.5 346.0 C285.8 348.2 285.8 351.4 285.6 353.8 C285.3 356.2 284.7 359.0 284.0 360.4 C283.3 361.8 282.4 362.6 281.6 362.2 C280.9 361.8 279.9 360.3 279.5 358.0 C279.1 355.7 279.1 351.2 279.5 348.4 C279.9 345.6 281.1 342.5 281.9 341.2Z" fill="none" stroke="#fff" stroke-width="0.75" opacity="0.7"/>
<path d="M282.0 343.0 C282.6 341.9 283.2 341.8 283.8 342.5 C284.2 343.2 284.8 345.2 285.0 347.0 C285.2 348.8 285.3 351.5 285.1 353.5 C284.8 355.5 284.3 357.8 283.8 359.0 C283.2 360.2 282.4 360.8 281.8 360.5 C281.1 360.2 280.3 358.9 280.0 357.0 C279.7 355.1 279.7 351.3 280.0 349.0 C280.3 346.7 281.4 344.1 282.0 343.0Z" fill="none" stroke="#1a0304" stroke-width="0.45" opacity="0.65"/>
<path d="M282.1 344.8 C282.6 343.9 283.1 343.9 283.5 344.4 C283.9 344.9 284.3 346.5 284.5 348.0 C284.7 349.5 284.7 351.6 284.5 353.2 C284.4 354.8 283.9 356.7 283.5 357.6 C283.1 358.5 282.4 359.1 281.9 358.8 C281.4 358.5 280.7 357.5 280.5 356.0 C280.3 354.5 280.2 351.5 280.5 349.6 C280.8 347.7 281.6 345.7 282.1 344.8Z" fill="none" stroke="#fff" stroke-width="0.75" opacity="0.7"/>
<path d="M282.2 346.6 C282.6 346.0 282.9 345.9 283.2 346.3 C283.6 346.7 283.9 347.9 284.0 349.0 C284.1 350.1 284.2 351.7 284.0 352.9 C283.9 354.1 283.6 355.5 283.2 356.2 C282.9 356.9 282.4 357.3 282.1 357.1 C281.7 356.9 281.2 356.1 281.0 355.0 C280.8 353.9 280.8 351.6 281.0 350.2 C281.2 348.8 281.8 347.2 282.2 346.6Z" fill="none" stroke="#1a0304" stroke-width="0.45" opacity="0.65"/>
<ellipse cx="282.5" cy="352.0" rx="2.7" ry="3.6" fill="none" stroke="#f2c0c0" stroke-width="0.6"/>
<ellipse cx="282.5" cy="352.0" rx="1.5" ry="2.0" fill="#fff" stroke="#333" stroke-width="0.6"/>
<path d="M305.0 334.8 C306.7 333.1 310.5 334.1 313.0 335.0 C315.5 335.9 318.1 337.5 320.0 340.0 C321.9 342.5 323.9 346.7 324.2 350.0 C324.5 353.3 323.7 357.8 322.0 360.0 C320.3 362.2 316.8 363.3 314.0 363.0 C311.2 362.7 306.9 361.0 305.0 358.0 C303.1 355.0 302.7 348.9 302.7 345.0 C302.7 341.1 303.3 336.5 305.0 334.8Z" fill="none" stroke="#c4161c" stroke-width="0.8"/>
<path d="M307.0 340.0 C308.2 338.0 311.2 339.0 313.0 340.0 C314.8 341.0 317.0 343.7 318.0 346.0 C319.0 348.3 320.0 352.2 319.0 354.0 C318.0 355.8 314.2 357.3 312.0 357.0 C309.8 356.7 306.8 354.8 306.0 352.0 C305.2 349.2 305.8 342.0 307.0 340.0Z" fill="none" stroke="#c4161c" stroke-width="0.7"/>
<path d="M314.2 354.6 C314.2 356.4 313.9 358.4 313.5 360.0 C313.1 361.6 312.4 363.2 311.6 364.3 C310.8 365.4 309.7 366.3 308.8 366.7 C307.8 367.1 306.6 367.1 305.6 366.7 C304.7 366.3 303.6 365.4 302.8 364.3 C302.0 363.2 301.3 361.6 300.9 360.0 C300.5 358.4 300.2 356.4 300.2 354.6 C300.2 352.8 300.5 350.8 300.9 349.2 C301.3 347.6 302.0 346.0 302.8 344.9 C303.6 343.8 304.7 342.9 305.6 342.5 C306.6 342.1 307.8 342.1 308.8 342.5 C309.7 342.9 310.8 343.8 311.6 344.9 C312.4 346.0 313.1 347.6 313.5 349.2 C313.9 350.8 314.2 352.8 314.2 354.6Z" transform="translate(-0.9 0.2)" fill="#1a1a1a" stroke="#1a1a1a" stroke-width="1.4"/>
<path d="M314.2 354.6 C314.2 356.4 313.9 358.4 313.5 360.0 C313.1 361.6 312.4 363.2 311.6 364.3 C310.8 365.4 309.7 366.3 308.8 366.7 C307.8 367.1 306.6 367.1 305.6 366.7 C304.7 366.3 303.6 365.4 302.8 364.3 C302.0 363.2 301.3 361.6 300.9 360.0 C300.5 358.4 300.2 356.4 300.2 354.6 C300.2 352.8 300.5 350.8 300.9 349.2 C301.3 347.6 302.0 346.0 302.8 344.9 C303.6 343.8 304.7 342.9 305.6 342.5 C306.6 342.1 307.8 342.1 308.8 342.5 C309.7 342.9 310.8 343.8 311.6 344.9 C312.4 346.0 313.1 347.6 313.5 349.2 C313.9 350.8 314.2 352.8 314.2 354.6Z" fill="#c4161c"/>
<path d="M313.5 354.6 C313.5 356.2 313.3 358.0 312.9 359.4 C312.5 360.9 311.8 362.3 311.1 363.3 C310.4 364.3 309.5 365.1 308.6 365.5 C307.7 365.8 306.7 365.8 305.8 365.5 C304.9 365.1 304.0 364.3 303.3 363.3 C302.6 362.3 301.9 360.9 301.5 359.4 C301.1 358.0 300.9 356.2 300.9 354.6 C300.9 353.0 301.1 351.2 301.5 349.8 C301.9 348.3 302.6 346.9 303.3 345.9 C304.0 344.9 304.9 344.1 305.8 343.7 C306.7 343.4 307.7 343.4 308.6 343.7 C309.5 344.1 310.4 344.9 311.1 345.9 C311.8 346.9 312.5 348.3 312.9 349.8 C313.3 351.2 313.5 353.0 313.5 354.6Z" fill="none" stroke="#1a0304" stroke-width="0.45" opacity="0.65"/>
<path d="M312.8 354.6 C312.8 356.0 312.6 357.6 312.2 358.9 C311.9 360.2 311.3 361.5 310.7 362.4 C310.1 363.3 309.2 364.0 308.4 364.3 C307.7 364.6 306.7 364.6 306.0 364.3 C305.2 364.0 304.3 363.3 303.7 362.4 C303.1 361.5 302.5 360.2 302.2 358.9 C301.8 357.6 301.6 356.0 301.6 354.6 C301.6 353.2 301.8 351.6 302.2 350.3 C302.5 349.0 303.1 347.7 303.7 346.8 C304.3 345.9 305.2 345.2 306.0 344.9 C306.7 344.6 307.7 344.6 308.4 344.9 C309.2 345.2 310.1 345.9 310.7 346.8 C311.3 347.7 311.9 349.0 312.2 350.3 C312.6 351.6 312.8 353.2 312.8 354.6Z" fill="none" stroke="#fff" stroke-width="0.75" opacity="0.7"/>
<path d="M312.1 354.6 C312.1 355.9 311.9 357.2 311.6 358.4 C311.3 359.5 310.8 360.6 310.3 361.4 C309.7 362.2 309.0 362.8 308.3 363.1 C307.6 363.3 306.8 363.3 306.1 363.1 C305.4 362.8 304.7 362.2 304.1 361.4 C303.6 360.6 303.1 359.5 302.8 358.4 C302.5 357.2 302.3 355.9 302.3 354.6 C302.3 353.3 302.5 352.0 302.8 350.8 C303.1 349.7 303.6 348.6 304.1 347.8 C304.7 347.0 305.4 346.4 306.1 346.1 C306.8 345.9 307.6 345.9 308.3 346.1 C309.0 346.4 309.7 347.0 310.3 347.8 C310.8 348.6 311.3 349.7 311.6 350.8 C311.9 352.0 312.1 353.3 312.1 354.6Z" fill="none" stroke="#1a0304" stroke-width="0.45" opacity="0.65"/>
<path d="M311.4 354.6 C311.4 355.7 311.2 356.9 311.0 357.8 C310.7 358.8 310.3 359.7 309.8 360.4 C309.3 361.1 308.7 361.6 308.1 361.9 C307.5 362.1 306.9 362.1 306.3 361.9 C305.7 361.6 305.1 361.1 304.6 360.4 C304.1 359.7 303.7 358.8 303.4 357.8 C303.2 356.9 303.0 355.7 303.0 354.6 C303.0 353.5 303.2 352.3 303.4 351.4 C303.7 350.4 304.1 349.5 304.6 348.8 C305.1 348.1 305.7 347.6 306.3 347.3 C306.9 347.1 307.5 347.1 308.1 347.3 C308.7 347.6 309.3 348.1 309.8 348.8 C310.3 349.5 310.7 350.4 311.0 351.4 C311.2 352.3 311.4 353.5 311.4 354.6Z" fill="none" stroke="#fff" stroke-width="0.75" opacity="0.7"/>
<path d="M310.7 354.6 C310.7 355.5 310.6 356.5 310.4 357.3 C310.1 358.1 309.8 358.9 309.4 359.4 C309.0 360.0 308.5 360.4 308.0 360.6 C307.5 360.8 306.9 360.8 306.4 360.6 C305.9 360.4 305.4 360.0 305.0 359.4 C304.6 358.9 304.3 358.1 304.0 357.3 C303.8 356.5 303.7 355.5 303.7 354.6 C303.7 353.7 303.8 352.7 304.0 351.9 C304.3 351.1 304.6 350.3 305.0 349.8 C305.4 349.2 305.9 348.8 306.4 348.6 C306.9 348.4 307.5 348.4 308.0 348.6 C308.5 348.8 309.0 349.2 309.4 349.8 C309.8 350.3 310.1 351.1 310.4 351.9 C310.6 352.7 310.7 353.7 310.7 354.6Z" fill="none" stroke="#1a0304" stroke-width="0.45" opacity="0.65"/>
<path d="M310.0 354.6 C310.0 355.3 309.9 356.1 309.7 356.8 C309.5 357.4 309.3 358.0 308.9 358.5 C308.6 358.9 308.2 359.3 307.8 359.4 C307.4 359.6 307.0 359.6 306.6 359.4 C306.2 359.3 305.8 358.9 305.5 358.5 C305.1 358.0 304.9 357.4 304.7 356.8 C304.5 356.1 304.4 355.3 304.4 354.6 C304.4 353.9 304.5 353.1 304.7 352.4 C304.9 351.8 305.1 351.2 305.5 350.7 C305.8 350.3 306.2 349.9 306.6 349.8 C307.0 349.6 307.4 349.6 307.8 349.8 C308.2 349.9 308.6 350.3 308.9 350.7 C309.3 351.2 309.5 351.8 309.7 352.4 C309.9 353.1 310.0 353.9 310.0 354.6Z" fill="none" stroke="#fff" stroke-width="0.75" opacity="0.7"/>
<path d="M309.3 354.6 C309.3 355.1 309.2 355.7 309.1 356.2 C309.0 356.7 308.7 357.2 308.5 357.5 C308.3 357.8 308.0 358.1 307.7 358.2 C307.4 358.3 307.0 358.3 306.7 358.2 C306.4 358.1 306.1 357.8 305.9 357.5 C305.7 357.2 305.4 356.7 305.3 356.2 C305.2 355.7 305.1 355.1 305.1 354.6 C305.1 354.1 305.2 353.5 305.3 353.0 C305.4 352.5 305.7 352.0 305.9 351.7 C306.1 351.4 306.4 351.1 306.7 351.0 C307.0 350.9 307.4 350.9 307.7 351.0 C308.0 351.1 308.3 351.4 308.5 351.7 C308.7 352.0 309.0 352.5 309.1 353.0 C309.2 353.5 309.3 354.1 309.3 354.6Z" fill="none" stroke="#1a0304" stroke-width="0.45" opacity="0.65"/>
<ellipse cx="307.2" cy="354.6" rx="2.7" ry="3.6" fill="none" stroke="#f2c0c0" stroke-width="0.6"/>
<ellipse cx="307.2" cy="354.6" rx="1.5" ry="2.0" fill="#fff" stroke="#333" stroke-width="0.6"/>
<path d="M336.0 331.0 C337.8 328.8 342.4 330.2 345.0 330.7 C347.6 331.2 350.4 331.4 351.5 334.0 C352.6 336.6 352.2 343.3 351.5 346.0 C350.8 348.7 349.2 349.6 347.0 350.3 C344.8 351.0 340.1 351.1 338.0 350.0 C335.9 348.9 334.7 347.2 334.4 344.0 C334.1 340.8 334.2 333.2 336.0 331.0Z" transform="translate(-0.9 -0.2)" fill="#1a1a1a" stroke="#1a1a1a" stroke-width="1.4"/>
<path d="M336.0 331.0 C337.8 328.8 342.4 330.2 345.0 330.7 C347.6 331.2 350.4 331.4 351.5 334.0 C352.6 336.6 352.2 343.3 351.5 346.0 C350.8 348.7 349.2 349.6 347.0 350.3 C344.8 351.0 340.1 351.1 338.0 350.0 C335.9 348.9 334.7 347.2 334.4 344.0 C334.1 340.8 334.2 333.2 336.0 331.0Z" fill="#c4161c"/>
<path d="M336.6 331.9 C338.2 329.9 342.4 331.2 344.7 331.6 C347.0 332.1 349.6 332.3 350.6 334.6 C351.5 336.9 351.2 343.0 350.6 345.4 C349.9 347.8 348.5 348.7 346.5 349.3 C344.5 349.9 340.3 349.9 338.4 349.0 C336.5 348.1 335.5 346.5 335.2 343.6 C334.9 340.8 335.0 333.9 336.6 331.9Z" fill="none" stroke="#1a0304" stroke-width="0.45" opacity="0.65"/>
<path d="M337.2 332.8 C338.6 331.0 342.3 332.2 344.4 332.6 C346.5 333.0 348.7 333.2 349.6 335.2 C350.5 337.2 350.2 342.6 349.6 344.8 C349.0 347.0 347.8 347.7 346.0 348.2 C344.2 348.8 340.5 348.8 338.8 348.0 C337.1 347.2 336.2 345.7 335.9 343.2 C335.7 340.7 335.8 334.6 337.2 332.8Z" fill="none" stroke="#fff" stroke-width="0.75" opacity="0.7"/>
<path d="M337.8 333.7 C339.0 332.1 342.3 333.1 344.1 333.5 C345.9 333.8 347.9 334.0 348.6 335.8 C349.4 337.6 349.2 342.3 348.6 344.2 C348.1 346.1 347.1 346.7 345.5 347.2 C343.9 347.7 340.7 347.7 339.2 347.0 C337.7 346.3 336.9 345.0 336.7 342.8 C336.4 340.6 336.6 335.3 337.8 333.7Z" fill="none" stroke="#1a0304" stroke-width="0.45" opacity="0.65"/>
<path d="M338.4 334.6 C339.5 333.3 342.2 334.1 343.8 334.4 C345.4 334.7 347.1 334.9 347.7 336.4 C348.3 337.9 348.1 342.0 347.7 343.6 C347.2 345.2 346.4 345.8 345.0 346.2 C343.6 346.6 340.9 346.6 339.6 346.0 C338.3 345.4 337.6 344.3 337.4 342.4 C337.2 340.5 337.3 335.9 338.4 334.6Z" fill="none" stroke="#fff" stroke-width="0.75" opacity="0.7"/>
<path d="M339.0 335.5 C339.9 334.4 342.2 335.1 343.5 335.4 C344.8 335.6 346.2 335.7 346.8 337.0 C347.3 338.3 347.1 341.6 346.8 343.0 C346.4 344.4 345.6 344.8 344.5 345.1 C343.4 345.5 341.1 345.5 340.0 345.0 C338.9 344.5 338.4 343.6 338.2 342.0 C338.0 340.4 338.1 336.6 339.0 335.5Z" fill="none" stroke="#1a0304" stroke-width="0.45" opacity="0.65"/>
<path d="M339.6 336.4 C340.3 335.5 342.2 336.1 343.2 336.3 C344.2 336.5 345.4 336.6 345.8 337.6 C346.2 338.6 346.1 341.3 345.8 342.4 C345.5 343.5 344.9 343.9 344.0 344.1 C343.1 344.4 341.2 344.4 340.4 344.0 C339.6 343.6 339.1 342.9 339.0 341.6 C338.8 340.3 338.9 337.3 339.6 336.4Z" fill="none" stroke="#fff" stroke-width="0.75" opacity="0.7"/>
<path d="M340.2 337.3 C340.7 336.6 342.1 337.1 342.9 337.2 C343.7 337.4 344.5 337.4 344.9 338.2 C345.2 339.0 345.1 341.0 344.9 341.8 C344.6 342.6 344.2 342.9 343.5 343.1 C342.8 343.3 341.4 343.3 340.8 343.0 C340.2 342.7 339.8 342.1 339.7 341.2 C339.6 340.2 339.7 338.0 340.2 337.3Z" fill="none" stroke="#1a0304" stroke-width="0.45" opacity="0.65"/>
<ellipse cx="342.0" cy="340.0" rx="2.7" ry="3.6" fill="none" stroke="#f2c0c0" stroke-width="0.6"/>
<ellipse cx="342.0" cy="340.0" rx="1.5" ry="2.0" fill="#fff" stroke="#333" stroke-width="0.6"/>
<path d="M271.4 376.8 C272.1 378.3 272.7 380.0 273.0 381.5 C273.3 383.0 273.4 384.6 273.1 385.9 C272.9 387.2 272.3 388.4 271.6 389.2 C270.9 390.0 269.8 390.5 268.8 390.7 C267.7 390.8 266.4 390.6 265.2 390.1 C264.0 389.6 262.7 388.7 261.6 387.6 C260.5 386.5 259.4 385.0 258.6 383.6 C257.9 382.1 257.3 380.4 257.0 378.9 C256.7 377.4 256.6 375.8 256.9 374.5 C257.1 373.2 257.7 372.0 258.4 371.2 C259.1 370.4 260.2 369.9 261.2 369.7 C262.3 369.6 263.6 369.8 264.8 370.3 C266.0 370.8 267.3 371.7 268.4 372.8 C269.5 373.9 270.6 375.4 271.4 376.8Z" transform="translate(-0.9 0.2)" fill="#1a1a1a" stroke="#1a1a1a" stroke-width="1.4"/>
<path d="M271.4 376.8 C272.1 378.3 272.7 380.0 273.0 381.5 C273.3 383.0 273.4 384.6 273.1 385.9 C272.9 387.2 272.3 388.4 271.6 389.2 C270.9 390.0 269.8 390.5 268.8 390.7 C267.7 390.8 266.4 390.6 265.2 390.1 C264.0 389.6 262.7 388.7 261.6 387.6 C260.5 386.5 259.4 385.0 258.6 383.6 C257.9 382.1 257.3 380.4 257.0 378.9 C256.7 377.4 256.6 375.8 256.9 374.5 C257.1 373.2 257.7 372.0 258.4 371.2 C259.1 370.4 260.2 369.9 261.2 369.7 C262.3 369.6 263.6 369.8 264.8 370.3 C266.0 370.8 267.3 371.7 268.4 372.8 C269.5 373.9 270.6 375.4 271.4 376.8Z" fill="#c4161c"/>
<path d="M270.7 377.2 C271.4 378.5 272.0 380.0 272.2 381.4 C272.5 382.7 272.5 384.2 272.3 385.3 C272.1 386.5 271.6 387.6 270.9 388.3 C270.3 389.0 269.3 389.5 268.4 389.6 C267.4 389.8 266.2 389.6 265.2 389.1 C264.1 388.7 262.9 387.8 261.9 386.8 C260.9 385.9 260.0 384.5 259.3 383.2 C258.6 381.9 258.0 380.4 257.8 379.0 C257.5 377.7 257.5 376.2 257.7 375.1 C257.9 373.9 258.4 372.8 259.1 372.1 C259.7 371.4 260.7 370.9 261.6 370.8 C262.6 370.6 263.8 370.8 264.8 371.3 C265.9 371.7 267.1 372.6 268.1 373.6 C269.1 374.5 270.0 375.9 270.7 377.2Z" fill="none" stroke="#1a0304" stroke-width="0.45" opacity="0.65"/>
<path d="M270.1 377.5 C270.7 378.7 271.2 380.0 271.4 381.2 C271.7 382.4 271.7 383.7 271.5 384.8 C271.3 385.8 270.8 386.7 270.3 387.4 C269.7 388.0 268.9 388.5 268.0 388.6 C267.2 388.7 266.1 388.5 265.1 388.1 C264.2 387.7 263.1 387.0 262.3 386.1 C261.4 385.2 260.5 384.1 259.9 382.9 C259.3 381.7 258.8 380.4 258.6 379.2 C258.3 378.0 258.3 376.7 258.5 375.6 C258.7 374.6 259.2 373.7 259.7 373.0 C260.3 372.4 261.1 371.9 262.0 371.8 C262.8 371.7 263.9 371.9 264.9 372.3 C265.8 372.7 266.9 373.4 267.7 374.3 C268.6 375.2 269.5 376.3 270.1 377.5Z" fill="none" stroke="#fff" stroke-width="0.75" opacity="0.7"/>
<path d="M269.5 377.8 C270.0 378.8 270.4 380.0 270.6 381.1 C270.8 382.2 270.8 383.3 270.7 384.2 C270.5 385.1 270.1 385.9 269.6 386.5 C269.1 387.0 268.4 387.4 267.6 387.5 C266.9 387.6 266.0 387.5 265.1 387.1 C264.3 386.8 263.4 386.1 262.6 385.4 C261.8 384.6 261.1 383.6 260.5 382.6 C260.0 381.6 259.6 380.4 259.4 379.3 C259.2 378.2 259.2 377.1 259.3 376.2 C259.5 375.3 259.9 374.5 260.4 373.9 C260.9 373.4 261.6 373.0 262.4 372.9 C263.1 372.8 264.0 372.9 264.9 373.3 C265.7 373.6 266.6 374.3 267.4 375.0 C268.2 375.8 268.9 376.8 269.5 377.8Z" fill="none" stroke="#1a0304" stroke-width="0.45" opacity="0.65"/>
<path d="M268.8 378.2 C269.3 379.0 269.6 380.1 269.8 381.0 C270.0 381.9 270.0 382.8 269.9 383.6 C269.7 384.4 269.4 385.1 269.0 385.6 C268.5 386.1 267.9 386.4 267.3 386.5 C266.6 386.6 265.8 386.5 265.1 386.1 C264.4 385.8 263.6 385.3 262.9 384.6 C262.3 384.0 261.6 383.1 261.2 382.2 C260.7 381.4 260.4 380.3 260.2 379.4 C260.0 378.5 260.0 377.6 260.1 376.8 C260.3 376.0 260.6 375.3 261.0 374.8 C261.5 374.3 262.1 374.0 262.7 373.9 C263.4 373.8 264.2 373.9 264.9 374.3 C265.6 374.6 266.4 375.1 267.1 375.8 C267.7 376.4 268.4 377.3 268.8 378.2Z" fill="none" stroke="#fff" stroke-width="0.75" opacity="0.7"/>
<path d="M268.2 378.5 C268.6 379.2 268.9 380.1 269.0 380.8 C269.2 381.6 269.2 382.4 269.1 383.0 C268.9 383.7 268.7 384.3 268.3 384.7 C267.9 385.1 267.4 385.4 266.9 385.4 C266.3 385.5 265.7 385.4 265.1 385.2 C264.5 384.9 263.8 384.4 263.3 383.9 C262.7 383.3 262.2 382.6 261.8 381.9 C261.4 381.2 261.1 380.3 261.0 379.6 C260.8 378.8 260.8 378.0 260.9 377.4 C261.1 376.7 261.3 376.1 261.7 375.7 C262.1 375.3 262.6 375.0 263.1 375.0 C263.7 374.9 264.3 375.0 264.9 375.2 C265.5 375.5 266.2 376.0 266.7 376.5 C267.3 377.1 267.8 377.8 268.2 378.5Z" fill="none" stroke="#1a0304" stroke-width="0.45" opacity="0.65"/>
<path d="M267.5 378.8 C267.8 379.4 268.1 380.1 268.2 380.7 C268.3 381.3 268.3 382.0 268.2 382.5 C268.1 383.0 267.9 383.5 267.6 383.8 C267.3 384.1 266.9 384.3 266.5 384.4 C266.1 384.5 265.6 384.4 265.1 384.2 C264.6 384.0 264.1 383.6 263.6 383.1 C263.2 382.7 262.8 382.1 262.5 381.6 C262.2 381.0 261.9 380.3 261.8 379.7 C261.7 379.1 261.7 378.4 261.8 377.9 C261.9 377.4 262.1 376.9 262.4 376.6 C262.7 376.3 263.1 376.1 263.5 376.0 C263.9 375.9 264.4 376.0 264.9 376.2 C265.4 376.4 265.9 376.8 266.4 377.3 C266.8 377.7 267.2 378.3 267.5 378.8Z" fill="none" stroke="#fff" stroke-width="0.75" opacity="0.7"/>
<path d="M266.9 379.2 C267.1 379.6 267.3 380.1 267.4 380.6 C267.5 381.0 267.5 381.5 267.4 381.9 C267.4 382.3 267.2 382.7 267.0 382.9 C266.8 383.1 266.4 383.3 266.1 383.3 C265.8 383.4 265.4 383.3 265.1 383.2 C264.7 383.0 264.3 382.7 264.0 382.4 C263.6 382.1 263.3 381.6 263.1 381.2 C262.9 380.8 262.7 380.3 262.6 379.8 C262.5 379.4 262.5 378.9 262.6 378.5 C262.6 378.1 262.8 377.7 263.0 377.5 C263.2 377.3 263.6 377.1 263.9 377.1 C264.2 377.0 264.6 377.1 264.9 377.2 C265.3 377.4 265.7 377.7 266.0 378.0 C266.4 378.3 266.7 378.8 266.9 379.2Z" fill="none" stroke="#1a0304" stroke-width="0.45" opacity="0.65"/>
<ellipse cx="265.0" cy="380.2" rx="2.7" ry="3.6" fill="none" stroke="#f2c0c0" stroke-width="0.6"/>
<ellipse cx="265.0" cy="380.2" rx="1.5" ry="2.0" fill="#fff" stroke="#333" stroke-width="0.6"/>
<ellipse transform="translate(280.5 381.5) rotate(0)" rx="5.0" ry="11.0" fill="none" stroke="#1a1a1a" stroke-width="0.8"/>
<ellipse transform="translate(280.5 382.0) rotate(0)" rx="3.8" ry="9.0" fill="none" stroke="#c4161c" stroke-width="0.8"/>
<ellipse transform="translate(281.0 384.0) rotate(0)" rx="2.0" ry="5.0" fill="none" stroke="#1a1a1a" stroke-width="0.7"/>
<path d="M275.0 398.3 C276.6 397.8 279.7 399.1 282.0 401.0 C284.3 402.9 287.7 406.7 288.7 410.0 C289.7 413.3 288.8 418.6 288.0 421.0 C287.2 423.4 285.7 424.7 284.0 424.7 C282.3 424.7 279.8 423.1 278.0 421.0 C276.2 418.9 274.0 414.8 273.0 412.0 C272.0 409.2 271.8 406.3 272.1 404.0 C272.4 401.7 273.4 398.8 275.0 398.3Z" transform="translate(-0.9 -0.2)" fill="#1a1a1a" stroke="#1a1a1a" stroke-width="1.4"/>
<path d="M275.0 398.3 C276.6 397.8 279.7 399.1 282.0 401.0 C284.3 402.9 287.7 406.7 288.7 410.0 C289.7 413.3 288.8 418.6 288.0 421.0 C287.2 423.4 285.7 424.7 284.0 424.7 C282.3 424.7 279.8 423.1 278.0 421.0 C276.2 418.9 274.0 414.8 273.0 412.0 C272.0 409.2 271.8 406.3 272.1 404.0 C272.4 401.7 273.4 398.8 275.0 398.3Z" fill="#c4161c"/>
<path d="M275.6 399.6 C277.1 399.1 279.8 400.2 281.9 402.0 C284.0 403.8 287.0 407.1 287.9 410.1 C288.8 413.1 288.0 417.8 287.3 420.0 C286.6 422.2 285.2 423.3 283.7 423.3 C282.2 423.3 279.9 421.9 278.3 420.0 C276.7 418.1 274.7 414.4 273.8 411.9 C272.9 409.3 272.7 406.8 273.0 404.7 C273.3 402.6 274.1 400.0 275.6 399.6Z" fill="none" stroke="#1a0304" stroke-width="0.45" opacity="0.65"/>
<path d="M276.2 400.8 C277.5 400.4 280.0 401.4 281.8 403.0 C283.6 404.6 286.4 407.5 287.2 410.2 C288.0 412.9 287.2 417.0 286.6 419.0 C286.0 421.0 284.7 422.0 283.4 422.0 C282.1 422.0 280.1 420.7 278.6 419.0 C277.1 417.3 275.4 414.1 274.6 411.8 C273.8 409.5 273.6 407.2 273.9 405.4 C274.1 403.6 274.9 401.2 276.2 400.8Z" fill="none" stroke="#fff" stroke-width="0.75" opacity="0.7"/>
<path d="M276.8 402.1 C278.0 401.8 280.1 402.6 281.7 404.0 C283.3 405.4 285.7 408.0 286.4 410.3 C287.1 412.6 286.4 416.3 285.9 418.0 C285.4 419.7 284.3 420.6 283.1 420.6 C281.9 420.6 280.2 419.5 278.9 418.0 C277.6 416.5 276.1 413.7 275.4 411.7 C274.7 409.7 274.5 407.7 274.8 406.1 C275.0 404.5 275.6 402.5 276.8 402.1Z" fill="none" stroke="#1a0304" stroke-width="0.45" opacity="0.65"/>
<path d="M277.4 403.4 C278.4 403.1 280.2 403.8 281.6 405.0 C283.0 406.2 285.0 408.4 285.6 410.4 C286.2 412.4 285.7 415.5 285.2 417.0 C284.7 418.5 283.8 419.2 282.8 419.2 C281.8 419.2 280.3 418.3 279.2 417.0 C278.1 415.7 276.8 413.3 276.2 411.6 C275.6 409.9 275.5 408.2 275.7 406.8 C275.9 405.4 276.4 403.7 277.4 403.4Z" fill="none" stroke="#fff" stroke-width="0.75" opacity="0.7"/>
<path d="M278.0 404.6 C278.8 404.4 280.4 405.0 281.5 406.0 C282.6 407.0 284.4 408.8 284.9 410.5 C285.4 412.2 284.9 414.8 284.5 416.0 C284.1 417.2 283.3 417.9 282.5 417.9 C281.7 417.9 280.4 417.1 279.5 416.0 C278.6 414.9 277.5 412.9 277.0 411.5 C276.5 410.1 276.4 408.6 276.6 407.5 C276.7 406.4 277.2 404.9 278.0 404.6Z" fill="none" stroke="#1a0304" stroke-width="0.45" opacity="0.65"/>
<path d="M278.6 405.9 C279.3 405.7 280.5 406.2 281.4 407.0 C282.3 407.8 283.7 409.3 284.1 410.6 C284.5 411.9 284.1 414.0 283.8 415.0 C283.5 416.0 282.9 416.5 282.2 416.5 C281.5 416.5 280.5 415.8 279.8 415.0 C279.1 414.2 278.2 412.5 277.8 411.4 C277.4 410.3 277.3 409.1 277.4 408.2 C277.6 407.3 277.9 406.1 278.6 405.9Z" fill="none" stroke="#fff" stroke-width="0.75" opacity="0.7"/>
<path d="M279.2 407.2 C279.7 407.0 280.6 407.4 281.3 408.0 C282.0 408.6 283.0 409.7 283.3 410.7 C283.6 411.7 283.3 413.3 283.1 414.0 C282.9 414.7 282.4 415.1 281.9 415.1 C281.4 415.1 280.7 414.6 280.1 414.0 C279.6 413.4 278.9 412.2 278.6 411.3 C278.3 410.4 278.2 409.6 278.3 408.9 C278.4 408.2 278.7 407.3 279.2 407.2Z" fill="none" stroke="#1a0304" stroke-width="0.45" opacity="0.65"/>
<ellipse cx="281.0" cy="411.0" rx="2.7" ry="3.6" fill="none" stroke="#f2c0c0" stroke-width="0.6"/>
<ellipse cx="281.0" cy="411.0" rx="1.5" ry="2.0" fill="#fff" stroke="#333" stroke-width="0.6"/>
<ellipse transform="translate(262.2 408.2) rotate(0)" rx="2.2" ry="3.2" fill="none" stroke="#c4161c" stroke-width="0.9"/>
<ellipse transform="translate(343.2 407.4) rotate(0)" rx="2.0" ry="3.8" fill="none" stroke="#c4161c" stroke-width="0.9"/>
<ellipse transform="translate(245.7 476.0) rotate(25)" rx="1.8" ry="3.4" fill="none" stroke="#c4161c" stroke-width="0.9"/>
<ellipse transform="translate(314.3 380.2) rotate(0)" rx="2.0" ry="6.0" fill="none" stroke="#c4161c" stroke-width="0.9"/>
<circle cx="313.5" cy="395" r="0.8" fill="#c4161c"/>
<circle cx="350.7" cy="391" r="0.8" fill="#1a1a1a"/>
<path d="M395.8 325.0 C393.9 325.2 389.9 327.3 387.0 329.0 C384.0 330.8 382.1 332.2 378.3 335.3 C374.5 338.5 369.0 343.3 364.1 347.9 C359.3 352.6 354.1 358.4 349.3 363.3 C344.6 368.3 339.4 373.3 335.6 377.6 C331.8 381.9 330.8 384.9 326.6 389.1 C322.4 393.4 315.6 397.6 310.4 403.0 C305.2 408.4 300.6 416.2 295.4 421.6 C290.2 427.0 284.5 430.5 279.4 435.5 C274.2 440.6 268.2 447.5 264.5 451.7 C260.8 455.9 259.0 458.0 257.1 460.8 C255.2 463.5 253.2 466.5 253.0 468.1 C252.8 469.8 254.3 471.2 256.0 470.9 C257.6 470.5 260.3 468.3 262.9 466.2 C265.5 464.1 267.6 462.2 271.5 458.3 C275.4 454.3 281.8 447.8 286.6 442.5 C291.4 437.1 295.0 431.6 300.2 426.2 C305.4 420.8 312.4 415.4 317.6 410.0 C322.8 404.6 327.3 398.1 331.4 393.9 C335.6 389.6 338.4 388.3 342.6 384.4 C346.8 380.6 351.8 375.4 356.7 370.7 C361.6 365.9 367.0 360.6 371.9 356.1 C376.7 351.6 382.2 347.0 385.7 343.7 C389.2 340.3 391.0 338.6 393.0 336.0 C395.1 333.3 397.7 329.5 398.2 327.6 C398.7 325.8 397.7 324.7 395.8 325.0Z" transform="translate(0.7 0.5)" fill="#1a1a1a" stroke="#1a1a1a" stroke-width="1.2"/>
<path d="M395.8 325.0 C393.9 325.2 389.9 327.3 387.0 329.0 C384.0 330.8 382.1 332.2 378.3 335.3 C374.5 338.5 369.0 343.3 364.1 347.9 C359.3 352.6 354.1 358.4 349.3 363.3 C344.6 368.3 339.4 373.3 335.6 377.6 C331.8 381.9 330.8 384.9 326.6 389.1 C322.4 393.4 315.6 397.6 310.4 403.0 C305.2 408.4 300.6 416.2 295.4 421.6 C290.2 427.0 284.5 430.5 279.4 435.5 C274.2 440.6 268.2 447.5 264.5 451.7 C260.8 455.9 259.0 458.0 257.1 460.8 C255.2 463.5 253.2 466.5 253.0 468.1 C252.8 469.8 254.3 471.2 256.0 470.9 C257.6 470.5 260.3 468.3 262.9 466.2 C265.5 464.1 267.6 462.2 271.5 458.3 C275.4 454.3 281.8 447.8 286.6 442.5 C291.4 437.1 295.0 431.6 300.2 426.2 C305.4 420.8 312.4 415.4 317.6 410.0 C322.8 404.6 327.3 398.1 331.4 393.9 C335.6 389.6 338.4 388.3 342.6 384.4 C346.8 380.6 351.8 375.4 356.7 370.7 C361.6 365.9 367.0 360.6 371.9 356.1 C376.7 351.6 382.2 347.0 385.7 343.7 C389.2 340.3 391.0 338.6 393.0 336.0 C395.1 333.3 397.7 329.5 398.2 327.6 C398.7 325.8 397.7 324.7 395.8 325.0Z" transform="translate(-0.5599999999999999 -0.4)" fill="#1a1a1a" stroke="#1a1a1a" stroke-width="0.8"/>
<path d="M395.8 325.0 C393.9 325.2 389.9 327.3 387.0 329.0 C384.0 330.8 382.1 332.2 378.3 335.3 C374.5 338.5 369.0 343.3 364.1 347.9 C359.3 352.6 354.1 358.4 349.3 363.3 C344.6 368.3 339.4 373.3 335.6 377.6 C331.8 381.9 330.8 384.9 326.6 389.1 C322.4 393.4 315.6 397.6 310.4 403.0 C305.2 408.4 300.6 416.2 295.4 421.6 C290.2 427.0 284.5 430.5 279.4 435.5 C274.2 440.6 268.2 447.5 264.5 451.7 C260.8 455.9 259.0 458.0 257.1 460.8 C255.2 463.5 253.2 466.5 253.0 468.1 C252.8 469.8 254.3 471.2 256.0 470.9 C257.6 470.5 260.3 468.3 262.9 466.2 C265.5 464.1 267.6 462.2 271.5 458.3 C275.4 454.3 281.8 447.8 286.6 442.5 C291.4 437.1 295.0 431.6 300.2 426.2 C305.4 420.8 312.4 415.4 317.6 410.0 C322.8 404.6 327.3 398.1 331.4 393.9 C335.6 389.6 338.4 388.3 342.6 384.4 C346.8 380.6 351.8 375.4 356.7 370.7 C361.6 365.9 367.0 360.6 371.9 356.1 C376.7 351.6 382.2 347.0 385.7 343.7 C389.2 340.3 391.0 338.6 393.0 336.0 C395.1 333.3 397.7 329.5 398.2 327.6 C398.7 325.8 397.7 324.7 395.8 325.0Z" fill="#c4161c"/>
<path d="M396.1 325.3 C394.4 325.7 390.5 328.1 387.7 329.9 C384.9 331.8 383.0 333.2 379.2 336.4 C375.4 339.5 369.9 344.3 365.1 349.0 C360.3 353.6 355.0 359.3 350.2 364.2 C345.5 369.2 340.3 374.2 336.5 378.4 C332.6 382.7 331.4 385.5 327.2 389.7 C323.0 394.0 316.5 398.5 311.3 403.9 C306.1 409.3 301.2 416.8 296.0 422.2 C290.8 427.6 285.4 431.3 280.3 436.4 C275.2 441.5 269.1 448.4 265.4 452.5 C261.6 456.7 259.8 458.8 257.8 461.5 C255.8 464.1 253.8 467.0 253.4 468.5 C253.0 470.0 254.1 471.0 255.6 470.5 C257.1 470.0 259.7 467.7 262.2 465.5 C264.7 463.4 266.7 461.5 270.6 457.5 C274.5 453.5 280.9 446.9 285.7 441.6 C290.5 436.3 294.4 431.0 299.6 425.6 C304.8 420.2 311.5 414.5 316.7 409.1 C321.9 403.7 326.6 397.5 330.8 393.3 C335.0 389.0 337.6 387.5 341.7 383.6 C345.9 379.6 350.9 374.5 355.8 369.8 C360.6 365.0 366.1 359.6 370.9 355.0 C375.7 350.5 381.2 346.0 384.8 342.6 C388.4 339.3 390.1 337.6 392.3 335.1 C394.5 332.5 397.3 328.9 397.9 327.3 C398.5 325.7 397.8 324.9 396.1 325.3Z" fill="none" stroke="#2a0506" stroke-width="0.5" opacity="0.6"/>
<path d="M396.3 325.6 C394.8 326.2 391.1 328.7 388.3 330.6 C385.6 332.5 383.7 334.0 380.0 337.2 C376.2 340.4 370.7 345.1 365.9 349.8 C361.1 354.4 355.8 360.1 351.0 365.0 C346.2 369.9 341.1 374.9 337.2 379.1 C333.3 383.3 331.9 385.9 327.7 390.2 C323.5 394.4 317.2 399.2 312.0 404.6 C306.8 410.0 301.7 417.2 296.5 422.6 C291.3 428.1 286.1 432.0 281.0 437.1 C275.9 442.2 269.8 449.0 266.1 453.2 C262.3 457.3 260.5 459.4 258.4 462.0 C256.3 464.6 254.2 467.4 253.7 468.8 C253.2 470.1 254.0 470.9 255.3 470.2 C256.6 469.6 259.2 467.2 261.6 465.0 C264.0 462.8 266.0 460.8 269.9 456.8 C273.8 452.8 280.1 446.2 285.0 440.9 C289.9 435.6 293.9 430.6 299.1 425.2 C304.3 419.7 310.8 413.8 316.0 408.4 C321.2 403.0 326.2 397.1 330.3 392.8 C334.5 388.6 336.9 386.9 341.0 382.9 C345.1 378.9 350.2 373.8 355.0 369.0 C359.9 364.2 365.3 358.8 370.1 354.2 C375.0 349.7 380.5 345.1 384.0 341.8 C387.6 338.5 389.4 336.9 391.7 334.4 C393.9 331.9 396.9 328.5 397.7 327.0 C398.4 325.6 397.9 325.0 396.3 325.6Z" fill="none" stroke="#ffe0e0" stroke-width="0.5" opacity="0.6"/>
<path d="M396.6 325.8 C395.2 326.6 391.6 329.3 388.9 331.3 C386.3 333.3 384.4 334.8 380.7 338.0 C377.0 341.2 371.5 346.0 366.7 350.6 C361.8 355.2 356.5 360.8 351.7 365.7 C346.9 370.6 341.8 375.6 337.9 379.8 C333.9 384.0 332.3 386.4 328.2 390.7 C324.0 394.9 317.9 399.9 312.7 405.3 C307.5 410.7 302.1 417.7 297.0 423.1 C291.8 428.5 286.8 432.7 281.7 437.8 C276.7 442.9 270.6 449.7 266.8 453.9 C263.0 458.0 261.1 460.0 259.0 462.5 C256.8 465.1 254.6 467.8 254.0 469.0 C253.3 470.3 253.8 470.7 255.0 470.0 C256.2 469.2 258.7 466.8 261.0 464.5 C263.4 462.2 265.4 460.2 269.2 456.1 C273.1 452.1 279.4 445.5 284.3 440.2 C289.2 435.0 293.5 430.1 298.6 424.7 C303.8 419.3 310.1 413.1 315.3 407.7 C320.5 402.3 325.7 396.6 329.8 392.3 C334.0 388.1 336.3 386.2 340.3 382.2 C344.4 378.2 349.5 373.1 354.3 368.3 C359.1 363.5 364.5 358.0 369.3 353.4 C374.2 348.9 379.7 344.3 383.3 341.0 C386.9 337.7 388.7 336.1 391.1 333.7 C393.4 331.3 396.5 328.1 397.4 326.8 C398.3 325.5 398.0 325.1 396.6 325.8Z" fill="none" stroke="#2a0506" stroke-width="0.5" opacity="0.6"/>
<path d="M397.0 326.3 L390.0 332.5 L382.0 339.5 L368.0 352.0 L353.0 367.0 L339.1 381.0 L329.0 391.5 L314.0 406.5 L297.8 423.9 L283.0 439.0 L268.0 455.0 L260.0 463.5 L254.5 469.5" fill="none" stroke="#fff" stroke-width="1.1" stroke-dasharray="3.5 2.5" opacity="0.75"/>
<path d="M357.0 345.5 C358.3 344.2 360.8 345.4 362.0 346.5 C363.2 347.6 364.5 350.4 364.0 352.0 C363.5 353.6 360.7 355.7 359.0 356.0 C357.3 356.3 354.3 355.8 354.0 354.0 C353.7 352.2 355.7 346.8 357.0 345.5Z" transform="translate(-0.8 -0.3)" fill="#1a1a1a" stroke="#1a1a1a" stroke-width="1.4"/>
<path d="M357.0 345.5 C358.3 344.2 360.8 345.4 362.0 346.5 C363.2 347.6 364.5 350.4 364.0 352.0 C363.5 353.6 360.7 355.7 359.0 356.0 C357.3 356.3 354.3 355.8 354.0 354.0 C353.7 352.2 355.7 346.8 357.0 345.5Z" fill="#c4161c"/>
<path d="M357.3 346.1 C358.4 345.0 360.6 346.1 361.7 347.0 C362.7 348.0 363.9 350.5 363.4 351.9 C363.0 353.2 360.5 355.1 359.0 355.4 C357.6 355.7 354.9 355.2 354.6 353.6 C354.3 352.1 356.1 347.2 357.3 346.1Z" fill="none" stroke="#1a0304" stroke-width="0.45" opacity="0.65"/>
<path d="M357.5 346.8 C358.5 345.8 360.4 346.7 361.3 347.5 C362.2 348.4 363.2 350.5 362.8 351.7 C362.5 352.9 360.3 354.5 359.0 354.8 C357.8 355.0 355.5 354.6 355.2 353.2 C355.0 351.9 356.5 347.7 357.5 346.8Z" fill="none" stroke="#fff" stroke-width="0.75" opacity="0.7"/>
<path d="M357.8 347.4 C358.6 346.6 360.2 347.4 361.0 348.0 C361.7 348.7 362.6 350.6 362.3 351.6 C362.0 352.6 360.1 353.9 359.1 354.1 C358.0 354.3 356.1 354.0 355.9 352.8 C355.7 351.7 356.9 348.2 357.8 347.4Z" fill="none" stroke="#1a0304" stroke-width="0.45" opacity="0.65"/>
<path d="M358.1 348.1 C358.8 347.5 360.0 348.1 360.6 348.6 C361.2 349.2 361.9 350.6 361.6 351.4 C361.4 352.2 359.9 353.2 359.1 353.4 C358.3 353.6 356.8 353.3 356.6 352.4 C356.4 351.5 357.4 348.8 358.1 348.1Z" fill="none" stroke="#fff" stroke-width="0.75" opacity="0.7"/>
<path d="M368.0 355.5 C369.7 353.7 373.7 352.9 376.0 353.0 C378.3 353.1 381.2 354.6 382.0 355.8 C382.8 357.0 382.0 358.9 380.7 360.2 C379.4 361.5 376.6 362.9 374.1 363.5 C371.7 364.1 367.0 365.3 366.0 364.0 C365.0 362.7 366.3 357.3 368.0 355.5Z" transform="translate(0.6 0.8)" fill="#1a1a1a" stroke="#1a1a1a" stroke-width="1.4"/>
<path d="M368.0 355.5 C369.7 353.7 373.7 352.9 376.0 353.0 C378.3 353.1 381.2 354.6 382.0 355.8 C382.8 357.0 382.0 358.9 380.7 360.2 C379.4 361.5 376.6 362.9 374.1 363.5 C371.7 364.1 367.0 365.3 366.0 364.0 C365.0 362.7 366.3 357.3 368.0 355.5Z" fill="#c4161c"/>
<path d="M368.8 355.9 C370.2 354.3 373.8 353.6 375.8 353.7 C377.9 353.7 380.4 355.1 381.1 356.1 C381.8 357.2 381.1 358.9 380.0 360.0 C378.8 361.1 376.3 362.4 374.1 362.9 C372.0 363.5 367.9 364.5 367.0 363.4 C366.1 362.2 367.3 357.5 368.8 355.9Z" fill="none" stroke="#1a0304" stroke-width="0.45" opacity="0.65"/>
<path d="M369.6 356.3 C370.8 354.9 373.9 354.3 375.6 354.4 C377.4 354.4 379.6 355.6 380.2 356.5 C380.8 357.4 380.2 358.9 379.2 359.8 C378.2 360.8 376.1 361.9 374.2 362.3 C372.3 362.8 368.8 363.7 368.0 362.7 C367.3 361.7 368.3 357.7 369.6 356.3Z" fill="none" stroke="#fff" stroke-width="0.75" opacity="0.7"/>
<path d="M370.3 356.6 C371.4 355.5 374.0 355.0 375.4 355.0 C376.9 355.1 378.8 356.1 379.3 356.8 C379.8 357.6 379.3 358.8 378.5 359.6 C377.6 360.5 375.8 361.4 374.2 361.8 C372.7 362.2 369.7 362.9 369.0 362.1 C368.4 361.2 369.3 357.8 370.3 356.6Z" fill="none" stroke="#1a0304" stroke-width="0.45" opacity="0.65"/>
<path d="M371.2 357.1 C372.1 356.2 374.1 355.8 375.2 355.8 C376.4 355.9 377.8 356.6 378.2 357.2 C378.6 357.8 378.2 358.8 377.6 359.4 C376.9 360.1 375.5 360.8 374.3 361.1 C373.1 361.4 370.7 362.0 370.2 361.3 C369.7 360.7 370.4 358.0 371.2 357.1Z" fill="none" stroke="#fff" stroke-width="0.75" opacity="0.7"/>
<ellipse transform="translate(381.8 341.4) rotate(35)" rx="2.2" ry="4.8" fill="#9c9cdc" stroke="#222" stroke-width="1.0"/>
<ellipse transform="translate(367.5 355.8) rotate(35)" rx="2" ry="3.5" fill="#ddd" stroke="#333" stroke-width="0.8"/>
<ellipse transform="translate(401.9 321.6) rotate(30)" rx="2.4" ry="3.6" fill="none" stroke="#333" stroke-width="1.0"/>
<ellipse transform="translate(382.0 363.7) rotate(0)" rx="1.8" ry="2.5" fill="none" stroke="#c4161c" stroke-width="1.0"/>
<ellipse transform="translate(359.0 384.4) rotate(25)" rx="2.0" ry="6.0" fill="none" stroke="#333" stroke-width="0.8"/>
<path d="M389.5 380.2 C389.5 381.9 389.2 383.7 388.8 385.2 C388.4 386.7 387.7 388.2 386.9 389.2 C386.1 390.2 385.0 391.0 384.1 391.4 C383.1 391.8 381.9 391.8 380.9 391.4 C380.0 391.0 378.9 390.2 378.1 389.2 C377.3 388.2 376.6 386.7 376.2 385.2 C375.8 383.7 375.5 381.9 375.5 380.2 C375.5 378.5 375.8 376.7 376.2 375.2 C376.6 373.7 377.3 372.2 378.1 371.2 C378.9 370.2 380.0 369.4 380.9 369.0 C381.9 368.6 383.1 368.6 384.1 369.0 C385.0 369.4 386.1 370.2 386.9 371.2 C387.7 372.2 388.4 373.7 388.8 375.2 C389.2 376.7 389.5 378.5 389.5 380.2Z" transform="translate(-0.9 0.2)" fill="#1a1a1a" stroke="#1a1a1a" stroke-width="1.4"/>
<path d="M389.5 380.2 C389.5 381.9 389.2 383.7 388.8 385.2 C388.4 386.7 387.7 388.2 386.9 389.2 C386.1 390.2 385.0 391.0 384.1 391.4 C383.1 391.8 381.9 391.8 380.9 391.4 C380.0 391.0 378.9 390.2 378.1 389.2 C377.3 388.2 376.6 386.7 376.2 385.2 C375.8 383.7 375.5 381.9 375.5 380.2 C375.5 378.5 375.8 376.7 376.2 375.2 C376.6 373.7 377.3 372.2 378.1 371.2 C378.9 370.2 380.0 369.4 380.9 369.0 C381.9 368.6 383.1 368.6 384.1 369.0 C385.0 369.4 386.1 370.2 386.9 371.2 C387.7 372.2 388.4 373.7 388.8 375.2 C389.2 376.7 389.5 378.5 389.5 380.2Z" fill="#c4161c"/>
<path d="M388.8 380.2 C388.8 381.7 388.6 383.3 388.2 384.7 C387.8 386.0 387.1 387.4 386.4 388.3 C385.7 389.2 384.8 390.0 383.9 390.3 C383.0 390.6 382.0 390.6 381.1 390.3 C380.2 390.0 379.3 389.2 378.6 388.3 C377.9 387.4 377.2 386.0 376.8 384.7 C376.4 383.3 376.2 381.7 376.2 380.2 C376.2 378.7 376.4 377.1 376.8 375.7 C377.2 374.4 377.9 373.0 378.6 372.1 C379.3 371.2 380.2 370.4 381.1 370.1 C382.0 369.8 383.0 369.8 383.9 370.1 C384.8 370.4 385.7 371.2 386.4 372.1 C387.1 373.0 387.8 374.4 388.2 375.7 C388.6 377.1 388.8 378.7 388.8 380.2Z" fill="none" stroke="#1a0304" stroke-width="0.45" opacity="0.65"/>
<path d="M388.1 380.2 C388.1 381.5 387.9 383.0 387.5 384.2 C387.2 385.4 386.6 386.6 386.0 387.4 C385.4 388.2 384.5 388.9 383.7 389.2 C383.0 389.5 382.0 389.5 381.3 389.2 C380.5 388.9 379.6 388.2 379.0 387.4 C378.4 386.6 377.8 385.4 377.5 384.2 C377.1 383.0 376.9 381.5 376.9 380.2 C376.9 378.9 377.1 377.4 377.5 376.2 C377.8 375.0 378.4 373.8 379.0 373.0 C379.6 372.2 380.5 371.5 381.3 371.2 C382.0 370.9 383.0 370.9 383.7 371.2 C384.5 371.5 385.4 372.2 386.0 373.0 C386.6 373.8 387.2 375.0 387.5 376.2 C387.9 377.4 388.1 378.9 388.1 380.2Z" fill="none" stroke="#fff" stroke-width="0.75" opacity="0.7"/>
<path d="M387.4 380.2 C387.4 381.4 387.2 382.6 386.9 383.7 C386.6 384.7 386.1 385.8 385.6 386.5 C385.0 387.2 384.3 387.8 383.6 388.0 C382.9 388.3 382.1 388.3 381.4 388.0 C380.7 387.8 380.0 387.2 379.4 386.5 C378.9 385.8 378.4 384.7 378.1 383.7 C377.8 382.6 377.6 381.4 377.6 380.2 C377.6 379.0 377.8 377.8 378.1 376.7 C378.4 375.7 378.9 374.6 379.4 373.9 C380.0 373.2 380.7 372.6 381.4 372.4 C382.1 372.1 382.9 372.1 383.6 372.4 C384.3 372.6 385.0 373.2 385.6 373.9 C386.1 374.6 386.6 375.7 386.9 376.7 C387.2 377.8 387.4 379.0 387.4 380.2Z" fill="none" stroke="#1a0304" stroke-width="0.45" opacity="0.65"/>
<path d="M386.7 380.2 C386.7 381.2 386.5 382.3 386.3 383.2 C386.0 384.1 385.6 385.0 385.1 385.6 C384.6 386.2 384.0 386.7 383.4 386.9 C382.8 387.1 382.2 387.1 381.6 386.9 C381.0 386.7 380.4 386.2 379.9 385.6 C379.4 385.0 379.0 384.1 378.7 383.2 C378.5 382.3 378.3 381.2 378.3 380.2 C378.3 379.2 378.5 378.1 378.7 377.2 C379.0 376.3 379.4 375.4 379.9 374.8 C380.4 374.2 381.0 373.7 381.6 373.5 C382.2 373.3 382.8 373.3 383.4 373.5 C384.0 373.7 384.6 374.2 385.1 374.8 C385.6 375.4 386.0 376.3 386.3 377.2 C386.5 378.1 386.7 379.2 386.7 380.2Z" fill="none" stroke="#fff" stroke-width="0.75" opacity="0.7"/>
<path d="M386.0 380.2 C386.0 381.0 385.9 381.9 385.7 382.7 C385.4 383.4 385.1 384.2 384.7 384.7 C384.3 385.2 383.8 385.6 383.3 385.8 C382.8 386.0 382.2 386.0 381.7 385.8 C381.2 385.6 380.7 385.2 380.3 384.7 C379.9 384.2 379.6 383.4 379.3 382.7 C379.1 381.9 379.0 381.0 379.0 380.2 C379.0 379.4 379.1 378.5 379.3 377.7 C379.6 377.0 379.9 376.2 380.3 375.7 C380.7 375.2 381.2 374.8 381.7 374.6 C382.2 374.4 382.8 374.4 383.3 374.6 C383.8 374.8 384.3 375.2 384.7 375.7 C385.1 376.2 385.4 377.0 385.7 377.7 C385.9 378.5 386.0 379.4 386.0 380.2Z" fill="none" stroke="#1a0304" stroke-width="0.45" opacity="0.65"/>
<path d="M385.3 380.2 C385.3 380.9 385.2 381.6 385.0 382.2 C384.8 382.8 384.6 383.4 384.2 383.8 C383.9 384.2 383.5 384.5 383.1 384.7 C382.7 384.8 382.3 384.8 381.9 384.7 C381.5 384.5 381.1 384.2 380.8 383.8 C380.4 383.4 380.2 382.8 380.0 382.2 C379.8 381.6 379.7 380.9 379.7 380.2 C379.7 379.5 379.8 378.8 380.0 378.2 C380.2 377.6 380.4 377.0 380.8 376.6 C381.1 376.2 381.5 375.9 381.9 375.7 C382.3 375.6 382.7 375.6 383.1 375.7 C383.5 375.9 383.9 376.2 384.2 376.6 C384.6 377.0 384.8 377.6 385.0 378.2 C385.2 378.8 385.3 379.5 385.3 380.2Z" fill="none" stroke="#fff" stroke-width="0.75" opacity="0.7"/>
<path d="M384.6 380.2 C384.6 380.7 384.5 381.2 384.4 381.7 C384.3 382.1 384.0 382.6 383.8 382.9 C383.6 383.2 383.3 383.5 383.0 383.6 C382.7 383.7 382.3 383.7 382.0 383.6 C381.7 383.5 381.4 383.2 381.2 382.9 C381.0 382.6 380.7 382.1 380.6 381.7 C380.5 381.2 380.4 380.7 380.4 380.2 C380.4 379.7 380.5 379.2 380.6 378.7 C380.7 378.3 381.0 377.8 381.2 377.5 C381.4 377.2 381.7 376.9 382.0 376.8 C382.3 376.7 382.7 376.7 383.0 376.8 C383.3 376.9 383.6 377.2 383.8 377.5 C384.0 377.8 384.3 378.3 384.4 378.7 C384.5 379.2 384.6 379.7 384.6 380.2Z" fill="none" stroke="#1a0304" stroke-width="0.45" opacity="0.65"/>
<ellipse cx="382.5" cy="380.2" rx="2.7" ry="3.6" fill="none" stroke="#f2c0c0" stroke-width="0.6"/>
<ellipse cx="382.5" cy="380.2" rx="1.5" ry="2.0" fill="#fff" stroke="#333" stroke-width="0.6"/>
<path d="M375.6 414.5 C375.6 415.8 375.3 417.2 374.7 418.3 C374.2 419.5 373.3 420.6 372.4 421.4 C371.4 422.2 370.1 422.8 368.9 423.1 C367.7 423.4 366.3 423.4 365.1 423.1 C363.9 422.8 362.6 422.2 361.6 421.4 C360.7 420.6 359.8 419.5 359.3 418.3 C358.7 417.2 358.4 415.8 358.4 414.5 C358.4 413.2 358.7 411.8 359.3 410.7 C359.8 409.5 360.7 408.4 361.6 407.6 C362.6 406.8 363.9 406.2 365.1 405.9 C366.3 405.6 367.7 405.6 368.9 405.9 C370.1 406.2 371.4 406.8 372.4 407.6 C373.3 408.4 374.2 409.5 374.7 410.7 C375.3 411.8 375.6 413.2 375.6 414.5Z" transform="translate(-0.6 0.9)" fill="#1a1a1a" stroke="#1a1a1a" stroke-width="1.4"/>
<path d="M375.6 414.5 C375.6 415.8 375.3 417.2 374.7 418.3 C374.2 419.5 373.3 420.6 372.4 421.4 C371.4 422.2 370.1 422.8 368.9 423.1 C367.7 423.4 366.3 423.4 365.1 423.1 C363.9 422.8 362.6 422.2 361.6 421.4 C360.7 420.6 359.8 419.5 359.3 418.3 C358.7 417.2 358.4 415.8 358.4 414.5 C358.4 413.2 358.7 411.8 359.3 410.7 C359.8 409.5 360.7 408.4 361.6 407.6 C362.6 406.8 363.9 406.2 365.1 405.9 C366.3 405.6 367.7 405.6 368.9 405.9 C370.1 406.2 371.4 406.8 372.4 407.6 C373.3 408.4 374.2 409.5 374.7 410.7 C375.3 411.8 375.6 413.2 375.6 414.5Z" fill="#c4161c"/>
<path d="M374.7 414.5 C374.7 415.6 374.5 416.9 374.0 417.9 C373.5 419.0 372.7 420.0 371.8 420.7 C371.0 421.4 369.8 422.0 368.7 422.2 C367.6 422.5 366.4 422.5 365.3 422.2 C364.2 422.0 363.0 421.4 362.2 420.7 C361.3 420.0 360.5 419.0 360.0 417.9 C359.5 416.9 359.3 415.6 359.3 414.5 C359.3 413.4 359.5 412.1 360.0 411.1 C360.5 410.0 361.3 409.0 362.2 408.3 C363.0 407.6 364.2 407.0 365.3 406.8 C366.4 406.5 367.6 406.5 368.7 406.8 C369.8 407.0 371.0 407.6 371.8 408.3 C372.7 409.0 373.5 410.0 374.0 411.1 C374.5 412.1 374.7 413.4 374.7 414.5Z" fill="none" stroke="#1a0304" stroke-width="0.45" opacity="0.65"/>
<path d="M373.9 414.5 C373.9 415.5 373.6 416.6 373.2 417.6 C372.8 418.5 372.1 419.4 371.3 420.0 C370.5 420.6 369.5 421.1 368.5 421.4 C367.6 421.6 366.4 421.6 365.5 421.4 C364.5 421.1 363.5 420.6 362.7 420.0 C361.9 419.4 361.2 418.5 360.8 417.6 C360.4 416.6 360.1 415.5 360.1 414.5 C360.1 413.5 360.4 412.4 360.8 411.4 C361.2 410.5 361.9 409.6 362.7 409.0 C363.5 408.4 364.5 407.9 365.5 407.6 C366.4 407.4 367.6 407.4 368.5 407.6 C369.5 407.9 370.5 408.4 371.3 409.0 C372.1 409.6 372.8 410.5 373.2 411.4 C373.6 412.4 373.9 413.5 373.9 414.5Z" fill="none" stroke="#fff" stroke-width="0.75" opacity="0.7"/>
<path d="M373.0 414.5 C373.0 415.4 372.8 416.4 372.4 417.2 C372.0 418.0 371.4 418.8 370.8 419.3 C370.1 419.9 369.2 420.3 368.3 420.5 C367.5 420.7 366.5 420.7 365.7 420.5 C364.8 420.3 363.9 419.9 363.2 419.3 C362.6 418.8 362.0 418.0 361.6 417.2 C361.2 416.4 361.0 415.4 361.0 414.5 C361.0 413.6 361.2 412.6 361.6 411.8 C362.0 411.0 362.6 410.2 363.2 409.7 C363.9 409.1 364.8 408.7 365.7 408.5 C366.5 408.3 367.5 408.3 368.3 408.5 C369.2 408.7 370.1 409.1 370.8 409.7 C371.4 410.2 372.0 411.0 372.4 411.8 C372.8 412.6 373.0 413.6 373.0 414.5Z" fill="none" stroke="#1a0304" stroke-width="0.45" opacity="0.65"/>
<path d="M372.2 414.5 C372.2 415.3 372.0 416.1 371.6 416.8 C371.3 417.5 370.8 418.2 370.2 418.6 C369.6 419.1 368.9 419.5 368.1 419.6 C367.4 419.8 366.6 419.8 365.9 419.6 C365.1 419.5 364.4 419.1 363.8 418.6 C363.2 418.2 362.7 417.5 362.4 416.8 C362.0 416.1 361.8 415.3 361.8 414.5 C361.8 413.7 362.0 412.9 362.4 412.2 C362.7 411.5 363.2 410.8 363.8 410.4 C364.4 409.9 365.1 409.5 365.9 409.4 C366.6 409.2 367.4 409.2 368.1 409.4 C368.9 409.5 369.6 409.9 370.2 410.4 C370.8 410.8 371.3 411.5 371.6 412.2 C372.0 412.9 372.2 413.7 372.2 414.5Z" fill="none" stroke="#fff" stroke-width="0.75" opacity="0.7"/>
<path d="M371.3 414.5 C371.3 415.1 371.1 415.8 370.9 416.4 C370.6 417.0 370.2 417.5 369.7 417.9 C369.2 418.3 368.6 418.6 368.0 418.8 C367.4 418.9 366.6 418.9 366.0 418.8 C365.4 418.6 364.8 418.3 364.3 417.9 C363.8 417.5 363.4 417.0 363.1 416.4 C362.9 415.8 362.7 415.1 362.7 414.5 C362.7 413.9 362.9 413.2 363.1 412.6 C363.4 412.0 363.8 411.5 364.3 411.1 C364.8 410.7 365.4 410.4 366.0 410.2 C366.6 410.1 367.4 410.1 368.0 410.2 C368.6 410.4 369.2 410.7 369.7 411.1 C370.2 411.5 370.6 412.0 370.9 412.6 C371.1 413.2 371.3 413.9 371.3 414.5Z" fill="none" stroke="#1a0304" stroke-width="0.45" opacity="0.65"/>
<path d="M370.4 414.5 C370.4 415.0 370.3 415.6 370.1 416.0 C369.9 416.5 369.5 416.9 369.1 417.3 C368.8 417.6 368.3 417.8 367.8 417.9 C367.3 418.0 366.7 418.0 366.2 417.9 C365.7 417.8 365.2 417.6 364.9 417.3 C364.5 416.9 364.1 416.5 363.9 416.0 C363.7 415.6 363.6 415.0 363.6 414.5 C363.6 414.0 363.7 413.4 363.9 413.0 C364.1 412.5 364.5 412.1 364.9 411.7 C365.2 411.4 365.7 411.2 366.2 411.1 C366.7 411.0 367.3 411.0 367.8 411.1 C368.3 411.2 368.8 411.4 369.1 411.7 C369.5 412.1 369.9 412.5 370.1 413.0 C370.3 413.4 370.4 414.0 370.4 414.5Z" fill="none" stroke="#fff" stroke-width="0.75" opacity="0.7"/>
<path d="M369.6 414.5 C369.6 414.9 369.5 415.3 369.3 415.6 C369.2 416.0 368.9 416.3 368.6 416.6 C368.3 416.8 367.9 417.0 367.6 417.1 C367.2 417.2 366.8 417.2 366.4 417.1 C366.1 417.0 365.7 416.8 365.4 416.6 C365.1 416.3 364.8 416.0 364.7 415.6 C364.5 415.3 364.4 414.9 364.4 414.5 C364.4 414.1 364.5 413.7 364.7 413.4 C364.8 413.0 365.1 412.7 365.4 412.4 C365.7 412.2 366.1 412.0 366.4 411.9 C366.8 411.8 367.2 411.8 367.6 411.9 C367.9 412.0 368.3 412.2 368.6 412.4 C368.9 412.7 369.2 413.0 369.3 413.4 C369.5 413.7 369.6 414.1 369.6 414.5Z" fill="none" stroke="#1a0304" stroke-width="0.45" opacity="0.65"/>
<ellipse cx="367.0" cy="414.5" rx="2.7" ry="3.6" fill="none" stroke="#f2c0c0" stroke-width="0.6"/>
<ellipse cx="367.0" cy="414.5" rx="1.5" ry="2.0" fill="#fff" stroke="#333" stroke-width="0.6"/>
<ellipse transform="translate(379.2 410.0) rotate(-5)" rx="2.8" ry="7.5" fill="none" stroke="#c4161c" stroke-width="1.0"/>
<ellipse transform="translate(375.0 408.0) rotate(0)" rx="2.0" ry="6.0" fill="none" stroke="#1a1a1a" stroke-width="0.7"/>
<path d="M390.0 433.6 C389.5 434.8 388.7 436.1 387.7 437.1 C386.8 438.0 385.5 438.8 384.3 439.3 C383.0 439.7 381.6 439.9 380.3 439.7 C379.0 439.6 377.6 439.1 376.5 438.3 C375.4 437.6 374.4 436.5 373.7 435.4 C373.1 434.3 372.6 432.9 372.5 431.5 C372.4 430.2 372.6 428.7 373.0 427.4 C373.5 426.2 374.3 424.9 375.3 423.9 C376.2 423.0 377.5 422.2 378.7 421.7 C380.0 421.3 381.4 421.1 382.7 421.3 C384.0 421.4 385.4 421.9 386.5 422.7 C387.6 423.4 388.6 424.5 389.3 425.6 C389.9 426.7 390.4 428.1 390.5 429.5 C390.6 430.8 390.4 432.3 390.0 433.6Z" transform="translate(-0.9 0.2)" fill="#1a1a1a" stroke="#1a1a1a" stroke-width="1.4"/>
<path d="M390.0 433.6 C389.5 434.8 388.7 436.1 387.7 437.1 C386.8 438.0 385.5 438.8 384.3 439.3 C383.0 439.7 381.6 439.9 380.3 439.7 C379.0 439.6 377.6 439.1 376.5 438.3 C375.4 437.6 374.4 436.5 373.7 435.4 C373.1 434.3 372.6 432.9 372.5 431.5 C372.4 430.2 372.6 428.7 373.0 427.4 C373.5 426.2 374.3 424.9 375.3 423.9 C376.2 423.0 377.5 422.2 378.7 421.7 C380.0 421.3 381.4 421.1 382.7 421.3 C384.0 421.4 385.4 421.9 386.5 422.7 C387.6 423.4 388.6 424.5 389.3 425.6 C389.9 426.7 390.4 428.1 390.5 429.5 C390.6 430.8 390.4 432.3 390.0 433.6Z" fill="#c4161c"/>
<path d="M389.1 433.3 C388.7 434.4 388.0 435.6 387.1 436.4 C386.3 437.3 385.1 438.0 384.0 438.4 C382.9 438.8 381.6 438.9 380.4 438.8 C379.2 438.6 378.0 438.2 377.0 437.6 C376.0 436.9 375.1 435.9 374.5 434.9 C373.9 433.9 373.5 432.6 373.4 431.4 C373.3 430.2 373.5 428.9 373.9 427.7 C374.3 426.6 375.0 425.4 375.9 424.6 C376.7 423.7 377.9 423.0 379.0 422.6 C380.1 422.2 381.4 422.1 382.6 422.2 C383.8 422.4 385.0 422.8 386.0 423.4 C387.0 424.1 387.9 425.1 388.5 426.1 C389.1 427.1 389.5 428.4 389.6 429.6 C389.7 430.8 389.5 432.1 389.1 433.3Z" fill="none" stroke="#1a0304" stroke-width="0.45" opacity="0.65"/>
<path d="M388.3 433.0 C387.9 434.0 387.2 435.0 386.5 435.8 C385.7 436.5 384.7 437.1 383.7 437.5 C382.7 437.9 381.6 438.0 380.5 437.9 C379.5 437.7 378.4 437.3 377.5 436.8 C376.6 436.2 375.8 435.3 375.3 434.4 C374.8 433.5 374.4 432.4 374.3 431.3 C374.2 430.2 374.4 429.0 374.7 428.0 C375.1 427.0 375.8 426.0 376.5 425.2 C377.3 424.5 378.3 423.9 379.3 423.5 C380.3 423.1 381.4 423.0 382.5 423.1 C383.5 423.3 384.6 423.7 385.5 424.2 C386.4 424.8 387.2 425.7 387.7 426.6 C388.2 427.5 388.6 428.6 388.7 429.7 C388.8 430.8 388.6 432.0 388.3 433.0Z" fill="none" stroke="#fff" stroke-width="0.75" opacity="0.7"/>
<path d="M387.4 432.7 C387.1 433.5 386.5 434.4 385.9 435.1 C385.2 435.8 384.3 436.3 383.5 436.6 C382.6 436.9 381.6 437.1 380.6 436.9 C379.7 436.8 378.8 436.5 378.0 436.0 C377.2 435.5 376.5 434.7 376.1 433.9 C375.6 433.1 375.3 432.1 375.2 431.2 C375.1 430.3 375.3 429.2 375.6 428.3 C375.9 427.5 376.5 426.6 377.1 425.9 C377.8 425.2 378.7 424.7 379.5 424.4 C380.4 424.1 381.4 423.9 382.4 424.1 C383.3 424.2 384.2 424.5 385.0 425.0 C385.8 425.5 386.5 426.3 386.9 427.1 C387.4 427.9 387.7 428.9 387.8 429.8 C387.9 430.7 387.7 431.8 387.4 432.7Z" fill="none" stroke="#1a0304" stroke-width="0.45" opacity="0.65"/>
<path d="M386.6 432.3 C386.3 433.1 385.8 433.9 385.2 434.4 C384.7 435.0 383.9 435.5 383.2 435.8 C382.4 436.0 381.5 436.1 380.8 436.0 C380.0 435.9 379.2 435.6 378.5 435.2 C377.9 434.8 377.2 434.1 376.8 433.4 C376.4 432.8 376.2 431.9 376.1 431.1 C376.0 430.3 376.1 429.4 376.4 428.7 C376.7 427.9 377.2 427.1 377.8 426.6 C378.3 426.0 379.1 425.5 379.8 425.2 C380.6 425.0 381.5 424.9 382.2 425.0 C383.0 425.1 383.8 425.4 384.5 425.8 C385.1 426.2 385.8 426.9 386.2 427.6 C386.6 428.2 386.8 429.1 386.9 429.9 C387.0 430.7 386.9 431.6 386.6 432.3Z" fill="none" stroke="#fff" stroke-width="0.75" opacity="0.7"/>
<path d="M385.7 432.0 C385.5 432.7 385.1 433.3 384.6 433.8 C384.1 434.3 383.5 434.7 382.9 434.9 C382.3 435.1 381.5 435.2 380.9 435.1 C380.2 435.0 379.6 434.8 379.0 434.4 C378.5 434.1 378.0 433.5 377.6 433.0 C377.3 432.4 377.1 431.7 377.0 431.0 C376.9 430.3 377.0 429.6 377.3 429.0 C377.5 428.3 377.9 427.7 378.4 427.2 C378.9 426.7 379.5 426.3 380.1 426.1 C380.7 425.9 381.5 425.8 382.1 425.9 C382.8 426.0 383.4 426.2 384.0 426.6 C384.5 426.9 385.0 427.5 385.4 428.0 C385.7 428.6 385.9 429.3 386.0 430.0 C386.1 430.7 386.0 431.4 385.7 432.0Z" fill="none" stroke="#1a0304" stroke-width="0.45" opacity="0.65"/>
<path d="M384.9 431.7 C384.7 432.2 384.4 432.7 384.0 433.1 C383.6 433.5 383.1 433.8 382.6 434.0 C382.1 434.2 381.5 434.2 381.0 434.2 C380.5 434.1 379.9 433.9 379.5 433.6 C379.1 433.3 378.7 432.9 378.4 432.5 C378.1 432.0 377.9 431.4 377.9 430.9 C377.9 430.4 377.9 429.8 378.1 429.3 C378.3 428.8 378.6 428.3 379.0 427.9 C379.4 427.5 379.9 427.2 380.4 427.0 C380.9 426.8 381.5 426.8 382.0 426.8 C382.5 426.9 383.1 427.1 383.5 427.4 C383.9 427.7 384.3 428.1 384.6 428.5 C384.9 429.0 385.1 429.6 385.1 430.1 C385.1 430.6 385.1 431.2 384.9 431.7Z" fill="none" stroke="#fff" stroke-width="0.75" opacity="0.7"/>
<path d="M384.0 431.4 C383.9 431.8 383.7 432.2 383.4 432.5 C383.1 432.8 382.7 433.0 382.3 433.1 C382.0 433.3 381.5 433.3 381.1 433.3 C380.7 433.2 380.3 433.1 380.0 432.9 C379.7 432.6 379.4 432.3 379.2 432.0 C379.0 431.6 378.8 431.2 378.8 430.8 C378.8 430.4 378.8 430.0 379.0 429.6 C379.1 429.2 379.3 428.8 379.6 428.5 C379.9 428.2 380.3 428.0 380.7 427.9 C381.0 427.7 381.5 427.7 381.9 427.7 C382.3 427.8 382.7 427.9 383.0 428.1 C383.3 428.4 383.6 428.7 383.8 429.0 C384.0 429.4 384.2 429.8 384.2 430.2 C384.2 430.6 384.2 431.0 384.0 431.4Z" fill="none" stroke="#1a0304" stroke-width="0.45" opacity="0.65"/>
<ellipse cx="381.5" cy="430.5" rx="2.7" ry="3.6" fill="none" stroke="#f2c0c0" stroke-width="0.6"/>
<ellipse cx="381.5" cy="430.5" rx="1.5" ry="2.0" fill="#fff" stroke="#333" stroke-width="0.6"/>
<path d="M375.2 438.5 C375.4 439.6 375.3 440.9 374.9 442.0 C374.6 443.2 373.9 444.3 373.1 445.2 C372.3 446.0 371.1 446.8 370.0 447.3 C368.9 447.7 367.5 448.0 366.3 447.9 C365.1 447.9 363.7 447.5 362.7 447.0 C361.6 446.5 360.6 445.6 359.9 444.7 C359.1 443.8 358.6 442.6 358.4 441.5 C358.2 440.4 358.3 439.1 358.7 438.0 C359.0 436.8 359.7 435.7 360.5 434.8 C361.3 434.0 362.5 433.2 363.6 432.7 C364.7 432.3 366.1 432.0 367.3 432.1 C368.5 432.1 369.9 432.5 370.9 433.0 C372.0 433.5 373.0 434.4 373.7 435.3 C374.5 436.2 375.0 437.4 375.2 438.5Z" transform="translate(-0.9 0.2)" fill="#1a1a1a" stroke="#1a1a1a" stroke-width="1.4"/>
<path d="M375.2 438.5 C375.4 439.6 375.3 440.9 374.9 442.0 C374.6 443.2 373.9 444.3 373.1 445.2 C372.3 446.0 371.1 446.8 370.0 447.3 C368.9 447.7 367.5 448.0 366.3 447.9 C365.1 447.9 363.7 447.5 362.7 447.0 C361.6 446.5 360.6 445.6 359.9 444.7 C359.1 443.8 358.6 442.6 358.4 441.5 C358.2 440.4 358.3 439.1 358.7 438.0 C359.0 436.8 359.7 435.7 360.5 434.8 C361.3 434.0 362.5 433.2 363.6 432.7 C364.7 432.3 366.1 432.0 367.3 432.1 C368.5 432.1 369.9 432.5 370.9 433.0 C372.0 433.5 373.0 434.4 373.7 435.3 C374.5 436.2 375.0 437.4 375.2 438.5Z" fill="#c4161c"/>
<path d="M374.3 438.7 C374.5 439.7 374.4 440.8 374.1 441.8 C373.8 442.8 373.2 443.9 372.5 444.6 C371.7 445.4 370.7 446.1 369.7 446.5 C368.7 446.9 367.4 447.2 366.3 447.1 C365.2 447.1 364.0 446.8 363.1 446.3 C362.1 445.8 361.2 445.1 360.5 444.2 C359.9 443.4 359.4 442.3 359.3 441.3 C359.1 440.3 359.2 439.2 359.5 438.2 C359.8 437.2 360.4 436.1 361.1 435.4 C361.9 434.6 362.9 433.9 363.9 433.5 C364.9 433.1 366.2 432.8 367.3 432.9 C368.4 432.9 369.6 433.2 370.5 433.7 C371.5 434.2 372.4 434.9 373.1 435.8 C373.7 436.6 374.2 437.7 374.3 438.7Z" fill="none" stroke="#1a0304" stroke-width="0.45" opacity="0.65"/>
<path d="M373.5 438.8 C373.7 439.7 373.6 440.8 373.3 441.6 C373.0 442.5 372.5 443.4 371.8 444.1 C371.2 444.8 370.3 445.4 369.4 445.8 C368.5 446.2 367.4 446.4 366.4 446.3 C365.4 446.3 364.3 446.0 363.5 445.6 C362.6 445.2 361.8 444.5 361.2 443.8 C360.7 443.0 360.3 442.1 360.1 441.2 C359.9 440.3 360.0 439.2 360.3 438.4 C360.6 437.5 361.1 436.6 361.8 435.9 C362.4 435.2 363.3 434.6 364.2 434.2 C365.1 433.8 366.2 433.6 367.2 433.7 C368.2 433.7 369.3 434.0 370.1 434.4 C371.0 434.8 371.8 435.5 372.4 436.2 C372.9 437.0 373.3 437.9 373.5 438.8Z" fill="none" stroke="#fff" stroke-width="0.75" opacity="0.7"/>
<path d="M372.7 439.0 C372.8 439.8 372.7 440.7 372.5 441.4 C372.3 442.2 371.8 443.0 371.2 443.6 C370.6 444.2 369.8 444.8 369.0 445.1 C368.2 445.4 367.3 445.6 366.4 445.5 C365.6 445.5 364.6 445.3 363.9 444.9 C363.1 444.5 362.4 443.9 361.9 443.3 C361.4 442.6 361.1 441.8 360.9 441.0 C360.8 440.2 360.9 439.3 361.1 438.6 C361.3 437.8 361.8 437.0 362.4 436.4 C363.0 435.8 363.8 435.2 364.6 434.9 C365.4 434.6 366.3 434.4 367.2 434.5 C368.0 434.5 369.0 434.7 369.7 435.1 C370.5 435.5 371.2 436.1 371.7 436.7 C372.2 437.4 372.5 438.2 372.7 439.0Z" fill="none" stroke="#1a0304" stroke-width="0.45" opacity="0.65"/>
<path d="M371.8 439.1 C371.9 439.8 371.9 440.6 371.7 441.2 C371.5 441.9 371.1 442.6 370.6 443.1 C370.1 443.6 369.4 444.1 368.7 444.4 C368.0 444.6 367.2 444.8 366.5 444.7 C365.8 444.7 365.0 444.5 364.3 444.2 C363.7 443.9 363.1 443.4 362.6 442.8 C362.2 442.3 361.9 441.6 361.8 440.9 C361.7 440.2 361.7 439.4 361.9 438.8 C362.1 438.1 362.5 437.4 363.0 436.9 C363.5 436.4 364.2 435.9 364.9 435.6 C365.6 435.4 366.4 435.2 367.1 435.3 C367.8 435.3 368.6 435.5 369.3 435.8 C369.9 436.1 370.5 436.6 371.0 437.2 C371.4 437.7 371.7 438.4 371.8 439.1Z" fill="none" stroke="#fff" stroke-width="0.75" opacity="0.7"/>
<path d="M371.0 439.3 C371.1 439.8 371.0 440.5 370.9 441.0 C370.7 441.6 370.4 442.1 369.9 442.6 C369.5 443.0 369.0 443.4 368.4 443.6 C367.8 443.9 367.1 444.0 366.5 444.0 C365.9 443.9 365.3 443.8 364.7 443.5 C364.2 443.2 363.7 442.8 363.3 442.4 C363.0 441.9 362.7 441.3 362.6 440.7 C362.5 440.2 362.6 439.5 362.7 439.0 C362.9 438.4 363.2 437.9 363.7 437.4 C364.1 437.0 364.6 436.6 365.2 436.4 C365.8 436.1 366.5 436.0 367.1 436.0 C367.7 436.1 368.3 436.2 368.9 436.5 C369.4 436.8 369.9 437.2 370.3 437.6 C370.6 438.1 370.9 438.7 371.0 439.3Z" fill="none" stroke="#1a0304" stroke-width="0.45" opacity="0.65"/>
<path d="M370.1 439.4 C370.2 439.9 370.2 440.4 370.1 440.8 C369.9 441.3 369.6 441.7 369.3 442.1 C369.0 442.4 368.5 442.7 368.1 442.9 C367.6 443.1 367.1 443.2 366.6 443.2 C366.1 443.1 365.6 443.0 365.1 442.8 C364.7 442.6 364.3 442.3 364.0 441.9 C363.7 441.5 363.5 441.0 363.5 440.6 C363.4 440.1 363.4 439.6 363.5 439.2 C363.7 438.7 364.0 438.3 364.3 437.9 C364.6 437.6 365.1 437.3 365.5 437.1 C366.0 436.9 366.5 436.8 367.0 436.8 C367.5 436.9 368.0 437.0 368.5 437.2 C368.9 437.4 369.3 437.7 369.6 438.1 C369.9 438.5 370.1 439.0 370.1 439.4Z" fill="none" stroke="#fff" stroke-width="0.75" opacity="0.7"/>
<path d="M369.3 439.6 C369.4 439.9 369.3 440.3 369.2 440.6 C369.1 440.9 368.9 441.3 368.7 441.5 C368.4 441.8 368.1 442.0 367.8 442.2 C367.4 442.3 367.0 442.4 366.6 442.4 C366.3 442.4 365.9 442.3 365.6 442.1 C365.2 441.9 364.9 441.7 364.7 441.4 C364.5 441.1 364.3 440.8 364.3 440.4 C364.2 440.1 364.3 439.7 364.4 439.4 C364.5 439.1 364.7 438.7 364.9 438.5 C365.2 438.2 365.5 438.0 365.8 437.8 C366.2 437.7 366.6 437.6 367.0 437.6 C367.3 437.6 367.7 437.7 368.0 437.9 C368.4 438.1 368.7 438.3 368.9 438.6 C369.1 438.9 369.3 439.2 369.3 439.6Z" fill="none" stroke="#1a0304" stroke-width="0.45" opacity="0.65"/>
<ellipse cx="366.8" cy="440.0" rx="2.7" ry="3.6" fill="none" stroke="#f2c0c0" stroke-width="0.6"/>
<ellipse cx="366.8" cy="440.0" rx="1.5" ry="2.0" fill="#fff" stroke="#333" stroke-width="0.6"/>
<path d="M389.5 458.1 C389.5 459.4 389.2 460.7 388.8 461.9 C388.4 463.0 387.7 464.1 386.9 464.9 C386.1 465.7 385.0 466.3 384.1 466.6 C383.1 466.9 381.9 466.9 380.9 466.6 C380.0 466.3 378.9 465.7 378.1 464.9 C377.3 464.1 376.6 463.0 376.2 461.9 C375.8 460.7 375.5 459.4 375.5 458.1 C375.5 456.8 375.8 455.5 376.2 454.3 C376.6 453.2 377.3 452.1 378.1 451.3 C378.9 450.5 380.0 449.9 380.9 449.6 C381.9 449.3 383.1 449.3 384.1 449.6 C385.0 449.9 386.1 450.5 386.9 451.3 C387.7 452.1 388.4 453.2 388.8 454.3 C389.2 455.5 389.5 456.8 389.5 458.1Z" transform="translate(-0.9 0.2)" fill="#1a1a1a" stroke="#1a1a1a" stroke-width="1.4"/>
<path d="M389.5 458.1 C389.5 459.4 389.2 460.7 388.8 461.9 C388.4 463.0 387.7 464.1 386.9 464.9 C386.1 465.7 385.0 466.3 384.1 466.6 C383.1 466.9 381.9 466.9 380.9 466.6 C380.0 466.3 378.9 465.7 378.1 464.9 C377.3 464.1 376.6 463.0 376.2 461.9 C375.8 460.7 375.5 459.4 375.5 458.1 C375.5 456.8 375.8 455.5 376.2 454.3 C376.6 453.2 377.3 452.1 378.1 451.3 C378.9 450.5 380.0 449.9 380.9 449.6 C381.9 449.3 383.1 449.3 384.1 449.6 C385.0 449.9 386.1 450.5 386.9 451.3 C387.7 452.1 388.4 453.2 388.8 454.3 C389.2 455.5 389.5 456.8 389.5 458.1Z" fill="#c4161c"/>
<path d="M388.8 458.1 C388.8 459.2 388.6 460.5 388.2 461.5 C387.8 462.5 387.1 463.5 386.4 464.2 C385.7 464.9 384.8 465.5 383.9 465.7 C383.0 466.0 382.0 466.0 381.1 465.7 C380.2 465.5 379.3 464.9 378.6 464.2 C377.9 463.5 377.2 462.5 376.8 461.5 C376.4 460.5 376.2 459.2 376.2 458.1 C376.2 457.0 376.4 455.7 376.8 454.7 C377.2 453.7 377.9 452.7 378.6 452.0 C379.3 451.3 380.2 450.7 381.1 450.5 C382.0 450.2 383.0 450.2 383.9 450.5 C384.8 450.7 385.7 451.3 386.4 452.0 C387.1 452.7 387.8 453.7 388.2 454.7 C388.6 455.7 388.8 457.0 388.8 458.1Z" fill="none" stroke="#1a0304" stroke-width="0.45" opacity="0.65"/>
<path d="M388.1 458.1 C388.1 459.1 387.9 460.2 387.5 461.1 C387.2 462.0 386.6 462.9 386.0 463.5 C385.4 464.2 384.5 464.7 383.7 464.9 C383.0 465.1 382.0 465.1 381.3 464.9 C380.5 464.7 379.6 464.2 379.0 463.5 C378.4 462.9 377.8 462.0 377.5 461.1 C377.1 460.2 376.9 459.1 376.9 458.1 C376.9 457.1 377.1 456.0 377.5 455.1 C377.8 454.2 378.4 453.3 379.0 452.7 C379.6 452.0 380.5 451.5 381.3 451.3 C382.0 451.1 383.0 451.1 383.7 451.3 C384.5 451.5 385.4 452.0 386.0 452.7 C386.6 453.3 387.2 454.2 387.5 455.1 C387.9 456.0 388.1 457.1 388.1 458.1Z" fill="none" stroke="#fff" stroke-width="0.75" opacity="0.7"/>
<path d="M387.4 458.1 C387.4 459.0 387.2 459.9 386.9 460.7 C386.6 461.5 386.1 462.3 385.6 462.9 C385.0 463.4 384.3 463.8 383.6 464.0 C382.9 464.2 382.1 464.2 381.4 464.0 C380.7 463.8 380.0 463.4 379.4 462.9 C378.9 462.3 378.4 461.5 378.1 460.7 C377.8 459.9 377.6 459.0 377.6 458.1 C377.6 457.2 377.8 456.3 378.1 455.5 C378.4 454.7 378.9 453.9 379.4 453.3 C380.0 452.8 380.7 452.4 381.4 452.2 C382.1 452.0 382.9 452.0 383.6 452.2 C384.3 452.4 385.0 452.8 385.6 453.3 C386.1 453.9 386.6 454.7 386.9 455.5 C387.2 456.3 387.4 457.2 387.4 458.1Z" fill="none" stroke="#1a0304" stroke-width="0.45" opacity="0.65"/>
<path d="M386.7 458.1 C386.7 458.9 386.5 459.7 386.3 460.4 C386.0 461.0 385.6 461.7 385.1 462.2 C384.6 462.7 384.0 463.0 383.4 463.2 C382.8 463.4 382.2 463.4 381.6 463.2 C381.0 463.0 380.4 462.7 379.9 462.2 C379.4 461.7 379.0 461.0 378.7 460.4 C378.5 459.7 378.3 458.9 378.3 458.1 C378.3 457.3 378.5 456.5 378.7 455.8 C379.0 455.2 379.4 454.5 379.9 454.0 C380.4 453.5 381.0 453.2 381.6 453.0 C382.2 452.8 382.8 452.8 383.4 453.0 C384.0 453.2 384.6 453.5 385.1 454.0 C385.6 454.5 386.0 455.2 386.3 455.8 C386.5 456.5 386.7 457.3 386.7 458.1Z" fill="none" stroke="#fff" stroke-width="0.75" opacity="0.7"/>
<path d="M386.0 458.1 C386.0 458.7 385.9 459.4 385.7 460.0 C385.4 460.6 385.1 461.1 384.7 461.5 C384.3 461.9 383.8 462.2 383.3 462.3 C382.8 462.5 382.2 462.5 381.7 462.3 C381.2 462.2 380.7 461.9 380.3 461.5 C379.9 461.1 379.6 460.6 379.3 460.0 C379.1 459.4 379.0 458.7 379.0 458.1 C379.0 457.5 379.1 456.8 379.3 456.2 C379.6 455.6 379.9 455.1 380.3 454.7 C380.7 454.3 381.2 454.0 381.7 453.9 C382.2 453.7 382.8 453.7 383.3 453.9 C383.8 454.0 384.3 454.3 384.7 454.7 C385.1 455.1 385.4 455.6 385.7 456.2 C385.9 456.8 386.0 457.5 386.0 458.1Z" fill="none" stroke="#1a0304" stroke-width="0.45" opacity="0.65"/>
<path d="M385.3 458.1 C385.3 458.6 385.2 459.2 385.0 459.6 C384.8 460.1 384.6 460.5 384.2 460.8 C383.9 461.1 383.5 461.4 383.1 461.5 C382.7 461.6 382.3 461.6 381.9 461.5 C381.5 461.4 381.1 461.1 380.8 460.8 C380.4 460.5 380.2 460.1 380.0 459.6 C379.8 459.2 379.7 458.6 379.7 458.1 C379.7 457.6 379.8 457.0 380.0 456.6 C380.2 456.1 380.4 455.7 380.8 455.4 C381.1 455.1 381.5 454.8 381.9 454.7 C382.3 454.6 382.7 454.6 383.1 454.7 C383.5 454.8 383.9 455.1 384.2 455.4 C384.6 455.7 384.8 456.1 385.0 456.6 C385.2 457.0 385.3 457.6 385.3 458.1Z" fill="none" stroke="#fff" stroke-width="0.75" opacity="0.7"/>
<path d="M384.6 458.1 C384.6 458.5 384.5 458.9 384.4 459.2 C384.3 459.6 384.0 459.9 383.8 460.1 C383.6 460.4 383.3 460.6 383.0 460.6 C382.7 460.7 382.3 460.7 382.0 460.6 C381.7 460.6 381.4 460.4 381.2 460.1 C381.0 459.9 380.7 459.6 380.6 459.2 C380.5 458.9 380.4 458.5 380.4 458.1 C380.4 457.7 380.5 457.3 380.6 457.0 C380.7 456.6 381.0 456.3 381.2 456.1 C381.4 455.8 381.7 455.6 382.0 455.6 C382.3 455.5 382.7 455.5 383.0 455.6 C383.3 455.6 383.6 455.8 383.8 456.1 C384.0 456.3 384.3 456.6 384.4 457.0 C384.5 457.3 384.6 457.7 384.6 458.1Z" fill="none" stroke="#1a0304" stroke-width="0.45" opacity="0.65"/>
<ellipse cx="382.5" cy="458.1" rx="2.7" ry="3.6" fill="none" stroke="#f2c0c0" stroke-width="0.6"/>
<ellipse cx="382.5" cy="458.1" rx="1.5" ry="2.0" fill="#fff" stroke="#333" stroke-width="0.6"/>
<path d="M331.5 443.0 C331.7 441.0 332.1 438.4 333.5 437.0 C334.9 435.6 337.8 435.1 340.0 434.8 C342.2 434.6 345.1 434.9 347.0 435.5 C348.9 436.1 350.7 437.2 351.5 438.5 C352.3 439.8 352.4 441.9 352.0 443.0 C351.6 444.1 350.3 445.1 349.0 445.0 C347.7 444.9 345.7 443.0 344.0 442.5 C342.3 442.0 340.2 441.4 339.0 442.0 C337.8 442.6 337.1 444.5 336.5 446.0 C335.9 447.5 336.2 450.5 335.5 451.0 C334.8 451.5 333.2 450.3 332.5 449.0 C331.8 447.7 331.3 445.0 331.5 443.0Z" transform="translate(-0.7 0.4)" fill="#1a1a1a" stroke="#1a1a1a" stroke-width="0.9"/>
<path d="M331.5 443.0 C331.7 441.0 332.1 438.4 333.5 437.0 C334.9 435.6 337.8 435.1 340.0 434.8 C342.2 434.6 345.1 434.9 347.0 435.5 C348.9 436.1 350.7 437.2 351.5 438.5 C352.3 439.8 352.4 441.9 352.0 443.0 C351.6 444.1 350.3 445.1 349.0 445.0 C347.7 444.9 345.7 443.0 344.0 442.5 C342.3 442.0 340.2 441.4 339.0 442.0 C337.8 442.6 337.1 444.5 336.5 446.0 C335.9 447.5 336.2 450.5 335.5 451.0 C334.8 451.5 333.2 450.3 332.5 449.0 C331.8 447.7 331.3 445.0 331.5 443.0Z" fill="#c4161c"/>
<path d="M332.6 442.9 C332.8 441.2 333.2 438.8 334.4 437.6 C335.6 436.4 338.1 435.9 340.1 435.7 C342.1 435.5 344.6 435.8 346.3 436.3 C348.0 436.9 349.5 437.9 350.2 439.0 C351.0 440.1 351.0 442.0 350.7 442.9 C350.3 443.9 349.2 444.7 348.0 444.7 C346.9 444.6 345.1 442.9 343.6 442.5 C342.2 442.0 340.3 441.5 339.2 442.0 C338.1 442.5 337.6 444.2 337.0 445.6 C336.5 446.9 336.7 449.5 336.2 450.0 C335.6 450.4 334.1 449.4 333.5 448.2 C332.9 447.0 332.5 444.7 332.6 442.9Z" fill="none" stroke="#1a0304" stroke-width="0.45" opacity="0.65"/>
<path d="M333.8 442.8 C333.9 441.3 334.2 439.3 335.3 438.3 C336.4 437.2 338.5 436.8 340.2 436.6 C341.9 436.4 344.1 436.7 345.6 437.1 C347.0 437.6 348.3 438.5 349.0 439.4 C349.6 440.4 349.7 442.0 349.4 442.8 C349.0 443.6 348.1 444.4 347.1 444.3 C346.1 444.3 344.5 442.8 343.3 442.4 C342.0 442.1 340.4 441.6 339.5 442.1 C338.5 442.5 338.0 444.0 337.6 445.1 C337.1 446.2 337.3 448.5 336.8 448.9 C336.3 449.3 335.0 448.4 334.5 447.4 C334.0 446.4 333.7 444.3 333.8 442.8Z" fill="none" stroke="#fff" stroke-width="0.75" opacity="0.7"/>
<path d="M334.9 442.7 C335.0 441.5 335.3 439.8 336.2 438.9 C337.1 438.0 338.9 437.7 340.4 437.5 C341.8 437.3 343.6 437.5 344.8 437.9 C346.1 438.3 347.2 439.1 347.7 439.9 C348.3 440.7 348.3 442.0 348.0 442.7 C347.8 443.4 347.0 444.1 346.1 444.0 C345.3 444.0 344.0 442.7 342.9 442.4 C341.9 442.1 340.5 441.7 339.7 442.1 C338.9 442.5 338.5 443.7 338.1 444.7 C337.7 445.6 337.9 447.5 337.5 447.9 C337.1 448.2 336.0 447.4 335.6 446.6 C335.1 445.7 334.8 444.0 334.9 442.7Z" fill="none" stroke="#1a0304" stroke-width="0.45" opacity="0.65"/>
<path d="M336.2 442.6 C336.3 441.6 336.5 440.3 337.2 439.6 C338.0 439.0 339.4 438.7 340.5 438.5 C341.6 438.4 343.0 438.6 344.0 438.9 C345.0 439.2 345.8 439.8 346.2 440.4 C346.7 441.0 346.7 442.1 346.5 442.6 C346.3 443.2 345.7 443.7 345.0 443.6 C344.3 443.6 343.3 442.6 342.5 442.4 C341.7 442.1 340.6 441.8 340.0 442.1 C339.4 442.4 339.0 443.4 338.8 444.1 C338.5 444.9 338.6 446.4 338.2 446.6 C337.9 446.9 337.1 446.3 336.8 445.6 C336.4 445.0 336.2 443.6 336.2 442.6Z" fill="none" stroke="#fff" stroke-width="0.75" opacity="0.7"/>
<path d="M348.0 442.0 C348.3 441.3 350.9 443.0 352.0 444.0 C353.1 445.0 354.3 446.9 354.5 448.0 C354.7 449.1 353.8 450.5 353.0 450.5 C352.2 450.5 350.8 449.4 350.0 448.0 C349.2 446.6 347.7 442.7 348.0 442.0Z" fill="none" stroke="#1a1a1a" stroke-width="0.8"/>
<path d="M350.5 457.4 C350.9 458.7 350.9 460.1 350.8 461.3 C350.6 462.6 350.1 463.9 349.4 464.9 C348.7 465.9 347.8 466.8 346.7 467.3 C345.7 467.9 344.5 468.2 343.3 468.2 C342.1 468.3 340.8 468.0 339.8 467.4 C338.7 466.9 337.6 466.0 336.8 465.1 C336.0 464.1 335.4 462.8 335.1 461.6 C334.7 460.3 334.7 458.9 334.8 457.7 C335.0 456.4 335.5 455.1 336.2 454.1 C336.9 453.1 337.8 452.2 338.9 451.7 C339.9 451.1 341.1 450.8 342.3 450.8 C343.5 450.7 344.8 451.0 345.8 451.6 C346.9 452.1 348.0 453.0 348.8 453.9 C349.6 454.9 350.2 456.2 350.5 457.4Z" transform="translate(-1.0 0.3)" fill="#1a1a1a" stroke="#1a1a1a" stroke-width="1.4"/>
<path d="M350.5 457.4 C350.9 458.7 350.9 460.1 350.8 461.3 C350.6 462.6 350.1 463.9 349.4 464.9 C348.7 465.9 347.8 466.8 346.7 467.3 C345.7 467.9 344.5 468.2 343.3 468.2 C342.1 468.3 340.8 468.0 339.8 467.4 C338.7 466.9 337.6 466.0 336.8 465.1 C336.0 464.1 335.4 462.8 335.1 461.6 C334.7 460.3 334.7 458.9 334.8 457.7 C335.0 456.4 335.5 455.1 336.2 454.1 C336.9 453.1 337.8 452.2 338.9 451.7 C339.9 451.1 341.1 450.8 342.3 450.8 C343.5 450.7 344.8 451.0 345.8 451.6 C346.9 452.1 348.0 453.0 348.8 453.9 C349.6 454.9 350.2 456.2 350.5 457.4Z" fill="#c4161c"/>
<path d="M349.5 457.2 C349.8 458.3 349.9 459.6 349.7 460.7 C349.6 461.9 349.1 463.0 348.5 463.9 C347.9 464.8 347.0 465.6 346.1 466.1 C345.2 466.7 344.1 467.0 343.0 467.0 C342.0 467.0 340.8 466.7 339.8 466.2 C338.9 465.8 337.9 465.0 337.2 464.1 C336.5 463.2 335.9 462.1 335.6 461.0 C335.3 459.9 335.2 458.6 335.4 457.5 C335.6 456.3 336.0 455.2 336.6 454.3 C337.2 453.4 338.1 452.6 339.0 452.1 C339.9 451.5 341.1 451.2 342.1 451.2 C343.2 451.2 344.3 451.5 345.3 452.0 C346.3 452.4 347.2 453.2 347.9 454.1 C348.7 455.0 349.2 456.1 349.5 457.2Z" fill="none" stroke="#1a0304" stroke-width="0.45" opacity="0.65"/>
<path d="M348.5 457.0 C348.8 458.0 348.9 459.2 348.7 460.2 C348.5 461.1 348.2 462.2 347.6 463.0 C347.1 463.8 346.3 464.5 345.5 465.0 C344.7 465.4 343.7 465.7 342.7 465.7 C341.8 465.7 340.8 465.5 339.9 465.0 C339.0 464.6 338.2 463.9 337.6 463.1 C336.9 462.4 336.4 461.3 336.2 460.4 C335.9 459.4 335.8 458.2 336.0 457.2 C336.1 456.3 336.5 455.2 337.1 454.4 C337.6 453.6 338.4 452.9 339.2 452.4 C340.0 452.0 341.0 451.7 341.9 451.7 C342.9 451.7 343.9 451.9 344.8 452.4 C345.6 452.8 346.5 453.5 347.1 454.3 C347.7 455.0 348.3 456.1 348.5 457.0Z" fill="none" stroke="#fff" stroke-width="0.75" opacity="0.7"/>
<path d="M347.5 456.9 C347.7 457.7 347.8 458.7 347.7 459.6 C347.5 460.4 347.2 461.3 346.7 462.0 C346.3 462.7 345.6 463.4 344.9 463.8 C344.2 464.2 343.3 464.4 342.5 464.4 C341.6 464.4 340.7 464.2 340.0 463.9 C339.2 463.5 338.5 462.9 337.9 462.2 C337.4 461.5 336.9 460.6 336.7 459.7 C336.5 458.9 336.4 457.9 336.5 457.0 C336.7 456.2 337.0 455.3 337.5 454.6 C338.0 453.9 338.6 453.2 339.4 452.8 C340.1 452.4 340.9 452.2 341.8 452.2 C342.6 452.2 343.5 452.4 344.2 452.7 C345.0 453.1 345.7 453.7 346.3 454.4 C346.8 455.1 347.3 456.0 347.5 456.9Z" fill="none" stroke="#1a0304" stroke-width="0.45" opacity="0.65"/>
<path d="M346.5 456.7 C346.7 457.4 346.8 458.3 346.7 459.0 C346.5 459.7 346.2 460.5 345.8 461.1 C345.4 461.7 344.9 462.3 344.2 462.6 C343.6 462.9 342.9 463.1 342.2 463.1 C341.5 463.2 340.7 463.0 340.1 462.7 C339.4 462.3 338.8 461.8 338.3 461.2 C337.8 460.6 337.4 459.9 337.2 459.1 C337.0 458.4 337.0 457.5 337.1 456.8 C337.2 456.1 337.5 455.3 337.9 454.7 C338.3 454.1 338.9 453.5 339.5 453.2 C340.1 452.9 340.9 452.7 341.6 452.7 C342.3 452.6 343.1 452.8 343.7 453.1 C344.3 453.5 345.0 454.0 345.5 454.6 C345.9 455.2 346.3 455.9 346.5 456.7Z" fill="none" stroke="#fff" stroke-width="0.75" opacity="0.7"/>
<path d="M345.5 456.5 C345.7 457.1 345.7 457.8 345.6 458.4 C345.5 459.0 345.3 459.7 344.9 460.2 C344.6 460.7 344.1 461.1 343.6 461.4 C343.1 461.7 342.5 461.9 341.9 461.9 C341.3 461.9 340.7 461.7 340.1 461.5 C339.6 461.2 339.1 460.8 338.7 460.3 C338.3 459.8 338.0 459.1 337.8 458.5 C337.6 457.9 337.6 457.2 337.7 456.6 C337.8 456.0 338.0 455.3 338.4 454.8 C338.7 454.3 339.2 453.9 339.7 453.6 C340.2 453.3 340.8 453.1 341.4 453.1 C342.0 453.1 342.6 453.3 343.2 453.5 C343.7 453.8 344.2 454.2 344.6 454.7 C345.0 455.2 345.3 455.9 345.5 456.5Z" fill="none" stroke="#1a0304" stroke-width="0.45" opacity="0.65"/>
<path d="M344.5 456.3 C344.6 456.8 344.7 457.3 344.6 457.8 C344.5 458.3 344.3 458.8 344.1 459.2 C343.8 459.6 343.4 460.0 343.0 460.2 C342.6 460.5 342.1 460.6 341.6 460.6 C341.2 460.6 340.6 460.5 340.2 460.3 C339.8 460.1 339.3 459.7 339.0 459.3 C338.7 458.9 338.5 458.4 338.3 457.9 C338.2 457.4 338.2 456.9 338.2 456.4 C338.3 455.9 338.5 455.4 338.8 455.0 C339.0 454.6 339.4 454.2 339.8 454.0 C340.3 453.7 340.8 453.6 341.2 453.6 C341.7 453.6 342.2 453.7 342.6 453.9 C343.1 454.1 343.5 454.5 343.8 454.9 C344.1 455.3 344.4 455.8 344.5 456.3Z" fill="none" stroke="#fff" stroke-width="0.75" opacity="0.7"/>
<path d="M343.5 456.1 C343.6 456.4 343.6 456.9 343.6 457.2 C343.5 457.6 343.4 458.0 343.2 458.3 C343.0 458.6 342.7 458.9 342.4 459.0 C342.1 459.2 341.7 459.3 341.3 459.3 C341.0 459.3 340.6 459.2 340.3 459.1 C340.0 458.9 339.6 458.7 339.4 458.4 C339.2 458.1 339.0 457.7 338.9 457.3 C338.8 457.0 338.7 456.5 338.8 456.2 C338.9 455.8 339.0 455.4 339.2 455.1 C339.4 454.8 339.7 454.5 340.0 454.4 C340.3 454.2 340.7 454.1 341.0 454.1 C341.4 454.1 341.8 454.2 342.1 454.3 C342.4 454.5 342.7 454.7 343.0 455.0 C343.2 455.3 343.4 455.7 343.5 456.1Z" fill="none" stroke="#1a0304" stroke-width="0.45" opacity="0.65"/>
<ellipse cx="340.5" cy="455.5" rx="1.8" ry="3.2" fill="none" stroke="#f2c0c0" stroke-width="0.6"/>
<ellipse cx="340.5" cy="455.5" rx="1.0" ry="1.8" fill="#fff" stroke="#333" stroke-width="0.6"/>
<path d="M311.8 439.2 C311.8 440.5 311.6 441.8 311.2 443.0 C310.9 444.1 310.3 445.2 309.6 446.0 C309.0 446.8 308.1 447.4 307.3 447.7 C306.5 448.0 305.5 448.0 304.7 447.7 C303.9 447.4 303.0 446.8 302.4 446.0 C301.7 445.2 301.1 444.1 300.8 443.0 C300.4 441.8 300.2 440.5 300.2 439.2 C300.2 437.9 300.4 436.6 300.8 435.4 C301.1 434.3 301.7 433.2 302.4 432.4 C303.0 431.6 303.9 431.0 304.7 430.7 C305.5 430.4 306.5 430.4 307.3 430.7 C308.1 431.0 309.0 431.6 309.6 432.4 C310.3 433.2 310.9 434.3 311.2 435.4 C311.6 436.6 311.8 437.9 311.8 439.2Z" transform="translate(-0.9 0.2)" fill="#1a1a1a" stroke="#1a1a1a" stroke-width="1.4"/>
<path d="M311.8 439.2 C311.8 440.5 311.6 441.8 311.2 443.0 C310.9 444.1 310.3 445.2 309.6 446.0 C309.0 446.8 308.1 447.4 307.3 447.7 C306.5 448.0 305.5 448.0 304.7 447.7 C303.9 447.4 303.0 446.8 302.4 446.0 C301.7 445.2 301.1 444.1 300.8 443.0 C300.4 441.8 300.2 440.5 300.2 439.2 C300.2 437.9 300.4 436.6 300.8 435.4 C301.1 434.3 301.7 433.2 302.4 432.4 C303.0 431.6 303.9 431.0 304.7 430.7 C305.5 430.4 306.5 430.4 307.3 430.7 C308.1 431.0 309.0 431.6 309.6 432.4 C310.3 433.2 310.9 434.3 311.2 435.4 C311.6 436.6 311.8 437.9 311.8 439.2Z" fill="#c4161c"/>
<path d="M311.2 439.2 C311.2 440.3 311.0 441.6 310.7 442.6 C310.4 443.6 309.8 444.6 309.3 445.3 C308.7 446.0 307.9 446.6 307.2 446.8 C306.4 447.1 305.6 447.1 304.8 446.8 C304.1 446.6 303.3 446.0 302.7 445.3 C302.2 444.6 301.6 443.6 301.3 442.6 C301.0 441.6 300.8 440.3 300.8 439.2 C300.8 438.1 301.0 436.8 301.3 435.8 C301.6 434.8 302.2 433.8 302.7 433.1 C303.3 432.4 304.1 431.8 304.8 431.6 C305.6 431.3 306.4 431.3 307.2 431.6 C307.9 431.8 308.7 432.4 309.3 433.1 C309.8 433.8 310.4 434.8 310.7 435.8 C311.0 436.8 311.2 438.1 311.2 439.2Z" fill="none" stroke="#1a0304" stroke-width="0.45" opacity="0.65"/>
<path d="M310.6 439.2 C310.6 440.2 310.5 441.3 310.2 442.2 C309.9 443.1 309.4 444.0 308.9 444.6 C308.4 445.3 307.7 445.8 307.0 446.0 C306.4 446.2 305.6 446.2 305.0 446.0 C304.3 445.8 303.6 445.3 303.1 444.6 C302.6 444.0 302.1 443.1 301.8 442.2 C301.5 441.3 301.4 440.2 301.4 439.2 C301.4 438.2 301.5 437.1 301.8 436.2 C302.1 435.3 302.6 434.4 303.1 433.8 C303.6 433.1 304.3 432.6 305.0 432.4 C305.6 432.2 306.4 432.2 307.0 432.4 C307.7 432.6 308.4 433.1 308.9 433.8 C309.4 434.4 309.9 435.3 310.2 436.2 C310.5 437.1 310.6 438.2 310.6 439.2Z" fill="none" stroke="#fff" stroke-width="0.75" opacity="0.7"/>
<path d="M310.1 439.2 C310.1 440.1 309.9 441.0 309.7 441.8 C309.4 442.6 309.0 443.4 308.5 444.0 C308.1 444.5 307.5 444.9 306.9 445.1 C306.3 445.3 305.7 445.3 305.1 445.1 C304.5 444.9 303.9 444.5 303.5 444.0 C303.0 443.4 302.6 442.6 302.3 441.8 C302.1 441.0 301.9 440.1 301.9 439.2 C301.9 438.3 302.1 437.4 302.3 436.6 C302.6 435.8 303.0 435.0 303.5 434.4 C303.9 433.9 304.5 433.5 305.1 433.3 C305.7 433.1 306.3 433.1 306.9 433.3 C307.5 433.5 308.1 433.9 308.5 434.4 C309.0 435.0 309.4 435.8 309.7 436.6 C309.9 437.4 310.1 438.3 310.1 439.2Z" fill="none" stroke="#1a0304" stroke-width="0.45" opacity="0.65"/>
<path d="M309.5 439.2 C309.5 440.0 309.4 440.8 309.1 441.5 C308.9 442.1 308.6 442.8 308.2 443.3 C307.8 443.8 307.3 444.1 306.8 444.3 C306.3 444.5 305.7 444.5 305.2 444.3 C304.7 444.1 304.2 443.8 303.8 443.3 C303.4 442.8 303.1 442.1 302.9 441.5 C302.6 440.8 302.5 440.0 302.5 439.2 C302.5 438.4 302.6 437.6 302.9 436.9 C303.1 436.3 303.4 435.6 303.8 435.1 C304.2 434.6 304.7 434.3 305.2 434.1 C305.7 433.9 306.3 433.9 306.8 434.1 C307.3 434.3 307.8 434.6 308.2 435.1 C308.6 435.6 308.9 436.3 309.1 436.9 C309.4 437.6 309.5 438.4 309.5 439.2Z" fill="none" stroke="#fff" stroke-width="0.75" opacity="0.7"/>
<path d="M308.9 439.2 C308.9 439.8 308.8 440.5 308.6 441.1 C308.4 441.7 308.1 442.2 307.8 442.6 C307.5 443.0 307.1 443.3 306.6 443.4 C306.2 443.6 305.8 443.6 305.4 443.4 C304.9 443.3 304.5 443.0 304.2 442.6 C303.9 442.2 303.6 441.7 303.4 441.1 C303.2 440.5 303.1 439.8 303.1 439.2 C303.1 438.6 303.2 437.9 303.4 437.3 C303.6 436.7 303.9 436.2 304.2 435.8 C304.5 435.4 304.9 435.1 305.4 435.0 C305.8 434.8 306.2 434.8 306.6 435.0 C307.1 435.1 307.5 435.4 307.8 435.8 C308.1 436.2 308.4 436.7 308.6 437.3 C308.8 437.9 308.9 438.6 308.9 439.2Z" fill="none" stroke="#1a0304" stroke-width="0.45" opacity="0.65"/>
<path d="M308.3 439.2 C308.3 439.7 308.2 440.3 308.1 440.7 C307.9 441.2 307.7 441.6 307.4 441.9 C307.2 442.2 306.8 442.5 306.5 442.6 C306.2 442.7 305.8 442.7 305.5 442.6 C305.2 442.5 304.8 442.2 304.6 441.9 C304.3 441.6 304.1 441.2 303.9 440.7 C303.8 440.3 303.7 439.7 303.7 439.2 C303.7 438.7 303.8 438.1 303.9 437.7 C304.1 437.2 304.3 436.8 304.6 436.5 C304.8 436.2 305.2 435.9 305.5 435.8 C305.8 435.7 306.2 435.7 306.5 435.8 C306.8 435.9 307.2 436.2 307.4 436.5 C307.7 436.8 307.9 437.2 308.1 437.7 C308.2 438.1 308.3 438.7 308.3 439.2Z" fill="none" stroke="#fff" stroke-width="0.75" opacity="0.7"/>
<path d="M307.7 439.2 C307.7 439.6 307.7 440.0 307.6 440.3 C307.5 440.7 307.3 441.0 307.1 441.2 C306.9 441.5 306.6 441.7 306.4 441.7 C306.1 441.8 305.9 441.8 305.6 441.7 C305.4 441.7 305.1 441.5 304.9 441.2 C304.7 441.0 304.5 440.7 304.4 440.3 C304.3 440.0 304.3 439.6 304.3 439.2 C304.3 438.8 304.3 438.4 304.4 438.1 C304.5 437.7 304.7 437.4 304.9 437.2 C305.1 436.9 305.4 436.7 305.6 436.7 C305.9 436.6 306.1 436.6 306.4 436.7 C306.6 436.7 306.9 436.9 307.1 437.2 C307.3 437.4 307.5 437.7 307.6 438.1 C307.7 438.4 307.7 438.8 307.7 439.2Z" fill="none" stroke="#1a0304" stroke-width="0.45" opacity="0.65"/>
<ellipse cx="306.0" cy="439.2" rx="2.7" ry="3.6" fill="none" stroke="#f2c0c0" stroke-width="0.6"/>
<ellipse cx="306.0" cy="439.2" rx="1.5" ry="2.0" fill="#fff" stroke="#333" stroke-width="0.6"/>
<path d="M323.4 444.2 C323.4 445.3 323.2 446.6 322.8 447.6 C322.4 448.7 321.8 449.7 321.1 450.4 C320.4 451.1 319.5 451.6 318.6 451.9 C317.7 452.2 316.7 452.2 315.8 451.9 C314.9 451.6 314.0 451.1 313.3 450.4 C312.6 449.7 312.0 448.7 311.6 447.6 C311.2 446.6 311.0 445.3 311.0 444.2 C311.0 443.1 311.2 441.8 311.6 440.8 C312.0 439.7 312.6 438.7 313.3 438.0 C314.0 437.3 314.9 436.8 315.8 436.5 C316.7 436.2 317.7 436.2 318.6 436.5 C319.5 436.8 320.4 437.3 321.1 438.0 C321.8 438.7 322.4 439.7 322.8 440.8 C323.2 441.8 323.4 443.1 323.4 444.2Z" transform="translate(-0.9 0.2)" fill="#1a1a1a" stroke="#1a1a1a" stroke-width="1.4"/>
<path d="M323.4 444.2 C323.4 445.3 323.2 446.6 322.8 447.6 C322.4 448.7 321.8 449.7 321.1 450.4 C320.4 451.1 319.5 451.6 318.6 451.9 C317.7 452.2 316.7 452.2 315.8 451.9 C314.9 451.6 314.0 451.1 313.3 450.4 C312.6 449.7 312.0 448.7 311.6 447.6 C311.2 446.6 311.0 445.3 311.0 444.2 C311.0 443.1 311.2 441.8 311.6 440.8 C312.0 439.7 312.6 438.7 313.3 438.0 C314.0 437.3 314.9 436.8 315.8 436.5 C316.7 436.2 317.7 436.2 318.6 436.5 C319.5 436.8 320.4 437.3 321.1 438.0 C321.8 438.7 322.4 439.7 322.8 440.8 C323.2 441.8 323.4 443.1 323.4 444.2Z" fill="#c4161c"/>
<path d="M322.8 444.2 C322.8 445.2 322.6 446.4 322.2 447.3 C321.9 448.2 321.3 449.1 320.7 449.8 C320.0 450.4 319.2 450.9 318.4 451.1 C317.7 451.4 316.7 451.4 316.0 451.1 C315.2 450.9 314.4 450.4 313.7 449.8 C313.1 449.1 312.5 448.2 312.2 447.3 C311.8 446.4 311.6 445.2 311.6 444.2 C311.6 443.2 311.8 442.0 312.2 441.1 C312.5 440.2 313.1 439.3 313.7 438.6 C314.4 438.0 315.2 437.5 316.0 437.3 C316.7 437.0 317.7 437.0 318.4 437.3 C319.2 437.5 320.0 438.0 320.7 438.6 C321.3 439.3 321.9 440.2 322.2 441.1 C322.6 442.0 322.8 443.2 322.8 444.2Z" fill="none" stroke="#1a0304" stroke-width="0.45" opacity="0.65"/>
<path d="M322.2 444.2 C322.2 445.1 322.0 446.1 321.7 446.9 C321.4 447.8 320.9 448.6 320.3 449.1 C319.7 449.7 319.0 450.2 318.3 450.4 C317.6 450.6 316.8 450.6 316.1 450.4 C315.4 450.2 314.7 449.7 314.1 449.1 C313.5 448.6 313.0 447.8 312.7 446.9 C312.4 446.1 312.2 445.1 312.2 444.2 C312.2 443.3 312.4 442.3 312.7 441.5 C313.0 440.6 313.5 439.8 314.1 439.3 C314.7 438.7 315.4 438.2 316.1 438.0 C316.8 437.8 317.6 437.8 318.3 438.0 C319.0 438.2 319.7 438.7 320.3 439.3 C320.9 439.8 321.4 440.6 321.7 441.5 C322.0 442.3 322.2 443.3 322.2 444.2Z" fill="none" stroke="#fff" stroke-width="0.75" opacity="0.7"/>
<path d="M321.5 444.2 C321.5 445.0 321.4 445.9 321.1 446.6 C320.8 447.3 320.4 448.0 319.9 448.5 C319.4 449.0 318.8 449.4 318.2 449.6 C317.6 449.8 316.8 449.8 316.2 449.6 C315.6 449.4 315.0 449.0 314.5 448.5 C314.0 448.0 313.6 447.3 313.3 446.6 C313.0 445.9 312.9 445.0 312.9 444.2 C312.9 443.4 313.0 442.5 313.3 441.8 C313.6 441.1 314.0 440.4 314.5 439.9 C315.0 439.4 315.6 439.0 316.2 438.8 C316.8 438.6 317.6 438.6 318.2 438.8 C318.8 439.0 319.4 439.4 319.9 439.9 C320.4 440.4 320.8 441.1 321.1 441.8 C321.4 442.5 321.5 443.4 321.5 444.2Z" fill="none" stroke="#1a0304" stroke-width="0.45" opacity="0.65"/>
<path d="M320.9 444.2 C320.9 444.9 320.8 445.6 320.6 446.3 C320.3 446.9 319.9 447.5 319.5 447.9 C319.1 448.3 318.6 448.7 318.0 448.8 C317.5 449.0 316.9 449.0 316.4 448.8 C315.8 448.7 315.3 448.3 314.9 447.9 C314.5 447.5 314.1 446.9 313.8 446.3 C313.6 445.6 313.5 444.9 313.5 444.2 C313.5 443.5 313.6 442.8 313.8 442.1 C314.1 441.5 314.5 440.9 314.9 440.5 C315.3 440.1 315.8 439.7 316.4 439.6 C316.9 439.4 317.5 439.4 318.0 439.6 C318.6 439.7 319.1 440.1 319.5 440.5 C319.9 440.9 320.3 441.5 320.6 442.1 C320.8 442.8 320.9 443.5 320.9 444.2Z" fill="none" stroke="#fff" stroke-width="0.75" opacity="0.7"/>
<path d="M320.3 444.2 C320.3 444.8 320.2 445.4 320.0 445.9 C319.8 446.4 319.5 446.9 319.1 447.3 C318.8 447.6 318.3 447.9 317.9 448.1 C317.5 448.2 316.9 448.2 316.5 448.1 C316.1 447.9 315.6 447.6 315.3 447.3 C314.9 446.9 314.6 446.4 314.4 445.9 C314.2 445.4 314.1 444.8 314.1 444.2 C314.1 443.6 314.2 443.0 314.4 442.5 C314.6 442.0 314.9 441.5 315.3 441.1 C315.6 440.8 316.1 440.5 316.5 440.3 C316.9 440.2 317.5 440.2 317.9 440.3 C318.3 440.5 318.8 440.8 319.1 441.1 C319.5 441.5 319.8 442.0 320.0 442.5 C320.2 443.0 320.3 443.6 320.3 444.2Z" fill="none" stroke="#1a0304" stroke-width="0.45" opacity="0.65"/>
<path d="M319.7 444.2 C319.7 444.7 319.6 445.2 319.4 445.6 C319.3 446.0 319.0 446.4 318.7 446.7 C318.5 447.0 318.1 447.2 317.8 447.3 C317.4 447.4 317.0 447.4 316.6 447.3 C316.3 447.2 315.9 447.0 315.7 446.7 C315.4 446.4 315.1 446.0 315.0 445.6 C314.8 445.2 314.7 444.7 314.7 444.2 C314.7 443.7 314.8 443.2 315.0 442.8 C315.1 442.4 315.4 442.0 315.7 441.7 C315.9 441.4 316.3 441.2 316.6 441.1 C317.0 441.0 317.4 441.0 317.8 441.1 C318.1 441.2 318.5 441.4 318.7 441.7 C319.0 442.0 319.3 442.4 319.4 442.8 C319.6 443.2 319.7 443.7 319.7 444.2Z" fill="none" stroke="#fff" stroke-width="0.75" opacity="0.7"/>
<path d="M319.1 444.2 C319.1 444.5 319.0 444.9 318.9 445.2 C318.8 445.5 318.6 445.8 318.4 446.1 C318.1 446.3 317.9 446.4 317.6 446.5 C317.4 446.6 317.0 446.6 316.8 446.5 C316.5 446.4 316.3 446.3 316.0 446.1 C315.8 445.8 315.6 445.5 315.5 445.2 C315.4 444.9 315.3 444.5 315.3 444.2 C315.3 443.9 315.4 443.5 315.5 443.2 C315.6 442.9 315.8 442.6 316.0 442.3 C316.3 442.1 316.5 442.0 316.8 441.9 C317.0 441.8 317.4 441.8 317.6 441.9 C317.9 442.0 318.1 442.1 318.4 442.3 C318.6 442.6 318.8 442.9 318.9 443.2 C319.0 443.5 319.1 443.9 319.1 444.2Z" fill="none" stroke="#1a0304" stroke-width="0.45" opacity="0.65"/>
<ellipse cx="317.2" cy="444.2" rx="2.7" ry="3.6" fill="none" stroke="#f2c0c0" stroke-width="0.6"/>
<ellipse cx="317.2" cy="444.2" rx="1.5" ry="2.0" fill="#fff" stroke="#333" stroke-width="0.6"/>
<text x="103.6" y="326.9" font-size="10.8" text-anchor="start" font-weight="normal" fill="#1a1a1a" stroke="#1a1a1a" stroke-width="0.4" textLength="45.9" lengthAdjust="spacingAndGlyphs">A31 Co-Cβ</text>
<text x="104.1" y="343.4" font-size="10.8" text-anchor="start" font-weight="normal" fill="#1a1a1a" stroke="#1a1a1a" stroke-width="0.4" textLength="63.6" lengthAdjust="spacingAndGlyphs">V36 Cγ-G38 Co</text>
<text x="107.4" y="361.2" font-size="10.8" text-anchor="start" font-weight="normal" fill="#1a1a1a" stroke="#1a1a1a" stroke-width="0.4" textLength="43.8" lengthAdjust="spacingAndGlyphs">L34 Co-Cγ</text>
<text x="97.5" y="375.3" font-size="10.8" text-anchor="start" font-weight="normal" fill="#1a1a1a" stroke="#1a1a1a" stroke-width="0.4" textLength="63.6" lengthAdjust="spacingAndGlyphs">V36 Cβ-G38Co</text>
<text x="109.0" y="391.0" font-size="10.8" text-anchor="start" font-weight="normal" fill="#1a1a1a" stroke="#1a1a1a" stroke-width="0.4" textLength="46.3" lengthAdjust="spacingAndGlyphs">V36 Cβ-Co</text>
<text x="164.0" y="380.7" font-size="10.8" text-anchor="start" font-weight="normal" fill="#1a1a1a" stroke="#1a1a1a" stroke-width="0.4" textLength="66.6" lengthAdjust="spacingAndGlyphs">F19 Cδ-L34 Cδa</text>
<text x="30.7" y="407.9" font-size="10.8" text-anchor="start" font-weight="normal" fill="#1a1a1a" stroke="#1a1a1a" stroke-width="0.4" textLength="44.7" lengthAdjust="spacingAndGlyphs">E11 Cδ-Cβ</text>
<text x="31.6" y="423.9" font-size="10.8" text-anchor="start" font-weight="normal" fill="#1a1a1a" stroke="#1a1a1a" stroke-width="0.4" textLength="43.8" lengthAdjust="spacingAndGlyphs">E11 Cα-Cδ</text>
<text x="107.6" y="407.4" font-size="10.8" text-anchor="start" font-weight="normal" fill="#1a1a1a" stroke="#1a1a1a" stroke-width="0.4" textLength="45.8" lengthAdjust="spacingAndGlyphs">G38 Cα-Co</text>
<text x="102.6" y="431.3" font-size="10.8" text-anchor="start" font-weight="normal" fill="#1a1a1a" stroke="#1a1a1a" stroke-width="0.4" textLength="44.8" lengthAdjust="spacingAndGlyphs">L34 Cβ-Co</text>
<text x="106.0" y="444.5" font-size="10.8" text-anchor="start" font-weight="normal" fill="#1a1a1a" stroke="#1a1a1a" stroke-width="0.4" textLength="45.5" lengthAdjust="spacingAndGlyphs">L34 Cα-Co</text>
<text x="108.5" y="467.0" font-size="10.8" text-anchor="start" font-weight="normal" fill="#1a1a1a" stroke="#1a1a1a" stroke-width="0.4" textLength="45.5" lengthAdjust="spacingAndGlyphs">F19 Cα-Co</text>
<text x="38.3" y="483.9" font-size="10.8" text-anchor="start" font-weight="normal" fill="#1a1a1a" stroke="#1a1a1a" stroke-width="0.4" textLength="45.8" lengthAdjust="spacingAndGlyphs">V36 Cα-Co</text>
<text x="92.4" y="483.9" font-size="10.8" text-anchor="start" font-weight="normal" fill="#1a1a1a" stroke="#1a1a1a" stroke-width="0.4" textLength="64.6" lengthAdjust="spacingAndGlyphs">V36 Cα-G38Co</text>
<text x="385.4" y="367.9" font-size="10.8" text-anchor="start" font-weight="normal" fill="#1a1a1a" stroke="#1a1a1a" stroke-width="0.4" textLength="47.1" lengthAdjust="spacingAndGlyphs">V36 Cγ-Cβ</text>
<text x="387.0" y="398.5" font-size="10.8" text-anchor="start" font-weight="normal" fill="#1a1a1a" stroke="#1a1a1a" stroke-width="0.4" textLength="43.8" lengthAdjust="spacingAndGlyphs">L34 Cγ-Cβ</text>
<text x="387.0" y="416.0" font-size="10.8" text-anchor="start" font-weight="normal" fill="#1a1a1a" stroke="#1a1a1a" stroke-width="0.4" textLength="44.7" lengthAdjust="spacingAndGlyphs">A31 Cα-Cβ</text>
<text x="390.3" y="448.6" font-size="10.8" text-anchor="start" font-weight="normal" fill="#1a1a1a" stroke="#1a1a1a" stroke-width="0.4" textLength="42.2" lengthAdjust="spacingAndGlyphs">L34 Cγ-Cα</text>
<text x="270.5" y="468.0" font-size="10.8" text-anchor="start" font-weight="normal" fill="#1a1a1a" stroke="#1a1a1a" stroke-width="0.4" textLength="43.0" lengthAdjust="spacingAndGlyphs">L34 Cα-Cβ</text>
<text x="288.4" y="484.0" font-size="10.8" text-anchor="start" font-weight="normal" fill="#1a1a1a" stroke="#1a1a1a" stroke-width="0.4" textLength="44.0" lengthAdjust="spacingAndGlyphs">F19 Cα-Cβ</text>
<text x="336.8" y="486.3" font-size="10.8" text-anchor="start" font-weight="normal" fill="#1a1a1a" stroke="#1a1a1a" stroke-width="0.4" textLength="45.6" lengthAdjust="spacingAndGlyphs">V36 Cα-Cβ</text>
<text x="383.5" y="481.8" font-size="10.8" text-anchor="start" font-weight="normal" fill="#1a1a1a" stroke="#1a1a1a" stroke-width="0.4" textLength="43.6" lengthAdjust="spacingAndGlyphs">V36 Cα-Cγ</text>
<line x1="82.8" y1="340.6" x2="108.4" y2="330.7" stroke="#1a1a1a" stroke-width="1.3" stroke-linecap="butt"/>
<line x1="92.7" y1="343.9" x2="102.6" y2="341.7" stroke="#1a1a1a" stroke-width="1.3" stroke-linecap="butt"/>
<line x1="82.8" y1="357.4" x2="105.1" y2="359.1" stroke="#1a1a1a" stroke-width="1.3" stroke-linecap="butt"/>
<line x1="93.6" y1="380.2" x2="109.3" y2="377.3" stroke="#1a1a1a" stroke-width="1.3" stroke-linecap="butt"/>
<line x1="85.3" y1="382.7" x2="107.6" y2="387.7" stroke="#1a1a1a" stroke-width="1.3" stroke-linecap="butt"/>
<line x1="190.0" y1="357.1" x2="203.3" y2="367.9" stroke="#1a1a1a" stroke-width="1.3" stroke-linecap="butt"/>
<line x1="46.4" y1="399.1" x2="55.5" y2="390.8" stroke="#1a1a1a" stroke-width="1.3" stroke-linecap="butt"/>
<line x1="50.6" y1="427.2" x2="58.8" y2="441.2" stroke="#1a1a1a" stroke-width="1.3" stroke-linecap="butt"/>
<line x1="92.7" y1="409.0" x2="106.8" y2="404.5" stroke="#1a1a1a" stroke-width="1.3" stroke-linecap="butt"/>
<line x1="87.0" y1="415.6" x2="101.0" y2="424.7" stroke="#1a1a1a" stroke-width="1.3" stroke-linecap="butt"/>
<line x1="81.2" y1="428.0" x2="101.0" y2="438.8" stroke="#1a1a1a" stroke-width="1.3" stroke-linecap="butt"/>
<line x1="85.3" y1="438.0" x2="106.0" y2="458.6" stroke="#1a1a1a" stroke-width="1.3" stroke-linecap="butt"/>
<line x1="79.5" y1="462.7" x2="58.8" y2="474.3" stroke="#1a1a1a" stroke-width="1.3" stroke-linecap="butt"/>
<line x1="383.7" y1="381.0" x2="405.2" y2="371.2" stroke="#1a1a1a" stroke-width="1.3" stroke-linecap="butt"/>
<line x1="365.5" y1="415.5" x2="403.6" y2="400.2" stroke="#1a1a1a" stroke-width="1.3" stroke-linecap="butt"/>
<line x1="377.1" y1="430.4" x2="399.4" y2="419.7" stroke="#1a1a1a" stroke-width="1.3" stroke-linecap="butt"/>
<line x1="386.2" y1="430.4" x2="405.2" y2="420.5" stroke="#1a1a1a" stroke-width="1.3" stroke-linecap="butt"/>
<line x1="365.5" y1="438.7" x2="388.7" y2="442.8" stroke="#1a1a1a" stroke-width="1.3" stroke-linecap="butt"/>
<line x1="368.0" y1="441.2" x2="388.7" y2="446.1" stroke="#1a1a1a" stroke-width="1.3" stroke-linecap="butt"/>
<line x1="293.6" y1="458.6" x2="307.7" y2="438.8" stroke="#1a1a1a" stroke-width="1.3" stroke-linecap="butt"/>
<line x1="316.0" y1="444.5" x2="318.4" y2="476.0" stroke="#1a1a1a" stroke-width="1.3" stroke-linecap="butt"/>
<line x1="339.5" y1="457.6" x2="342.8" y2="476.3" stroke="#1a1a1a" stroke-width="1.3" stroke-linecap="butt"/>
<line x1="342.8" y1="459.8" x2="352.7" y2="476.3" stroke="#1a1a1a" stroke-width="1.3" stroke-linecap="butt"/>
<line x1="346.0" y1="459.8" x2="364.8" y2="477.4" stroke="#1a1a1a" stroke-width="1.3" stroke-linecap="butt"/>
<line x1="382.4" y1="459.8" x2="402.2" y2="473.0" stroke="#1a1a1a" stroke-width="1.3" stroke-linecap="butt"/>
<line x1="92.7" y1="460.2" x2="111.7" y2="474.3" stroke="#555" stroke-width="0.9" stroke-linecap="butt"/>
<rect x="173.5" y="343" width="33.9" height="25.7" fill="none" stroke="#1a1a1a" stroke-width="1.8" stroke-dasharray="2.2 2.2"/>
<text x="504.3" y="17.4" font-size="15" text-anchor="start" font-weight="bold" fill="#1a1a1a">C</text>
<path d="M702.7 44 L499.6 44 L499.6 219.3 L702.7 219.3 Z" fill="none" stroke="#1a1a1a" stroke-width="1.3"/>
<line x1="702.7" y1="57.8" x2="707.2" y2="57.8" stroke="#1a1a1a" stroke-width="1.35" stroke-linecap="butt"/>
<line x1="702.7" y1="81.7" x2="711.7" y2="81.7" stroke="#1a1a1a" stroke-width="1.35" stroke-linecap="butt"/>
<line x1="702.7" y1="103.6" x2="707.2" y2="103.6" stroke="#1a1a1a" stroke-width="1.35" stroke-linecap="butt"/>
<line x1="702.7" y1="125.5" x2="707.2" y2="125.5" stroke="#1a1a1a" stroke-width="1.35" stroke-linecap="butt"/>
<line x1="702.7" y1="147.5" x2="707.2" y2="147.5" stroke="#1a1a1a" stroke-width="1.35" stroke-linecap="butt"/>
<line x1="702.7" y1="169.6" x2="707.2" y2="169.6" stroke="#1a1a1a" stroke-width="1.35" stroke-linecap="butt"/>
<line x1="702.7" y1="192.6" x2="711.7" y2="192.6" stroke="#1a1a1a" stroke-width="1.35" stroke-linecap="butt"/>
<line x1="702.7" y1="215.0" x2="707.2" y2="215.0" stroke="#1a1a1a" stroke-width="1.35" stroke-linecap="butt"/>
<text x="718.0" y="86.5" font-size="12.5" text-anchor="start" font-weight="normal" fill="#1a1a1a" stroke="#1a1a1a" stroke-width="0.35">5</text>
<text x="718.0" y="197.0" font-size="12.5" text-anchor="start" font-weight="normal" fill="#1a1a1a" stroke="#1a1a1a" stroke-width="0.35">0</text>
<line x1="503.7" y1="219.3" x2="503.7" y2="227.8" stroke="#1a1a1a" stroke-width="1.35" stroke-linecap="butt"/>
<line x1="535.1" y1="219.3" x2="535.1" y2="227.8" stroke="#1a1a1a" stroke-width="1.35" stroke-linecap="butt"/>
<line x1="567.6" y1="219.3" x2="567.6" y2="227.8" stroke="#1a1a1a" stroke-width="1.35" stroke-linecap="butt"/>
<line x1="600.0" y1="219.3" x2="600.0" y2="227.8" stroke="#1a1a1a" stroke-width="1.35" stroke-linecap="butt"/>
<line x1="634.4" y1="219.3" x2="634.4" y2="227.8" stroke="#1a1a1a" stroke-width="1.35" stroke-linecap="butt"/>
<line x1="666.1" y1="219.3" x2="666.1" y2="227.8" stroke="#1a1a1a" stroke-width="1.35" stroke-linecap="butt"/>
<line x1="697.5" y1="219.3" x2="697.5" y2="227.8" stroke="#1a1a1a" stroke-width="1.35" stroke-linecap="butt"/>
<text x="535.1" y="246.8" font-size="12.5" text-anchor="middle" font-weight="normal" fill="#1a1a1a" stroke="#1a1a1a" stroke-width="0.35" textLength="20.5" lengthAdjust="spacingAndGlyphs">140</text>
<text x="600.0" y="246.8" font-size="12.5" text-anchor="middle" font-weight="normal" fill="#1a1a1a" stroke="#1a1a1a" stroke-width="0.35" textLength="20.5" lengthAdjust="spacingAndGlyphs">130</text>
<text x="524.3" y="260.0" font-size="10" text-anchor="start" font-weight="normal" fill="#1a1a1a" stroke="#1a1a1a" stroke-width="0.35">13</text>
<text x="536.6" y="266.6" font-size="14" text-anchor="start" font-weight="normal" fill="#1a1a1a" stroke="#1a1a1a" stroke-width="0.35" textLength="147.0" lengthAdjust="spacingAndGlyphs">C Chemical Shift (ppm)</text>
<text x="491.8" y="186.0" font-size="14.2" text-anchor="start" font-weight="normal" fill="#1a1a1a" stroke="#1a1a1a" stroke-width="0.35" textLength="85.5" lengthAdjust="spacingAndGlyphs" transform="rotate(-90 491.8 186.0)">Rel. Intensity</text>
<text x="521.0" y="70.2" font-size="12.5" text-anchor="start" font-weight="normal" fill="#1a1a1a" stroke="#1a1a1a" stroke-width="0.35" textLength="47.0" lengthAdjust="spacingAndGlyphs">L34-F19</text>
<text x="514.8" y="87.1" font-size="12.5" text-anchor="start" font-weight="normal" fill="#1a1a1a" stroke="#1a1a1a" stroke-width="0.35" textLength="63.6" lengthAdjust="spacingAndGlyphs">Cross Peak</text>
<line x1="553.2" y1="94.1" x2="593.9" y2="123.7" stroke="#1a1a1a" stroke-width="2.3" stroke-linecap="butt"/>
<line x1="575.5" y1="94.1" x2="598.3" y2="116.5" stroke="#c4161c" stroke-width="2.3" stroke-linecap="butt"/>
<path d="M498.0 192.2 C498.7 191.9 500.5 190.9 502.0 190.2 C503.5 189.6 505.3 188.6 506.9 188.2 C508.6 187.9 510.2 187.1 511.9 188.2 C513.5 189.4 515.4 195.0 516.9 195.2 C518.3 195.3 519.5 190.4 520.8 189.2 C522.1 188.1 523.3 188.7 524.8 188.2 C526.3 187.7 528.3 185.6 529.8 186.2 C531.2 186.9 532.6 190.2 533.7 192.2 C534.9 194.2 535.9 197.0 536.7 198.2 C537.5 199.3 537.7 199.6 538.7 199.1 C539.7 198.7 541.2 196.8 542.7 195.2 C544.1 193.5 546.1 190.4 547.6 189.2 C549.1 188.1 550.3 188.6 551.6 188.2 C552.9 187.9 554.2 188.4 555.6 187.2 C556.9 186.1 558.2 181.8 559.5 181.3 C560.8 180.8 562.2 183.4 563.5 184.3 C564.8 185.1 566.0 184.9 567.5 186.2 C568.9 187.6 570.9 191.7 572.4 192.2 C573.9 192.7 575.2 189.1 576.4 189.2 C577.5 189.4 578.2 192.7 579.4 193.2 C580.5 193.7 582.0 192.0 583.3 192.2 C584.7 192.4 586.4 194.7 587.3 194.2 C588.2 193.7 587.9 196.3 588.9 189.2 C589.9 182.1 592.0 162.5 593.2 151.5 C594.5 140.5 595.2 130.9 596.5 123.3 C597.8 115.7 599.5 109.7 600.8 106.0 C602.2 102.3 603.5 100.7 604.7 101.0 C606.0 101.4 607.3 104.4 608.4 108.2 C609.6 111.9 610.6 117.9 611.7 123.3 C612.7 128.7 613.8 134.2 614.9 140.7 C616.0 147.2 617.3 156.2 618.2 162.3 C619.1 168.5 619.6 173.5 620.3 177.5 C621.1 181.5 621.4 185.1 622.5 186.2 C623.6 187.2 625.4 183.8 626.8 184.0 C628.3 184.2 629.4 186.2 631.2 187.2 C633.0 188.3 635.5 189.4 637.7 190.5 C639.8 191.6 642.4 192.8 644.2 193.7 C646.0 194.7 647.0 196.3 648.5 196.3 C649.9 196.3 651.0 194.3 652.8 193.7 C654.6 193.1 657.2 193.2 659.3 192.7 C661.5 192.1 663.8 191.9 665.8 190.5 C667.8 189.0 669.6 185.6 671.2 184.0 C672.9 182.4 673.9 181.1 675.6 180.7 C677.2 180.4 679.4 181.6 681.0 181.8 C682.6 182.0 684.1 182.9 685.3 181.8 C686.6 180.7 687.5 177.7 688.6 175.3 C689.7 173.0 690.9 169.3 691.8 167.7 C692.7 166.2 693.1 165.7 694.0 166.2 C694.9 166.8 696.3 168.7 697.2 171.0 C698.1 173.2 698.5 176.2 699.4 179.7 C700.3 183.1 701.9 189.6 702.4 191.6" fill="none" stroke="#c4161c" stroke-width="1.4" stroke-linejoin="round"/>
<path d="M500.0 182.3 C500.5 181.9 502.0 181.6 503.0 180.3 C504.0 179.0 505.1 175.0 505.9 174.3 C506.8 173.7 507.1 174.8 507.9 176.3 C508.7 177.8 509.9 182.6 510.9 183.3 C511.9 183.9 512.9 180.6 513.9 180.3 C514.9 180.0 515.7 181.1 516.9 181.3 C518.0 181.5 519.7 181.6 520.8 181.3 C522.0 181.0 522.6 180.0 523.8 179.3 C525.0 178.6 526.6 177.2 527.8 177.3 C528.9 177.5 529.8 179.6 530.7 180.3 C531.7 181.0 532.6 181.5 533.7 181.3 C534.9 181.1 536.5 179.5 537.7 179.3 C538.8 179.1 539.5 181.0 540.7 180.3 C541.8 179.6 543.5 177.8 544.6 175.3 C545.8 172.9 546.8 167.2 547.6 165.4 C548.4 163.6 548.8 163.9 549.6 164.4 C550.4 164.9 551.6 167.6 552.6 168.4 C553.6 169.2 554.6 168.6 555.6 169.4 C556.5 170.2 557.5 172.9 558.5 173.3 C559.5 173.8 560.3 172.9 561.5 172.4 C562.7 171.9 564.3 170.0 565.5 170.4 C566.6 170.7 567.3 172.5 568.5 174.3 C569.6 176.2 571.1 179.1 572.4 181.3 C573.7 183.4 575.2 186.6 576.4 187.2 C577.5 187.9 578.4 186.4 579.4 185.3 C580.4 184.1 581.3 181.5 582.3 180.3 C583.3 179.1 584.5 180.1 585.3 178.3 C586.1 176.5 586.5 174.9 587.3 169.4 C588.1 163.8 589.0 153.4 590.0 145.0 C591.0 136.6 592.2 125.9 593.2 119.0 C594.3 112.1 595.2 107.6 596.5 103.8 C597.8 100.0 600.0 97.0 601.3 96.2 C602.5 95.5 603.1 96.8 604.1 99.5 C605.1 102.2 606.2 106.7 607.3 112.5 C608.4 118.3 609.5 127.3 610.6 134.2 C611.7 141.0 612.7 148.4 613.8 153.7 C614.9 158.9 616.0 163.2 617.1 165.6 C618.2 167.9 619.1 168.1 620.3 167.7 C621.6 167.4 623.4 163.2 624.7 163.4 C625.9 163.6 626.8 166.5 627.9 168.8 C629.0 171.2 630.1 175.5 631.2 177.5 C632.2 179.5 633.3 181.1 634.4 180.7 C635.5 180.4 636.6 176.9 637.7 175.3 C638.7 173.7 639.8 170.8 640.9 171.0 C642.0 171.2 643.1 174.6 644.2 176.4 C645.2 178.2 646.3 181.1 647.4 181.8 C648.5 182.5 649.6 180.4 650.7 180.7 C651.7 181.1 652.8 182.5 653.9 184.0 C655.0 185.4 656.1 189.2 657.2 189.4 C658.2 189.6 659.3 186.3 660.4 185.1 C661.5 183.8 662.4 181.8 663.7 181.8 C664.9 181.8 666.5 185.2 668.0 185.1 C669.4 184.9 671.1 181.6 672.3 180.7 C673.6 179.8 674.5 179.5 675.6 179.7 C676.7 179.8 677.7 182.0 678.8 181.8 C679.9 181.6 681.0 178.6 682.1 178.6 C683.2 178.6 684.2 180.0 685.3 181.8 C686.4 183.6 687.5 189.8 688.6 189.4 C689.7 189.0 690.7 182.7 691.8 179.7 C692.9 176.6 694.1 173.0 695.1 171.0 C696.0 169.0 696.8 167.6 697.7 167.7 C698.6 167.9 699.7 170.4 700.5 172.1 C701.3 173.7 702.1 176.6 702.4 177.5" fill="none" stroke="#1a1a1a" stroke-width="1.4" stroke-linejoin="round"/>
<text x="503.3" y="292.0" font-size="15" text-anchor="start" font-weight="bold" fill="#1a1a1a">D</text>
<path d="M700.8 313.7 L498.5 313.7 L498.5 492.3 L700.8 492.3 Z" fill="none" stroke="#1a1a1a" stroke-width="1.3"/>
<line x1="700.8" y1="320.9" x2="707.3" y2="320.9" stroke="#1a1a1a" stroke-width="1.35" stroke-linecap="butt"/>
<line x1="700.8" y1="348.0" x2="709.8" y2="348.0" stroke="#1a1a1a" stroke-width="1.35" stroke-linecap="butt"/>
<line x1="700.8" y1="378.6" x2="707.3" y2="378.6" stroke="#1a1a1a" stroke-width="1.35" stroke-linecap="butt"/>
<line x1="700.8" y1="405.3" x2="707.3" y2="405.3" stroke="#1a1a1a" stroke-width="1.35" stroke-linecap="butt"/>
<line x1="700.8" y1="431.6" x2="707.3" y2="431.6" stroke="#1a1a1a" stroke-width="1.35" stroke-linecap="butt"/>
<line x1="700.8" y1="458.0" x2="709.8" y2="458.0" stroke="#1a1a1a" stroke-width="1.35" stroke-linecap="butt"/>
<text x="716.5" y="353.2" font-size="12.5" text-anchor="start" font-weight="normal" fill="#1a1a1a" stroke="#1a1a1a" stroke-width="0.35">5</text>
<text x="716.5" y="462.5" font-size="12.5" text-anchor="start" font-weight="normal" fill="#1a1a1a" stroke="#1a1a1a" stroke-width="0.35">0</text>
<line x1="505.6" y1="492.3" x2="505.6" y2="503.3" stroke="#1a1a1a" stroke-width="1.35" stroke-linecap="butt"/>
<line x1="549.2" y1="492.3" x2="549.2" y2="503.3" stroke="#1a1a1a" stroke-width="1.35" stroke-linecap="butt"/>
<line x1="592.4" y1="492.3" x2="592.4" y2="503.3" stroke="#1a1a1a" stroke-width="1.35" stroke-linecap="butt"/>
<line x1="636.3" y1="492.3" x2="636.3" y2="503.3" stroke="#1a1a1a" stroke-width="1.35" stroke-linecap="butt"/>
<line x1="679.2" y1="492.3" x2="679.2" y2="503.3" stroke="#1a1a1a" stroke-width="1.35" stroke-linecap="butt"/>
<text x="548.8" y="520.0" font-size="12.5" text-anchor="middle" font-weight="normal" fill="#1a1a1a" stroke="#1a1a1a" stroke-width="0.35" textLength="20.5" lengthAdjust="spacingAndGlyphs">130</text>
<text x="636.3" y="520.0" font-size="12.5" text-anchor="middle" font-weight="normal" fill="#1a1a1a" stroke="#1a1a1a" stroke-width="0.35" textLength="20.5" lengthAdjust="spacingAndGlyphs">120</text>
<text x="523.5" y="542.0" font-size="10" text-anchor="start" font-weight="normal" fill="#1a1a1a" stroke="#1a1a1a" stroke-width="0.35">13</text>
<text x="535.5" y="548.5" font-size="14" text-anchor="start" font-weight="normal" fill="#1a1a1a" stroke="#1a1a1a" stroke-width="0.35" textLength="148.0" lengthAdjust="spacingAndGlyphs">C Chemical Shift (ppm)</text>
<text x="491.5" y="458.2" font-size="14.2" text-anchor="start" font-weight="normal" fill="#1a1a1a" stroke="#1a1a1a" stroke-width="0.35" textLength="88.0" lengthAdjust="spacingAndGlyphs" transform="rotate(-90 491.5 458.2)">Rel. Intensity</text>
<text x="598.3" y="370.4" font-size="12.5" text-anchor="start" font-weight="normal" fill="#1a1a1a" stroke="#1a1a1a" stroke-width="0.35" textLength="48.7" lengthAdjust="spacingAndGlyphs">L34-F19</text>
<text x="592.9" y="387.7" font-size="12.5" text-anchor="start" font-weight="normal" fill="#1a1a1a" stroke="#1a1a1a" stroke-width="0.35" textLength="63.8" lengthAdjust="spacingAndGlyphs">Cross Peak</text>
<line x1="553.2" y1="368.6" x2="590.3" y2="368.6" stroke="#1a1a1a" stroke-width="2.3" stroke-linecap="butt"/>
<line x1="590.3" y1="390.2" x2="558.6" y2="431.7" stroke="#c4161c" stroke-width="2.6" stroke-linecap="butt"/>
<path d="M499.0 459.2 C499.5 459.7 501.1 461.9 502.0 462.2 C502.8 462.5 503.1 463.0 504.0 461.2 C504.8 459.4 505.9 454.4 506.9 451.3 C507.9 448.1 508.9 444.3 509.9 442.4 C510.9 440.4 511.9 439.4 512.9 439.4 C513.9 439.4 514.9 441.4 515.9 442.4 C516.9 443.3 517.8 444.5 518.8 445.3 C519.8 446.2 520.8 446.0 521.8 447.3 C522.8 448.6 523.8 451.1 524.8 453.3 C525.8 455.4 526.8 458.7 527.8 460.2 C528.8 461.7 529.8 462.0 530.7 462.2 C531.7 462.4 532.6 461.9 533.7 461.6 C534.9 461.3 536.7 461.3 537.7 460.2 C538.7 459.2 539.0 459.4 539.7 455.3 C540.3 451.1 540.8 444.7 541.7 435.4 C542.5 426.2 543.6 410.3 544.6 399.7 C545.6 389.1 546.7 378.8 547.6 371.9 C548.5 365.0 549.4 358.4 550.2 358.4 C551.0 358.4 551.7 365.0 552.6 371.9 C553.5 378.8 554.6 390.8 555.6 399.7 C556.5 408.6 557.7 419.5 558.5 425.5 C559.4 431.4 559.7 433.1 560.5 435.4 C561.3 437.7 562.5 437.4 563.5 439.4 C564.5 441.4 565.5 444.0 566.5 447.3 C567.5 450.6 568.5 456.2 569.4 459.2 C570.4 462.2 571.4 464.8 572.4 465.2 C573.4 465.5 574.4 463.9 575.4 461.2 C576.4 458.6 577.4 452.1 578.4 449.3 C579.3 446.5 580.1 444.3 581.0 444.3 C581.8 444.3 582.6 446.5 583.3 449.3 C584.1 452.1 584.5 458.1 585.3 461.2 C586.1 464.4 587.3 467.8 588.3 468.2 C589.3 468.5 590.1 465.0 591.3 463.2 C592.4 461.4 594.1 458.6 595.2 457.2 C596.4 455.9 596.9 455.5 598.0 454.9 C599.1 454.4 600.6 453.7 601.6 454.0 C602.7 454.3 603.4 455.5 604.3 456.7 C605.2 457.9 606.2 459.2 607.0 461.3 C607.8 463.4 608.5 469.2 609.2 469.4 C609.9 469.5 610.3 464.3 611.0 462.2 C611.7 460.1 612.7 457.2 613.3 456.7 C614.0 456.3 614.7 458.1 615.2 459.5 C615.6 460.8 615.5 464.3 616.1 464.9 C616.7 465.5 617.6 463.2 618.8 463.1 C620.0 462.9 621.9 464.3 623.3 464.0 C624.6 463.7 625.7 462.6 626.9 461.3 C628.1 459.9 629.1 457.9 630.5 455.8 C631.9 453.7 633.7 450.5 635.0 448.6 C636.4 446.8 637.6 444.6 638.6 444.6 C639.7 444.6 640.6 446.1 641.3 448.6 C642.1 451.1 642.2 456.0 643.1 459.5 C644.0 462.9 645.6 468.5 646.8 469.4 C648.0 470.3 649.2 467.0 650.4 464.9 C651.6 462.8 652.8 458.5 654.0 456.7 C655.2 454.9 656.5 454.2 657.6 454.0 C658.6 453.9 659.4 456.9 660.3 455.8 C661.2 454.8 662.2 449.3 663.0 447.7 C663.8 446.1 664.4 445.7 665.2 446.4 C665.9 447.2 666.7 451.0 667.5 452.2 C668.4 453.5 669.2 455.1 670.2 454.0 C671.3 453.0 672.8 446.8 673.8 445.9 C674.9 445.0 675.6 445.8 676.5 448.6 C677.5 451.5 678.4 460.4 679.3 463.1 C680.2 465.8 680.9 465.2 682.0 464.9 C683.0 464.6 684.4 462.6 685.6 461.3 C686.8 459.9 688.1 457.0 689.2 456.7 C690.2 456.4 691.0 459.2 691.9 459.5 C692.8 459.8 693.8 457.6 694.6 458.5 C695.4 459.5 696.2 465.3 697.0 464.9 C697.7 464.4 698.4 458.4 699.1 455.8 C699.8 453.3 700.9 450.6 701.3 449.5" fill="none" stroke="#1a1a1a" stroke-width="1.4" stroke-linejoin="round"/>
<path d="M498.0 459.2 C498.5 458.9 500.0 457.7 501.0 457.2 C502.0 456.7 503.0 455.9 504.0 456.2 C504.9 456.6 506.1 458.1 506.9 459.2 C507.8 460.4 508.1 463.5 508.9 463.2 C509.7 462.9 510.7 459.2 511.9 457.2 C513.0 455.3 514.7 451.6 515.9 451.3 C517.0 451.0 517.8 453.4 518.8 455.3 C519.8 457.1 520.8 460.9 521.8 462.2 C522.8 463.5 523.8 463.5 524.8 463.2 C525.8 462.9 526.8 461.2 527.8 460.2 C528.8 459.2 529.8 457.4 530.7 457.2 C531.7 457.1 532.7 459.1 533.7 459.2 C534.7 459.4 535.7 458.9 536.7 458.2 C537.7 457.6 538.7 456.7 539.7 455.3 C540.7 453.8 541.7 452.6 542.7 449.3 C543.6 446.0 544.6 439.7 545.6 435.4 C546.6 431.1 547.7 426.0 548.6 423.5 C549.5 421.0 550.4 420.5 551.2 420.5 C552.0 420.5 552.7 421.9 553.6 423.5 C554.5 425.2 555.7 428.8 556.5 430.5 C557.4 432.1 557.7 432.4 558.5 433.4 C559.4 434.4 560.5 435.2 561.5 436.4 C562.5 437.6 563.5 438.6 564.5 440.4 C565.5 442.2 566.5 444.7 567.5 447.3 C568.5 450.0 569.4 454.4 570.4 456.2 C571.4 458.1 572.4 458.1 573.4 458.2 C574.4 458.4 575.4 456.6 576.4 457.2 C577.4 457.9 578.5 462.0 579.4 462.2 C580.2 462.4 580.5 458.7 581.3 458.2 C582.2 457.7 583.3 458.9 584.3 459.2 C585.3 459.6 586.3 460.4 587.3 460.2 C588.3 460.1 589.3 458.2 590.3 458.2 C591.3 458.2 592.1 460.2 593.3 460.2 C594.4 460.2 595.8 458.4 597.2 458.2 C598.6 458.1 600.3 458.9 601.6 459.5 C602.9 460.0 604.0 461.3 605.2 461.3 C606.4 461.3 607.5 459.0 608.8 459.5 C610.2 459.9 612.1 464.4 613.3 464.0 C614.6 463.5 615.0 458.4 616.1 456.7 C617.1 455.1 618.3 455.1 619.7 454.0 C621.0 453.0 623.0 451.3 624.2 450.4 C625.4 449.5 626.0 448.3 626.9 448.6 C627.8 448.9 628.7 449.7 629.6 452.2 C630.5 454.8 631.3 463.4 632.3 464.0 C633.4 464.6 634.7 456.6 635.9 455.8 C637.1 455.1 638.3 458.1 639.5 459.5 C640.7 460.8 641.8 464.7 643.1 464.0 C644.5 463.2 646.5 456.3 647.7 454.9 C648.9 453.6 649.5 454.6 650.4 455.8 C651.3 457.0 652.0 460.8 653.1 462.2 C654.1 463.5 655.5 464.4 656.7 464.0 C657.9 463.5 659.1 459.6 660.3 459.5 C661.5 459.3 662.7 462.6 663.9 463.1 C665.1 463.5 666.5 462.9 667.5 462.2 C668.6 461.4 669.2 458.5 670.2 458.5 C671.3 458.5 672.8 461.0 673.8 462.2 C674.9 463.4 675.6 466.2 676.5 465.8 C677.5 465.3 678.2 459.8 679.3 459.5 C680.3 459.2 681.7 463.8 682.9 464.0 C684.1 464.1 685.3 461.1 686.5 460.4 C687.7 459.6 688.9 459.0 690.1 459.5 C691.3 459.9 692.6 462.0 693.7 463.1 C694.8 464.1 695.5 465.2 696.4 465.8 C697.3 466.3 698.3 466.5 699.1 466.3 C699.9 466.2 700.9 465.1 701.3 464.9" fill="none" stroke="#c4161c" stroke-width="1.4" stroke-linejoin="round"/></svg></body></html>
